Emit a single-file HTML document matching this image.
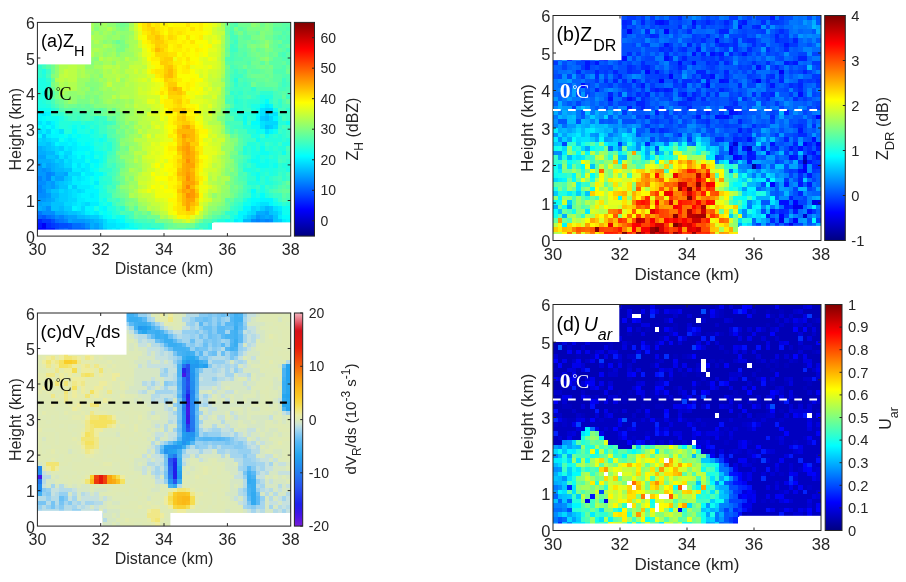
<!DOCTYPE html><html><head><meta charset="utf-8"><style>html,body{margin:0;padding:0;background:#fff;width:906px;height:582px;overflow:hidden}svg{display:block;will-change:transform}</style></head><body>
<svg width="906" height="582" viewBox="0 0 906 582" font-family="Liberation Sans, sans-serif">
<defs><filter id="soft" x="-2%" y="-2%" width="104%" height="104%"><feGaussianBlur stdDeviation="0.55"/></filter></defs>
<rect width="906" height="582" fill="#fff"/>
<g shape-rendering="crispEdges" filter="url(#soft)"><path fill="#0000f6" d="M41.8 223.3H46.1V227.6H41.8z"/>
<path fill="#0001ff" d="M37.4 227.6H46.1V231.8H37.4z"/>
<path fill="#0017ff" d="M37.4 223.3H41.8V227.6H37.4zM46.1 227.6H54.9V231.8H46.1z"/>
<path fill="#0022ff" d="M37.4 219.0H41.8V223.3H37.4z"/>
<path fill="#002cff" d="M46.1 223.3H50.5V227.6H46.1z"/>
<path fill="#0037ff" d="M41.8 219.0H50.5V223.3H41.8zM50.5 223.3H54.9V227.6H50.5z"/>
<path fill="#0042ff" d="M54.9 223.3H59.2V227.6H54.9zM54.9 227.6H59.2V231.8H54.9z"/>
<path fill="#004dff" d="M50.5 219.0H54.9V223.3H50.5zM59.2 223.3H68.0V227.6H59.2zM68.0 227.6H72.3V231.8H68.0z"/>
<path fill="#0057ff" d="M41.8 214.7H46.1V219.0H41.8zM68.0 223.3H72.3V227.6H68.0zM59.2 227.6H63.6V231.8H59.2z"/>
<path fill="#0062ff" d="M37.4 214.7H41.8V219.0H37.4zM63.6 227.6H68.0V231.8H63.6zM72.3 227.6H85.4V231.8H72.3z"/>
<path fill="#006dff" d="M46.1 214.7H50.5V219.0H46.1zM54.9 219.0H59.2V223.3H54.9zM72.3 223.3H81.1V227.6H72.3z"/>
<path fill="#0077ff" d="M37.4 210.5H41.8V214.7H37.4zM50.5 214.7H54.9V219.0H50.5zM59.2 219.0H63.6V223.3H59.2zM81.1 223.3H85.4V227.6H81.1zM85.4 227.6H89.8V231.8H85.4z"/>
<path fill="#0082ff" d="M46.1 172.0H50.5V176.3H46.1zM37.4 176.3H41.8V180.5H37.4zM46.1 176.3H50.5V180.5H46.1zM37.4 184.8H41.8V189.1H37.4zM37.4 189.1H41.8V193.4H37.4zM59.2 214.7H63.6V219.0H59.2zM63.6 219.0H68.0V223.3H63.6zM255.8 219.0H260.1V223.3H255.8zM264.5 219.0H268.9V223.3H264.5z"/>
<path fill="#008dff" d="M41.8 167.7H46.1V172.0H41.8zM50.5 172.0H54.9V176.3H50.5zM37.4 180.5H46.1V184.8H37.4zM41.8 189.1H46.1V193.4H41.8zM37.4 193.4H46.1V197.6H37.4zM46.1 206.2H50.5V210.5H46.1zM41.8 210.5H54.9V214.7H41.8zM54.9 214.7H59.2V219.0H54.9zM251.4 219.0H255.8V223.3H251.4zM260.1 219.0H264.5V223.3H260.1zM268.9 219.0H273.2V223.3H268.9zM85.4 223.3H89.8V227.6H85.4z"/>
<path fill="#0098ff" d="M37.4 163.4H41.8V167.7H37.4zM37.4 167.7H41.8V172.0H37.4zM46.1 167.7H50.5V172.0H46.1zM37.4 172.0H46.1V176.3H37.4zM41.8 176.3H46.1V180.5H41.8zM50.5 180.5H54.9V184.8H50.5zM41.8 184.8H46.1V189.1H41.8zM50.5 184.8H54.9V189.1H50.5zM46.1 193.4H50.5V197.6H46.1zM37.4 197.6H46.1V201.9H37.4zM63.6 214.7H68.0V219.0H63.6zM255.8 214.7H260.1V219.0H255.8zM72.3 219.0H85.4V223.3H72.3zM94.2 227.6H98.5V231.8H94.2z"/>
<path fill="#00a2ff" d="M37.4 154.9H46.1V159.2H37.4zM46.1 163.4H50.5V167.7H46.1zM63.6 172.0H68.0V176.3H63.6zM54.9 176.3H63.6V180.5H54.9zM46.1 180.5H50.5V184.8H46.1zM46.1 184.8H50.5V189.1H46.1zM46.1 197.6H50.5V201.9H46.1zM37.4 201.9H41.8V206.2H37.4zM41.8 206.2H46.1V210.5H41.8zM264.5 210.5H268.9V214.7H264.5zM68.0 214.7H76.7V219.0H68.0zM260.1 214.7H264.5V219.0H260.1zM268.9 214.7H273.2V219.0H268.9zM68.0 219.0H72.3V223.3H68.0zM85.4 219.0H89.8V223.3H85.4zM94.2 223.3H98.5V227.6H94.2zM89.8 227.6H94.2V231.8H89.8z"/>
<path fill="#00adff" d="M37.4 146.3H41.8V150.6H37.4zM37.4 150.6H46.1V154.9H37.4zM37.4 159.2H50.5V163.4H37.4zM50.5 163.4H54.9V167.7H50.5zM50.5 167.7H54.9V172.0H50.5zM54.9 172.0H63.6V176.3H54.9zM54.9 184.8H59.2V189.1H54.9zM46.1 189.1H50.5V193.4H46.1zM50.5 197.6H54.9V201.9H50.5zM41.8 201.9H50.5V206.2H41.8zM37.4 206.2H41.8V210.5H37.4zM54.9 210.5H63.6V214.7H54.9zM255.8 210.5H264.5V214.7H255.8zM264.5 214.7H268.9V219.0H264.5zM89.8 219.0H94.2V223.3H89.8zM89.8 223.3H94.2V227.6H89.8zM98.5 227.6H102.9V231.8H98.5z"/>
<path fill="#00b8ff" d="M41.8 146.3H46.1V150.6H41.8zM46.1 150.6H54.9V154.9H46.1zM54.9 154.9H59.2V159.2H54.9zM50.5 159.2H54.9V163.4H50.5zM41.8 163.4H46.1V167.7H41.8zM54.9 163.4H59.2V167.7H54.9zM54.9 167.7H63.6V172.0H54.9zM50.5 176.3H54.9V180.5H50.5zM54.9 180.5H59.2V184.8H54.9zM50.5 193.4H59.2V197.6H50.5zM59.2 206.2H63.6V210.5H59.2zM264.5 206.2H268.9V210.5H264.5zM63.6 210.5H68.0V214.7H63.6zM76.7 214.7H85.4V219.0H76.7zM251.4 214.7H255.8V219.0H251.4zM94.2 219.0H98.5V223.3H94.2zM242.7 219.0H251.4V223.3H242.7zM98.5 223.3H102.9V227.6H98.5z"/>
<path fill="#00c3ff" d="M264.5 116.4H268.9V120.7H264.5zM264.5 125.0H268.9V129.2H264.5zM41.8 133.5H46.1V137.8H41.8zM46.1 142.1H50.5V146.3H46.1zM46.1 146.3H50.5V150.6H46.1zM46.1 154.9H54.9V159.2H46.1zM59.2 159.2H63.6V163.4H59.2zM59.2 163.4H63.6V167.7H59.2zM63.6 167.7H72.3V172.0H63.6zM63.6 176.3H68.0V180.5H63.6zM59.2 180.5H63.6V184.8H59.2zM59.2 184.8H68.0V189.1H59.2zM50.5 189.1H59.2V193.4H50.5zM54.9 197.6H59.2V201.9H54.9zM50.5 201.9H63.6V206.2H50.5zM50.5 206.2H59.2V210.5H50.5zM268.9 206.2H273.2V210.5H268.9zM68.0 210.5H76.7V214.7H68.0zM268.9 210.5H273.2V214.7H268.9zM85.4 214.7H89.8V219.0H85.4zM273.2 214.7H277.6V219.0H273.2zM98.5 219.0H102.9V223.3H98.5zM273.2 219.0H277.6V223.3H273.2z"/>
<path fill="#00cdff" d="M264.5 112.2H268.9V116.4H264.5zM260.1 116.4H264.5V120.7H260.1zM268.9 125.0H273.2V129.2H268.9zM41.8 137.8H46.1V142.1H41.8zM37.4 142.1H46.1V146.3H37.4zM50.5 146.3H54.9V150.6H50.5zM59.2 146.3H63.6V150.6H59.2zM63.6 154.9H68.0V159.2H63.6zM54.9 159.2H59.2V163.4H54.9zM68.0 176.3H72.3V180.5H68.0zM63.6 180.5H68.0V184.8H63.6zM72.3 184.8H76.7V189.1H72.3zM63.6 189.1H68.0V193.4H63.6zM59.2 193.4H68.0V197.6H59.2zM59.2 197.6H68.0V201.9H59.2zM63.6 206.2H72.3V210.5H63.6zM260.1 206.2H264.5V210.5H260.1zM76.7 210.5H81.1V214.7H76.7zM273.2 210.5H277.6V214.7H273.2zM89.8 214.7H98.5V219.0H89.8zM247.0 214.7H251.4V219.0H247.0zM277.6 219.0H282.0V223.3H277.6zM102.9 227.6H107.3V231.8H102.9z"/>
<path fill="#00d8ff" d="M264.5 107.9H273.2V112.2H264.5zM268.9 116.4H273.2V120.7H268.9zM264.5 120.7H277.6V125.0H264.5zM37.4 129.2H41.8V133.5H37.4zM46.1 129.2H50.5V133.5H46.1zM37.4 137.8H41.8V142.1H37.4zM46.1 137.8H50.5V142.1H46.1zM50.5 142.1H54.9V146.3H50.5zM54.9 146.3H59.2V150.6H54.9zM54.9 150.6H59.2V154.9H54.9zM63.6 150.6H72.3V154.9H63.6zM68.0 159.2H72.3V163.4H68.0zM63.6 163.4H72.3V167.7H63.6zM68.0 172.0H81.1V176.3H68.0zM68.0 180.5H72.3V184.8H68.0zM59.2 189.1H63.6V193.4H59.2zM68.0 189.1H72.3V193.4H68.0zM76.7 189.1H81.1V193.4H76.7zM68.0 193.4H72.3V197.6H68.0zM68.0 197.6H76.7V201.9H68.0zM63.6 201.9H72.3V206.2H63.6zM85.4 201.9H89.8V206.2H85.4zM81.1 206.2H85.4V210.5H81.1zM251.4 206.2H255.8V210.5H251.4zM81.1 210.5H85.4V214.7H81.1zM251.4 210.5H255.8V214.7H251.4zM102.9 219.0H107.3V223.3H102.9zM102.9 223.3H107.3V227.6H102.9z"/>
<path fill="#00e3ff" d="M260.1 107.9H264.5V112.2H260.1zM260.1 112.2H264.5V116.4H260.1zM273.2 112.2H277.6V116.4H273.2zM37.4 120.7H41.8V125.0H37.4zM46.1 120.7H50.5V125.0H46.1zM260.1 120.7H264.5V125.0H260.1zM260.1 125.0H264.5V129.2H260.1zM273.2 125.0H277.6V129.2H273.2zM59.2 129.2H63.6V133.5H59.2zM264.5 129.2H268.9V133.5H264.5zM50.5 137.8H59.2V142.1H50.5zM68.0 146.3H72.3V150.6H68.0zM59.2 154.9H63.6V159.2H59.2zM68.0 154.9H72.3V159.2H68.0zM63.6 159.2H68.0V163.4H63.6zM76.7 163.4H81.1V167.7H76.7zM81.1 167.7H85.4V172.0H81.1zM76.7 176.3H81.1V180.5H76.7zM72.3 189.1H76.7V193.4H72.3zM81.1 189.1H85.4V193.4H81.1zM72.3 193.4H76.7V197.6H72.3zM72.3 201.9H76.7V206.2H72.3zM81.1 201.9H85.4V206.2H81.1zM260.1 201.9H268.9V206.2H260.1zM255.8 206.2H260.1V210.5H255.8zM273.2 206.2H277.6V210.5H273.2zM247.0 210.5H251.4V214.7H247.0zM277.6 210.5H282.0V214.7H277.6zM98.5 214.7H102.9V219.0H98.5zM242.7 214.7H247.0V219.0H242.7zM107.3 223.3H116.0V227.6H107.3zM107.3 227.6H111.6V231.8H107.3zM116.0 227.6H120.4V231.8H116.0z"/>
<path fill="#00eeff" d="M264.5 103.6H268.9V107.9H264.5zM41.8 112.2H46.1V116.4H41.8zM268.9 112.2H273.2V116.4H268.9zM41.8 125.0H46.1V129.2H41.8zM50.5 125.0H54.9V129.2H50.5zM41.8 129.2H46.1V133.5H41.8zM46.1 133.5H50.5V137.8H46.1zM68.0 137.8H72.3V142.1H68.0zM59.2 142.1H68.0V146.3H59.2zM72.3 142.1H76.7V146.3H72.3zM63.6 146.3H68.0V150.6H63.6zM72.3 146.3H76.7V150.6H72.3zM59.2 150.6H63.6V154.9H59.2zM72.3 154.9H76.7V159.2H72.3zM81.1 154.9H85.4V159.2H81.1zM72.3 159.2H85.4V163.4H72.3zM85.4 163.4H89.8V167.7H85.4zM72.3 167.7H81.1V172.0H72.3zM85.4 167.7H89.8V172.0H85.4zM85.4 172.0H94.2V176.3H85.4zM72.3 176.3H76.7V180.5H72.3zM81.1 176.3H85.4V180.5H81.1zM72.3 180.5H81.1V184.8H72.3zM94.2 180.5H98.5V184.8H94.2zM68.0 184.8H72.3V189.1H68.0zM76.7 184.8H89.8V189.1H76.7zM76.7 193.4H81.1V197.6H76.7zM89.8 193.4H94.2V197.6H89.8zM76.7 197.6H85.4V201.9H76.7zM76.7 201.9H81.1V206.2H76.7zM89.8 201.9H98.5V206.2H89.8zM255.8 201.9H260.1V206.2H255.8zM76.7 206.2H81.1V210.5H76.7zM277.6 206.2H282.0V210.5H277.6zM85.4 210.5H89.8V214.7H85.4zM94.2 210.5H98.5V214.7H94.2zM277.6 214.7H282.0V219.0H277.6zM107.3 219.0H116.0V223.3H107.3zM233.9 219.0H238.3V223.3H233.9zM282.0 219.0H286.3V223.3H282.0zM116.0 223.3H124.7V227.6H116.0zM111.6 227.6H116.0V231.8H111.6z"/>
<path fill="#00f8ff" d="M268.9 103.6H273.2V107.9H268.9zM37.4 112.2H41.8V116.4H37.4zM46.1 112.2H50.5V116.4H46.1zM37.4 116.4H41.8V120.7H37.4zM255.8 116.4H260.1V120.7H255.8zM273.2 116.4H277.6V120.7H273.2zM41.8 120.7H46.1V125.0H41.8zM50.5 120.7H54.9V125.0H50.5zM54.9 129.2H59.2V133.5H54.9zM268.9 129.2H273.2V133.5H268.9zM37.4 133.5H41.8V137.8H37.4zM50.5 133.5H59.2V137.8H50.5zM68.0 133.5H72.3V137.8H68.0zM63.6 137.8H68.0V142.1H63.6zM72.3 137.8H76.7V142.1H72.3zM54.9 142.1H59.2V146.3H54.9zM68.0 142.1H72.3V146.3H68.0zM76.7 146.3H89.8V150.6H76.7zM72.3 150.6H76.7V154.9H72.3zM89.8 150.6H94.2V154.9H89.8zM89.8 154.9H94.2V159.2H89.8zM89.8 159.2H98.5V163.4H89.8zM72.3 163.4H76.7V167.7H72.3zM81.1 163.4H85.4V167.7H81.1zM85.4 176.3H89.8V180.5H85.4zM81.1 180.5H89.8V184.8H81.1zM89.8 184.8H94.2V189.1H89.8zM85.4 189.1H98.5V193.4H85.4zM81.1 193.4H89.8V197.6H81.1zM94.2 193.4H98.5V197.6H94.2zM85.4 197.6H98.5V201.9H85.4zM260.1 197.6H273.2V201.9H260.1zM251.4 201.9H255.8V206.2H251.4zM268.9 201.9H273.2V206.2H268.9zM72.3 206.2H76.7V210.5H72.3zM85.4 206.2H94.2V210.5H85.4zM102.9 206.2H107.3V210.5H102.9zM242.7 206.2H251.4V210.5H242.7zM89.8 210.5H94.2V214.7H89.8zM238.3 210.5H247.0V214.7H238.3zM102.9 214.7H107.3V219.0H102.9zM238.3 214.7H242.7V219.0H238.3zM116.0 219.0H120.4V223.3H116.0zM238.3 219.0H242.7V223.3H238.3zM286.3 219.0H290.7V223.3H286.3zM124.7 223.3H129.1V227.6H124.7zM120.4 227.6H124.7V231.8H120.4z"/>
<path fill="#04fffb" d="M264.5 99.3H268.9V103.6H264.5zM260.1 103.6H264.5V107.9H260.1zM255.8 112.2H260.1V116.4H255.8zM41.8 116.4H46.1V120.7H41.8zM251.4 120.7H260.1V125.0H251.4zM37.4 125.0H41.8V129.2H37.4zM46.1 125.0H50.5V129.2H46.1zM50.5 129.2H54.9V133.5H50.5zM72.3 129.2H76.7V133.5H72.3zM59.2 133.5H63.6V137.8H59.2zM76.7 133.5H81.1V137.8H76.7zM76.7 142.1H81.1V146.3H76.7zM85.4 142.1H89.8V146.3H85.4zM89.8 146.3H94.2V150.6H89.8zM76.7 150.6H85.4V154.9H76.7zM76.7 154.9H81.1V159.2H76.7zM85.4 154.9H89.8V159.2H85.4zM94.2 163.4H98.5V167.7H94.2zM89.8 167.7H94.2V172.0H89.8zM81.1 172.0H85.4V176.3H81.1zM94.2 172.0H102.9V176.3H94.2zM94.2 176.3H98.5V180.5H94.2zM251.4 189.1H255.8V193.4H251.4zM260.1 193.4H264.5V197.6H260.1zM251.4 197.6H260.1V201.9H251.4zM98.5 206.2H102.9V210.5H98.5zM102.9 210.5H107.3V214.7H102.9zM107.3 214.7H111.6V219.0H107.3zM282.0 214.7H290.7V219.0H282.0zM120.4 219.0H124.7V223.3H120.4zM129.1 227.6H137.8V231.8H129.1z"/>
<path fill="#0ffff0" d="M41.8 90.8H46.1V95.1H41.8zM37.4 107.9H50.5V112.2H37.4zM255.8 107.9H260.1V112.2H255.8zM273.2 107.9H277.6V112.2H273.2zM46.1 116.4H59.2V120.7H46.1zM242.7 116.4H247.0V120.7H242.7zM54.9 120.7H59.2V125.0H54.9zM242.7 120.7H247.0V125.0H242.7zM286.3 120.7H290.7V125.0H286.3zM54.9 125.0H59.2V129.2H54.9zM72.3 125.0H76.7V129.2H72.3zM81.1 125.0H85.4V129.2H81.1zM251.4 125.0H260.1V129.2H251.4zM89.8 129.2H94.2V133.5H89.8zM255.8 129.2H264.5V133.5H255.8zM273.2 129.2H277.6V133.5H273.2zM63.6 133.5H68.0V137.8H63.6zM72.3 133.5H76.7V137.8H72.3zM81.1 133.5H89.8V137.8H81.1zM264.5 133.5H268.9V137.8H264.5zM59.2 137.8H63.6V142.1H59.2zM76.7 137.8H94.2V142.1H76.7zM98.5 137.8H102.9V142.1H98.5zM255.8 137.8H260.1V142.1H255.8zM81.1 142.1H85.4V146.3H81.1zM89.8 142.1H94.2V146.3H89.8zM260.1 146.3H264.5V150.6H260.1zM85.4 150.6H89.8V154.9H85.4zM94.2 150.6H102.9V154.9H94.2zM260.1 150.6H268.9V154.9H260.1zM282.0 150.6H286.3V154.9H282.0zM98.5 154.9H102.9V159.2H98.5zM255.8 154.9H260.1V159.2H255.8zM85.4 159.2H89.8V163.4H85.4zM98.5 159.2H102.9V163.4H98.5zM251.4 159.2H260.1V163.4H251.4zM264.5 159.2H268.9V163.4H264.5zM89.8 163.4H94.2V167.7H89.8zM255.8 163.4H268.9V167.7H255.8zM273.2 163.4H277.6V167.7H273.2zM94.2 167.7H98.5V172.0H94.2zM255.8 172.0H260.1V176.3H255.8zM89.8 176.3H94.2V180.5H89.8zM255.8 176.3H260.1V180.5H255.8zM89.8 180.5H94.2V184.8H89.8zM94.2 184.8H98.5V189.1H94.2zM251.4 193.4H255.8V197.6H251.4zM102.9 197.6H107.3V201.9H102.9zM247.0 197.6H251.4V201.9H247.0zM98.5 201.9H102.9V206.2H98.5zM107.3 201.9H111.6V206.2H107.3zM242.7 201.9H251.4V206.2H242.7zM273.2 201.9H277.6V206.2H273.2zM282.0 206.2H290.7V210.5H282.0zM98.5 210.5H102.9V214.7H98.5zM107.3 210.5H111.6V214.7H107.3zM282.0 210.5H290.7V214.7H282.0zM116.0 214.7H124.7V219.0H116.0zM233.9 214.7H238.3V219.0H233.9zM225.2 219.0H229.6V223.3H225.2zM129.1 223.3H133.5V227.6H129.1zM124.7 227.6H129.1V231.8H124.7zM150.9 227.6H155.3V231.8H150.9z"/>
<path fill="#1affe5" d="M41.8 69.4H46.1V73.7H41.8zM37.4 78.0H46.1V82.2H37.4zM37.4 82.2H46.1V86.5H37.4zM37.4 86.5H46.1V90.8H37.4zM41.8 95.1H46.1V99.3H41.8zM260.1 95.1H264.5V99.3H260.1zM37.4 99.3H41.8V103.6H37.4zM260.1 99.3H264.5V103.6H260.1zM37.4 103.6H46.1V107.9H37.4zM251.4 103.6H260.1V107.9H251.4zM242.7 112.2H247.0V116.4H242.7zM59.2 116.4H63.6V120.7H59.2zM72.3 120.7H81.1V125.0H72.3zM68.0 125.0H72.3V129.2H68.0zM76.7 125.0H81.1V129.2H76.7zM85.4 125.0H89.8V129.2H85.4zM76.7 129.2H85.4V133.5H76.7zM89.8 133.5H94.2V137.8H89.8zM102.9 133.5H107.3V137.8H102.9zM251.4 133.5H260.1V137.8H251.4zM94.2 137.8H98.5V142.1H94.2zM102.9 137.8H107.3V142.1H102.9zM98.5 142.1H102.9V146.3H98.5zM260.1 142.1H264.5V146.3H260.1zM282.0 142.1H290.7V146.3H282.0zM94.2 146.3H98.5V150.6H94.2zM251.4 146.3H255.8V150.6H251.4zM102.9 150.6H107.3V154.9H102.9zM251.4 150.6H260.1V154.9H251.4zM268.9 150.6H273.2V154.9H268.9zM94.2 154.9H98.5V159.2H94.2zM251.4 154.9H255.8V159.2H251.4zM264.5 154.9H268.9V159.2H264.5zM260.1 159.2H264.5V163.4H260.1zM268.9 159.2H277.6V163.4H268.9zM98.5 163.4H102.9V167.7H98.5zM268.9 163.4H273.2V167.7H268.9zM247.0 167.7H251.4V172.0H247.0zM260.1 167.7H264.5V172.0H260.1zM268.9 167.7H273.2V172.0H268.9zM286.3 167.7H290.7V172.0H286.3zM102.9 172.0H107.3V176.3H102.9zM251.4 172.0H255.8V176.3H251.4zM268.9 172.0H273.2V176.3H268.9zM264.5 176.3H268.9V180.5H264.5zM255.8 180.5H260.1V184.8H255.8zM264.5 180.5H268.9V184.8H264.5zM98.5 184.8H102.9V189.1H98.5zM260.1 184.8H264.5V189.1H260.1zM98.5 189.1H102.9V193.4H98.5zM260.1 189.1H264.5V193.4H260.1zM255.8 193.4H260.1V197.6H255.8zM98.5 197.6H102.9V201.9H98.5zM273.2 197.6H277.6V201.9H273.2zM102.9 201.9H107.3V206.2H102.9zM277.6 201.9H282.0V206.2H277.6zM94.2 206.2H98.5V210.5H94.2zM107.3 206.2H111.6V210.5H107.3zM111.6 214.7H116.0V219.0H111.6zM229.6 219.0H233.9V223.3H229.6zM133.5 223.3H137.8V227.6H133.5zM146.6 227.6H150.9V231.8H146.6zM207.7 227.6H212.1V231.8H207.7z"/>
<path fill="#24ffdb" d="M41.8 60.9H46.1V65.1H41.8zM41.8 73.7H46.1V78.0H41.8zM233.9 78.0H238.3V82.2H233.9zM46.1 82.2H50.5V86.5H46.1zM37.4 90.8H41.8V95.1H37.4zM37.4 95.1H41.8V99.3H37.4zM264.5 95.1H273.2V99.3H264.5zM41.8 99.3H46.1V103.6H41.8zM233.9 99.3H238.3V103.6H233.9zM46.1 103.6H50.5V107.9H46.1zM50.5 107.9H54.9V112.2H50.5zM233.9 107.9H238.3V112.2H233.9zM251.4 107.9H255.8V112.2H251.4zM238.3 112.2H242.7V116.4H238.3zM247.0 112.2H255.8V116.4H247.0zM251.4 116.4H255.8V120.7H251.4zM277.6 116.4H282.0V120.7H277.6zM59.2 120.7H72.3V125.0H59.2zM85.4 120.7H94.2V125.0H85.4zM277.6 120.7H286.3V125.0H277.6zM59.2 125.0H68.0V129.2H59.2zM94.2 125.0H98.5V129.2H94.2zM242.7 125.0H251.4V129.2H242.7zM63.6 129.2H72.3V133.5H63.6zM85.4 129.2H89.8V133.5H85.4zM94.2 129.2H98.5V133.5H94.2zM247.0 129.2H255.8V133.5H247.0zM94.2 133.5H98.5V137.8H94.2zM268.9 133.5H273.2V137.8H268.9zM277.6 133.5H282.0V137.8H277.6zM260.1 137.8H282.0V142.1H260.1zM286.3 137.8H290.7V142.1H286.3zM94.2 142.1H98.5V146.3H94.2zM107.3 142.1H111.6V146.3H107.3zM247.0 142.1H255.8V146.3H247.0zM273.2 142.1H277.6V146.3H273.2zM98.5 146.3H102.9V150.6H98.5zM107.3 146.3H111.6V150.6H107.3zM242.7 146.3H247.0V150.6H242.7zM268.9 146.3H273.2V150.6H268.9zM277.6 146.3H286.3V150.6H277.6zM242.7 150.6H247.0V154.9H242.7zM273.2 150.6H277.6V154.9H273.2zM102.9 154.9H107.3V159.2H102.9zM260.1 154.9H264.5V159.2H260.1zM273.2 154.9H277.6V159.2H273.2zM102.9 159.2H107.3V163.4H102.9zM247.0 159.2H251.4V163.4H247.0zM251.4 163.4H255.8V167.7H251.4zM282.0 163.4H290.7V167.7H282.0zM242.7 167.7H247.0V172.0H242.7zM251.4 167.7H255.8V172.0H251.4zM264.5 167.7H268.9V172.0H264.5zM273.2 167.7H277.6V172.0H273.2zM260.1 172.0H264.5V176.3H260.1zM273.2 172.0H277.6V176.3H273.2zM98.5 176.3H102.9V180.5H98.5zM98.5 180.5H107.3V184.8H98.5zM247.0 180.5H255.8V184.8H247.0zM268.9 180.5H273.2V184.8H268.9zM102.9 189.1H107.3V193.4H102.9zM98.5 193.4H107.3V197.6H98.5zM264.5 193.4H268.9V197.6H264.5zM242.7 197.6H247.0V201.9H242.7zM286.3 201.9H290.7V206.2H286.3zM111.6 206.2H116.0V210.5H111.6zM238.3 206.2H242.7V210.5H238.3zM111.6 210.5H116.0V214.7H111.6zM229.6 210.5H233.9V214.7H229.6zM229.6 214.7H233.9V219.0H229.6zM124.7 219.0H133.5V223.3H124.7zM216.5 219.0H225.2V223.3H216.5zM137.8 223.3H142.2V227.6H137.8zM207.7 223.3H212.1V227.6H207.7zM137.8 227.6H142.2V231.8H137.8zM155.3 227.6H159.7V231.8H155.3z"/>
<path fill="#2fffd0" d="M41.8 56.6H46.1V60.9H41.8zM37.4 60.9H41.8V65.1H37.4zM37.4 65.1H41.8V69.4H37.4zM37.4 69.4H41.8V73.7H37.4zM37.4 73.7H41.8V78.0H37.4zM46.1 78.0H50.5V82.2H46.1zM233.9 82.2H238.3V86.5H233.9zM251.4 86.5H255.8V90.8H251.4zM229.6 90.8H233.9V95.1H229.6zM238.3 90.8H242.7V95.1H238.3zM260.1 90.8H273.2V95.1H260.1zM46.1 95.1H50.5V99.3H46.1zM233.9 95.1H238.3V99.3H233.9zM255.8 95.1H260.1V99.3H255.8zM46.1 99.3H50.5V103.6H46.1zM238.3 99.3H242.7V103.6H238.3zM247.0 99.3H260.1V103.6H247.0zM268.9 99.3H273.2V103.6H268.9zM277.6 99.3H282.0V103.6H277.6zM233.9 103.6H242.7V107.9H233.9zM247.0 103.6H251.4V107.9H247.0zM277.6 103.6H282.0V107.9H277.6zM54.9 107.9H59.2V112.2H54.9zM229.6 107.9H233.9V112.2H229.6zM238.3 107.9H242.7V112.2H238.3zM286.3 107.9H290.7V112.2H286.3zM50.5 112.2H63.6V116.4H50.5zM63.6 116.4H68.0V120.7H63.6zM94.2 116.4H98.5V120.7H94.2zM233.9 116.4H242.7V120.7H233.9zM247.0 116.4H251.4V120.7H247.0zM81.1 120.7H85.4V125.0H81.1zM94.2 120.7H98.5V125.0H94.2zM102.9 120.7H107.3V125.0H102.9zM89.8 125.0H94.2V129.2H89.8zM277.6 125.0H282.0V129.2H277.6zM282.0 129.2H286.3V133.5H282.0zM98.5 133.5H102.9V137.8H98.5zM273.2 133.5H277.6V137.8H273.2zM282.0 133.5H286.3V137.8H282.0zM282.0 137.8H286.3V142.1H282.0zM102.9 142.1H107.3V146.3H102.9zM255.8 142.1H260.1V146.3H255.8zM268.9 142.1H273.2V146.3H268.9zM102.9 146.3H107.3V150.6H102.9zM247.0 146.3H251.4V150.6H247.0zM255.8 146.3H260.1V150.6H255.8zM264.5 146.3H268.9V150.6H264.5zM273.2 146.3H277.6V150.6H273.2zM247.0 150.6H251.4V154.9H247.0zM277.6 150.6H282.0V154.9H277.6zM268.9 154.9H273.2V159.2H268.9zM286.3 159.2H290.7V163.4H286.3zM102.9 163.4H107.3V167.7H102.9zM242.7 163.4H247.0V167.7H242.7zM277.6 163.4H282.0V167.7H277.6zM98.5 167.7H111.6V172.0H98.5zM255.8 167.7H260.1V172.0H255.8zM277.6 167.7H286.3V172.0H277.6zM247.0 172.0H251.4V176.3H247.0zM264.5 172.0H268.9V176.3H264.5zM282.0 172.0H286.3V176.3H282.0zM102.9 176.3H111.6V180.5H102.9zM247.0 176.3H255.8V180.5H247.0zM260.1 176.3H264.5V180.5H260.1zM268.9 176.3H273.2V180.5H268.9zM282.0 176.3H286.3V180.5H282.0zM107.3 180.5H111.6V184.8H107.3zM260.1 180.5H264.5V184.8H260.1zM273.2 180.5H277.6V184.8H273.2zM102.9 184.8H107.3V189.1H102.9zM251.4 184.8H255.8V189.1H251.4zM268.9 184.8H273.2V189.1H268.9zM247.0 189.1H251.4V193.4H247.0zM255.8 189.1H260.1V193.4H255.8zM264.5 189.1H268.9V193.4H264.5zM107.3 193.4H111.6V197.6H107.3zM268.9 193.4H273.2V197.6H268.9zM238.3 201.9H242.7V206.2H238.3zM282.0 201.9H286.3V206.2H282.0zM120.4 206.2H124.7V210.5H120.4zM233.9 206.2H238.3V210.5H233.9zM116.0 210.5H120.4V214.7H116.0zM225.2 210.5H229.6V214.7H225.2zM233.9 210.5H238.3V214.7H233.9zM124.7 214.7H129.1V219.0H124.7zM142.2 223.3H150.9V227.6H142.2zM142.2 227.6H146.6V231.8H142.2zM194.6 227.6H199.0V231.8H194.6zM203.4 227.6H207.7V231.8H203.4z"/>
<path fill="#3affc5" d="M41.8 35.2H46.1V39.5H41.8zM233.9 39.5H238.3V43.8H233.9zM37.4 43.8H41.8V48.0H37.4zM229.6 43.8H233.9V48.0H229.6zM229.6 48.0H238.3V52.3H229.6zM37.4 52.3H41.8V56.6H37.4zM46.1 69.4H50.5V73.7H46.1zM233.9 69.4H238.3V73.7H233.9zM233.9 73.7H242.7V78.0H233.9zM282.0 78.0H286.3V82.2H282.0zM242.7 82.2H247.0V86.5H242.7zM282.0 82.2H286.3V86.5H282.0zM233.9 86.5H242.7V90.8H233.9zM233.9 90.8H238.3V95.1H233.9zM247.0 90.8H255.8V95.1H247.0zM238.3 95.1H242.7V99.3H238.3zM251.4 95.1H255.8V99.3H251.4zM286.3 95.1H290.7V99.3H286.3zM242.7 99.3H247.0V103.6H242.7zM50.5 103.6H54.9V107.9H50.5zM242.7 103.6H247.0V107.9H242.7zM273.2 103.6H277.6V107.9H273.2zM242.7 107.9H251.4V112.2H242.7zM229.6 112.2H238.3V116.4H229.6zM277.6 112.2H290.7V116.4H277.6zM68.0 116.4H72.3V120.7H68.0zM76.7 116.4H81.1V120.7H76.7zM98.5 116.4H107.3V120.7H98.5zM286.3 116.4H290.7V120.7H286.3zM98.5 120.7H102.9V125.0H98.5zM107.3 120.7H111.6V125.0H107.3zM247.0 120.7H251.4V125.0H247.0zM98.5 125.0H107.3V129.2H98.5zM233.9 125.0H242.7V129.2H233.9zM286.3 125.0H290.7V129.2H286.3zM98.5 129.2H107.3V133.5H98.5zM277.6 129.2H282.0V133.5H277.6zM286.3 129.2H290.7V133.5H286.3zM260.1 133.5H264.5V137.8H260.1zM286.3 133.5H290.7V137.8H286.3zM107.3 137.8H111.6V142.1H107.3zM247.0 137.8H255.8V142.1H247.0zM264.5 142.1H268.9V146.3H264.5zM277.6 142.1H282.0V146.3H277.6zM107.3 150.6H111.6V154.9H107.3zM286.3 150.6H290.7V154.9H286.3zM247.0 154.9H251.4V159.2H247.0zM277.6 154.9H290.7V159.2H277.6zM242.7 159.2H247.0V163.4H242.7zM282.0 159.2H286.3V163.4H282.0zM111.6 163.4H116.0V167.7H111.6zM247.0 163.4H251.4V167.7H247.0zM107.3 172.0H111.6V176.3H107.3zM277.6 172.0H282.0V176.3H277.6zM273.2 176.3H277.6V180.5H273.2zM286.3 176.3H290.7V180.5H286.3zM277.6 180.5H282.0V184.8H277.6zM111.6 184.8H116.0V189.1H111.6zM247.0 184.8H251.4V189.1H247.0zM255.8 184.8H260.1V189.1H255.8zM264.5 184.8H268.9V189.1H264.5zM273.2 184.8H277.6V189.1H273.2zM242.7 193.4H251.4V197.6H242.7zM273.2 193.4H282.0V197.6H273.2zM107.3 197.6H111.6V201.9H107.3zM116.0 197.6H120.4V201.9H116.0zM277.6 197.6H282.0V201.9H277.6zM111.6 201.9H116.0V206.2H111.6zM233.9 201.9H238.3V206.2H233.9zM116.0 206.2H120.4V210.5H116.0zM229.6 206.2H233.9V210.5H229.6zM220.8 214.7H225.2V219.0H220.8zM133.5 219.0H137.8V223.3H133.5zM212.1 219.0H216.5V223.3H212.1zM150.9 223.3H164.0V227.6H150.9zM199.0 223.3H207.7V227.6H199.0zM159.7 227.6H164.0V231.8H159.7z"/>
<path fill="#44ffbb" d="M41.8 26.7H46.1V30.9H41.8zM41.8 30.9H46.1V35.2H41.8zM229.6 30.9H233.9V35.2H229.6zM37.4 35.2H41.8V39.5H37.4zM229.6 35.2H238.3V39.5H229.6zM233.9 43.8H238.3V48.0H233.9zM41.8 48.0H46.1V52.3H41.8zM286.3 48.0H290.7V52.3H286.3zM229.6 52.3H233.9V56.6H229.6zM282.0 52.3H286.3V56.6H282.0zM37.4 56.6H41.8V60.9H37.4zM46.1 56.6H50.5V60.9H46.1zM229.6 56.6H233.9V60.9H229.6zM41.8 65.1H46.1V69.4H41.8zM229.6 65.1H233.9V69.4H229.6zM242.7 69.4H247.0V73.7H242.7zM46.1 73.7H50.5V78.0H46.1zM229.6 73.7H233.9V78.0H229.6zM229.6 78.0H233.9V82.2H229.6zM242.7 78.0H247.0V82.2H242.7zM238.3 82.2H242.7V86.5H238.3zM247.0 82.2H251.4V86.5H247.0zM286.3 82.2H290.7V86.5H286.3zM46.1 86.5H50.5V90.8H46.1zM229.6 86.5H233.9V90.8H229.6zM242.7 86.5H251.4V90.8H242.7zM277.6 86.5H286.3V90.8H277.6zM46.1 90.8H50.5V95.1H46.1zM242.7 90.8H247.0V95.1H242.7zM255.8 90.8H260.1V95.1H255.8zM273.2 90.8H277.6V95.1H273.2zM229.6 95.1H233.9V99.3H229.6zM242.7 95.1H247.0V99.3H242.7zM273.2 95.1H282.0V99.3H273.2zM50.5 99.3H54.9V103.6H50.5zM225.2 99.3H233.9V103.6H225.2zM273.2 99.3H277.6V103.6H273.2zM282.0 103.6H290.7V107.9H282.0zM277.6 107.9H286.3V112.2H277.6zM63.6 112.2H68.0V116.4H63.6zM72.3 112.2H85.4V116.4H72.3zM72.3 116.4H76.7V120.7H72.3zM81.1 116.4H85.4V120.7H81.1zM89.8 116.4H94.2V120.7H89.8zM282.0 116.4H286.3V120.7H282.0zM111.6 120.7H116.0V125.0H111.6zM225.2 120.7H242.7V125.0H225.2zM229.6 125.0H233.9V129.2H229.6zM282.0 125.0H286.3V129.2H282.0zM229.6 129.2H233.9V133.5H229.6zM238.3 129.2H247.0V133.5H238.3zM242.7 133.5H251.4V137.8H242.7zM111.6 137.8H116.0V142.1H111.6zM242.7 137.8H247.0V142.1H242.7zM111.6 142.1H116.0V146.3H111.6zM242.7 142.1H247.0V146.3H242.7zM111.6 146.3H116.0V150.6H111.6zM286.3 146.3H290.7V150.6H286.3zM111.6 150.6H116.0V154.9H111.6zM238.3 150.6H242.7V154.9H238.3zM107.3 154.9H111.6V159.2H107.3zM242.7 154.9H247.0V159.2H242.7zM277.6 159.2H282.0V163.4H277.6zM107.3 163.4H111.6V167.7H107.3zM238.3 163.4H242.7V167.7H238.3zM111.6 167.7H116.0V172.0H111.6zM111.6 172.0H116.0V176.3H111.6zM238.3 172.0H242.7V176.3H238.3zM286.3 172.0H290.7V176.3H286.3zM242.7 176.3H247.0V180.5H242.7zM277.6 176.3H282.0V180.5H277.6zM111.6 180.5H116.0V184.8H111.6zM107.3 184.8H111.6V189.1H107.3zM242.7 184.8H247.0V189.1H242.7zM107.3 189.1H111.6V193.4H107.3zM242.7 189.1H247.0V193.4H242.7zM268.9 189.1H273.2V193.4H268.9zM111.6 197.6H116.0V201.9H111.6zM233.9 197.6H242.7V201.9H233.9zM286.3 197.6H290.7V201.9H286.3zM124.7 210.5H133.5V214.7H124.7zM129.1 214.7H133.5V219.0H129.1zM225.2 214.7H229.6V219.0H225.2zM137.8 219.0H146.6V223.3H137.8zM150.9 219.0H155.3V223.3H150.9zM185.9 227.6H194.6V231.8H185.9z"/>
<path fill="#4fffb0" d="M37.4 22.4H50.5V26.7H37.4zM233.9 22.4H238.3V26.7H233.9zM229.6 26.7H233.9V30.9H229.6zM286.3 26.7H290.7V30.9H286.3zM37.4 30.9H41.8V35.2H37.4zM282.0 30.9H286.3V35.2H282.0zM277.6 35.2H282.0V39.5H277.6zM286.3 35.2H290.7V39.5H286.3zM37.4 39.5H46.1V43.8H37.4zM229.6 39.5H233.9V43.8H229.6zM282.0 39.5H290.7V43.8H282.0zM277.6 43.8H282.0V48.0H277.6zM46.1 48.0H50.5V52.3H46.1zM41.8 52.3H46.1V56.6H41.8zM233.9 52.3H238.3V56.6H233.9zM242.7 52.3H247.0V56.6H242.7zM277.6 52.3H282.0V56.6H277.6zM225.2 56.6H229.6V60.9H225.2zM233.9 56.6H242.7V60.9H233.9zM282.0 56.6H290.7V60.9H282.0zM46.1 60.9H50.5V65.1H46.1zM229.6 60.9H233.9V65.1H229.6zM247.0 60.9H251.4V65.1H247.0zM286.3 60.9H290.7V65.1H286.3zM233.9 65.1H238.3V69.4H233.9zM282.0 65.1H286.3V69.4H282.0zM229.6 69.4H233.9V73.7H229.6zM238.3 69.4H242.7V73.7H238.3zM273.2 69.4H286.3V73.7H273.2zM242.7 73.7H247.0V78.0H242.7zM282.0 73.7H290.7V78.0H282.0zM238.3 78.0H242.7V82.2H238.3zM247.0 78.0H251.4V82.2H247.0zM286.3 78.0H290.7V82.2H286.3zM229.6 82.2H233.9V86.5H229.6zM277.6 82.2H282.0V86.5H277.6zM255.8 86.5H273.2V90.8H255.8zM286.3 86.5H290.7V90.8H286.3zM50.5 90.8H54.9V95.1H50.5zM277.6 90.8H282.0V95.1H277.6zM286.3 90.8H290.7V95.1H286.3zM225.2 95.1H229.6V99.3H225.2zM247.0 95.1H251.4V99.3H247.0zM282.0 99.3H286.3V103.6H282.0zM54.9 103.6H59.2V107.9H54.9zM229.6 103.6H233.9V107.9H229.6zM59.2 107.9H63.6V112.2H59.2zM72.3 107.9H76.7V112.2H72.3zM225.2 107.9H229.6V112.2H225.2zM68.0 112.2H72.3V116.4H68.0zM85.4 112.2H89.8V116.4H85.4zM85.4 116.4H89.8V120.7H85.4zM107.3 129.2H116.0V133.5H107.3zM107.3 133.5H111.6V137.8H107.3zM238.3 133.5H242.7V137.8H238.3zM111.6 154.9H116.0V159.2H111.6zM107.3 159.2H116.0V163.4H107.3zM238.3 159.2H242.7V163.4H238.3zM116.0 167.7H120.4V172.0H116.0zM238.3 167.7H242.7V172.0H238.3zM242.7 172.0H247.0V176.3H242.7zM111.6 176.3H116.0V180.5H111.6zM238.3 176.3H242.7V180.5H238.3zM116.0 180.5H120.4V184.8H116.0zM242.7 180.5H247.0V184.8H242.7zM282.0 180.5H286.3V184.8H282.0zM277.6 184.8H282.0V189.1H277.6zM286.3 184.8H290.7V189.1H286.3zM111.6 189.1H116.0V193.4H111.6zM273.2 189.1H277.6V193.4H273.2zM238.3 193.4H242.7V197.6H238.3zM286.3 193.4H290.7V197.6H286.3zM282.0 197.6H286.3V201.9H282.0zM116.0 201.9H120.4V206.2H116.0zM229.6 201.9H233.9V206.2H229.6zM120.4 210.5H124.7V214.7H120.4zM216.5 214.7H220.8V219.0H216.5zM146.6 219.0H150.9V223.3H146.6zM203.4 219.0H212.1V223.3H203.4zM194.6 223.3H199.0V227.6H194.6zM164.0 227.6H168.4V231.8H164.0zM199.0 227.6H203.4V231.8H199.0z"/>
<path fill="#5affa5" d="M50.5 22.4H54.9V26.7H50.5zM229.6 22.4H233.9V26.7H229.6zM282.0 22.4H290.7V26.7H282.0zM37.4 26.7H41.8V30.9H37.4zM46.1 26.7H54.9V30.9H46.1zM238.3 26.7H242.7V30.9H238.3zM273.2 26.7H286.3V30.9H273.2zM242.7 30.9H247.0V35.2H242.7zM286.3 30.9H290.7V35.2H286.3zM242.7 35.2H251.4V39.5H242.7zM273.2 35.2H277.6V39.5H273.2zM282.0 35.2H286.3V39.5H282.0zM50.5 39.5H54.9V43.8H50.5zM41.8 43.8H46.1V48.0H41.8zM242.7 43.8H247.0V48.0H242.7zM282.0 43.8H286.3V48.0H282.0zM37.4 48.0H41.8V52.3H37.4zM238.3 48.0H247.0V52.3H238.3zM282.0 48.0H286.3V52.3H282.0zM46.1 52.3H54.9V56.6H46.1zM238.3 52.3H242.7V56.6H238.3zM286.3 52.3H290.7V56.6H286.3zM242.7 56.6H251.4V60.9H242.7zM273.2 56.6H282.0V60.9H273.2zM225.2 60.9H229.6V65.1H225.2zM233.9 60.9H247.0V65.1H233.9zM260.1 60.9H264.5V65.1H260.1zM268.9 60.9H282.0V65.1H268.9zM46.1 65.1H50.5V69.4H46.1zM238.3 65.1H242.7V69.4H238.3zM247.0 65.1H251.4V69.4H247.0zM273.2 65.1H282.0V69.4H273.2zM251.4 69.4H260.1V73.7H251.4zM273.2 73.7H282.0V78.0H273.2zM251.4 78.0H255.8V82.2H251.4zM273.2 78.0H282.0V82.2H273.2zM255.8 82.2H264.5V86.5H255.8zM225.2 86.5H229.6V90.8H225.2zM273.2 86.5H277.6V90.8H273.2zM282.0 90.8H286.3V95.1H282.0zM50.5 95.1H54.9V99.3H50.5zM63.6 107.9H72.3V112.2H63.6zM76.7 107.9H85.4V112.2H76.7zM89.8 107.9H94.2V112.2H89.8zM98.5 107.9H102.9V112.2H98.5zM89.8 112.2H94.2V116.4H89.8zM225.2 112.2H229.6V116.4H225.2zM111.6 116.4H116.0V120.7H111.6zM225.2 116.4H233.9V120.7H225.2zM107.3 125.0H111.6V129.2H107.3zM225.2 125.0H229.6V129.2H225.2zM233.9 129.2H238.3V133.5H233.9zM111.6 133.5H116.0V137.8H111.6zM238.3 137.8H242.7V142.1H238.3zM116.0 142.1H120.4V146.3H116.0zM238.3 142.1H242.7V146.3H238.3zM116.0 146.3H120.4V150.6H116.0zM238.3 146.3H242.7V150.6H238.3zM238.3 154.9H242.7V159.2H238.3zM116.0 163.4H120.4V167.7H116.0zM116.0 172.0H120.4V176.3H116.0zM238.3 180.5H242.7V184.8H238.3zM282.0 184.8H286.3V189.1H282.0zM238.3 189.1H242.7V193.4H238.3zM277.6 189.1H282.0V193.4H277.6zM111.6 193.4H116.0V197.6H111.6zM282.0 193.4H286.3V197.6H282.0zM120.4 197.6H124.7V201.9H120.4zM225.2 197.6H229.6V201.9H225.2zM120.4 201.9H124.7V206.2H120.4zM124.7 206.2H129.1V210.5H124.7zM133.5 206.2H137.8V210.5H133.5zM220.8 210.5H225.2V214.7H220.8zM137.8 214.7H146.6V219.0H137.8zM212.1 214.7H216.5V219.0H212.1zM164.0 223.3H168.4V227.6H164.0zM177.2 227.6H185.9V231.8H177.2z"/>
<path fill="#65ff9a" d="M273.2 22.4H282.0V26.7H273.2zM225.2 26.7H229.6V30.9H225.2zM242.7 26.7H247.0V30.9H242.7zM46.1 30.9H54.9V35.2H46.1zM225.2 30.9H229.6V35.2H225.2zM233.9 30.9H238.3V35.2H233.9zM255.8 30.9H260.1V35.2H255.8zM273.2 30.9H282.0V35.2H273.2zM46.1 35.2H54.9V39.5H46.1zM238.3 35.2H242.7V39.5H238.3zM116.0 39.5H120.4V43.8H116.0zM238.3 39.5H247.0V43.8H238.3zM251.4 39.5H255.8V43.8H251.4zM273.2 39.5H277.6V43.8H273.2zM46.1 43.8H50.5V48.0H46.1zM238.3 43.8H242.7V48.0H238.3zM273.2 43.8H277.6V48.0H273.2zM286.3 43.8H290.7V48.0H286.3zM50.5 48.0H54.9V52.3H50.5zM225.2 48.0H229.6V52.3H225.2zM247.0 48.0H251.4V52.3H247.0zM255.8 48.0H260.1V52.3H255.8zM273.2 48.0H282.0V52.3H273.2zM247.0 52.3H251.4V56.6H247.0zM268.9 52.3H273.2V56.6H268.9zM50.5 56.6H54.9V60.9H50.5zM251.4 56.6H255.8V60.9H251.4zM282.0 60.9H286.3V65.1H282.0zM251.4 65.1H255.8V69.4H251.4zM286.3 65.1H290.7V69.4H286.3zM225.2 69.4H229.6V73.7H225.2zM247.0 69.4H251.4V73.7H247.0zM260.1 69.4H264.5V73.7H260.1zM225.2 73.7H229.6V78.0H225.2zM247.0 73.7H251.4V78.0H247.0zM264.5 73.7H268.9V78.0H264.5zM50.5 78.0H54.9V82.2H50.5zM225.2 78.0H229.6V82.2H225.2zM255.8 78.0H264.5V82.2H255.8zM268.9 78.0H273.2V82.2H268.9zM225.2 82.2H229.6V86.5H225.2zM264.5 82.2H277.6V86.5H264.5zM50.5 86.5H54.9V90.8H50.5zM225.2 90.8H229.6V95.1H225.2zM282.0 95.1H286.3V99.3H282.0zM54.9 99.3H59.2V103.6H54.9zM286.3 99.3H290.7V103.6H286.3zM59.2 103.6H63.6V107.9H59.2zM76.7 103.6H81.1V107.9H76.7zM85.4 103.6H89.8V107.9H85.4zM85.4 107.9H89.8V112.2H85.4zM94.2 107.9H98.5V112.2H94.2zM102.9 107.9H107.3V112.2H102.9zM111.6 107.9H116.0V112.2H111.6zM94.2 112.2H102.9V116.4H94.2zM107.3 116.4H111.6V120.7H107.3zM111.6 125.0H120.4V129.2H111.6zM225.2 129.2H229.6V133.5H225.2zM116.0 133.5H120.4V137.8H116.0zM229.6 133.5H233.9V137.8H229.6zM116.0 137.8H120.4V142.1H116.0zM233.9 146.3H238.3V150.6H233.9zM116.0 154.9H120.4V159.2H116.0zM233.9 154.9H238.3V159.2H233.9zM116.0 159.2H120.4V163.4H116.0zM233.9 159.2H238.3V163.4H233.9zM120.4 163.4H124.7V167.7H120.4zM116.0 176.3H120.4V180.5H116.0zM233.9 176.3H238.3V180.5H233.9zM233.9 180.5H238.3V184.8H233.9zM286.3 180.5H290.7V184.8H286.3zM238.3 184.8H242.7V189.1H238.3zM116.0 189.1H120.4V193.4H116.0zM282.0 189.1H290.7V193.4H282.0zM116.0 193.4H120.4V197.6H116.0zM233.9 193.4H238.3V197.6H233.9zM229.6 197.6H233.9V201.9H229.6zM225.2 201.9H229.6V206.2H225.2zM225.2 206.2H229.6V210.5H225.2zM137.8 210.5H142.2V214.7H137.8zM146.6 210.5H150.9V214.7H146.6zM133.5 214.7H137.8V219.0H133.5zM168.4 223.3H172.8V227.6H168.4zM172.8 227.6H177.2V231.8H172.8z"/>
<path fill="#6fff90" d="M54.9 22.4H59.2V26.7H54.9zM120.4 22.4H124.7V26.7H120.4zM225.2 22.4H229.6V26.7H225.2zM238.3 22.4H251.4V26.7H238.3zM260.1 22.4H264.5V26.7H260.1zM54.9 26.7H63.6V30.9H54.9zM247.0 30.9H255.8V35.2H247.0zM225.2 35.2H229.6V39.5H225.2zM264.5 35.2H273.2V39.5H264.5zM46.1 39.5H50.5V43.8H46.1zM225.2 39.5H229.6V43.8H225.2zM247.0 39.5H251.4V43.8H247.0zM255.8 39.5H260.1V43.8H255.8zM277.6 39.5H282.0V43.8H277.6zM225.2 43.8H229.6V48.0H225.2zM268.9 43.8H273.2V48.0H268.9zM260.1 48.0H264.5V52.3H260.1zM225.2 52.3H229.6V56.6H225.2zM251.4 52.3H255.8V56.6H251.4zM260.1 52.3H264.5V56.6H260.1zM273.2 52.3H277.6V56.6H273.2zM255.8 56.6H260.1V60.9H255.8zM268.9 56.6H273.2V60.9H268.9zM50.5 60.9H54.9V65.1H50.5zM251.4 60.9H260.1V65.1H251.4zM50.5 65.1H54.9V69.4H50.5zM225.2 65.1H229.6V69.4H225.2zM242.7 65.1H247.0V69.4H242.7zM255.8 65.1H260.1V69.4H255.8zM264.5 65.1H268.9V69.4H264.5zM50.5 69.4H54.9V73.7H50.5zM264.5 69.4H273.2V73.7H264.5zM286.3 69.4H290.7V73.7H286.3zM251.4 73.7H264.5V78.0H251.4zM268.9 73.7H273.2V78.0H268.9zM264.5 78.0H268.9V82.2H264.5zM251.4 82.2H255.8V86.5H251.4zM54.9 90.8H59.2V95.1H54.9zM59.2 99.3H63.6V103.6H59.2zM68.0 103.6H76.7V107.9H68.0zM81.1 103.6H85.4V107.9H81.1zM89.8 103.6H94.2V107.9H89.8zM225.2 103.6H229.6V107.9H225.2zM102.9 112.2H107.3V116.4H102.9zM116.0 112.2H120.4V116.4H116.0zM116.0 120.7H120.4V125.0H116.0zM120.4 129.2H124.7V133.5H120.4zM120.4 133.5H124.7V137.8H120.4zM233.9 133.5H238.3V137.8H233.9zM124.7 146.3H129.1V150.6H124.7zM229.6 154.9H233.9V159.2H229.6zM120.4 159.2H124.7V163.4H120.4zM233.9 163.4H238.3V167.7H233.9zM233.9 167.7H238.3V172.0H233.9zM229.6 172.0H233.9V176.3H229.6zM120.4 176.3H124.7V180.5H120.4zM120.4 180.5H124.7V184.8H120.4zM116.0 184.8H120.4V189.1H116.0zM229.6 184.8H233.9V189.1H229.6zM229.6 189.1H238.3V193.4H229.6zM120.4 193.4H124.7V197.6H120.4zM124.7 197.6H129.1V201.9H124.7zM220.8 206.2H225.2V210.5H220.8zM133.5 210.5H137.8V214.7H133.5zM212.1 210.5H220.8V214.7H212.1zM146.6 214.7H159.7V219.0H146.6zM207.7 214.7H212.1V219.0H207.7zM199.0 219.0H203.4V223.3H199.0zM172.8 223.3H177.2V227.6H172.8zM185.9 223.3H194.6V227.6H185.9zM168.4 227.6H172.8V231.8H168.4z"/>
<path fill="#7aff85" d="M59.2 22.4H63.6V26.7H59.2zM116.0 22.4H120.4V26.7H116.0zM124.7 22.4H129.1V26.7H124.7zM268.9 22.4H273.2V26.7H268.9zM120.4 26.7H124.7V30.9H120.4zM233.9 26.7H238.3V30.9H233.9zM247.0 26.7H264.5V30.9H247.0zM268.9 26.7H273.2V30.9H268.9zM54.9 30.9H63.6V35.2H54.9zM238.3 30.9H242.7V35.2H238.3zM264.5 30.9H273.2V35.2H264.5zM54.9 35.2H59.2V39.5H54.9zM251.4 35.2H260.1V39.5H251.4zM111.6 39.5H116.0V43.8H111.6zM120.4 39.5H124.7V43.8H120.4zM260.1 39.5H264.5V43.8H260.1zM268.9 39.5H273.2V43.8H268.9zM50.5 43.8H54.9V48.0H50.5zM120.4 43.8H124.7V48.0H120.4zM247.0 43.8H251.4V48.0H247.0zM255.8 43.8H260.1V48.0H255.8zM116.0 48.0H124.7V52.3H116.0zM251.4 48.0H255.8V52.3H251.4zM268.9 48.0H273.2V52.3H268.9zM255.8 52.3H260.1V56.6H255.8zM264.5 52.3H268.9V56.6H264.5zM264.5 60.9H268.9V65.1H264.5zM260.1 65.1H264.5V69.4H260.1zM268.9 65.1H273.2V69.4H268.9zM50.5 82.2H54.9V86.5H50.5zM89.8 86.5H94.2V90.8H89.8zM54.9 95.1H59.2V99.3H54.9zM85.4 95.1H89.8V99.3H85.4zM94.2 95.1H98.5V99.3H94.2zM76.7 99.3H89.8V103.6H76.7zM94.2 99.3H98.5V103.6H94.2zM63.6 103.6H68.0V107.9H63.6zM107.3 112.2H116.0V116.4H107.3zM116.0 116.4H120.4V120.7H116.0zM220.8 116.4H225.2V120.7H220.8zM120.4 120.7H124.7V125.0H120.4zM124.7 125.0H129.1V129.2H124.7zM116.0 129.2H120.4V133.5H116.0zM233.9 142.1H238.3V146.3H233.9zM120.4 146.3H124.7V150.6H120.4zM116.0 150.6H124.7V154.9H116.0zM229.6 150.6H238.3V154.9H229.6zM120.4 167.7H124.7V172.0H120.4zM233.9 172.0H238.3V176.3H233.9zM229.6 176.3H233.9V180.5H229.6zM229.6 180.5H233.9V184.8H229.6zM233.9 184.8H238.3V189.1H233.9zM120.4 189.1H124.7V193.4H120.4zM124.7 193.4H129.1V197.6H124.7zM229.6 193.4H233.9V197.6H229.6zM129.1 197.6H133.5V201.9H129.1zM124.7 201.9H129.1V206.2H124.7zM133.5 201.9H137.8V206.2H133.5zM129.1 206.2H133.5V210.5H129.1zM216.5 206.2H220.8V210.5H216.5zM142.2 210.5H146.6V214.7H142.2zM155.3 219.0H168.4V223.3H155.3zM177.2 223.3H185.9V227.6H177.2z"/>
<path fill="#85ff7a" d="M255.8 22.4H260.1V26.7H255.8zM264.5 22.4H268.9V26.7H264.5zM63.6 26.7H68.0V30.9H63.6zM94.2 26.7H98.5V30.9H94.2zM116.0 26.7H120.4V30.9H116.0zM124.7 26.7H129.1V30.9H124.7zM264.5 26.7H268.9V30.9H264.5zM68.0 30.9H72.3V35.2H68.0zM111.6 30.9H116.0V35.2H111.6zM260.1 30.9H264.5V35.2H260.1zM59.2 35.2H63.6V39.5H59.2zM120.4 35.2H124.7V39.5H120.4zM260.1 35.2H264.5V39.5H260.1zM54.9 39.5H59.2V43.8H54.9zM102.9 39.5H107.3V43.8H102.9zM54.9 43.8H59.2V48.0H54.9zM116.0 43.8H120.4V48.0H116.0zM124.7 43.8H129.1V48.0H124.7zM251.4 43.8H255.8V48.0H251.4zM260.1 43.8H264.5V48.0H260.1zM54.9 48.0H59.2V52.3H54.9zM264.5 48.0H268.9V52.3H264.5zM116.0 52.3H120.4V56.6H116.0zM54.9 56.6H59.2V60.9H54.9zM94.2 56.6H98.5V60.9H94.2zM260.1 56.6H264.5V60.9H260.1zM89.8 60.9H94.2V65.1H89.8zM50.5 73.7H54.9V78.0H50.5zM98.5 73.7H102.9V78.0H98.5zM89.8 78.0H94.2V82.2H89.8zM85.4 82.2H98.5V86.5H85.4zM94.2 86.5H98.5V90.8H94.2zM85.4 90.8H94.2V95.1H85.4zM98.5 90.8H102.9V95.1H98.5zM76.7 95.1H81.1V99.3H76.7zM89.8 95.1H94.2V99.3H89.8zM63.6 99.3H68.0V103.6H63.6zM98.5 99.3H102.9V103.6H98.5zM94.2 103.6H107.3V107.9H94.2zM107.3 107.9H111.6V112.2H107.3zM116.0 107.9H120.4V112.2H116.0zM220.8 107.9H225.2V112.2H220.8zM120.4 112.2H124.7V116.4H120.4zM120.4 116.4H124.7V120.7H120.4zM216.5 116.4H220.8V120.7H216.5zM129.1 120.7H133.5V125.0H129.1zM220.8 120.7H225.2V125.0H220.8zM120.4 125.0H124.7V129.2H120.4zM129.1 129.2H133.5V133.5H129.1zM124.7 133.5H129.1V137.8H124.7zM120.4 137.8H124.7V142.1H120.4zM229.6 137.8H238.3V142.1H229.6zM124.7 142.1H129.1V146.3H124.7zM124.7 150.6H129.1V154.9H124.7zM124.7 163.4H129.1V167.7H124.7zM229.6 163.4H233.9V167.7H229.6zM124.7 167.7H129.1V172.0H124.7zM225.2 167.7H229.6V172.0H225.2zM120.4 172.0H124.7V176.3H120.4zM225.2 172.0H229.6V176.3H225.2zM129.1 176.3H133.5V180.5H129.1zM124.7 180.5H129.1V184.8H124.7zM225.2 180.5H229.6V184.8H225.2zM124.7 189.1H129.1V193.4H124.7zM133.5 197.6H137.8V201.9H133.5zM129.1 201.9H133.5V206.2H129.1zM220.8 201.9H225.2V206.2H220.8zM207.7 210.5H212.1V214.7H207.7zM203.4 214.7H207.7V219.0H203.4zM168.4 219.0H172.8V223.3H168.4z"/>
<path fill="#90ff6f" d="M63.6 22.4H68.0V26.7H63.6zM94.2 22.4H98.5V26.7H94.2zM107.3 22.4H116.0V26.7H107.3zM251.4 22.4H255.8V26.7H251.4zM63.6 30.9H68.0V35.2H63.6zM81.1 30.9H85.4V35.2H81.1zM89.8 30.9H94.2V35.2H89.8zM98.5 30.9H102.9V35.2H98.5zM120.4 30.9H129.1V35.2H120.4zM63.6 35.2H68.0V39.5H63.6zM107.3 35.2H111.6V39.5H107.3zM124.7 35.2H129.1V39.5H124.7zM59.2 39.5H63.6V43.8H59.2zM68.0 39.5H72.3V43.8H68.0zM107.3 39.5H111.6V43.8H107.3zM264.5 39.5H268.9V43.8H264.5zM59.2 43.8H63.6V48.0H59.2zM111.6 43.8H116.0V48.0H111.6zM59.2 48.0H63.6V52.3H59.2zM107.3 48.0H111.6V52.3H107.3zM102.9 52.3H107.3V56.6H102.9zM89.8 56.6H94.2V60.9H89.8zM264.5 56.6H268.9V60.9H264.5zM98.5 60.9H102.9V65.1H98.5zM111.6 60.9H116.0V65.1H111.6zM54.9 65.1H59.2V69.4H54.9zM85.4 65.1H94.2V69.4H85.4zM54.9 69.4H59.2V73.7H54.9zM94.2 69.4H98.5V73.7H94.2zM54.9 73.7H59.2V78.0H54.9zM89.8 73.7H94.2V78.0H89.8zM94.2 78.0H98.5V82.2H94.2zM220.8 78.0H225.2V82.2H220.8zM54.9 82.2H59.2V86.5H54.9zM98.5 82.2H102.9V86.5H98.5zM54.9 86.5H59.2V90.8H54.9zM81.1 86.5H85.4V90.8H81.1zM68.0 90.8H76.7V95.1H68.0zM94.2 90.8H98.5V95.1H94.2zM59.2 95.1H76.7V99.3H59.2zM81.1 95.1H85.4V99.3H81.1zM98.5 95.1H102.9V99.3H98.5zM72.3 99.3H76.7V103.6H72.3zM89.8 99.3H94.2V103.6H89.8zM116.0 99.3H120.4V103.6H116.0zM107.3 103.6H116.0V107.9H107.3zM220.8 112.2H225.2V116.4H220.8zM129.1 125.0H133.5V129.2H129.1zM124.7 129.2H129.1V133.5H124.7zM124.7 137.8H129.1V142.1H124.7zM120.4 142.1H124.7V146.3H120.4zM129.1 142.1H133.5V146.3H129.1zM229.6 142.1H233.9V146.3H229.6zM229.6 146.3H233.9V150.6H229.6zM120.4 154.9H133.5V159.2H120.4zM124.7 159.2H129.1V163.4H124.7zM229.6 159.2H233.9V163.4H229.6zM129.1 163.4H133.5V167.7H129.1zM225.2 163.4H229.6V167.7H225.2zM229.6 167.7H233.9V172.0H229.6zM124.7 172.0H129.1V176.3H124.7zM120.4 184.8H129.1V189.1H120.4zM225.2 189.1H229.6V193.4H225.2zM212.1 193.4H216.5V197.6H212.1zM220.8 193.4H229.6V197.6H220.8zM220.8 197.6H225.2V201.9H220.8zM216.5 201.9H220.8V206.2H216.5zM137.8 206.2H146.6V210.5H137.8zM207.7 206.2H216.5V210.5H207.7zM194.6 219.0H199.0V223.3H194.6z"/>
<path fill="#9aff65" d="M98.5 22.4H102.9V26.7H98.5zM68.0 26.7H72.3V30.9H68.0zM81.1 26.7H89.8V30.9H81.1zM98.5 26.7H107.3V30.9H98.5zM111.6 26.7H116.0V30.9H111.6zM72.3 30.9H76.7V35.2H72.3zM107.3 30.9H111.6V35.2H107.3zM116.0 30.9H120.4V35.2H116.0zM129.1 30.9H133.5V35.2H129.1zM68.0 35.2H72.3V39.5H68.0zM102.9 35.2H107.3V39.5H102.9zM111.6 35.2H120.4V39.5H111.6zM63.6 39.5H68.0V43.8H63.6zM89.8 39.5H94.2V43.8H89.8zM98.5 39.5H102.9V43.8H98.5zM124.7 39.5H129.1V43.8H124.7zM63.6 43.8H68.0V48.0H63.6zM89.8 43.8H102.9V48.0H89.8zM264.5 43.8H268.9V48.0H264.5zM102.9 48.0H107.3V52.3H102.9zM111.6 48.0H116.0V52.3H111.6zM124.7 48.0H129.1V52.3H124.7zM54.9 52.3H59.2V56.6H54.9zM94.2 52.3H98.5V56.6H94.2zM107.3 52.3H111.6V56.6H107.3zM120.4 52.3H133.5V56.6H120.4zM85.4 56.6H89.8V60.9H85.4zM120.4 56.6H124.7V60.9H120.4zM54.9 60.9H59.2V65.1H54.9zM85.4 60.9H89.8V65.1H85.4zM94.2 60.9H98.5V65.1H94.2zM85.4 69.4H94.2V73.7H85.4zM98.5 69.4H102.9V73.7H98.5zM94.2 73.7H98.5V78.0H94.2zM76.7 78.0H89.8V82.2H76.7zM102.9 78.0H107.3V82.2H102.9zM120.4 78.0H124.7V82.2H120.4zM76.7 82.2H85.4V86.5H76.7zM76.7 86.5H81.1V90.8H76.7zM85.4 86.5H89.8V90.8H85.4zM98.5 86.5H102.9V90.8H98.5zM107.3 86.5H111.6V90.8H107.3zM220.8 86.5H225.2V90.8H220.8zM63.6 90.8H68.0V95.1H63.6zM76.7 90.8H85.4V95.1H76.7zM102.9 90.8H116.0V95.1H102.9zM220.8 90.8H225.2V95.1H220.8zM102.9 95.1H111.6V99.3H102.9zM220.8 95.1H225.2V99.3H220.8zM68.0 99.3H72.3V103.6H68.0zM102.9 99.3H107.3V103.6H102.9zM111.6 99.3H116.0V103.6H111.6zM120.4 99.3H124.7V103.6H120.4zM129.1 99.3H133.5V103.6H129.1zM116.0 103.6H124.7V107.9H116.0zM220.8 103.6H225.2V107.9H220.8zM120.4 107.9H133.5V112.2H120.4zM124.7 112.2H133.5V116.4H124.7zM216.5 112.2H220.8V116.4H216.5zM124.7 116.4H129.1V120.7H124.7zM124.7 120.7H129.1V125.0H124.7zM133.5 120.7H137.8V125.0H133.5zM133.5 129.2H137.8V133.5H133.5zM220.8 129.2H225.2V133.5H220.8zM129.1 133.5H133.5V137.8H129.1zM137.8 133.5H142.2V137.8H137.8zM225.2 133.5H229.6V137.8H225.2zM129.1 137.8H133.5V142.1H129.1zM225.2 137.8H229.6V142.1H225.2zM133.5 142.1H137.8V146.3H133.5zM225.2 142.1H229.6V146.3H225.2zM133.5 146.3H137.8V150.6H133.5zM220.8 146.3H229.6V150.6H220.8zM129.1 150.6H133.5V154.9H129.1zM225.2 150.6H229.6V154.9H225.2zM225.2 154.9H229.6V159.2H225.2zM129.1 159.2H133.5V163.4H129.1zM225.2 159.2H229.6V163.4H225.2zM133.5 163.4H137.8V167.7H133.5zM137.8 167.7H142.2V172.0H137.8zM129.1 172.0H133.5V176.3H129.1zM220.8 172.0H225.2V176.3H220.8zM124.7 176.3H129.1V180.5H124.7zM129.1 180.5H137.8V184.8H129.1zM133.5 184.8H137.8V189.1H133.5zM220.8 184.8H229.6V189.1H220.8zM129.1 189.1H133.5V193.4H129.1zM220.8 189.1H225.2V193.4H220.8zM137.8 201.9H142.2V206.2H137.8zM212.1 201.9H216.5V206.2H212.1zM150.9 210.5H155.3V214.7H150.9z"/>
<path fill="#a5ff5a" d="M72.3 22.4H81.1V26.7H72.3zM85.4 22.4H94.2V26.7H85.4zM102.9 22.4H107.3V26.7H102.9zM129.1 22.4H133.5V26.7H129.1zM220.8 22.4H225.2V26.7H220.8zM89.8 26.7H94.2V30.9H89.8zM94.2 30.9H98.5V35.2H94.2zM102.9 30.9H107.3V35.2H102.9zM81.1 35.2H89.8V39.5H81.1zM94.2 35.2H102.9V39.5H94.2zM129.1 35.2H133.5V39.5H129.1zM72.3 39.5H76.7V43.8H72.3zM81.1 39.5H89.8V43.8H81.1zM129.1 39.5H137.8V43.8H129.1zM68.0 43.8H72.3V48.0H68.0zM107.3 43.8H111.6V48.0H107.3zM129.1 43.8H133.5V48.0H129.1zM220.8 43.8H225.2V48.0H220.8zM63.6 48.0H72.3V52.3H63.6zM85.4 48.0H94.2V52.3H85.4zM98.5 48.0H102.9V52.3H98.5zM129.1 48.0H133.5V52.3H129.1zM59.2 52.3H63.6V56.6H59.2zM68.0 52.3H72.3V56.6H68.0zM76.7 52.3H81.1V56.6H76.7zM85.4 52.3H89.8V56.6H85.4zM98.5 52.3H102.9V56.6H98.5zM111.6 52.3H116.0V56.6H111.6zM220.8 52.3H225.2V56.6H220.8zM63.6 56.6H72.3V60.9H63.6zM76.7 56.6H81.1V60.9H76.7zM102.9 56.6H107.3V60.9H102.9zM111.6 56.6H120.4V60.9H111.6zM129.1 56.6H137.8V60.9H129.1zM220.8 56.6H225.2V60.9H220.8zM68.0 60.9H72.3V65.1H68.0zM76.7 60.9H85.4V65.1H76.7zM102.9 60.9H111.6V65.1H102.9zM120.4 60.9H129.1V65.1H120.4zM94.2 65.1H102.9V69.4H94.2zM120.4 65.1H129.1V69.4H120.4zM76.7 69.4H81.1V73.7H76.7zM107.3 69.4H111.6V73.7H107.3zM120.4 69.4H124.7V73.7H120.4zM76.7 73.7H81.1V78.0H76.7zM85.4 73.7H89.8V78.0H85.4zM124.7 73.7H129.1V78.0H124.7zM220.8 73.7H225.2V78.0H220.8zM98.5 78.0H102.9V82.2H98.5zM111.6 78.0H116.0V82.2H111.6zM63.6 82.2H68.0V86.5H63.6zM102.9 82.2H107.3V86.5H102.9zM111.6 82.2H124.7V86.5H111.6zM59.2 86.5H63.6V90.8H59.2zM102.9 86.5H107.3V90.8H102.9zM116.0 86.5H120.4V90.8H116.0zM116.0 90.8H120.4V95.1H116.0zM116.0 95.1H120.4V99.3H116.0zM107.3 99.3H111.6V103.6H107.3zM124.7 99.3H129.1V103.6H124.7zM220.8 99.3H225.2V103.6H220.8zM129.1 103.6H133.5V107.9H129.1zM129.1 116.4H137.8V120.7H129.1zM137.8 125.0H142.2V129.2H137.8zM220.8 125.0H225.2V129.2H220.8zM133.5 133.5H137.8V137.8H133.5zM129.1 146.3H133.5V150.6H129.1zM137.8 146.3H142.2V150.6H137.8zM137.8 154.9H142.2V159.2H137.8zM220.8 154.9H225.2V159.2H220.8zM137.8 159.2H142.2V163.4H137.8zM137.8 163.4H142.2V167.7H137.8zM133.5 167.7H137.8V172.0H133.5zM220.8 167.7H225.2V172.0H220.8zM133.5 172.0H137.8V176.3H133.5zM216.5 176.3H220.8V180.5H216.5zM216.5 180.5H220.8V184.8H216.5zM129.1 184.8H133.5V189.1H129.1zM133.5 193.4H137.8V197.6H133.5zM216.5 193.4H220.8V197.6H216.5zM212.1 197.6H220.8V201.9H212.1zM142.2 201.9H146.6V206.2H142.2zM207.7 201.9H212.1V206.2H207.7zM155.3 210.5H159.7V214.7H155.3zM203.4 210.5H207.7V214.7H203.4zM164.0 214.7H168.4V219.0H164.0z"/>
<path fill="#b0ff4f" d="M68.0 22.4H72.3V26.7H68.0zM81.1 22.4H85.4V26.7H81.1zM72.3 26.7H76.7V30.9H72.3zM107.3 26.7H111.6V30.9H107.3zM129.1 26.7H133.5V30.9H129.1zM220.8 26.7H225.2V30.9H220.8zM76.7 30.9H81.1V35.2H76.7zM85.4 30.9H89.8V35.2H85.4zM72.3 35.2H81.1V39.5H72.3zM89.8 35.2H94.2V39.5H89.8zM220.8 35.2H225.2V39.5H220.8zM94.2 39.5H98.5V43.8H94.2zM220.8 39.5H225.2V43.8H220.8zM72.3 43.8H81.1V48.0H72.3zM85.4 43.8H89.8V48.0H85.4zM102.9 43.8H107.3V48.0H102.9zM133.5 43.8H137.8V48.0H133.5zM72.3 48.0H85.4V52.3H72.3zM94.2 48.0H98.5V52.3H94.2zM133.5 48.0H142.2V52.3H133.5zM220.8 48.0H225.2V52.3H220.8zM63.6 52.3H68.0V56.6H63.6zM72.3 52.3H76.7V56.6H72.3zM89.8 52.3H94.2V56.6H89.8zM133.5 52.3H137.8V56.6H133.5zM59.2 56.6H63.6V60.9H59.2zM81.1 56.6H85.4V60.9H81.1zM107.3 56.6H111.6V60.9H107.3zM59.2 60.9H68.0V65.1H59.2zM72.3 60.9H76.7V65.1H72.3zM116.0 60.9H120.4V65.1H116.0zM129.1 60.9H133.5V65.1H129.1zM220.8 60.9H225.2V65.1H220.8zM59.2 65.1H68.0V69.4H59.2zM76.7 65.1H85.4V69.4H76.7zM111.6 65.1H116.0V69.4H111.6zM220.8 65.1H225.2V69.4H220.8zM59.2 69.4H63.6V73.7H59.2zM81.1 69.4H85.4V73.7H81.1zM102.9 69.4H107.3V73.7H102.9zM116.0 69.4H120.4V73.7H116.0zM220.8 69.4H225.2V73.7H220.8zM81.1 73.7H85.4V78.0H81.1zM102.9 73.7H116.0V78.0H102.9zM120.4 73.7H124.7V78.0H120.4zM54.9 78.0H59.2V82.2H54.9zM63.6 78.0H68.0V82.2H63.6zM107.3 78.0H111.6V82.2H107.3zM124.7 78.0H129.1V82.2H124.7zM59.2 82.2H63.6V86.5H59.2zM68.0 82.2H76.7V86.5H68.0zM129.1 82.2H133.5V86.5H129.1zM220.8 82.2H225.2V86.5H220.8zM63.6 86.5H68.0V90.8H63.6zM72.3 86.5H76.7V90.8H72.3zM111.6 86.5H116.0V90.8H111.6zM120.4 86.5H133.5V90.8H120.4zM59.2 90.8H63.6V95.1H59.2zM120.4 90.8H133.5V95.1H120.4zM129.1 95.1H133.5V99.3H129.1zM216.5 95.1H220.8V99.3H216.5zM216.5 99.3H220.8V103.6H216.5zM124.7 103.6H129.1V107.9H124.7zM216.5 103.6H220.8V107.9H216.5zM133.5 107.9H137.8V112.2H133.5zM146.6 107.9H150.9V112.2H146.6zM212.1 107.9H220.8V112.2H212.1zM133.5 112.2H146.6V116.4H133.5zM212.1 112.2H216.5V116.4H212.1zM137.8 116.4H142.2V120.7H137.8zM212.1 116.4H216.5V120.7H212.1zM207.7 120.7H220.8V125.0H207.7zM133.5 125.0H137.8V129.2H133.5zM146.6 125.0H150.9V129.2H146.6zM142.2 129.2H146.6V133.5H142.2zM137.8 142.1H142.2V146.3H137.8zM220.8 142.1H225.2V146.3H220.8zM142.2 150.6H146.6V154.9H142.2zM133.5 154.9H137.8V159.2H133.5zM220.8 159.2H225.2V163.4H220.8zM220.8 163.4H225.2V167.7H220.8zM129.1 167.7H133.5V172.0H129.1zM133.5 176.3H137.8V180.5H133.5zM207.7 176.3H212.1V180.5H207.7zM220.8 176.3H229.6V180.5H220.8zM212.1 180.5H216.5V184.8H212.1zM220.8 180.5H225.2V184.8H220.8zM216.5 184.8H220.8V189.1H216.5zM133.5 189.1H137.8V193.4H133.5zM216.5 189.1H220.8V193.4H216.5zM129.1 193.4H133.5V197.6H129.1zM207.7 193.4H212.1V197.6H207.7zM137.8 197.6H146.6V201.9H137.8zM146.6 201.9H150.9V206.2H146.6zM150.9 206.2H155.3V210.5H150.9zM203.4 206.2H207.7V210.5H203.4zM159.7 214.7H164.0V219.0H159.7zM172.8 219.0H181.5V223.3H172.8z"/>
<path fill="#bbff44" d="M76.7 26.7H81.1V30.9H76.7zM216.5 26.7H220.8V30.9H216.5zM76.7 39.5H81.1V43.8H76.7zM81.1 43.8H85.4V48.0H81.1zM72.3 56.6H76.7V60.9H72.3zM98.5 56.6H102.9V60.9H98.5zM124.7 56.6H129.1V60.9H124.7zM137.8 56.6H142.2V60.9H137.8zM133.5 60.9H142.2V65.1H133.5zM68.0 65.1H76.7V69.4H68.0zM102.9 65.1H111.6V69.4H102.9zM116.0 65.1H120.4V69.4H116.0zM142.2 65.1H146.6V69.4H142.2zM68.0 69.4H76.7V73.7H68.0zM111.6 69.4H116.0V73.7H111.6zM124.7 69.4H133.5V73.7H124.7zM137.8 69.4H142.2V73.7H137.8zM59.2 73.7H63.6V78.0H59.2zM68.0 73.7H76.7V78.0H68.0zM116.0 73.7H120.4V78.0H116.0zM129.1 73.7H137.8V78.0H129.1zM59.2 78.0H63.6V82.2H59.2zM68.0 78.0H76.7V82.2H68.0zM129.1 78.0H133.5V82.2H129.1zM216.5 78.0H220.8V82.2H216.5zM124.7 82.2H129.1V86.5H124.7zM133.5 82.2H137.8V86.5H133.5zM212.1 82.2H220.8V86.5H212.1zM68.0 86.5H72.3V90.8H68.0zM133.5 86.5H137.8V90.8H133.5zM133.5 90.8H137.8V95.1H133.5zM111.6 95.1H116.0V99.3H111.6zM120.4 95.1H129.1V99.3H120.4zM133.5 95.1H137.8V99.3H133.5zM133.5 99.3H142.2V103.6H133.5zM137.8 103.6H146.6V107.9H137.8zM137.8 107.9H146.6V112.2H137.8zM142.2 116.4H146.6V120.7H142.2zM137.8 120.7H150.9V125.0H137.8zM142.2 125.0H146.6V129.2H142.2zM216.5 125.0H220.8V129.2H216.5zM216.5 129.2H220.8V133.5H216.5zM150.9 133.5H155.3V137.8H150.9zM216.5 133.5H225.2V137.8H216.5zM133.5 137.8H146.6V142.1H133.5zM133.5 150.6H142.2V154.9H133.5zM216.5 154.9H220.8V159.2H216.5zM133.5 159.2H137.8V163.4H133.5zM142.2 163.4H146.6V167.7H142.2zM212.1 163.4H216.5V167.7H212.1zM142.2 167.7H146.6V172.0H142.2zM216.5 167.7H220.8V172.0H216.5zM137.8 172.0H142.2V176.3H137.8zM207.7 172.0H212.1V176.3H207.7zM216.5 172.0H220.8V176.3H216.5zM207.7 180.5H212.1V184.8H207.7zM137.8 184.8H142.2V189.1H137.8zM207.7 189.1H212.1V193.4H207.7zM137.8 193.4H142.2V197.6H137.8zM146.6 206.2H150.9V210.5H146.6zM155.3 206.2H159.7V210.5H155.3zM159.7 210.5H164.0V214.7H159.7zM199.0 214.7H203.4V219.0H199.0zM190.3 219.0H194.6V223.3H190.3z"/>
<path fill="#c5ff3a" d="M133.5 30.9H137.8V35.2H133.5zM216.5 30.9H225.2V35.2H216.5zM133.5 35.2H137.8V39.5H133.5zM81.1 52.3H85.4V56.6H81.1zM137.8 52.3H142.2V56.6H137.8zM216.5 56.6H220.8V60.9H216.5zM129.1 65.1H142.2V69.4H129.1zM63.6 69.4H68.0V73.7H63.6zM216.5 69.4H220.8V73.7H216.5zM63.6 73.7H68.0V78.0H63.6zM137.8 73.7H146.6V78.0H137.8zM207.7 73.7H212.1V78.0H207.7zM216.5 73.7H220.8V78.0H216.5zM116.0 78.0H120.4V82.2H116.0zM133.5 78.0H137.8V82.2H133.5zM146.6 78.0H150.9V82.2H146.6zM207.7 78.0H216.5V82.2H207.7zM107.3 82.2H111.6V86.5H107.3zM137.8 82.2H146.6V86.5H137.8zM142.2 86.5H146.6V90.8H142.2zM212.1 86.5H216.5V90.8H212.1zM216.5 90.8H220.8V95.1H216.5zM137.8 95.1H146.6V99.3H137.8zM203.4 95.1H212.1V99.3H203.4zM142.2 99.3H146.6V103.6H142.2zM212.1 99.3H216.5V103.6H212.1zM133.5 103.6H137.8V107.9H133.5zM146.6 103.6H150.9V107.9H146.6zM212.1 103.6H216.5V107.9H212.1zM203.4 112.2H207.7V116.4H203.4zM146.6 116.4H155.3V120.7H146.6zM203.4 116.4H212.1V120.7H203.4zM212.1 125.0H216.5V129.2H212.1zM137.8 129.2H142.2V133.5H137.8zM146.6 129.2H159.7V133.5H146.6zM212.1 129.2H216.5V133.5H212.1zM142.2 133.5H146.6V137.8H142.2zM212.1 137.8H216.5V142.1H212.1zM142.2 142.1H150.9V146.3H142.2zM142.2 146.3H146.6V150.6H142.2zM220.8 150.6H225.2V154.9H220.8zM142.2 159.2H146.6V163.4H142.2zM216.5 159.2H220.8V163.4H216.5zM146.6 163.4H150.9V167.7H146.6zM216.5 163.4H220.8V167.7H216.5zM212.1 172.0H216.5V176.3H212.1zM137.8 176.3H146.6V180.5H137.8zM212.1 176.3H216.5V180.5H212.1zM142.2 184.8H146.6V189.1H142.2zM212.1 184.8H216.5V189.1H212.1zM212.1 189.1H216.5V193.4H212.1zM142.2 193.4H150.9V197.6H142.2zM146.6 197.6H155.3V201.9H146.6zM150.9 201.9H159.7V206.2H150.9zM203.4 201.9H207.7V206.2H203.4zM164.0 210.5H168.4V214.7H164.0zM199.0 210.5H203.4V214.7H199.0zM168.4 214.7H172.8V219.0H168.4zM194.6 214.7H199.0V219.0H194.6zM181.5 219.0H185.9V223.3H181.5z"/>
<path fill="#d0ff2f" d="M133.5 22.4H137.8V26.7H133.5zM216.5 22.4H220.8V26.7H216.5zM133.5 26.7H137.8V30.9H133.5zM212.1 26.7H216.5V30.9H212.1zM212.1 30.9H216.5V35.2H212.1zM216.5 35.2H220.8V39.5H216.5zM137.8 39.5H142.2V43.8H137.8zM137.8 43.8H142.2V48.0H137.8zM216.5 43.8H220.8V48.0H216.5zM216.5 48.0H220.8V52.3H216.5zM216.5 52.3H220.8V56.6H216.5zM142.2 56.6H146.6V60.9H142.2zM142.2 60.9H146.6V65.1H142.2zM216.5 60.9H220.8V65.1H216.5zM216.5 65.1H220.8V69.4H216.5zM133.5 69.4H137.8V73.7H133.5zM142.2 69.4H146.6V73.7H142.2zM207.7 69.4H216.5V73.7H207.7zM199.0 73.7H203.4V78.0H199.0zM212.1 73.7H216.5V78.0H212.1zM137.8 78.0H142.2V82.2H137.8zM146.6 82.2H150.9V86.5H146.6zM207.7 82.2H212.1V86.5H207.7zM137.8 86.5H142.2V90.8H137.8zM146.6 86.5H150.9V90.8H146.6zM203.4 86.5H207.7V90.8H203.4zM216.5 86.5H220.8V90.8H216.5zM137.8 90.8H146.6V95.1H137.8zM207.7 90.8H216.5V95.1H207.7zM146.6 95.1H159.7V99.3H146.6zM155.3 99.3H159.7V103.6H155.3zM207.7 99.3H212.1V103.6H207.7zM150.9 103.6H155.3V107.9H150.9zM203.4 103.6H207.7V107.9H203.4zM150.9 107.9H159.7V112.2H150.9zM203.4 107.9H212.1V112.2H203.4zM155.3 116.4H159.7V120.7H155.3zM155.3 120.7H164.0V125.0H155.3zM203.4 120.7H207.7V125.0H203.4zM150.9 125.0H155.3V129.2H150.9zM159.7 125.0H164.0V129.2H159.7zM207.7 125.0H212.1V129.2H207.7zM159.7 129.2H164.0V133.5H159.7zM207.7 133.5H212.1V137.8H207.7zM146.6 137.8H159.7V142.1H146.6zM216.5 137.8H225.2V142.1H216.5zM212.1 142.1H220.8V146.3H212.1zM146.6 146.3H150.9V150.6H146.6zM216.5 146.3H220.8V150.6H216.5zM146.6 150.6H150.9V154.9H146.6zM216.5 150.6H220.8V154.9H216.5zM142.2 154.9H146.6V159.2H142.2zM212.1 154.9H216.5V159.2H212.1zM146.6 159.2H155.3V163.4H146.6zM212.1 159.2H216.5V163.4H212.1zM146.6 167.7H155.3V172.0H146.6zM207.7 167.7H216.5V172.0H207.7zM142.2 172.0H150.9V176.3H142.2zM146.6 176.3H150.9V180.5H146.6zM137.8 180.5H146.6V184.8H137.8zM137.8 189.1H142.2V193.4H137.8zM150.9 193.4H155.3V197.6H150.9zM203.4 193.4H207.7V197.6H203.4zM207.7 197.6H212.1V201.9H207.7zM159.7 201.9H164.0V206.2H159.7zM159.7 206.2H164.0V210.5H159.7z"/>
<path fill="#dbff24" d="M207.7 35.2H212.1V39.5H207.7zM207.7 39.5H212.1V43.8H207.7zM212.1 43.8H216.5V48.0H212.1zM207.7 52.3H216.5V56.6H207.7zM203.4 56.6H207.7V60.9H203.4zM203.4 60.9H216.5V65.1H203.4zM212.1 65.1H216.5V69.4H212.1zM199.0 69.4H203.4V73.7H199.0zM146.6 73.7H155.3V78.0H146.6zM142.2 78.0H146.6V82.2H142.2zM203.4 78.0H207.7V82.2H203.4zM150.9 82.2H155.3V86.5H150.9zM146.6 90.8H150.9V95.1H146.6zM194.6 95.1H203.4V99.3H194.6zM212.1 95.1H216.5V99.3H212.1zM203.4 99.3H207.7V103.6H203.4zM155.3 103.6H159.7V107.9H155.3zM199.0 103.6H203.4V107.9H199.0zM199.0 107.9H203.4V112.2H199.0zM146.6 112.2H159.7V116.4H146.6zM199.0 112.2H203.4V116.4H199.0zM207.7 112.2H212.1V116.4H207.7zM164.0 116.4H168.4V120.7H164.0zM150.9 120.7H155.3V125.0H150.9zM203.4 125.0H207.7V129.2H203.4zM207.7 129.2H212.1V133.5H207.7zM155.3 133.5H164.0V137.8H155.3zM212.1 133.5H216.5V137.8H212.1zM159.7 137.8H164.0V142.1H159.7zM203.4 137.8H207.7V142.1H203.4zM155.3 142.1H159.7V146.3H155.3zM207.7 142.1H212.1V146.3H207.7zM150.9 146.3H155.3V150.6H150.9zM212.1 146.3H216.5V150.6H212.1zM155.3 150.6H159.7V154.9H155.3zM146.6 154.9H155.3V159.2H146.6zM164.0 159.2H168.4V163.4H164.0zM159.7 163.4H164.0V167.7H159.7zM207.7 163.4H212.1V167.7H207.7zM203.4 167.7H207.7V172.0H203.4zM146.6 180.5H150.9V184.8H146.6zM203.4 180.5H207.7V184.8H203.4zM146.6 184.8H150.9V189.1H146.6zM207.7 184.8H212.1V189.1H207.7zM142.2 189.1H146.6V193.4H142.2zM150.9 189.1H155.3V193.4H150.9zM155.3 197.6H164.0V201.9H155.3zM203.4 197.6H207.7V201.9H203.4zM164.0 201.9H168.4V206.2H164.0zM199.0 201.9H203.4V206.2H199.0zM164.0 206.2H168.4V210.5H164.0zM172.8 214.7H177.2V219.0H172.8zM185.9 219.0H190.3V223.3H185.9z"/>
<path fill="#e5ff1a" d="M212.1 22.4H216.5V26.7H212.1zM137.8 30.9H142.2V35.2H137.8zM203.4 35.2H207.7V39.5H203.4zM212.1 35.2H216.5V39.5H212.1zM216.5 39.5H220.8V43.8H216.5zM142.2 48.0H146.6V52.3H142.2zM207.7 48.0H216.5V52.3H207.7zM142.2 52.3H146.6V56.6H142.2zM199.0 56.6H203.4V60.9H199.0zM212.1 56.6H216.5V60.9H212.1zM146.6 60.9H150.9V65.1H146.6zM146.6 65.1H150.9V69.4H146.6zM190.3 65.1H194.6V69.4H190.3zM203.4 65.1H207.7V69.4H203.4zM194.6 69.4H199.0V73.7H194.6zM203.4 69.4H207.7V73.7H203.4zM203.4 73.7H207.7V78.0H203.4zM155.3 82.2H159.7V86.5H155.3zM199.0 82.2H207.7V86.5H199.0zM150.9 86.5H159.7V90.8H150.9zM207.7 86.5H212.1V90.8H207.7zM150.9 90.8H155.3V95.1H150.9zM203.4 90.8H207.7V95.1H203.4zM146.6 99.3H155.3V103.6H146.6zM190.3 99.3H203.4V103.6H190.3zM159.7 103.6H164.0V107.9H159.7zM207.7 103.6H212.1V107.9H207.7zM159.7 107.9H164.0V112.2H159.7zM194.6 116.4H199.0V120.7H194.6zM164.0 120.7H168.4V125.0H164.0zM155.3 125.0H159.7V129.2H155.3zM164.0 129.2H168.4V133.5H164.0zM146.6 133.5H150.9V137.8H146.6zM164.0 133.5H168.4V137.8H164.0zM164.0 137.8H172.8V142.1H164.0zM207.7 137.8H212.1V142.1H207.7zM150.9 142.1H155.3V146.3H150.9zM155.3 146.3H164.0V150.6H155.3zM203.4 146.3H212.1V150.6H203.4zM150.9 150.6H155.3V154.9H150.9zM159.7 150.6H164.0V154.9H159.7zM203.4 150.6H216.5V154.9H203.4zM155.3 154.9H159.7V159.2H155.3zM207.7 154.9H212.1V159.2H207.7zM155.3 159.2H159.7V163.4H155.3zM207.7 159.2H212.1V163.4H207.7zM150.9 163.4H155.3V167.7H150.9zM155.3 167.7H159.7V172.0H155.3zM155.3 172.0H159.7V176.3H155.3zM164.0 172.0H168.4V176.3H164.0zM203.4 172.0H207.7V176.3H203.4zM150.9 176.3H155.3V180.5H150.9zM150.9 180.5H155.3V184.8H150.9zM159.7 180.5H164.0V184.8H159.7zM164.0 184.8H168.4V189.1H164.0zM203.4 189.1H207.7V193.4H203.4zM164.0 197.6H168.4V201.9H164.0zM190.3 214.7H194.6V219.0H190.3z"/>
<path fill="#f0ff0f" d="M207.7 22.4H212.1V26.7H207.7zM137.8 26.7H142.2V30.9H137.8zM203.4 26.7H212.1V30.9H203.4zM207.7 30.9H212.1V35.2H207.7zM137.8 35.2H142.2V39.5H137.8zM212.1 39.5H216.5V43.8H212.1zM142.2 43.8H146.6V48.0H142.2zM199.0 43.8H203.4V48.0H199.0zM146.6 52.3H150.9V56.6H146.6zM199.0 52.3H203.4V56.6H199.0zM172.8 56.6H177.2V60.9H172.8zM207.7 56.6H212.1V60.9H207.7zM199.0 60.9H203.4V65.1H199.0zM150.9 65.1H155.3V69.4H150.9zM194.6 65.1H203.4V69.4H194.6zM207.7 65.1H212.1V69.4H207.7zM146.6 69.4H150.9V73.7H146.6zM150.9 78.0H155.3V82.2H150.9zM159.7 82.2H164.0V86.5H159.7zM194.6 82.2H199.0V86.5H194.6zM194.6 86.5H199.0V90.8H194.6zM155.3 90.8H159.7V95.1H155.3zM185.9 90.8H194.6V95.1H185.9zM199.0 90.8H203.4V95.1H199.0zM164.0 95.1H168.4V99.3H164.0zM190.3 95.1H194.6V99.3H190.3zM159.7 112.2H164.0V116.4H159.7zM159.7 116.4H164.0V120.7H159.7zM199.0 116.4H203.4V120.7H199.0zM199.0 120.7H203.4V125.0H199.0zM164.0 125.0H168.4V129.2H164.0zM159.7 142.1H168.4V146.3H159.7zM203.4 142.1H207.7V146.3H203.4zM159.7 154.9H164.0V159.2H159.7zM159.7 159.2H164.0V163.4H159.7zM203.4 159.2H207.7V163.4H203.4zM203.4 163.4H207.7V167.7H203.4zM159.7 167.7H164.0V172.0H159.7zM159.7 172.0H164.0V176.3H159.7zM199.0 172.0H203.4V176.3H199.0zM203.4 176.3H207.7V180.5H203.4zM155.3 180.5H159.7V184.8H155.3zM164.0 180.5H168.4V184.8H164.0zM155.3 184.8H159.7V189.1H155.3zM199.0 184.8H207.7V189.1H199.0zM146.6 189.1H150.9V193.4H146.6zM155.3 189.1H164.0V193.4H155.3zM199.0 189.1H203.4V193.4H199.0zM155.3 193.4H172.8V197.6H155.3zM199.0 197.6H203.4V201.9H199.0zM168.4 201.9H172.8V206.2H168.4zM168.4 206.2H172.8V210.5H168.4zM199.0 206.2H203.4V210.5H199.0zM168.4 210.5H172.8V214.7H168.4z"/>
<path fill="#fbff04" d="M168.4 22.4H172.8V26.7H168.4zM203.4 22.4H207.7V26.7H203.4zM164.0 30.9H168.4V35.2H164.0zM203.4 30.9H207.7V35.2H203.4zM142.2 35.2H146.6V39.5H142.2zM181.5 35.2H185.9V39.5H181.5zM190.3 35.2H194.6V39.5H190.3zM194.6 39.5H207.7V43.8H194.6zM203.4 43.8H207.7V48.0H203.4zM146.6 48.0H150.9V52.3H146.6zM190.3 48.0H194.6V52.3H190.3zM203.4 48.0H207.7V52.3H203.4zM177.2 52.3H181.5V56.6H177.2zM190.3 52.3H194.6V56.6H190.3zM203.4 52.3H207.7V56.6H203.4zM146.6 56.6H150.9V60.9H146.6zM190.3 56.6H199.0V60.9H190.3zM181.5 60.9H185.9V65.1H181.5zM194.6 60.9H199.0V65.1H194.6zM190.3 69.4H194.6V73.7H190.3zM177.2 73.7H199.0V78.0H177.2zM155.3 78.0H159.7V82.2H155.3zM181.5 78.0H190.3V82.2H181.5zM194.6 78.0H203.4V82.2H194.6zM190.3 86.5H194.6V90.8H190.3zM199.0 86.5H203.4V90.8H199.0zM194.6 90.8H199.0V95.1H194.6zM159.7 95.1H164.0V99.3H159.7zM194.6 103.6H199.0V107.9H194.6zM164.0 107.9H168.4V112.2H164.0zM194.6 107.9H199.0V112.2H194.6zM194.6 120.7H199.0V125.0H194.6zM168.4 125.0H172.8V129.2H168.4zM168.4 129.2H172.8V133.5H168.4zM199.0 133.5H207.7V137.8H199.0zM172.8 142.1H177.2V146.3H172.8zM199.0 142.1H203.4V146.3H199.0zM164.0 146.3H168.4V150.6H164.0zM164.0 150.6H168.4V154.9H164.0zM172.8 150.6H177.2V154.9H172.8zM164.0 154.9H172.8V159.2H164.0zM199.0 154.9H207.7V159.2H199.0zM155.3 163.4H159.7V167.7H155.3zM164.0 163.4H172.8V167.7H164.0zM164.0 167.7H168.4V172.0H164.0zM150.9 172.0H155.3V176.3H150.9zM168.4 172.0H172.8V176.3H168.4zM155.3 176.3H168.4V180.5H155.3zM150.9 184.8H155.3V189.1H150.9zM159.7 184.8H164.0V189.1H159.7zM164.0 189.1H172.8V193.4H164.0zM172.8 193.4H177.2V197.6H172.8zM172.8 210.5H177.2V214.7H172.8zM194.6 210.5H199.0V214.7H194.6z"/>
<path fill="#fff800" d="M137.8 22.4H142.2V26.7H137.8zM159.7 22.4H164.0V26.7H159.7zM172.8 22.4H185.9V26.7H172.8zM190.3 22.4H199.0V26.7H190.3zM164.0 26.7H168.4V30.9H164.0zM185.9 26.7H190.3V30.9H185.9zM194.6 26.7H199.0V30.9H194.6zM185.9 30.9H203.4V35.2H185.9zM177.2 35.2H181.5V39.5H177.2zM194.6 35.2H199.0V39.5H194.6zM142.2 39.5H146.6V43.8H142.2zM177.2 39.5H181.5V43.8H177.2zM185.9 39.5H190.3V43.8H185.9zM146.6 43.8H150.9V48.0H146.6zM168.4 43.8H172.8V48.0H168.4zM181.5 43.8H199.0V48.0H181.5zM207.7 43.8H212.1V48.0H207.7zM168.4 48.0H172.8V52.3H168.4zM181.5 48.0H185.9V52.3H181.5zM199.0 48.0H203.4V52.3H199.0zM150.9 52.3H155.3V56.6H150.9zM185.9 52.3H190.3V56.6H185.9zM194.6 52.3H199.0V56.6H194.6zM181.5 56.6H185.9V60.9H181.5zM150.9 60.9H159.7V65.1H150.9zM190.3 60.9H194.6V65.1H190.3zM155.3 65.1H159.7V69.4H155.3zM177.2 65.1H181.5V69.4H177.2zM177.2 69.4H181.5V73.7H177.2zM159.7 78.0H164.0V82.2H159.7zM190.3 78.0H194.6V82.2H190.3zM177.2 82.2H185.9V86.5H177.2zM190.3 82.2H194.6V86.5H190.3zM159.7 86.5H164.0V90.8H159.7zM181.5 86.5H185.9V90.8H181.5zM164.0 90.8H168.4V95.1H164.0zM185.9 95.1H190.3V99.3H185.9zM159.7 99.3H164.0V103.6H159.7zM185.9 103.6H194.6V107.9H185.9zM164.0 112.2H177.2V116.4H164.0zM185.9 112.2H199.0V116.4H185.9zM168.4 116.4H172.8V120.7H168.4zM168.4 120.7H172.8V125.0H168.4zM172.8 125.0H177.2V129.2H172.8zM194.6 125.0H203.4V129.2H194.6zM199.0 129.2H207.7V133.5H199.0zM172.8 133.5H177.2V137.8H172.8zM199.0 137.8H203.4V142.1H199.0zM168.4 142.1H172.8V146.3H168.4zM168.4 150.6H172.8V154.9H168.4zM168.4 159.2H172.8V163.4H168.4zM199.0 163.4H203.4V167.7H199.0zM168.4 167.7H177.2V172.0H168.4zM199.0 167.7H203.4V172.0H199.0zM172.8 176.3H177.2V180.5H172.8zM168.4 180.5H177.2V184.8H168.4zM199.0 180.5H203.4V184.8H199.0zM168.4 184.8H172.8V189.1H168.4zM172.8 189.1H177.2V193.4H172.8zM199.0 193.4H203.4V197.6H199.0zM168.4 197.6H177.2V201.9H168.4zM172.8 201.9H177.2V206.2H172.8zM177.2 214.7H185.9V219.0H177.2z"/>
<path fill="#ffee00" d="M150.9 22.4H155.3V26.7H150.9zM164.0 22.4H168.4V26.7H164.0zM199.0 22.4H203.4V26.7H199.0zM159.7 26.7H164.0V30.9H159.7zM172.8 26.7H185.9V30.9H172.8zM199.0 26.7H203.4V30.9H199.0zM142.2 30.9H146.6V35.2H142.2zM159.7 30.9H164.0V35.2H159.7zM172.8 30.9H177.2V35.2H172.8zM181.5 30.9H185.9V35.2H181.5zM164.0 35.2H168.4V39.5H164.0zM199.0 35.2H203.4V39.5H199.0zM146.6 39.5H150.9V43.8H146.6zM168.4 39.5H177.2V43.8H168.4zM181.5 39.5H185.9V43.8H181.5zM150.9 43.8H155.3V48.0H150.9zM172.8 43.8H177.2V48.0H172.8zM172.8 48.0H181.5V52.3H172.8zM185.9 48.0H190.3V52.3H185.9zM194.6 48.0H199.0V52.3H194.6zM181.5 52.3H185.9V56.6H181.5zM150.9 56.6H159.7V60.9H150.9zM177.2 56.6H181.5V60.9H177.2zM172.8 60.9H181.5V65.1H172.8zM185.9 60.9H190.3V65.1H185.9zM159.7 65.1H164.0V69.4H159.7zM181.5 65.1H185.9V69.4H181.5zM150.9 69.4H155.3V73.7H150.9zM181.5 69.4H190.3V73.7H181.5zM155.3 73.7H159.7V78.0H155.3zM177.2 78.0H181.5V82.2H177.2zM185.9 82.2H190.3V86.5H185.9zM164.0 86.5H168.4V90.8H164.0zM185.9 86.5H190.3V90.8H185.9zM181.5 95.1H185.9V99.3H181.5zM164.0 99.3H172.8V103.6H164.0zM181.5 99.3H185.9V103.6H181.5zM164.0 103.6H172.8V107.9H164.0zM181.5 103.6H185.9V107.9H181.5zM190.3 107.9H194.6V112.2H190.3zM172.8 116.4H177.2V120.7H172.8zM190.3 116.4H194.6V120.7H190.3zM168.4 133.5H172.8V137.8H168.4zM172.8 137.8H177.2V142.1H172.8zM168.4 146.3H177.2V150.6H168.4zM199.0 146.3H203.4V150.6H199.0zM199.0 150.6H203.4V154.9H199.0zM172.8 154.9H177.2V159.2H172.8zM172.8 159.2H177.2V163.4H172.8zM199.0 159.2H203.4V163.4H199.0zM172.8 163.4H177.2V167.7H172.8zM172.8 172.0H177.2V176.3H172.8zM168.4 176.3H172.8V180.5H168.4zM199.0 176.3H203.4V180.5H199.0zM172.8 184.8H177.2V189.1H172.8zM172.8 206.2H177.2V210.5H172.8zM194.6 206.2H199.0V210.5H194.6zM185.9 214.7H190.3V219.0H185.9z"/>
<path fill="#ffe300" d="M142.2 22.4H146.6V26.7H142.2zM155.3 22.4H159.7V26.7H155.3zM185.9 22.4H190.3V26.7H185.9zM142.2 26.7H146.6V30.9H142.2zM155.3 26.7H159.7V30.9H155.3zM168.4 26.7H172.8V30.9H168.4zM190.3 26.7H194.6V30.9H190.3zM146.6 30.9H150.9V35.2H146.6zM168.4 30.9H172.8V35.2H168.4zM177.2 30.9H181.5V35.2H177.2zM172.8 35.2H177.2V39.5H172.8zM185.9 35.2H190.3V39.5H185.9zM164.0 39.5H168.4V43.8H164.0zM190.3 39.5H194.6V43.8H190.3zM177.2 43.8H181.5V48.0H177.2zM150.9 48.0H155.3V52.3H150.9zM164.0 48.0H168.4V52.3H164.0zM168.4 52.3H177.2V56.6H168.4zM185.9 56.6H190.3V60.9H185.9zM172.8 65.1H177.2V69.4H172.8zM185.9 65.1H190.3V69.4H185.9zM155.3 69.4H164.0V73.7H155.3zM159.7 73.7H164.0V78.0H159.7zM172.8 78.0H177.2V82.2H172.8zM164.0 82.2H168.4V86.5H164.0zM159.7 90.8H164.0V95.1H159.7zM185.9 99.3H190.3V103.6H185.9zM172.8 103.6H177.2V107.9H172.8zM168.4 107.9H172.8V112.2H168.4zM185.9 107.9H190.3V112.2H185.9zM185.9 116.4H190.3V120.7H185.9zM172.8 120.7H177.2V125.0H172.8zM190.3 120.7H194.6V125.0H190.3zM172.8 129.2H177.2V133.5H172.8zM194.6 129.2H199.0V133.5H194.6zM194.6 146.3H199.0V150.6H194.6zM177.2 154.9H181.5V159.2H177.2zM194.6 167.7H199.0V172.0H194.6zM194.6 172.0H199.0V176.3H194.6zM177.2 180.5H181.5V184.8H177.2zM194.6 184.8H199.0V189.1H194.6zM177.2 201.9H181.5V206.2H177.2zM177.2 206.2H181.5V210.5H177.2zM177.2 210.5H185.9V214.7H177.2z"/>
<path fill="#ffd800" d="M146.6 26.7H150.9V30.9H146.6zM155.3 30.9H159.7V35.2H155.3zM146.6 35.2H155.3V39.5H146.6zM159.7 35.2H164.0V39.5H159.7zM168.4 35.2H172.8V39.5H168.4zM150.9 39.5H155.3V43.8H150.9zM159.7 43.8H168.4V48.0H159.7zM155.3 52.3H168.4V56.6H155.3zM159.7 56.6H164.0V60.9H159.7zM168.4 60.9H172.8V65.1H168.4zM172.8 69.4H177.2V73.7H172.8zM172.8 73.7H177.2V78.0H172.8zM168.4 78.0H172.8V82.2H168.4zM181.5 90.8H185.9V95.1H181.5zM168.4 95.1H181.5V99.3H168.4zM172.8 99.3H177.2V103.6H172.8zM177.2 103.6H181.5V107.9H177.2zM177.2 112.2H181.5V116.4H177.2zM177.2 120.7H181.5V125.0H177.2zM194.6 133.5H199.0V137.8H194.6zM194.6 137.8H199.0V142.1H194.6zM194.6 154.9H199.0V159.2H194.6zM177.2 163.4H181.5V167.7H177.2zM194.6 163.4H199.0V167.7H194.6zM194.6 176.3H199.0V180.5H194.6zM177.2 184.8H181.5V189.1H177.2zM177.2 193.4H181.5V197.6H177.2zM177.2 197.6H181.5V201.9H177.2zM194.6 197.6H199.0V201.9H194.6zM181.5 206.2H185.9V210.5H181.5zM185.9 210.5H194.6V214.7H185.9z"/>
<path fill="#ffcd00" d="M146.6 22.4H150.9V26.7H146.6zM150.9 26.7H155.3V30.9H150.9zM150.9 30.9H155.3V35.2H150.9zM155.3 39.5H164.0V43.8H155.3zM155.3 43.8H159.7V48.0H155.3zM159.7 48.0H164.0V52.3H159.7zM164.0 56.6H172.8V60.9H164.0zM159.7 60.9H168.4V65.1H159.7zM164.0 65.1H168.4V69.4H164.0zM164.0 69.4H168.4V73.7H164.0zM164.0 78.0H168.4V82.2H164.0zM168.4 82.2H177.2V86.5H168.4zM168.4 90.8H177.2V95.1H168.4zM177.2 99.3H181.5V103.6H177.2zM172.8 107.9H181.5V112.2H172.8zM181.5 112.2H185.9V116.4H181.5zM177.2 116.4H181.5V120.7H177.2zM181.5 120.7H190.3V125.0H181.5zM177.2 125.0H181.5V129.2H177.2zM190.3 125.0H194.6V129.2H190.3zM177.2 137.8H181.5V142.1H177.2zM177.2 142.1H181.5V146.3H177.2zM190.3 142.1H199.0V146.3H190.3zM177.2 150.6H181.5V154.9H177.2zM194.6 150.6H199.0V154.9H194.6zM177.2 159.2H181.5V163.4H177.2zM194.6 159.2H199.0V163.4H194.6zM177.2 176.3H181.5V180.5H177.2zM194.6 189.1H199.0V193.4H194.6zM194.6 201.9H199.0V206.2H194.6zM190.3 206.2H194.6V210.5H190.3z"/>
<path fill="#ffc300" d="M155.3 35.2H159.7V39.5H155.3zM168.4 65.1H172.8V69.4H168.4zM164.0 73.7H168.4V78.0H164.0zM168.4 86.5H172.8V90.8H168.4zM177.2 86.5H181.5V90.8H177.2zM177.2 90.8H181.5V95.1H177.2zM181.5 107.9H185.9V112.2H181.5zM181.5 116.4H185.9V120.7H181.5zM177.2 133.5H181.5V137.8H177.2zM185.9 137.8H190.3V142.1H185.9zM177.2 167.7H181.5V172.0H177.2zM194.6 180.5H199.0V184.8H194.6zM177.2 189.1H181.5V193.4H177.2z"/>
<path fill="#ffb800" d="M155.3 48.0H159.7V52.3H155.3zM168.4 69.4H172.8V73.7H168.4zM168.4 73.7H172.8V78.0H168.4zM177.2 129.2H194.6V133.5H177.2zM190.3 133.5H194.6V137.8H190.3zM190.3 137.8H194.6V142.1H190.3zM177.2 146.3H181.5V150.6H177.2zM190.3 146.3H194.6V150.6H190.3zM181.5 159.2H185.9V163.4H181.5zM190.3 167.7H194.6V172.0H190.3zM177.2 172.0H181.5V176.3H177.2zM181.5 176.3H185.9V180.5H181.5zM190.3 184.8H194.6V189.1H190.3zM181.5 193.4H185.9V197.6H181.5zM194.6 193.4H199.0V197.6H194.6zM181.5 197.6H185.9V201.9H181.5zM181.5 201.9H185.9V206.2H181.5zM190.3 201.9H194.6V206.2H190.3z"/>
<path fill="#ffad00" d="M172.8 86.5H177.2V90.8H172.8zM181.5 125.0H185.9V129.2H181.5zM185.9 133.5H190.3V137.8H185.9zM181.5 137.8H185.9V142.1H181.5zM181.5 142.1H185.9V146.3H181.5zM181.5 150.6H185.9V154.9H181.5zM190.3 150.6H194.6V154.9H190.3zM181.5 154.9H185.9V159.2H181.5zM190.3 154.9H194.6V159.2H190.3zM190.3 159.2H194.6V163.4H190.3zM181.5 163.4H185.9V167.7H181.5zM181.5 167.7H185.9V172.0H181.5zM181.5 172.0H185.9V176.3H181.5zM190.3 172.0H194.6V176.3H190.3zM190.3 176.3H194.6V180.5H190.3zM181.5 180.5H185.9V184.8H181.5zM181.5 184.8H185.9V189.1H181.5zM185.9 189.1H190.3V193.4H185.9z"/>
<path fill="#ffa200" d="M185.9 125.0H190.3V129.2H185.9zM185.9 142.1H190.3V146.3H185.9zM181.5 146.3H185.9V150.6H181.5zM185.9 154.9H190.3V159.2H185.9zM185.9 163.4H194.6V167.7H185.9zM185.9 167.7H190.3V172.0H185.9zM185.9 180.5H194.6V184.8H185.9zM181.5 189.1H185.9V193.4H181.5zM185.9 197.6H194.6V201.9H185.9zM185.9 201.9H190.3V206.2H185.9zM185.9 206.2H190.3V210.5H185.9z"/>
<path fill="#ff9800" d="M181.5 133.5H185.9V137.8H181.5zM185.9 146.3H190.3V150.6H185.9zM185.9 150.6H190.3V154.9H185.9zM185.9 172.0H190.3V176.3H185.9zM190.3 189.1H194.6V193.4H190.3zM190.3 193.4H194.6V197.6H190.3z"/>
<path fill="#ff8d00" d="M185.9 159.2H190.3V163.4H185.9zM185.9 176.3H190.3V180.5H185.9zM185.9 193.4H190.3V197.6H185.9z"/>
<path fill="#ff8200" d="M185.9 184.8H190.3V189.1H185.9z"/></g><rect x="37.40" y="229.69" width="176.04" height="6.41" fill="#fff"/>
<rect x="213.44" y="222.39" width="77.26" height="13.71" fill="#fff"/>
<g shape-rendering="crispEdges" filter="url(#soft)"><path fill="#0000a0" d="M751.7 164.0H756.3V168.5H751.7z"/>
<path fill="#0000aa" d="M802.5 159.5H807.1V164.0H802.5z"/>
<path fill="#0000cb" d="M802.5 213.5H807.1V218.0H802.5z"/>
<path fill="#0000d5" d="M733.2 141.5H737.8V146.0H733.2zM747.1 146.0H751.7V150.5H747.1zM802.5 155.0H807.1V159.5H802.5z"/>
<path fill="#0000e0" d="M811.8 200.0H816.4V204.5H811.8z"/>
<path fill="#0000eb" d="M728.6 146.0H733.2V150.5H728.6zM728.6 150.5H733.2V155.0H728.6zM816.4 200.0H821.0V204.5H816.4zM793.3 204.5H802.5V209.0H793.3zM779.4 218.0H784.0V222.5H779.4zM788.7 222.5H793.3V227.0H788.7z"/>
<path fill="#0000f6" d="M626.9 29.0H631.6V33.5H626.9zM779.4 69.5H784.0V74.0H779.4zM756.3 78.5H760.9V83.0H756.3zM816.4 141.5H821.0V146.0H816.4zM802.5 168.5H807.1V173.0H802.5z"/>
<path fill="#0001ff" d="M590.0 24.5H594.6V29.0H590.0zM663.9 29.0H668.5V33.5H663.9zM645.4 69.5H650.0V74.0H645.4zM668.5 74.0H673.1V78.5H668.5zM659.3 78.5H663.9V83.0H659.3zM705.5 83.0H710.1V87.5H705.5zM816.4 114.5H821.0V119.0H816.4zM802.5 141.5H807.1V146.0H802.5zM733.2 155.0H737.8V159.5H733.2zM802.5 164.0H807.1V168.5H802.5zM770.2 182.0H774.8V186.5H770.2zM793.3 200.0H797.9V204.5H793.3zM779.4 213.5H784.0V218.0H779.4zM793.3 218.0H797.9V222.5H793.3z"/>
<path fill="#000cff" d="M659.3 20.0H663.9V24.5H659.3zM691.6 20.0H696.2V24.5H691.6zM737.8 24.5H742.4V29.0H737.8zM714.7 38.0H719.3V42.5H714.7zM691.6 51.5H696.2V56.0H691.6zM710.1 51.5H714.7V56.0H710.1zM566.9 56.0H571.5V60.5H566.9zM622.3 56.0H626.9V60.5H622.3zM663.9 56.0H668.5V60.5H663.9zM677.8 60.5H682.4V65.0H677.8zM691.6 60.5H696.2V65.0H691.6zM756.3 65.0H760.9V69.5H756.3zM710.1 74.0H714.7V78.5H710.1zM719.3 78.5H724.0V83.0H719.3zM580.7 83.0H585.3V87.5H580.7zM797.9 92.0H802.5V96.5H797.9zM608.4 96.5H613.1V101.0H608.4zM626.9 96.5H631.6V101.0H626.9zM728.6 110.0H733.2V114.5H728.6zM714.7 114.5H719.3V119.0H714.7zM724.0 114.5H728.6V119.0H724.0zM747.1 137.0H751.7V141.5H747.1zM811.8 137.0H816.4V141.5H811.8zM770.2 141.5H774.8V146.0H770.2zM742.4 146.0H747.1V150.5H742.4zM797.9 146.0H802.5V150.5H797.9zM747.1 150.5H751.7V155.0H747.1zM765.6 150.5H770.2V155.0H765.6zM811.8 150.5H816.4V155.0H811.8zM737.8 155.0H742.4V159.5H737.8zM788.7 155.0H793.3V159.5H788.7zM797.9 168.5H802.5V173.0H797.9zM779.4 200.0H788.7V204.5H779.4zM807.1 209.0H811.8V213.5H807.1z"/>
<path fill="#0017ff" d="M770.2 15.5H774.8V20.0H770.2zM654.7 20.0H659.3V24.5H654.7zM742.4 20.0H747.1V24.5H742.4zM663.9 42.5H668.5V47.0H663.9zM784.0 42.5H788.7V47.0H784.0zM585.3 47.0H590.0V51.5H585.3zM696.2 47.0H700.9V51.5H696.2zM719.3 51.5H724.0V56.0H719.3zM742.4 51.5H747.1V56.0H742.4zM603.8 56.0H608.4V60.5H603.8zM585.3 60.5H590.0V65.0H585.3zM594.6 60.5H599.2V65.0H594.6zM784.0 60.5H788.7V65.0H784.0zM793.3 60.5H797.9V65.0H793.3zM585.3 65.0H590.0V69.5H585.3zM654.7 69.5H659.3V74.0H654.7zM631.6 78.5H636.2V83.0H631.6zM705.5 78.5H710.1V83.0H705.5zM724.0 78.5H728.6V83.0H724.0zM640.8 83.0H645.4V87.5H640.8zM770.2 83.0H774.8V87.5H770.2zM654.7 87.5H659.3V92.0H654.7zM663.9 87.5H668.5V92.0H663.9zM682.4 92.0H687.0V96.5H682.4zM687.0 96.5H691.6V101.0H687.0zM626.9 105.5H631.6V110.0H626.9zM654.7 110.0H659.3V114.5H654.7zM733.2 110.0H737.8V114.5H733.2zM696.2 114.5H700.9V119.0H696.2zM719.3 114.5H724.0V119.0H719.3zM737.8 128.0H742.4V132.5H737.8zM797.9 128.0H802.5V132.5H797.9zM788.7 146.0H793.3V150.5H788.7zM816.4 146.0H821.0V150.5H816.4zM747.1 155.0H756.3V159.5H747.1zM793.3 155.0H797.9V159.5H793.3zM816.4 155.0H821.0V159.5H816.4zM747.1 159.5H751.7V164.0H747.1zM807.1 159.5H811.8V164.0H807.1zM807.1 173.0H811.8V177.5H807.1zM784.0 182.0H788.7V186.5H784.0zM797.9 182.0H802.5V186.5H797.9zM807.1 182.0H811.8V186.5H807.1zM784.0 204.5H788.7V209.0H784.0zM770.2 209.0H774.8V213.5H770.2zM793.3 209.0H797.9V213.5H793.3zM765.6 213.5H770.2V218.0H765.6z"/>
<path fill="#0022ff" d="M603.8 15.5H608.4V20.0H603.8zM617.7 15.5H622.3V20.0H617.7zM599.2 20.0H603.8V24.5H599.2zM622.3 20.0H626.9V24.5H622.3zM640.8 20.0H645.4V24.5H640.8zM663.9 20.0H668.5V24.5H663.9zM705.5 20.0H710.1V24.5H705.5zM724.0 20.0H728.6V24.5H724.0zM553.0 24.5H557.6V29.0H553.0zM562.2 24.5H566.9V29.0H562.2zM691.6 24.5H696.2V29.0H691.6zM756.3 24.5H760.9V29.0H756.3zM645.4 29.0H650.0V33.5H645.4zM719.3 29.0H728.6V33.5H719.3zM580.7 33.5H585.3V38.0H580.7zM650.0 33.5H654.7V38.0H650.0zM774.8 33.5H779.4V38.0H774.8zM590.0 38.0H594.6V42.5H590.0zM793.3 38.0H797.9V42.5H793.3zM553.0 42.5H557.6V47.0H553.0zM613.1 42.5H617.7V47.0H613.1zM687.0 42.5H691.6V47.0H687.0zM719.3 42.5H724.0V47.0H719.3zM700.9 51.5H705.5V56.0H700.9zM728.6 51.5H733.2V56.0H728.6zM682.4 56.0H687.0V60.5H682.4zM797.9 56.0H807.1V60.5H797.9zM724.0 60.5H728.6V65.0H724.0zM645.4 65.0H650.0V69.5H645.4zM677.8 65.0H682.4V69.5H677.8zM594.6 69.5H599.2V74.0H594.6zM613.1 69.5H617.7V74.0H613.1zM696.2 69.5H705.5V74.0H696.2zM724.0 69.5H728.6V74.0H724.0zM802.5 69.5H807.1V74.0H802.5zM617.7 74.0H622.3V78.5H617.7zM700.9 74.0H705.5V78.5H700.9zM613.1 78.5H617.7V83.0H613.1zM779.4 78.5H784.0V83.0H779.4zM682.4 83.0H687.0V87.5H682.4zM737.8 83.0H742.4V87.5H737.8zM797.9 83.0H802.5V87.5H797.9zM594.6 87.5H599.2V92.0H594.6zM668.5 87.5H673.1V92.0H668.5zM719.3 87.5H724.0V92.0H719.3zM608.4 92.0H613.1V96.5H608.4zM645.4 92.0H650.0V96.5H645.4zM691.6 92.0H696.2V96.5H691.6zM770.2 92.0H774.8V96.5H770.2zM636.2 101.0H645.4V105.5H636.2zM640.8 105.5H645.4V110.0H640.8zM659.3 105.5H663.9V110.0H659.3zM687.0 105.5H691.6V110.0H687.0zM724.0 105.5H728.6V110.0H724.0zM705.5 110.0H710.1V114.5H705.5zM784.0 110.0H788.7V114.5H784.0zM645.4 114.5H650.0V119.0H645.4zM737.8 119.0H742.4V123.5H737.8zM733.2 137.0H737.8V141.5H733.2zM784.0 137.0H788.7V141.5H784.0zM645.4 141.5H650.0V146.0H645.4zM793.3 141.5H797.9V146.0H793.3zM807.1 141.5H811.8V146.0H807.1zM760.9 146.0H765.6V150.5H760.9zM751.7 150.5H756.3V155.0H751.7zM807.1 150.5H811.8V155.0H807.1zM756.3 164.0H760.9V168.5H756.3zM816.4 164.0H821.0V168.5H816.4zM797.9 177.5H802.5V182.0H797.9zM797.9 191.0H802.5V195.5H797.9zM788.7 195.5H793.3V200.0H788.7zM788.7 204.5H793.3V209.0H788.7zM779.4 209.0H784.0V213.5H779.4zM770.2 218.0H774.8V222.5H770.2z"/>
<path fill="#002cff" d="M566.9 15.5H571.5V20.0H566.9zM576.1 15.5H580.7V20.0H576.1zM590.0 15.5H594.6V20.0H590.0zM677.8 15.5H682.4V20.0H677.8zM626.9 20.0H631.6V24.5H626.9zM737.8 20.0H742.4V24.5H737.8zM760.9 20.0H765.6V24.5H760.9zM622.3 24.5H626.9V29.0H622.3zM677.8 24.5H682.4V29.0H677.8zM751.7 24.5H756.3V29.0H751.7zM553.0 29.0H557.6V33.5H553.0zM576.1 29.0H580.7V33.5H576.1zM687.0 29.0H691.6V33.5H687.0zM779.4 29.0H784.0V33.5H779.4zM585.3 33.5H590.0V38.0H585.3zM654.7 33.5H659.3V38.0H654.7zM705.5 33.5H710.1V38.0H705.5zM617.7 38.0H622.3V42.5H617.7zM700.9 38.0H705.5V42.5H700.9zM733.2 38.0H737.8V42.5H733.2zM747.1 38.0H756.3V42.5H747.1zM774.8 38.0H779.4V42.5H774.8zM608.4 42.5H613.1V47.0H608.4zM724.0 42.5H728.6V47.0H724.0zM733.2 42.5H737.8V47.0H733.2zM751.7 42.5H756.3V47.0H751.7zM659.3 47.0H663.9V51.5H659.3zM668.5 47.0H673.1V51.5H668.5zM682.4 47.0H687.0V51.5H682.4zM733.2 47.0H737.8V51.5H733.2zM747.1 47.0H751.7V51.5H747.1zM765.6 47.0H770.2V51.5H765.6zM784.0 47.0H788.7V51.5H784.0zM626.9 51.5H631.6V56.0H626.9zM663.9 51.5H668.5V56.0H663.9zM714.7 51.5H719.3V56.0H714.7zM580.7 56.0H585.3V60.5H580.7zM599.2 56.0H603.8V60.5H599.2zM668.5 56.0H673.1V60.5H668.5zM719.3 56.0H724.0V60.5H719.3zM640.8 60.5H645.4V65.0H640.8zM705.5 60.5H710.1V65.0H705.5zM714.7 60.5H719.3V65.0H714.7zM751.7 60.5H756.3V65.0H751.7zM765.6 60.5H770.2V65.0H765.6zM788.7 60.5H793.3V65.0H788.7zM626.9 65.0H631.6V69.5H626.9zM640.8 65.0H645.4V69.5H640.8zM774.8 65.0H779.4V69.5H774.8zM576.1 69.5H580.7V74.0H576.1zM626.9 69.5H631.6V74.0H626.9zM594.6 74.0H599.2V78.5H594.6zM705.5 74.0H710.1V78.5H705.5zM724.0 74.0H728.6V78.5H724.0zM770.2 74.0H774.8V78.5H770.2zM779.4 74.0H784.0V78.5H779.4zM603.8 78.5H608.4V83.0H603.8zM622.3 78.5H626.9V83.0H622.3zM673.1 78.5H677.8V83.0H673.1zM682.4 78.5H691.6V83.0H682.4zM696.2 78.5H700.9V83.0H696.2zM751.7 78.5H756.3V83.0H751.7zM765.6 78.5H770.2V83.0H765.6zM797.9 78.5H802.5V83.0H797.9zM816.4 78.5H821.0V83.0H816.4zM788.7 83.0H793.3V87.5H788.7zM650.0 87.5H654.7V92.0H650.0zM659.3 87.5H663.9V92.0H659.3zM797.9 87.5H802.5V92.0H797.9zM617.7 92.0H622.3V96.5H617.7zM636.2 92.0H640.8V96.5H636.2zM677.8 92.0H682.4V96.5H677.8zM705.5 92.0H710.1V96.5H705.5zM714.7 92.0H719.3V96.5H714.7zM751.7 92.0H756.3V96.5H751.7zM760.9 92.0H765.6V96.5H760.9zM631.6 96.5H636.2V101.0H631.6zM640.8 96.5H645.4V101.0H640.8zM691.6 96.5H696.2V101.0H691.6zM700.9 96.5H705.5V101.0H700.9zM742.4 96.5H747.1V101.0H742.4zM765.6 96.5H770.2V101.0H765.6zM793.3 96.5H797.9V101.0H793.3zM677.8 101.0H687.0V105.5H677.8zM733.2 101.0H737.8V105.5H733.2zM728.6 105.5H733.2V110.0H728.6zM737.8 110.0H742.4V114.5H737.8zM770.2 114.5H774.8V119.0H770.2zM705.5 119.0H710.1V123.5H705.5zM751.7 123.5H756.3V128.0H751.7zM797.9 123.5H802.5V128.0H797.9zM811.8 123.5H816.4V128.0H811.8zM650.0 128.0H654.7V132.5H650.0zM659.3 128.0H663.9V132.5H659.3zM747.1 128.0H751.7V132.5H747.1zM677.8 132.5H682.4V137.0H677.8zM797.9 132.5H807.1V137.0H797.9zM714.7 137.0H724.0V141.5H714.7zM737.8 137.0H742.4V141.5H737.8zM728.6 141.5H733.2V146.0H728.6zM733.2 146.0H737.8V150.5H733.2zM774.8 146.0H779.4V150.5H774.8zM807.1 146.0H811.8V150.5H807.1zM811.8 155.0H816.4V159.5H811.8zM797.9 159.5H802.5V164.0H797.9zM811.8 164.0H816.4V168.5H811.8zM797.9 173.0H802.5V177.5H797.9zM784.0 209.0H788.7V213.5H784.0zM774.8 222.5H779.4V227.0H774.8zM784.0 222.5H788.7V227.0H784.0z"/>
<path fill="#0037ff" d="M626.9 15.5H636.2V20.0H626.9zM640.8 15.5H645.4V20.0H640.8zM650.0 15.5H654.7V20.0H650.0zM728.6 15.5H737.8V20.0H728.6zM779.4 15.5H784.0V20.0H779.4zM700.9 20.0H705.5V24.5H700.9zM710.1 20.0H714.7V24.5H710.1zM770.2 20.0H779.4V24.5H770.2zM700.9 24.5H705.5V29.0H700.9zM724.0 24.5H728.6V29.0H724.0zM557.6 29.0H562.2V33.5H557.6zM566.9 29.0H571.5V33.5H566.9zM760.9 29.0H765.6V33.5H760.9zM562.2 33.5H566.9V38.0H562.2zM691.6 33.5H696.2V38.0H691.6zM742.4 33.5H747.1V38.0H742.4zM784.0 33.5H788.7V38.0H784.0zM562.2 38.0H566.9V42.5H562.2zM585.3 38.0H590.0V42.5H585.3zM691.6 38.0H696.2V42.5H691.6zM742.4 38.0H747.1V42.5H742.4zM779.4 38.0H788.7V42.5H779.4zM557.6 42.5H562.2V47.0H557.6zM603.8 42.5H608.4V47.0H603.8zM645.4 42.5H650.0V47.0H645.4zM668.5 42.5H673.1V47.0H668.5zM696.2 42.5H700.9V47.0H696.2zM714.7 42.5H719.3V47.0H714.7zM728.6 42.5H733.2V47.0H728.6zM760.9 42.5H765.6V47.0H760.9zM788.7 42.5H797.9V47.0H788.7zM553.0 47.0H562.2V51.5H553.0zM566.9 47.0H571.5V51.5H566.9zM663.9 47.0H668.5V51.5H663.9zM677.8 47.0H682.4V51.5H677.8zM724.0 47.0H728.6V51.5H724.0zM553.0 51.5H557.6V56.0H553.0zM576.1 51.5H580.7V56.0H576.1zM636.2 51.5H640.8V56.0H636.2zM737.8 51.5H742.4V56.0H737.8zM585.3 56.0H590.0V60.5H585.3zM700.9 56.0H705.5V60.5H700.9zM710.1 56.0H714.7V60.5H710.1zM553.0 60.5H557.6V65.0H553.0zM590.0 60.5H594.6V65.0H590.0zM617.7 60.5H622.3V65.0H617.7zM710.1 60.5H714.7V65.0H710.1zM811.8 60.5H821.0V65.0H811.8zM580.7 65.0H585.3V69.5H580.7zM608.4 65.0H613.1V69.5H608.4zM631.6 65.0H636.2V69.5H631.6zM682.4 65.0H687.0V69.5H682.4zM710.1 65.0H714.7V69.5H710.1zM737.8 65.0H742.4V69.5H737.8zM747.1 65.0H751.7V69.5H747.1zM603.8 69.5H608.4V74.0H603.8zM631.6 69.5H640.8V74.0H631.6zM668.5 69.5H673.1V74.0H668.5zM677.8 69.5H682.4V74.0H677.8zM751.7 69.5H756.3V74.0H751.7zM580.7 74.0H585.3V78.5H580.7zM659.3 74.0H663.9V78.5H659.3zM691.6 74.0H696.2V78.5H691.6zM747.1 74.0H751.7V78.5H747.1zM765.6 74.0H770.2V78.5H765.6zM811.8 74.0H821.0V78.5H811.8zM594.6 78.5H599.2V83.0H594.6zM645.4 78.5H650.0V83.0H645.4zM807.1 78.5H811.8V83.0H807.1zM608.4 83.0H613.1V87.5H608.4zM622.3 83.0H631.6V87.5H622.3zM636.2 83.0H640.8V87.5H636.2zM650.0 83.0H654.7V87.5H650.0zM673.1 83.0H677.8V87.5H673.1zM700.9 83.0H705.5V87.5H700.9zM793.3 83.0H797.9V87.5H793.3zM816.4 83.0H821.0V87.5H816.4zM626.9 87.5H631.6V92.0H626.9zM640.8 87.5H645.4V92.0H640.8zM696.2 87.5H700.9V92.0H696.2zM724.0 87.5H728.6V92.0H724.0zM663.9 92.0H668.5V96.5H663.9zM696.2 92.0H700.9V96.5H696.2zM737.8 92.0H742.4V96.5H737.8zM765.6 92.0H770.2V96.5H765.6zM788.7 92.0H793.3V96.5H788.7zM622.3 96.5H626.9V101.0H622.3zM668.5 96.5H673.1V101.0H668.5zM728.6 96.5H733.2V101.0H728.6zM802.5 96.5H807.1V101.0H802.5zM608.4 101.0H613.1V105.5H608.4zM687.0 101.0H691.6V105.5H687.0zM774.8 101.0H779.4V105.5H774.8zM571.5 105.5H576.1V110.0H571.5zM816.4 105.5H821.0V110.0H816.4zM622.3 110.0H626.9V114.5H622.3zM663.9 110.0H668.5V114.5H663.9zM719.3 110.0H724.0V114.5H719.3zM663.9 114.5H668.5V119.0H663.9zM728.6 114.5H733.2V119.0H728.6zM654.7 119.0H659.3V123.5H654.7zM668.5 119.0H673.1V123.5H668.5zM700.9 119.0H705.5V123.5H700.9zM770.2 119.0H774.8V123.5H770.2zM645.4 123.5H650.0V128.0H645.4zM705.5 123.5H710.1V128.0H705.5zM724.0 123.5H728.6V128.0H724.0zM793.3 123.5H797.9V128.0H793.3zM663.9 128.0H668.5V132.5H663.9zM733.2 132.5H737.8V137.0H733.2zM742.4 132.5H747.1V137.0H742.4zM774.8 132.5H779.4V137.0H774.8zM687.0 137.0H691.6V141.5H687.0zM742.4 137.0H747.1V141.5H742.4zM617.7 141.5H622.3V146.0H617.7zM770.2 146.0H774.8V150.5H770.2zM793.3 146.0H797.9V150.5H793.3zM733.2 150.5H737.8V155.0H733.2zM784.0 150.5H788.7V155.0H784.0zM793.3 150.5H797.9V155.0H793.3zM714.7 155.0H719.3V159.5H714.7zM811.8 159.5H816.4V164.0H811.8zM788.7 168.5H793.3V173.0H788.7zM811.8 168.5H816.4V173.0H811.8zM784.0 177.5H788.7V182.0H784.0zM811.8 209.0H816.4V213.5H811.8zM756.3 222.5H760.9V227.0H756.3z"/>
<path fill="#0042ff" d="M557.6 15.5H562.2V20.0H557.6zM580.7 15.5H585.3V20.0H580.7zM594.6 15.5H599.2V20.0H594.6zM668.5 15.5H677.8V20.0H668.5zM705.5 15.5H710.1V20.0H705.5zM747.1 15.5H751.7V20.0H747.1zM756.3 15.5H770.2V20.0H756.3zM585.3 20.0H590.0V24.5H585.3zM650.0 20.0H654.7V24.5H650.0zM677.8 20.0H682.4V24.5H677.8zM696.2 20.0H700.9V24.5H696.2zM719.3 20.0H724.0V24.5H719.3zM728.6 20.0H733.2V24.5H728.6zM779.4 20.0H784.0V24.5H779.4zM566.9 24.5H571.5V29.0H566.9zM576.1 24.5H585.3V29.0H576.1zM631.6 24.5H636.2V29.0H631.6zM650.0 24.5H654.7V29.0H650.0zM659.3 24.5H668.5V29.0H659.3zM765.6 24.5H770.2V29.0H765.6zM571.5 29.0H576.1V33.5H571.5zM580.7 29.0H585.3V33.5H580.7zM622.3 29.0H626.9V33.5H622.3zM673.1 29.0H677.8V33.5H673.1zM742.4 29.0H747.1V33.5H742.4zM756.3 29.0H760.9V33.5H756.3zM774.8 29.0H779.4V33.5H774.8zM784.0 29.0H788.7V33.5H784.0zM576.1 33.5H580.7V38.0H576.1zM622.3 33.5H626.9V38.0H622.3zM645.4 33.5H650.0V38.0H645.4zM696.2 33.5H700.9V38.0H696.2zM719.3 33.5H724.0V38.0H719.3zM728.6 33.5H742.4V38.0H728.6zM580.7 38.0H585.3V42.5H580.7zM696.2 38.0H700.9V42.5H696.2zM571.5 42.5H576.1V47.0H571.5zM580.7 42.5H585.3V47.0H580.7zM594.6 42.5H599.2V47.0H594.6zM631.6 42.5H636.2V47.0H631.6zM640.8 42.5H645.4V47.0H640.8zM779.4 42.5H784.0V47.0H779.4zM571.5 47.0H576.1V51.5H571.5zM603.8 47.0H613.1V51.5H603.8zM617.7 47.0H622.3V51.5H617.7zM710.1 47.0H714.7V51.5H710.1zM590.0 51.5H594.6V56.0H590.0zM599.2 51.5H603.8V56.0H599.2zM617.7 51.5H622.3V56.0H617.7zM673.1 51.5H677.8V56.0H673.1zM747.1 51.5H751.7V56.0H747.1zM756.3 51.5H760.9V56.0H756.3zM765.6 51.5H770.2V56.0H765.6zM774.8 51.5H779.4V56.0H774.8zM797.9 51.5H807.1V56.0H797.9zM811.8 51.5H821.0V56.0H811.8zM617.7 56.0H622.3V60.5H617.7zM631.6 56.0H636.2V60.5H631.6zM645.4 56.0H654.7V60.5H645.4zM677.8 56.0H682.4V60.5H677.8zM705.5 56.0H710.1V60.5H705.5zM724.0 56.0H728.6V60.5H724.0zM779.4 56.0H784.0V60.5H779.4zM576.1 60.5H585.3V65.0H576.1zM626.9 60.5H631.6V65.0H626.9zM654.7 60.5H659.3V65.0H654.7zM668.5 60.5H677.8V65.0H668.5zM687.0 60.5H691.6V65.0H687.0zM728.6 60.5H733.2V65.0H728.6zM562.2 65.0H566.9V69.5H562.2zM599.2 65.0H608.4V69.5H599.2zM650.0 65.0H654.7V69.5H650.0zM673.1 65.0H677.8V69.5H673.1zM705.5 65.0H710.1V69.5H705.5zM742.4 65.0H747.1V69.5H742.4zM760.9 65.0H765.6V69.5H760.9zM770.2 65.0H774.8V69.5H770.2zM802.5 65.0H807.1V69.5H802.5zM816.4 65.0H821.0V69.5H816.4zM599.2 69.5H603.8V74.0H599.2zM650.0 69.5H654.7V74.0H650.0zM659.3 69.5H663.9V74.0H659.3zM710.1 69.5H719.3V74.0H710.1zM742.4 69.5H747.1V74.0H742.4zM788.7 69.5H793.3V74.0H788.7zM797.9 69.5H802.5V74.0H797.9zM807.1 69.5H811.8V74.0H807.1zM557.6 74.0H562.2V78.5H557.6zM566.9 74.0H571.5V78.5H566.9zM603.8 74.0H608.4V78.5H603.8zM613.1 74.0H617.7V78.5H613.1zM645.4 74.0H659.3V78.5H645.4zM663.9 74.0H668.5V78.5H663.9zM751.7 74.0H756.3V78.5H751.7zM636.2 78.5H640.8V83.0H636.2zM654.7 78.5H659.3V83.0H654.7zM691.6 78.5H696.2V83.0H691.6zM733.2 78.5H737.8V83.0H733.2zM802.5 78.5H807.1V83.0H802.5zM811.8 78.5H816.4V83.0H811.8zM585.3 83.0H590.0V87.5H585.3zM617.7 83.0H622.3V87.5H617.7zM677.8 83.0H682.4V87.5H677.8zM747.1 83.0H756.3V87.5H747.1zM765.6 83.0H770.2V87.5H765.6zM677.8 87.5H682.4V92.0H677.8zM710.1 87.5H714.7V92.0H710.1zM765.6 87.5H770.2V92.0H765.6zM784.0 87.5H788.7V92.0H784.0zM793.3 87.5H797.9V92.0H793.3zM576.1 92.0H580.7V96.5H576.1zM585.3 92.0H590.0V96.5H585.3zM626.9 92.0H631.6V96.5H626.9zM640.8 92.0H645.4V96.5H640.8zM654.7 92.0H659.3V96.5H654.7zM668.5 92.0H673.1V96.5H668.5zM728.6 92.0H733.2V96.5H728.6zM811.8 92.0H816.4V96.5H811.8zM645.4 96.5H650.0V101.0H645.4zM682.4 96.5H687.0V101.0H682.4zM733.2 96.5H737.8V101.0H733.2zM760.9 96.5H765.6V101.0H760.9zM576.1 101.0H580.7V105.5H576.1zM617.7 101.0H626.9V105.5H617.7zM645.4 101.0H650.0V105.5H645.4zM700.9 101.0H710.1V105.5H700.9zM728.6 101.0H733.2V105.5H728.6zM760.9 101.0H765.6V105.5H760.9zM816.4 101.0H821.0V105.5H816.4zM636.2 105.5H640.8V110.0H636.2zM645.4 105.5H650.0V110.0H645.4zM733.2 105.5H742.4V110.0H733.2zM779.4 105.5H784.0V110.0H779.4zM807.1 105.5H811.8V110.0H807.1zM673.1 110.0H677.8V114.5H673.1zM682.4 110.0H687.0V114.5H682.4zM696.2 110.0H700.9V114.5H696.2zM770.2 110.0H774.8V114.5H770.2zM802.5 110.0H807.1V114.5H802.5zM636.2 114.5H640.8V119.0H636.2zM668.5 114.5H673.1V119.0H668.5zM677.8 114.5H682.4V119.0H677.8zM691.6 114.5H696.2V119.0H691.6zM811.8 114.5H816.4V119.0H811.8zM650.0 119.0H654.7V123.5H650.0zM682.4 119.0H687.0V123.5H682.4zM696.2 119.0H700.9V123.5H696.2zM719.3 119.0H724.0V123.5H719.3zM797.9 119.0H807.1V123.5H797.9zM677.8 123.5H682.4V128.0H677.8zM728.6 123.5H737.8V128.0H728.6zM760.9 123.5H765.6V128.0H760.9zM802.5 123.5H807.1V128.0H802.5zM710.1 128.0H714.7V132.5H710.1zM742.4 128.0H747.1V132.5H742.4zM747.1 132.5H751.7V137.0H747.1zM793.3 132.5H797.9V137.0H793.3zM650.0 137.0H654.7V141.5H650.0zM793.3 137.0H797.9V141.5H793.3zM562.2 141.5H566.9V146.0H562.2zM811.8 141.5H816.4V146.0H811.8zM654.7 146.0H659.3V150.5H654.7zM802.5 146.0H807.1V150.5H802.5zM728.6 159.5H733.2V164.0H728.6zM774.8 159.5H779.4V164.0H774.8zM816.4 159.5H821.0V164.0H816.4zM793.3 168.5H797.9V173.0H793.3zM816.4 168.5H821.0V173.0H816.4zM788.7 173.0H793.3V177.5H788.7zM811.8 177.5H816.4V182.0H811.8zM793.3 186.5H797.9V191.0H793.3zM807.1 186.5H811.8V191.0H807.1zM802.5 195.5H807.1V200.0H802.5zM797.9 200.0H807.1V204.5H797.9zM774.8 209.0H779.4V213.5H774.8zM784.0 213.5H788.7V218.0H784.0zM816.4 218.0H821.0V222.5H816.4zM765.6 222.5H770.2V227.0H765.6zM793.3 222.5H802.5V227.0H793.3z"/>
<path fill="#004dff" d="M599.2 15.5H603.8V20.0H599.2zM622.3 15.5H626.9V20.0H622.3zM636.2 15.5H640.8V20.0H636.2zM714.7 15.5H719.3V20.0H714.7zM784.0 15.5H793.3V20.0H784.0zM807.1 15.5H811.8V20.0H807.1zM562.2 20.0H566.9V24.5H562.2zM580.7 20.0H585.3V24.5H580.7zM673.1 20.0H677.8V24.5H673.1zM714.7 20.0H719.3V24.5H714.7zM571.5 24.5H576.1V29.0H571.5zM603.8 24.5H613.1V29.0H603.8zM626.9 24.5H631.6V29.0H626.9zM640.8 24.5H645.4V29.0H640.8zM668.5 24.5H677.8V29.0H668.5zM687.0 24.5H691.6V29.0H687.0zM710.1 24.5H714.7V29.0H710.1zM719.3 24.5H724.0V29.0H719.3zM728.6 24.5H733.2V29.0H728.6zM742.4 24.5H747.1V29.0H742.4zM594.6 29.0H599.2V33.5H594.6zM603.8 29.0H608.4V33.5H603.8zM631.6 29.0H636.2V33.5H631.6zM654.7 29.0H659.3V33.5H654.7zM682.4 29.0H687.0V33.5H682.4zM714.7 29.0H719.3V33.5H714.7zM737.8 29.0H742.4V33.5H737.8zM747.1 29.0H756.3V33.5H747.1zM566.9 33.5H571.5V38.0H566.9zM590.0 33.5H594.6V38.0H590.0zM599.2 33.5H603.8V38.0H599.2zM617.7 33.5H622.3V38.0H617.7zM636.2 33.5H640.8V38.0H636.2zM673.1 33.5H677.8V38.0H673.1zM700.9 33.5H705.5V38.0H700.9zM751.7 33.5H756.3V38.0H751.7zM770.2 33.5H774.8V38.0H770.2zM779.4 33.5H784.0V38.0H779.4zM576.1 38.0H580.7V42.5H576.1zM599.2 38.0H603.8V42.5H599.2zM640.8 38.0H645.4V42.5H640.8zM687.0 38.0H691.6V42.5H687.0zM705.5 38.0H710.1V42.5H705.5zM719.3 38.0H724.0V42.5H719.3zM728.6 38.0H733.2V42.5H728.6zM756.3 38.0H760.9V42.5H756.3zM788.7 38.0H793.3V42.5H788.7zM622.3 42.5H631.6V47.0H622.3zM677.8 42.5H682.4V47.0H677.8zM705.5 42.5H710.1V47.0H705.5zM756.3 42.5H760.9V47.0H756.3zM807.1 42.5H811.8V47.0H807.1zM562.2 47.0H566.9V51.5H562.2zM590.0 47.0H603.8V51.5H590.0zM622.3 47.0H640.8V51.5H622.3zM645.4 47.0H659.3V51.5H645.4zM705.5 47.0H710.1V51.5H705.5zM719.3 47.0H724.0V51.5H719.3zM737.8 47.0H742.4V51.5H737.8zM751.7 47.0H756.3V51.5H751.7zM770.2 47.0H774.8V51.5H770.2zM779.4 47.0H784.0V51.5H779.4zM566.9 51.5H571.5V56.0H566.9zM613.1 51.5H617.7V56.0H613.1zM622.3 51.5H626.9V56.0H622.3zM645.4 51.5H650.0V56.0H645.4zM654.7 51.5H659.3V56.0H654.7zM682.4 51.5H687.0V56.0H682.4zM733.2 51.5H737.8V56.0H733.2zM770.2 51.5H774.8V56.0H770.2zM557.6 56.0H562.2V60.5H557.6zM640.8 56.0H645.4V60.5H640.8zM687.0 56.0H700.9V60.5H687.0zM714.7 56.0H719.3V60.5H714.7zM728.6 56.0H733.2V60.5H728.6zM742.4 56.0H747.1V60.5H742.4zM774.8 56.0H779.4V60.5H774.8zM793.3 56.0H797.9V60.5H793.3zM562.2 60.5H566.9V65.0H562.2zM603.8 60.5H608.4V65.0H603.8zM645.4 60.5H654.7V65.0H645.4zM682.4 60.5H687.0V65.0H682.4zM737.8 60.5H742.4V65.0H737.8zM747.1 60.5H751.7V65.0H747.1zM756.3 60.5H760.9V65.0H756.3zM590.0 65.0H594.6V69.5H590.0zM617.7 65.0H626.9V69.5H617.7zM636.2 65.0H640.8V69.5H636.2zM668.5 65.0H673.1V69.5H668.5zM714.7 65.0H719.3V69.5H714.7zM779.4 65.0H784.0V69.5H779.4zM788.7 65.0H793.3V69.5H788.7zM797.9 65.0H802.5V69.5H797.9zM585.3 69.5H594.6V74.0H585.3zM608.4 69.5H613.1V74.0H608.4zM617.7 69.5H626.9V74.0H617.7zM673.1 69.5H677.8V74.0H673.1zM733.2 69.5H737.8V74.0H733.2zM793.3 69.5H797.9V74.0H793.3zM553.0 74.0H557.6V78.5H553.0zM677.8 74.0H682.4V78.5H677.8zM728.6 74.0H733.2V78.5H728.6zM756.3 74.0H760.9V78.5H756.3zM650.0 78.5H654.7V83.0H650.0zM747.1 78.5H751.7V83.0H747.1zM599.2 83.0H608.4V87.5H599.2zM691.6 83.0H696.2V87.5H691.6zM714.7 83.0H728.6V87.5H714.7zM784.0 83.0H788.7V87.5H784.0zM585.3 87.5H590.0V92.0H585.3zM622.3 87.5H626.9V92.0H622.3zM631.6 87.5H636.2V92.0H631.6zM682.4 87.5H687.0V92.0H682.4zM705.5 87.5H710.1V92.0H705.5zM728.6 87.5H733.2V92.0H728.6zM737.8 87.5H742.4V92.0H737.8zM770.2 87.5H774.8V92.0H770.2zM779.4 87.5H784.0V92.0H779.4zM811.8 87.5H816.4V92.0H811.8zM733.2 92.0H737.8V96.5H733.2zM802.5 92.0H807.1V96.5H802.5zM816.4 92.0H821.0V96.5H816.4zM659.3 96.5H668.5V101.0H659.3zM710.1 96.5H719.3V101.0H710.1zM747.1 96.5H751.7V101.0H747.1zM756.3 96.5H760.9V101.0H756.3zM797.9 96.5H802.5V101.0H797.9zM807.1 96.5H811.8V101.0H807.1zM626.9 101.0H631.6V105.5H626.9zM673.1 101.0H677.8V105.5H673.1zM691.6 101.0H700.9V105.5H691.6zM714.7 101.0H719.3V105.5H714.7zM747.1 101.0H756.3V105.5H747.1zM811.8 101.0H816.4V105.5H811.8zM603.8 105.5H608.4V110.0H603.8zM650.0 105.5H654.7V110.0H650.0zM682.4 105.5H687.0V110.0H682.4zM747.1 105.5H751.7V110.0H747.1zM580.7 110.0H585.3V114.5H580.7zM700.9 110.0H705.5V114.5H700.9zM742.4 110.0H747.1V114.5H742.4zM774.8 110.0H779.4V114.5H774.8zM640.8 114.5H645.4V119.0H640.8zM654.7 114.5H659.3V119.0H654.7zM705.5 114.5H710.1V119.0H705.5zM576.1 119.0H580.7V123.5H576.1zM622.3 119.0H636.2V123.5H622.3zM659.3 119.0H663.9V123.5H659.3zM724.0 119.0H728.6V123.5H724.0zM742.4 119.0H747.1V123.5H742.4zM788.7 119.0H793.3V123.5H788.7zM811.8 119.0H816.4V123.5H811.8zM663.9 123.5H673.1V128.0H663.9zM682.4 123.5H687.0V128.0H682.4zM714.7 123.5H724.0V128.0H714.7zM737.8 123.5H742.4V128.0H737.8zM756.3 123.5H760.9V128.0H756.3zM788.7 123.5H793.3V128.0H788.7zM654.7 128.0H659.3V132.5H654.7zM668.5 128.0H673.1V132.5H668.5zM705.5 128.0H710.1V132.5H705.5zM724.0 128.0H728.6V132.5H724.0zM779.4 128.0H784.0V132.5H779.4zM802.5 128.0H807.1V132.5H802.5zM636.2 132.5H640.8V137.0H636.2zM673.1 132.5H677.8V137.0H673.1zM700.9 132.5H705.5V137.0H700.9zM710.1 132.5H714.7V137.0H710.1zM728.6 132.5H733.2V137.0H728.6zM756.3 132.5H760.9V137.0H756.3zM784.0 132.5H793.3V137.0H784.0zM663.9 137.0H668.5V141.5H663.9zM751.7 137.0H756.3V141.5H751.7zM807.1 137.0H811.8V141.5H807.1zM742.4 141.5H747.1V146.0H742.4zM779.4 141.5H784.0V146.0H779.4zM784.0 146.0H788.7V150.5H784.0zM802.5 150.5H807.1V155.0H802.5zM719.3 155.0H724.0V159.5H719.3zM742.4 155.0H747.1V159.5H742.4zM784.0 164.0H788.7V168.5H784.0zM784.0 168.5H788.7V173.0H784.0zM760.9 182.0H765.6V186.5H760.9zM793.3 191.0H797.9V195.5H793.3zM760.9 209.0H765.6V213.5H760.9zM788.7 218.0H793.3V222.5H788.7zM807.1 218.0H811.8V222.5H807.1z"/>
<path fill="#0057ff" d="M562.2 15.5H566.9V20.0H562.2zM613.1 15.5H617.7V20.0H613.1zM659.3 15.5H663.9V20.0H659.3zM700.9 15.5H705.5V20.0H700.9zM710.1 15.5H714.7V20.0H710.1zM742.4 15.5H747.1V20.0H742.4zM816.4 15.5H821.0V20.0H816.4zM553.0 20.0H562.2V24.5H553.0zM608.4 20.0H613.1V24.5H608.4zM617.7 20.0H622.3V24.5H617.7zM636.2 20.0H640.8V24.5H636.2zM645.4 20.0H650.0V24.5H645.4zM668.5 20.0H673.1V24.5H668.5zM682.4 20.0H687.0V24.5H682.4zM747.1 20.0H751.7V24.5H747.1zM756.3 20.0H760.9V24.5H756.3zM784.0 20.0H788.7V24.5H784.0zM816.4 20.0H821.0V24.5H816.4zM654.7 24.5H659.3V29.0H654.7zM705.5 24.5H710.1V29.0H705.5zM714.7 24.5H719.3V29.0H714.7zM747.1 24.5H751.7V29.0H747.1zM779.4 24.5H784.0V29.0H779.4zM562.2 29.0H566.9V33.5H562.2zM585.3 29.0H590.0V33.5H585.3zM617.7 29.0H622.3V33.5H617.7zM636.2 29.0H640.8V33.5H636.2zM668.5 29.0H673.1V33.5H668.5zM770.2 29.0H774.8V33.5H770.2zM811.8 29.0H816.4V33.5H811.8zM553.0 33.5H557.6V38.0H553.0zM594.6 33.5H599.2V38.0H594.6zM613.1 33.5H617.7V38.0H613.1zM640.8 33.5H645.4V38.0H640.8zM710.1 33.5H714.7V38.0H710.1zM747.1 33.5H751.7V38.0H747.1zM793.3 33.5H797.9V38.0H793.3zM566.9 38.0H571.5V42.5H566.9zM603.8 38.0H608.4V42.5H603.8zM631.6 38.0H640.8V42.5H631.6zM654.7 38.0H659.3V42.5H654.7zM668.5 38.0H677.8V42.5H668.5zM682.4 38.0H687.0V42.5H682.4zM710.1 38.0H714.7V42.5H710.1zM770.2 38.0H774.8V42.5H770.2zM816.4 38.0H821.0V42.5H816.4zM590.0 42.5H594.6V47.0H590.0zM617.7 42.5H622.3V47.0H617.7zM659.3 42.5H663.9V47.0H659.3zM747.1 42.5H751.7V47.0H747.1zM770.2 42.5H779.4V47.0H770.2zM673.1 47.0H677.8V51.5H673.1zM687.0 47.0H696.2V51.5H687.0zM756.3 47.0H760.9V51.5H756.3zM793.3 47.0H797.9V51.5H793.3zM557.6 51.5H562.2V56.0H557.6zM571.5 51.5H576.1V56.0H571.5zM594.6 51.5H599.2V56.0H594.6zM608.4 51.5H613.1V56.0H608.4zM677.8 51.5H682.4V56.0H677.8zM696.2 51.5H700.9V56.0H696.2zM779.4 51.5H784.0V56.0H779.4zM788.7 51.5H797.9V56.0H788.7zM553.0 56.0H557.6V60.5H553.0zM590.0 56.0H594.6V60.5H590.0zM737.8 56.0H742.4V60.5H737.8zM751.7 56.0H756.3V60.5H751.7zM760.9 56.0H765.6V60.5H760.9zM599.2 60.5H603.8V65.0H599.2zM613.1 60.5H617.7V65.0H613.1zM622.3 60.5H626.9V65.0H622.3zM636.2 60.5H640.8V65.0H636.2zM696.2 60.5H705.5V65.0H696.2zM742.4 60.5H747.1V65.0H742.4zM760.9 60.5H765.6V65.0H760.9zM770.2 60.5H774.8V65.0H770.2zM594.6 65.0H599.2V69.5H594.6zM659.3 65.0H663.9V69.5H659.3zM691.6 65.0H696.2V69.5H691.6zM700.9 65.0H705.5V69.5H700.9zM724.0 65.0H737.8V69.5H724.0zM811.8 65.0H816.4V69.5H811.8zM553.0 69.5H557.6V74.0H553.0zM719.3 69.5H724.0V74.0H719.3zM770.2 69.5H774.8V74.0H770.2zM576.1 74.0H580.7V78.5H576.1zM622.3 74.0H626.9V78.5H622.3zM673.1 74.0H677.8V78.5H673.1zM696.2 74.0H700.9V78.5H696.2zM719.3 74.0H724.0V78.5H719.3zM788.7 74.0H793.3V78.5H788.7zM585.3 78.5H594.6V83.0H585.3zM663.9 78.5H673.1V83.0H663.9zM710.1 78.5H714.7V83.0H710.1zM760.9 78.5H765.6V83.0H760.9zM770.2 78.5H779.4V83.0H770.2zM566.9 83.0H571.5V87.5H566.9zM590.0 83.0H594.6V87.5H590.0zM654.7 83.0H663.9V87.5H654.7zM774.8 83.0H779.4V87.5H774.8zM802.5 83.0H807.1V87.5H802.5zM562.2 87.5H566.9V92.0H562.2zM599.2 87.5H603.8V92.0H599.2zM714.7 87.5H719.3V92.0H714.7zM742.4 87.5H747.1V92.0H742.4zM774.8 87.5H779.4V92.0H774.8zM802.5 87.5H807.1V92.0H802.5zM562.2 92.0H566.9V96.5H562.2zM590.0 92.0H594.6V96.5H590.0zM631.6 92.0H636.2V96.5H631.6zM687.0 92.0H691.6V96.5H687.0zM742.4 92.0H747.1V96.5H742.4zM779.4 92.0H788.7V96.5H779.4zM580.7 96.5H585.3V101.0H580.7zM603.8 96.5H608.4V101.0H603.8zM650.0 96.5H654.7V101.0H650.0zM696.2 96.5H700.9V101.0H696.2zM719.3 96.5H728.6V101.0H719.3zM784.0 96.5H788.7V101.0H784.0zM566.9 101.0H571.5V105.5H566.9zM599.2 101.0H603.8V105.5H599.2zM631.6 101.0H636.2V105.5H631.6zM654.7 101.0H659.3V105.5H654.7zM668.5 101.0H673.1V105.5H668.5zM710.1 101.0H714.7V105.5H710.1zM719.3 101.0H728.6V105.5H719.3zM765.6 101.0H770.2V105.5H765.6zM802.5 101.0H807.1V105.5H802.5zM594.6 105.5H599.2V110.0H594.6zM613.1 105.5H617.7V110.0H613.1zM691.6 105.5H700.9V110.0H691.6zM714.7 105.5H719.3V110.0H714.7zM765.6 105.5H770.2V110.0H765.6zM811.8 105.5H816.4V110.0H811.8zM631.6 110.0H645.4V114.5H631.6zM659.3 110.0H663.9V114.5H659.3zM677.8 110.0H682.4V114.5H677.8zM710.1 110.0H714.7V114.5H710.1zM747.1 110.0H756.3V114.5H747.1zM765.6 110.0H770.2V114.5H765.6zM807.1 110.0H811.8V114.5H807.1zM580.7 114.5H585.3V119.0H580.7zM608.4 114.5H613.1V119.0H608.4zM687.0 114.5H691.6V119.0H687.0zM742.4 114.5H747.1V119.0H742.4zM756.3 114.5H760.9V119.0H756.3zM793.3 114.5H802.5V119.0H793.3zM807.1 114.5H811.8V119.0H807.1zM557.6 119.0H566.9V123.5H557.6zM599.2 119.0H603.8V123.5H599.2zM608.4 119.0H613.1V123.5H608.4zM640.8 119.0H645.4V123.5H640.8zM663.9 119.0H668.5V123.5H663.9zM673.1 119.0H677.8V123.5H673.1zM687.0 119.0H691.6V123.5H687.0zM710.1 119.0H714.7V123.5H710.1zM747.1 119.0H751.7V123.5H747.1zM760.9 119.0H765.6V123.5H760.9zM793.3 119.0H797.9V123.5H793.3zM640.8 123.5H645.4V128.0H640.8zM654.7 123.5H659.3V128.0H654.7zM765.6 123.5H770.2V128.0H765.6zM636.2 128.0H645.4V132.5H636.2zM673.1 128.0H677.8V132.5H673.1zM696.2 128.0H700.9V132.5H696.2zM728.6 128.0H737.8V132.5H728.6zM756.3 128.0H760.9V132.5H756.3zM811.8 128.0H816.4V132.5H811.8zM659.3 132.5H663.9V137.0H659.3zM687.0 132.5H691.6V137.0H687.0zM719.3 132.5H724.0V137.0H719.3zM737.8 132.5H742.4V137.0H737.8zM770.2 132.5H774.8V137.0H770.2zM807.1 132.5H811.8V137.0H807.1zM659.3 137.0H663.9V141.5H659.3zM724.0 137.0H733.2V141.5H724.0zM779.4 137.0H784.0V141.5H779.4zM802.5 137.0H807.1V141.5H802.5zM751.7 141.5H756.3V146.0H751.7zM774.8 141.5H779.4V146.0H774.8zM811.8 146.0H816.4V150.5H811.8zM770.2 150.5H774.8V155.0H770.2zM816.4 150.5H821.0V155.0H816.4zM760.9 155.0H765.6V159.5H760.9zM774.8 155.0H779.4V159.5H774.8zM807.1 155.0H811.8V159.5H807.1zM779.4 159.5H784.0V164.0H779.4zM770.2 164.0H774.8V168.5H770.2zM797.9 164.0H802.5V168.5H797.9zM811.8 173.0H816.4V177.5H811.8zM765.6 177.5H770.2V182.0H765.6zM793.3 177.5H797.9V182.0H793.3zM802.5 182.0H807.1V186.5H802.5zM774.8 186.5H779.4V191.0H774.8zM811.8 186.5H816.4V191.0H811.8zM774.8 191.0H779.4V195.5H774.8zM774.8 195.5H779.4V200.0H774.8zM793.3 195.5H802.5V200.0H793.3zM760.9 200.0H770.2V204.5H760.9zM807.1 222.5H811.8V227.0H807.1z"/>
<path fill="#0062ff" d="M571.5 15.5H576.1V20.0H571.5zM682.4 15.5H687.0V20.0H682.4zM571.5 20.0H580.7V24.5H571.5zM687.0 20.0H691.6V24.5H687.0zM751.7 20.0H756.3V24.5H751.7zM557.6 24.5H562.2V29.0H557.6zM613.1 24.5H617.7V29.0H613.1zM636.2 24.5H640.8V29.0H636.2zM645.4 24.5H650.0V29.0H645.4zM774.8 24.5H779.4V29.0H774.8zM677.8 29.0H682.4V33.5H677.8zM696.2 29.0H705.5V33.5H696.2zM733.2 29.0H737.8V33.5H733.2zM797.9 29.0H802.5V33.5H797.9zM626.9 33.5H631.6V38.0H626.9zM663.9 33.5H668.5V38.0H663.9zM677.8 33.5H682.4V38.0H677.8zM760.9 33.5H770.2V38.0H760.9zM553.0 38.0H557.6V42.5H553.0zM626.9 38.0H631.6V42.5H626.9zM650.0 38.0H654.7V42.5H650.0zM724.0 38.0H728.6V42.5H724.0zM797.9 38.0H802.5V42.5H797.9zM807.1 38.0H811.8V42.5H807.1zM599.2 42.5H603.8V47.0H599.2zM673.1 42.5H677.8V47.0H673.1zM691.6 42.5H696.2V47.0H691.6zM797.9 42.5H807.1V47.0H797.9zM811.8 42.5H816.4V47.0H811.8zM576.1 47.0H580.7V51.5H576.1zM742.4 47.0H747.1V51.5H742.4zM774.8 47.0H779.4V51.5H774.8zM788.7 47.0H793.3V51.5H788.7zM797.9 47.0H802.5V51.5H797.9zM562.2 51.5H566.9V56.0H562.2zM631.6 51.5H636.2V56.0H631.6zM640.8 51.5H645.4V56.0H640.8zM668.5 51.5H673.1V56.0H668.5zM751.7 51.5H756.3V56.0H751.7zM571.5 56.0H576.1V60.5H571.5zM747.1 56.0H751.7V60.5H747.1zM788.7 56.0H793.3V60.5H788.7zM807.1 56.0H811.8V60.5H807.1zM571.5 60.5H576.1V65.0H571.5zM631.6 60.5H636.2V65.0H631.6zM719.3 60.5H724.0V65.0H719.3zM802.5 60.5H807.1V65.0H802.5zM553.0 65.0H562.2V69.5H553.0zM566.9 65.0H571.5V69.5H566.9zM576.1 65.0H580.7V69.5H576.1zM613.1 65.0H617.7V69.5H613.1zM696.2 65.0H700.9V69.5H696.2zM719.3 65.0H724.0V69.5H719.3zM793.3 65.0H797.9V69.5H793.3zM571.5 69.5H576.1V74.0H571.5zM580.7 69.5H585.3V74.0H580.7zM663.9 69.5H668.5V74.0H663.9zM687.0 69.5H691.6V74.0H687.0zM705.5 69.5H710.1V74.0H705.5zM728.6 69.5H733.2V74.0H728.6zM737.8 69.5H742.4V74.0H737.8zM747.1 69.5H751.7V74.0H747.1zM774.8 69.5H779.4V74.0H774.8zM784.0 69.5H788.7V74.0H784.0zM811.8 69.5H816.4V74.0H811.8zM640.8 74.0H645.4V78.5H640.8zM687.0 74.0H691.6V78.5H687.0zM737.8 74.0H747.1V78.5H737.8zM802.5 74.0H811.8V78.5H802.5zM571.5 78.5H580.7V83.0H571.5zM608.4 78.5H613.1V83.0H608.4zM626.9 78.5H631.6V83.0H626.9zM677.8 78.5H682.4V83.0H677.8zM714.7 78.5H719.3V83.0H714.7zM728.6 78.5H733.2V83.0H728.6zM737.8 78.5H742.4V83.0H737.8zM793.3 78.5H797.9V83.0H793.3zM576.1 83.0H580.7V87.5H576.1zM613.1 83.0H617.7V87.5H613.1zM631.6 83.0H636.2V87.5H631.6zM645.4 83.0H650.0V87.5H645.4zM728.6 83.0H737.8V87.5H728.6zM779.4 83.0H784.0V87.5H779.4zM807.1 83.0H811.8V87.5H807.1zM566.9 87.5H571.5V92.0H566.9zM576.1 87.5H580.7V92.0H576.1zM590.0 87.5H594.6V92.0H590.0zM617.7 87.5H622.3V92.0H617.7zM636.2 87.5H640.8V92.0H636.2zM733.2 87.5H737.8V92.0H733.2zM557.6 92.0H562.2V96.5H557.6zM603.8 92.0H608.4V96.5H603.8zM613.1 92.0H617.7V96.5H613.1zM659.3 92.0H663.9V96.5H659.3zM700.9 92.0H705.5V96.5H700.9zM710.1 92.0H714.7V96.5H710.1zM557.6 96.5H562.2V101.0H557.6zM590.0 96.5H594.6V101.0H590.0zM705.5 96.5H710.1V101.0H705.5zM770.2 96.5H774.8V101.0H770.2zM811.8 96.5H816.4V101.0H811.8zM553.0 101.0H557.6V105.5H553.0zM590.0 101.0H594.6V105.5H590.0zM603.8 101.0H608.4V105.5H603.8zM613.1 101.0H617.7V105.5H613.1zM650.0 101.0H654.7V105.5H650.0zM737.8 101.0H747.1V105.5H737.8zM770.2 101.0H774.8V105.5H770.2zM779.4 101.0H784.0V105.5H779.4zM793.3 101.0H802.5V105.5H793.3zM631.6 105.5H636.2V110.0H631.6zM673.1 105.5H682.4V110.0H673.1zM700.9 105.5H705.5V110.0H700.9zM710.1 105.5H714.7V110.0H710.1zM793.3 105.5H797.9V110.0H793.3zM645.4 110.0H650.0V114.5H645.4zM687.0 110.0H691.6V114.5H687.0zM714.7 110.0H719.3V114.5H714.7zM756.3 110.0H760.9V114.5H756.3zM788.7 110.0H793.3V114.5H788.7zM617.7 114.5H622.3V119.0H617.7zM650.0 114.5H654.7V119.0H650.0zM659.3 114.5H663.9V119.0H659.3zM682.4 114.5H687.0V119.0H682.4zM737.8 114.5H742.4V119.0H737.8zM747.1 114.5H751.7V119.0H747.1zM784.0 114.5H788.7V119.0H784.0zM603.8 119.0H608.4V123.5H603.8zM613.1 119.0H617.7V123.5H613.1zM714.7 119.0H719.3V123.5H714.7zM733.2 119.0H737.8V123.5H733.2zM756.3 119.0H760.9V123.5H756.3zM765.6 119.0H770.2V123.5H765.6zM779.4 119.0H784.0V123.5H779.4zM650.0 123.5H654.7V128.0H650.0zM673.1 123.5H677.8V128.0H673.1zM700.9 123.5H705.5V128.0H700.9zM710.1 123.5H714.7V128.0H710.1zM747.1 123.5H751.7V128.0H747.1zM779.4 123.5H784.0V128.0H779.4zM719.3 128.0H724.0V132.5H719.3zM751.7 128.0H756.3V132.5H751.7zM770.2 128.0H774.8V132.5H770.2zM793.3 128.0H797.9V132.5H793.3zM807.1 128.0H811.8V132.5H807.1zM714.7 132.5H719.3V137.0H714.7zM816.4 132.5H821.0V137.0H816.4zM673.1 137.0H677.8V141.5H673.1zM691.6 141.5H696.2V146.0H691.6zM710.1 141.5H719.3V146.0H710.1zM747.1 141.5H751.7V146.0H747.1zM784.0 141.5H788.7V146.0H784.0zM719.3 150.5H724.0V155.0H719.3zM756.3 155.0H760.9V159.5H756.3zM784.0 155.0H788.7V159.5H784.0zM788.7 159.5H793.3V164.0H788.7zM802.5 173.0H807.1V177.5H802.5zM816.4 173.0H821.0V177.5H816.4zM816.4 177.5H821.0V182.0H816.4zM774.8 182.0H779.4V186.5H774.8zM816.4 182.0H821.0V186.5H816.4zM756.3 186.5H760.9V191.0H756.3zM770.2 191.0H774.8V195.5H770.2zM811.8 191.0H821.0V195.5H811.8zM788.7 200.0H793.3V204.5H788.7zM816.4 209.0H821.0V213.5H816.4zM751.7 218.0H756.3V222.5H751.7zM779.4 222.5H784.0V227.0H779.4z"/>
<path fill="#006dff" d="M553.0 15.5H557.6V20.0H553.0zM585.3 15.5H590.0V20.0H585.3zM608.4 15.5H613.1V20.0H608.4zM645.4 15.5H650.0V20.0H645.4zM654.7 15.5H659.3V20.0H654.7zM663.9 15.5H668.5V20.0H663.9zM687.0 15.5H691.6V20.0H687.0zM724.0 15.5H728.6V20.0H724.0zM751.7 15.5H756.3V20.0H751.7zM774.8 15.5H779.4V20.0H774.8zM797.9 15.5H802.5V20.0H797.9zM590.0 20.0H599.2V24.5H590.0zM603.8 20.0H608.4V24.5H603.8zM613.1 20.0H617.7V24.5H613.1zM765.6 20.0H770.2V24.5H765.6zM797.9 20.0H802.5V24.5H797.9zM594.6 24.5H599.2V29.0H594.6zM696.2 24.5H700.9V29.0H696.2zM784.0 24.5H793.3V29.0H784.0zM590.0 29.0H594.6V33.5H590.0zM613.1 29.0H617.7V33.5H613.1zM659.3 29.0H663.9V33.5H659.3zM691.6 29.0H696.2V33.5H691.6zM705.5 29.0H714.7V33.5H705.5zM788.7 29.0H793.3V33.5H788.7zM802.5 29.0H811.8V33.5H802.5zM571.5 33.5H576.1V38.0H571.5zM603.8 33.5H613.1V38.0H603.8zM631.6 33.5H636.2V38.0H631.6zM659.3 33.5H663.9V38.0H659.3zM687.0 33.5H691.6V38.0H687.0zM714.7 33.5H719.3V38.0H714.7zM557.6 38.0H562.2V42.5H557.6zM594.6 38.0H599.2V42.5H594.6zM622.3 38.0H626.9V42.5H622.3zM663.9 38.0H668.5V42.5H663.9zM760.9 38.0H770.2V42.5H760.9zM562.2 42.5H571.5V47.0H562.2zM576.1 42.5H580.7V47.0H576.1zM710.1 42.5H714.7V47.0H710.1zM737.8 42.5H742.4V47.0H737.8zM613.1 47.0H617.7V51.5H613.1zM640.8 47.0H645.4V51.5H640.8zM714.7 47.0H719.3V51.5H714.7zM811.8 47.0H821.0V51.5H811.8zM650.0 51.5H654.7V56.0H650.0zM659.3 51.5H663.9V56.0H659.3zM687.0 51.5H691.6V56.0H687.0zM705.5 51.5H710.1V56.0H705.5zM760.9 51.5H765.6V56.0H760.9zM576.1 56.0H580.7V60.5H576.1zM608.4 56.0H613.1V60.5H608.4zM636.2 56.0H640.8V60.5H636.2zM756.3 56.0H760.9V60.5H756.3zM784.0 56.0H788.7V60.5H784.0zM566.9 60.5H571.5V65.0H566.9zM608.4 60.5H613.1V65.0H608.4zM659.3 60.5H663.9V65.0H659.3zM779.4 60.5H784.0V65.0H779.4zM797.9 60.5H802.5V65.0H797.9zM807.1 60.5H811.8V65.0H807.1zM571.5 65.0H576.1V69.5H571.5zM654.7 65.0H659.3V69.5H654.7zM751.7 65.0H756.3V69.5H751.7zM557.6 69.5H566.9V74.0H557.6zM640.8 69.5H645.4V74.0H640.8zM691.6 69.5H696.2V74.0H691.6zM756.3 69.5H770.2V74.0H756.3zM626.9 74.0H631.6V78.5H626.9zM714.7 74.0H719.3V78.5H714.7zM733.2 74.0H737.8V78.5H733.2zM760.9 74.0H765.6V78.5H760.9zM774.8 74.0H779.4V78.5H774.8zM784.0 74.0H788.7V78.5H784.0zM793.3 74.0H797.9V78.5H793.3zM599.2 78.5H603.8V83.0H599.2zM617.7 78.5H622.3V83.0H617.7zM640.8 78.5H645.4V83.0H640.8zM788.7 78.5H793.3V83.0H788.7zM557.6 83.0H566.9V87.5H557.6zM663.9 83.0H673.1V87.5H663.9zM696.2 83.0H700.9V87.5H696.2zM710.1 83.0H714.7V87.5H710.1zM760.9 83.0H765.6V87.5H760.9zM811.8 83.0H816.4V87.5H811.8zM645.4 87.5H650.0V92.0H645.4zM673.1 87.5H677.8V92.0H673.1zM687.0 87.5H696.2V92.0H687.0zM700.9 87.5H705.5V92.0H700.9zM756.3 87.5H760.9V92.0H756.3zM553.0 92.0H557.6V96.5H553.0zM566.9 92.0H571.5V96.5H566.9zM599.2 92.0H603.8V96.5H599.2zM650.0 92.0H654.7V96.5H650.0zM756.3 92.0H760.9V96.5H756.3zM793.3 92.0H797.9V96.5H793.3zM585.3 96.5H590.0V101.0H585.3zM613.1 96.5H622.3V101.0H613.1zM636.2 96.5H640.8V101.0H636.2zM654.7 96.5H659.3V101.0H654.7zM677.8 96.5H682.4V101.0H677.8zM788.7 96.5H793.3V101.0H788.7zM816.4 96.5H821.0V101.0H816.4zM562.2 101.0H566.9V105.5H562.2zM571.5 101.0H576.1V105.5H571.5zM580.7 101.0H585.3V105.5H580.7zM659.3 101.0H663.9V105.5H659.3zM807.1 101.0H811.8V105.5H807.1zM590.0 105.5H594.6V110.0H590.0zM654.7 105.5H659.3V110.0H654.7zM663.9 105.5H668.5V110.0H663.9zM742.4 105.5H747.1V110.0H742.4zM784.0 105.5H788.7V110.0H784.0zM691.6 110.0H696.2V114.5H691.6zM724.0 110.0H728.6V114.5H724.0zM797.9 110.0H802.5V114.5H797.9zM622.3 114.5H631.6V119.0H622.3zM673.1 114.5H677.8V119.0H673.1zM700.9 114.5H705.5V119.0H700.9zM710.1 114.5H714.7V119.0H710.1zM733.2 114.5H737.8V119.0H733.2zM774.8 114.5H779.4V119.0H774.8zM788.7 114.5H793.3V119.0H788.7zM636.2 119.0H640.8V123.5H636.2zM728.6 119.0H733.2V123.5H728.6zM816.4 119.0H821.0V123.5H816.4zM562.2 123.5H566.9V128.0H562.2zM696.2 123.5H700.9V128.0H696.2zM677.8 128.0H687.0V132.5H677.8zM784.0 128.0H788.7V132.5H784.0zM705.5 132.5H710.1V137.0H705.5zM760.9 132.5H765.6V137.0H760.9zM668.5 137.0H673.1V141.5H668.5zM710.1 137.0H714.7V141.5H710.1zM774.8 137.0H779.4V141.5H774.8zM760.9 141.5H765.6V146.0H760.9zM788.7 141.5H793.3V146.0H788.7zM608.4 146.0H613.1V150.5H608.4zM719.3 146.0H724.0V150.5H719.3zM756.3 146.0H760.9V150.5H756.3zM779.4 146.0H784.0V150.5H779.4zM724.0 150.5H728.6V155.0H724.0zM742.4 150.5H747.1V155.0H742.4zM779.4 155.0H784.0V159.5H779.4zM733.2 159.5H737.8V164.0H733.2zM747.1 164.0H751.7V168.5H747.1zM728.6 168.5H733.2V173.0H728.6zM793.3 173.0H797.9V177.5H793.3zM807.1 177.5H811.8V182.0H807.1zM779.4 191.0H784.0V195.5H779.4zM788.7 191.0H793.3V195.5H788.7zM807.1 191.0H811.8V195.5H807.1zM779.4 204.5H784.0V209.0H779.4zM802.5 204.5H807.1V209.0H802.5zM788.7 209.0H793.3V213.5H788.7zM797.9 209.0H802.5V213.5H797.9zM770.2 213.5H774.8V218.0H770.2zM797.9 213.5H802.5V218.0H797.9zM807.1 213.5H811.8V218.0H807.1zM816.4 213.5H821.0V218.0H816.4zM774.8 218.0H779.4V222.5H774.8zM751.7 222.5H756.3V227.0H751.7zM811.8 222.5H816.4V227.0H811.8z"/>
<path fill="#0077ff" d="M696.2 15.5H700.9V20.0H696.2zM719.3 15.5H724.0V20.0H719.3zM737.8 15.5H742.4V20.0H737.8zM793.3 15.5H797.9V20.0H793.3zM802.5 15.5H807.1V20.0H802.5zM788.7 20.0H797.9V24.5H788.7zM585.3 24.5H590.0V29.0H585.3zM682.4 24.5H687.0V29.0H682.4zM797.9 24.5H807.1V29.0H797.9zM728.6 29.0H733.2V33.5H728.6zM793.3 29.0H797.9V33.5H793.3zM682.4 33.5H687.0V38.0H682.4zM788.7 33.5H793.3V38.0H788.7zM659.3 38.0H663.9V42.5H659.3zM737.8 38.0H742.4V42.5H737.8zM802.5 38.0H807.1V42.5H802.5zM585.3 42.5H590.0V47.0H585.3zM636.2 42.5H640.8V47.0H636.2zM650.0 42.5H659.3V47.0H650.0zM682.4 42.5H687.0V47.0H682.4zM700.9 42.5H705.5V47.0H700.9zM742.4 42.5H747.1V47.0H742.4zM765.6 42.5H770.2V47.0H765.6zM603.8 51.5H608.4V56.0H603.8zM613.1 56.0H617.7V60.5H613.1zM626.9 56.0H631.6V60.5H626.9zM654.7 56.0H663.9V60.5H654.7zM733.2 56.0H737.8V60.5H733.2zM770.2 56.0H774.8V60.5H770.2zM811.8 56.0H821.0V60.5H811.8zM774.8 60.5H779.4V65.0H774.8zM663.9 65.0H668.5V69.5H663.9zM687.0 65.0H691.6V69.5H687.0zM784.0 65.0H788.7V69.5H784.0zM566.9 69.5H571.5V74.0H566.9zM585.3 74.0H590.0V78.5H585.3zM608.4 74.0H613.1V78.5H608.4zM553.0 78.5H557.6V83.0H553.0zM580.7 78.5H585.3V83.0H580.7zM742.4 78.5H747.1V83.0H742.4zM553.0 83.0H557.6V87.5H553.0zM594.6 83.0H599.2V87.5H594.6zM687.0 83.0H691.6V87.5H687.0zM742.4 83.0H747.1V87.5H742.4zM553.0 87.5H557.6V92.0H553.0zM580.7 87.5H585.3V92.0H580.7zM603.8 87.5H608.4V92.0H603.8zM613.1 87.5H617.7V92.0H613.1zM747.1 87.5H751.7V92.0H747.1zM760.9 87.5H765.6V92.0H760.9zM816.4 87.5H821.0V92.0H816.4zM594.6 92.0H599.2V96.5H594.6zM673.1 92.0H677.8V96.5H673.1zM719.3 92.0H728.6V96.5H719.3zM747.1 92.0H751.7V96.5H747.1zM562.2 96.5H566.9V101.0H562.2zM571.5 96.5H580.7V101.0H571.5zM599.2 96.5H603.8V101.0H599.2zM751.7 96.5H756.3V101.0H751.7zM774.8 96.5H779.4V101.0H774.8zM585.3 101.0H590.0V105.5H585.3zM594.6 101.0H599.2V105.5H594.6zM663.9 101.0H668.5V105.5H663.9zM788.7 101.0H793.3V105.5H788.7zM599.2 105.5H603.8V110.0H599.2zM719.3 105.5H724.0V110.0H719.3zM760.9 105.5H765.6V110.0H760.9zM770.2 105.5H774.8V110.0H770.2zM788.7 105.5H793.3V110.0H788.7zM802.5 105.5H807.1V110.0H802.5zM557.6 110.0H562.2V114.5H557.6zM576.1 110.0H580.7V114.5H576.1zM590.0 110.0H594.6V114.5H590.0zM613.1 110.0H617.7V114.5H613.1zM626.9 110.0H631.6V114.5H626.9zM668.5 110.0H673.1V114.5H668.5zM760.9 110.0H765.6V114.5H760.9zM811.8 110.0H816.4V114.5H811.8zM553.0 114.5H557.6V119.0H553.0zM576.1 114.5H580.7V119.0H576.1zM751.7 114.5H756.3V119.0H751.7zM760.9 114.5H770.2V119.0H760.9zM645.4 119.0H650.0V123.5H645.4zM691.6 119.0H696.2V123.5H691.6zM751.7 119.0H756.3V123.5H751.7zM774.8 119.0H779.4V123.5H774.8zM807.1 119.0H811.8V123.5H807.1zM622.3 123.5H626.9V128.0H622.3zM659.3 123.5H663.9V128.0H659.3zM742.4 123.5H747.1V128.0H742.4zM784.0 123.5H788.7V128.0H784.0zM613.1 128.0H617.7V132.5H613.1zM626.9 128.0H631.6V132.5H626.9zM645.4 128.0H650.0V132.5H645.4zM691.6 128.0H696.2V132.5H691.6zM774.8 128.0H779.4V132.5H774.8zM788.7 128.0H793.3V132.5H788.7zM816.4 128.0H821.0V132.5H816.4zM608.4 132.5H613.1V137.0H608.4zM640.8 132.5H645.4V137.0H640.8zM650.0 132.5H659.3V137.0H650.0zM724.0 132.5H728.6V137.0H724.0zM765.6 137.0H770.2V141.5H765.6zM788.7 137.0H793.3V141.5H788.7zM816.4 137.0H821.0V141.5H816.4zM663.9 141.5H668.5V146.0H663.9zM687.0 141.5H691.6V146.0H687.0zM737.8 141.5H742.4V146.0H737.8zM797.9 155.0H802.5V159.5H797.9zM714.7 159.5H719.3V164.0H714.7zM760.9 164.0H765.6V168.5H760.9zM751.7 173.0H756.3V177.5H751.7zM760.9 173.0H765.6V177.5H760.9zM788.7 182.0H793.3V186.5H788.7zM811.8 182.0H816.4V186.5H811.8zM747.1 204.5H751.7V209.0H747.1zM770.2 204.5H774.8V209.0H770.2zM816.4 204.5H821.0V209.0H816.4zM770.2 222.5H774.8V227.0H770.2z"/>
<path fill="#0082ff" d="M811.8 15.5H816.4V20.0H811.8zM631.6 20.0H636.2V24.5H631.6zM807.1 20.0H811.8V24.5H807.1zM617.7 24.5H622.3V29.0H617.7zM793.3 24.5H797.9V29.0H793.3zM807.1 24.5H811.8V29.0H807.1zM640.8 29.0H645.4V33.5H640.8zM668.5 33.5H673.1V38.0H668.5zM756.3 33.5H760.9V38.0H756.3zM802.5 33.5H807.1V38.0H802.5zM811.8 33.5H821.0V38.0H811.8zM608.4 38.0H613.1V42.5H608.4zM645.4 38.0H650.0V42.5H645.4zM677.8 38.0H682.4V42.5H677.8zM811.8 38.0H816.4V42.5H811.8zM580.7 47.0H585.3V51.5H580.7zM700.9 47.0H705.5V51.5H700.9zM802.5 47.0H811.8V51.5H802.5zM580.7 51.5H585.3V56.0H580.7zM724.0 51.5H728.6V56.0H724.0zM594.6 56.0H599.2V60.5H594.6zM673.1 56.0H677.8V60.5H673.1zM765.6 56.0H770.2V60.5H765.6zM557.6 60.5H562.2V65.0H557.6zM663.9 60.5H668.5V65.0H663.9zM682.4 69.5H687.0V74.0H682.4zM816.4 69.5H821.0V74.0H816.4zM599.2 74.0H603.8V78.5H599.2zM636.2 74.0H640.8V78.5H636.2zM797.9 74.0H802.5V78.5H797.9zM784.0 78.5H788.7V83.0H784.0zM571.5 83.0H576.1V87.5H571.5zM756.3 83.0H760.9V87.5H756.3zM557.6 87.5H562.2V92.0H557.6zM751.7 87.5H756.3V92.0H751.7zM788.7 87.5H793.3V92.0H788.7zM807.1 87.5H811.8V92.0H807.1zM673.1 96.5H677.8V101.0H673.1zM779.4 96.5H784.0V101.0H779.4zM608.4 105.5H613.1V110.0H608.4zM617.7 105.5H626.9V110.0H617.7zM774.8 105.5H779.4V110.0H774.8zM650.0 110.0H654.7V114.5H650.0zM816.4 110.0H821.0V114.5H816.4zM802.5 114.5H807.1V119.0H802.5zM590.0 119.0H594.6V123.5H590.0zM677.8 119.0H682.4V123.5H677.8zM784.0 119.0H788.7V123.5H784.0zM553.0 123.5H557.6V128.0H553.0zM807.1 123.5H811.8V128.0H807.1zM816.4 123.5H821.0V128.0H816.4zM687.0 128.0H691.6V132.5H687.0zM700.9 128.0H705.5V132.5H700.9zM714.7 128.0H719.3V132.5H714.7zM645.4 132.5H650.0V137.0H645.4zM668.5 132.5H673.1V137.0H668.5zM765.6 132.5H770.2V137.0H765.6zM654.7 137.0H659.3V141.5H654.7zM677.8 137.0H682.4V141.5H677.8zM654.7 150.5H659.3V155.0H654.7zM737.8 150.5H742.4V155.0H737.8zM774.8 150.5H779.4V155.0H774.8zM788.7 150.5H793.3V155.0H788.7zM728.6 155.0H733.2V159.5H728.6zM765.6 159.5H774.8V164.0H765.6zM737.8 164.0H747.1V168.5H737.8zM756.3 168.5H760.9V173.0H756.3zM779.4 168.5H784.0V173.0H779.4zM774.8 173.0H779.4V177.5H774.8zM784.0 173.0H788.7V177.5H784.0zM788.7 177.5H793.3V182.0H788.7zM760.9 186.5H765.6V191.0H760.9zM770.2 186.5H774.8V191.0H770.2zM788.7 186.5H793.3V191.0H788.7zM807.1 195.5H811.8V200.0H807.1zM747.1 200.0H751.7V204.5H747.1zM807.1 200.0H811.8V204.5H807.1zM802.5 209.0H807.1V213.5H802.5zM774.8 213.5H779.4V218.0H774.8zM793.3 213.5H797.9V218.0H793.3z"/>
<path fill="#008dff" d="M691.6 15.5H696.2V20.0H691.6zM566.9 20.0H571.5V24.5H566.9zM733.2 20.0H737.8V24.5H733.2zM733.2 24.5H737.8V29.0H733.2zM760.9 24.5H765.6V29.0H760.9zM770.2 24.5H774.8V29.0H770.2zM599.2 29.0H603.8V33.5H599.2zM650.0 29.0H654.7V33.5H650.0zM765.6 29.0H770.2V33.5H765.6zM724.0 33.5H728.6V38.0H724.0zM807.1 33.5H811.8V38.0H807.1zM728.6 47.0H733.2V51.5H728.6zM585.3 51.5H590.0V56.0H585.3zM784.0 51.5H788.7V56.0H784.0zM807.1 51.5H811.8V56.0H807.1zM733.2 60.5H737.8V65.0H733.2zM562.2 74.0H566.9V78.5H562.2zM590.0 74.0H594.6V78.5H590.0zM631.6 74.0H636.2V78.5H631.6zM557.6 78.5H566.9V83.0H557.6zM700.9 78.5H705.5V83.0H700.9zM608.4 87.5H613.1V92.0H608.4zM807.1 92.0H811.8V96.5H807.1zM594.6 96.5H599.2V101.0H594.6zM784.0 101.0H788.7V105.5H784.0zM553.0 105.5H557.6V110.0H553.0zM668.5 105.5H673.1V110.0H668.5zM751.7 105.5H760.9V110.0H751.7zM797.9 105.5H802.5V110.0H797.9zM599.2 110.0H608.4V114.5H599.2zM793.3 110.0H797.9V114.5H793.3zM599.2 114.5H603.8V119.0H599.2zM631.6 114.5H636.2V119.0H631.6zM553.0 119.0H557.6V123.5H553.0zM613.1 123.5H617.7V128.0H613.1zM626.9 123.5H631.6V128.0H626.9zM636.2 123.5H640.8V128.0H636.2zM687.0 123.5H696.2V128.0H687.0zM770.2 123.5H779.4V128.0H770.2zM765.6 128.0H770.2V132.5H765.6zM553.0 132.5H557.6V137.0H553.0zM594.6 132.5H599.2V137.0H594.6zM663.9 132.5H668.5V137.0H663.9zM557.6 137.0H562.2V141.5H557.6zM640.8 137.0H645.4V141.5H640.8zM797.9 137.0H802.5V141.5H797.9zM636.2 141.5H640.8V146.0H636.2zM719.3 141.5H724.0V146.0H719.3zM765.6 141.5H770.2V146.0H765.6zM617.7 146.0H622.3V150.5H617.7zM636.2 146.0H640.8V150.5H636.2zM737.8 146.0H742.4V150.5H737.8zM751.7 146.0H756.3V150.5H751.7zM553.0 150.5H562.2V155.0H553.0zM724.0 155.0H728.6V159.5H724.0zM760.9 159.5H765.6V164.0H760.9zM784.0 159.5H788.7V164.0H784.0zM807.1 164.0H811.8V168.5H807.1zM742.4 168.5H747.1V173.0H742.4zM770.2 168.5H774.8V173.0H770.2zM807.1 168.5H811.8V173.0H807.1zM793.3 182.0H797.9V186.5H793.3zM802.5 191.0H807.1V195.5H802.5zM779.4 195.5H788.7V200.0H779.4zM760.9 204.5H765.6V209.0H760.9zM742.4 209.0H747.1V213.5H742.4zM742.4 213.5H747.1V218.0H742.4zM765.6 218.0H770.2V222.5H765.6zM802.5 222.5H807.1V227.0H802.5z"/>
<path fill="#0098ff" d="M802.5 20.0H807.1V24.5H802.5zM599.2 24.5H603.8V29.0H599.2zM557.6 33.5H562.2V38.0H557.6zM797.9 33.5H802.5V38.0H797.9zM571.5 38.0H576.1V42.5H571.5zM613.1 38.0H617.7V42.5H613.1zM816.4 42.5H821.0V47.0H816.4zM760.9 47.0H765.6V51.5H760.9zM562.2 56.0H566.9V60.5H562.2zM765.6 65.0H770.2V69.5H765.6zM571.5 74.0H576.1V78.5H571.5zM682.4 74.0H687.0V78.5H682.4zM580.7 92.0H585.3V96.5H580.7zM622.3 92.0H626.9V96.5H622.3zM774.8 92.0H779.4V96.5H774.8zM553.0 96.5H557.6V101.0H553.0zM566.9 96.5H571.5V101.0H566.9zM737.8 96.5H742.4V101.0H737.8zM562.2 105.5H571.5V110.0H562.2zM705.5 105.5H710.1V110.0H705.5zM566.9 110.0H571.5V114.5H566.9zM617.7 110.0H622.3V114.5H617.7zM585.3 114.5H590.0V119.0H585.3zM613.1 114.5H617.7V119.0H613.1zM566.9 123.5H576.1V128.0H566.9zM608.4 123.5H613.1V128.0H608.4zM617.7 123.5H622.3V128.0H617.7zM590.0 132.5H594.6V137.0H590.0zM613.1 132.5H617.7V137.0H613.1zM682.4 132.5H687.0V137.0H682.4zM691.6 132.5H696.2V137.0H691.6zM779.4 132.5H784.0V137.0H779.4zM811.8 132.5H816.4V137.0H811.8zM603.8 137.0H608.4V141.5H603.8zM691.6 137.0H696.2V141.5H691.6zM756.3 137.0H760.9V141.5H756.3zM650.0 141.5H654.7V146.0H650.0zM765.6 146.0H770.2V150.5H765.6zM756.3 150.5H760.9V155.0H756.3zM765.6 155.0H774.8V159.5H765.6zM742.4 159.5H747.1V164.0H742.4zM774.8 168.5H779.4V173.0H774.8zM779.4 173.0H784.0V177.5H779.4zM756.3 182.0H760.9V186.5H756.3zM779.4 182.0H784.0V186.5H779.4zM742.4 186.5H747.1V191.0H742.4zM784.0 186.5H788.7V191.0H784.0zM811.8 213.5H816.4V218.0H811.8zM784.0 218.0H788.7V222.5H784.0zM797.9 218.0H802.5V222.5H797.9z"/>
<path fill="#00a2ff" d="M816.4 24.5H821.0V29.0H816.4zM566.9 78.5H571.5V83.0H566.9zM571.5 87.5H576.1V92.0H571.5zM571.5 92.0H576.1V96.5H571.5zM756.3 101.0H760.9V105.5H756.3zM576.1 105.5H580.7V110.0H576.1zM585.3 105.5H590.0V110.0H585.3zM571.5 110.0H576.1V114.5H571.5zM562.2 114.5H566.9V119.0H562.2zM594.6 114.5H599.2V119.0H594.6zM779.4 114.5H784.0V119.0H779.4zM617.7 119.0H622.3V123.5H617.7zM585.3 123.5H590.0V128.0H585.3zM631.6 123.5H636.2V128.0H631.6zM566.9 128.0H571.5V132.5H566.9zM622.3 128.0H626.9V132.5H622.3zM760.9 128.0H765.6V132.5H760.9zM562.2 132.5H566.9V137.0H562.2zM751.7 132.5H756.3V137.0H751.7zM566.9 137.0H571.5V141.5H566.9zM594.6 137.0H599.2V141.5H594.6zM608.4 137.0H613.1V141.5H608.4zM636.2 137.0H640.8V141.5H636.2zM645.4 137.0H650.0V141.5H645.4zM797.9 141.5H802.5V146.0H797.9zM585.3 146.0H590.0V150.5H585.3zM645.4 150.5H650.0V155.0H645.4zM751.7 159.5H760.9V164.0H751.7zM765.6 164.0H770.2V168.5H765.6zM788.7 164.0H797.9V168.5H788.7zM737.8 168.5H742.4V173.0H737.8zM765.6 168.5H770.2V173.0H765.6zM765.6 186.5H770.2V191.0H765.6zM779.4 186.5H784.0V191.0H779.4zM816.4 186.5H821.0V191.0H816.4zM811.8 195.5H816.4V200.0H811.8zM566.9 204.5H571.5V209.0H566.9zM807.1 204.5H811.8V209.0H807.1zM802.5 218.0H807.1V222.5H802.5zM737.8 222.5H742.4V227.0H737.8zM760.9 222.5H765.6V227.0H760.9z"/>
<path fill="#00adff" d="M811.8 20.0H816.4V24.5H811.8zM608.4 29.0H613.1V33.5H608.4zM816.4 29.0H821.0V33.5H816.4zM557.6 101.0H562.2V105.5H557.6zM557.6 105.5H562.2V110.0H557.6zM553.0 110.0H557.6V114.5H553.0zM562.2 110.0H566.9V114.5H562.2zM594.6 110.0H599.2V114.5H594.6zM608.4 110.0H613.1V114.5H608.4zM585.3 119.0H590.0V123.5H585.3zM557.6 123.5H562.2V128.0H557.6zM580.7 123.5H585.3V128.0H580.7zM557.6 128.0H562.2V132.5H557.6zM603.8 128.0H608.4V132.5H603.8zM617.7 128.0H622.3V132.5H617.7zM617.7 132.5H622.3V137.0H617.7zM696.2 132.5H700.9V137.0H696.2zM617.7 137.0H622.3V141.5H617.7zM682.4 137.0H687.0V141.5H682.4zM700.9 137.0H710.1V141.5H700.9zM622.3 141.5H626.9V146.0H622.3zM677.8 141.5H682.4V146.0H677.8zM724.0 141.5H728.6V146.0H724.0zM645.4 146.0H650.0V150.5H645.4zM557.6 155.0H562.2V159.5H557.6zM793.3 159.5H797.9V164.0H793.3zM751.7 168.5H756.3V173.0H751.7zM747.1 173.0H751.7V177.5H747.1zM774.8 177.5H784.0V182.0H774.8zM756.3 195.5H770.2V200.0H756.3zM816.4 195.5H821.0V200.0H816.4zM553.0 204.5H557.6V209.0H553.0zM562.2 213.5H566.9V218.0H562.2zM788.7 213.5H793.3V218.0H788.7zM760.9 218.0H765.6V222.5H760.9z"/>
<path fill="#00b8ff" d="M811.8 24.5H816.4V29.0H811.8zM807.1 65.0H811.8V69.5H807.1zM779.4 110.0H784.0V114.5H779.4zM557.6 114.5H562.2V119.0H557.6zM566.9 114.5H571.5V119.0H566.9zM566.9 119.0H576.1V123.5H566.9zM580.7 119.0H585.3V123.5H580.7zM594.6 119.0H599.2V123.5H594.6zM594.6 123.5H603.8V128.0H594.6zM562.2 128.0H566.9V132.5H562.2zM571.5 128.0H576.1V132.5H571.5zM580.7 128.0H585.3V132.5H580.7zM608.4 128.0H613.1V132.5H608.4zM580.7 132.5H585.3V137.0H580.7zM631.6 132.5H636.2V137.0H631.6zM631.6 137.0H636.2V141.5H631.6zM770.2 137.0H774.8V141.5H770.2zM705.5 141.5H710.1V146.0H705.5zM705.5 146.0H710.1V150.5H705.5zM724.0 146.0H728.6V150.5H724.0zM714.7 150.5H719.3V155.0H714.7zM760.9 150.5H765.6V155.0H760.9zM779.4 150.5H784.0V155.0H779.4zM566.9 155.0H571.5V159.5H566.9zM622.3 155.0H626.9V159.5H622.3zM645.4 155.0H650.0V159.5H645.4zM747.1 182.0H756.3V186.5H747.1zM797.9 186.5H807.1V191.0H797.9zM765.6 191.0H770.2V195.5H765.6zM784.0 191.0H788.7V195.5H784.0zM751.7 200.0H756.3V204.5H751.7zM774.8 200.0H779.4V204.5H774.8zM774.8 204.5H779.4V209.0H774.8zM765.6 209.0H770.2V213.5H765.6zM816.4 222.5H821.0V227.0H816.4z"/>
<path fill="#00c3ff" d="M580.7 105.5H585.3V110.0H580.7zM585.3 110.0H590.0V114.5H585.3zM571.5 114.5H576.1V119.0H571.5zM576.1 123.5H580.7V128.0H576.1zM603.8 123.5H608.4V128.0H603.8zM599.2 128.0H603.8V132.5H599.2zM603.8 132.5H608.4V137.0H603.8zM613.1 137.0H617.7V141.5H613.1zM760.9 137.0H765.6V141.5H760.9zM553.0 141.5H557.6V146.0H553.0zM640.8 141.5H645.4V146.0H640.8zM654.7 141.5H659.3V146.0H654.7zM714.7 146.0H719.3V150.5H714.7zM659.3 150.5H663.9V155.0H659.3zM797.9 150.5H802.5V155.0H797.9zM617.7 155.0H622.3V159.5H617.7zM590.0 164.0H594.6V168.5H590.0zM774.8 164.0H784.0V168.5H774.8zM760.9 168.5H765.6V173.0H760.9zM756.3 173.0H760.9V177.5H756.3zM770.2 173.0H774.8V177.5H770.2zM585.3 191.0H590.0V195.5H585.3zM557.6 209.0H562.2V213.5H557.6zM756.3 209.0H760.9V213.5H756.3z"/>
<path fill="#00cdff" d="M590.0 114.5H594.6V119.0H590.0zM590.0 123.5H594.6V128.0H590.0zM594.6 128.0H599.2V132.5H594.6zM566.9 132.5H571.5V137.0H566.9zM626.9 132.5H631.6V137.0H626.9zM562.2 137.0H566.9V141.5H562.2zM590.0 137.0H594.6V141.5H590.0zM622.3 137.0H626.9V141.5H622.3zM557.6 141.5H562.2V146.0H557.6zM576.1 141.5H580.7V146.0H576.1zM659.3 141.5H663.9V146.0H659.3zM700.9 141.5H705.5V146.0H700.9zM613.1 146.0H617.7V150.5H613.1zM631.6 146.0H636.2V150.5H631.6zM557.6 164.0H562.2V168.5H557.6zM747.1 168.5H751.7V173.0H747.1zM742.4 177.5H747.1V182.0H742.4zM751.7 177.5H756.3V182.0H751.7zM802.5 177.5H807.1V182.0H802.5zM553.0 191.0H557.6V195.5H553.0zM576.1 191.0H580.7V195.5H576.1zM566.9 200.0H571.5V204.5H566.9zM728.6 213.5H733.2V218.0H728.6zM747.1 213.5H751.7V218.0H747.1zM756.3 218.0H760.9V222.5H756.3z"/>
<path fill="#00d8ff" d="M603.8 114.5H608.4V119.0H603.8zM576.1 128.0H580.7V132.5H576.1zM631.6 128.0H636.2V132.5H631.6zM557.6 132.5H562.2V137.0H557.6zM571.5 132.5H576.1V137.0H571.5zM585.3 132.5H590.0V137.0H585.3zM576.1 137.0H580.7V141.5H576.1zM608.4 141.5H617.7V146.0H608.4zM562.2 146.0H566.9V150.5H562.2zM580.7 146.0H585.3V150.5H580.7zM626.9 146.0H631.6V150.5H626.9zM650.0 146.0H654.7V150.5H650.0zM710.1 146.0H714.7V150.5H710.1zM668.5 150.5H673.1V155.0H668.5zM719.3 159.5H724.0V164.0H719.3zM737.8 159.5H742.4V164.0H737.8zM737.8 173.0H742.4V177.5H737.8zM553.0 177.5H557.6V182.0H553.0zM742.4 191.0H747.1V195.5H742.4zM765.6 204.5H770.2V209.0H765.6zM737.8 209.0H742.4V213.5H737.8zM756.3 213.5H760.9V218.0H756.3zM747.1 222.5H751.7V227.0H747.1z"/>
<path fill="#00e3ff" d="M585.3 128.0H590.0V132.5H585.3zM599.2 132.5H603.8V137.0H599.2zM580.7 137.0H590.0V141.5H580.7zM626.9 137.0H631.6V141.5H626.9zM696.2 137.0H700.9V141.5H696.2zM631.6 141.5H636.2V146.0H631.6zM756.3 141.5H760.9V146.0H756.3zM710.1 150.5H714.7V155.0H710.1zM576.1 155.0H580.7V159.5H576.1zM705.5 155.0H710.1V159.5H705.5zM765.6 173.0H770.2V177.5H765.6zM756.3 177.5H760.9V182.0H756.3zM737.8 186.5H742.4V191.0H737.8zM751.7 191.0H756.3V195.5H751.7zM756.3 200.0H760.9V204.5H756.3zM770.2 200.0H774.8V204.5H770.2zM737.8 218.0H742.4V222.5H737.8z"/>
<path fill="#00eeff" d="M553.0 128.0H557.6V132.5H553.0zM590.0 128.0H594.6V132.5H590.0zM576.1 132.5H580.7V137.0H576.1zM622.3 132.5H626.9V137.0H622.3zM553.0 137.0H557.6V141.5H553.0zM668.5 141.5H673.1V146.0H668.5zM562.2 150.5H566.9V155.0H562.2zM617.7 150.5H622.3V155.0H617.7zM580.7 155.0H585.3V159.5H580.7zM710.1 155.0H714.7V159.5H710.1zM617.7 159.5H622.3V164.0H617.7zM566.9 164.0H571.5V168.5H566.9zM557.6 168.5H562.2V173.0H557.6zM557.6 177.5H562.2V182.0H557.6zM737.8 177.5H742.4V182.0H737.8zM760.9 177.5H765.6V182.0H760.9zM576.1 182.0H580.7V186.5H576.1zM576.1 186.5H580.7V191.0H576.1zM566.9 191.0H571.5V195.5H566.9zM747.1 191.0H751.7V195.5H747.1zM751.7 204.5H756.3V209.0H751.7zM811.8 204.5H816.4V209.0H811.8zM585.3 209.0H590.0V213.5H585.3zM751.7 213.5H756.3V218.0H751.7z"/>
<path fill="#00f8ff" d="M603.8 141.5H608.4V146.0H603.8zM585.3 150.5H590.0V155.0H585.3zM640.8 150.5H645.4V155.0H640.8zM571.5 155.0H576.1V159.5H571.5zM650.0 155.0H654.7V159.5H650.0zM724.0 159.5H728.6V164.0H724.0zM733.2 168.5H737.8V173.0H733.2zM571.5 173.0H576.1V177.5H571.5zM562.2 177.5H566.9V182.0H562.2zM770.2 177.5H774.8V182.0H770.2zM733.2 182.0H742.4V186.5H733.2zM765.6 182.0H770.2V186.5H765.6zM747.1 186.5H756.3V191.0H747.1zM557.6 195.5H562.2V200.0H557.6zM617.7 195.5H622.3V200.0H617.7zM742.4 204.5H747.1V209.0H742.4zM756.3 204.5H760.9V209.0H756.3zM751.7 209.0H756.3V213.5H751.7zM760.9 213.5H765.6V218.0H760.9zM562.2 222.5H566.9V227.0H562.2zM742.4 222.5H747.1V227.0H742.4z"/>
<path fill="#04fffb" d="M571.5 137.0H576.1V141.5H571.5zM599.2 137.0H603.8V141.5H599.2zM590.0 146.0H594.6V150.5H590.0zM663.9 146.0H668.5V150.5H663.9zM576.1 150.5H580.7V155.0H576.1zM659.3 155.0H663.9V159.5H659.3zM566.9 159.5H571.5V164.0H566.9zM654.7 159.5H659.3V164.0H654.7zM580.7 164.0H585.3V168.5H580.7zM590.0 173.0H594.6V177.5H590.0zM571.5 177.5H576.1V182.0H571.5zM742.4 195.5H747.1V200.0H742.4zM751.7 195.5H756.3V200.0H751.7zM770.2 195.5H774.8V200.0H770.2zM553.0 200.0H557.6V204.5H553.0zM553.0 209.0H557.6V213.5H553.0zM811.8 218.0H816.4V222.5H811.8z"/>
<path fill="#0ffff0" d="M580.7 141.5H585.3V146.0H580.7zM682.4 141.5H687.0V146.0H682.4zM553.0 146.0H557.6V150.5H553.0zM571.5 146.0H576.1V150.5H571.5zM640.8 146.0H645.4V150.5H640.8zM677.8 146.0H682.4V150.5H677.8zM700.9 146.0H705.5V150.5H700.9zM696.2 150.5H700.9V155.0H696.2zM640.8 155.0H645.4V159.5H640.8zM668.5 155.0H673.1V159.5H668.5zM553.0 164.0H557.6V168.5H553.0zM553.0 173.0H557.6V177.5H553.0zM742.4 173.0H747.1V177.5H742.4zM590.0 186.5H594.6V191.0H590.0zM728.6 186.5H733.2V191.0H728.6zM733.2 195.5H742.4V200.0H733.2zM742.4 200.0H747.1V204.5H742.4zM562.2 204.5H566.9V209.0H562.2zM571.5 209.0H576.1V213.5H571.5zM553.0 213.5H557.6V218.0H553.0z"/>
<path fill="#1affe5" d="M594.6 141.5H599.2V146.0H594.6zM696.2 141.5H700.9V146.0H696.2zM557.6 146.0H562.2V150.5H557.6zM599.2 146.0H603.8V150.5H599.2zM728.6 164.0H733.2V168.5H728.6zM553.0 168.5H557.6V173.0H553.0zM557.6 173.0H562.2V177.5H557.6zM590.0 177.5H594.6V182.0H590.0zM553.0 186.5H557.6V191.0H553.0zM562.2 191.0H566.9V195.5H562.2zM760.9 191.0H765.6V195.5H760.9zM557.6 200.0H562.2V204.5H557.6zM747.1 209.0H751.7V213.5H747.1z"/>
<path fill="#24ffdb" d="M626.9 141.5H631.6V146.0H626.9zM594.6 146.0H599.2V150.5H594.6zM659.3 146.0H663.9V150.5H659.3zM668.5 146.0H673.1V150.5H668.5zM682.4 146.0H687.0V150.5H682.4zM696.2 146.0H700.9V150.5H696.2zM562.2 155.0H566.9V159.5H562.2zM608.4 155.0H613.1V159.5H608.4zM663.9 155.0H668.5V159.5H663.9zM571.5 159.5H576.1V164.0H571.5zM580.7 168.5H585.3V173.0H580.7zM562.2 173.0H566.9V177.5H562.2zM728.6 173.0H733.2V177.5H728.6zM728.6 182.0H733.2V186.5H728.6zM733.2 186.5H737.8V191.0H733.2zM557.6 191.0H562.2V195.5H557.6zM571.5 191.0H576.1V195.5H571.5zM756.3 191.0H760.9V195.5H756.3zM733.2 200.0H737.8V204.5H733.2zM747.1 218.0H751.7V222.5H747.1z"/>
<path fill="#2fffd0" d="M566.9 141.5H571.5V146.0H566.9zM585.3 141.5H590.0V146.0H585.3zM576.1 146.0H580.7V150.5H576.1zM622.3 150.5H626.9V155.0H622.3zM553.0 159.5H562.2V164.0H553.0zM576.1 164.0H580.7V168.5H576.1zM724.0 164.0H728.6V168.5H724.0zM580.7 173.0H585.3V177.5H580.7zM733.2 177.5H737.8V182.0H733.2zM747.1 177.5H751.7V182.0H747.1zM585.3 182.0H590.0V186.5H585.3zM742.4 182.0H747.1V186.5H742.4zM580.7 191.0H585.3V195.5H580.7zM585.3 195.5H590.0V200.0H585.3zM580.7 213.5H585.3V218.0H580.7zM742.4 218.0H747.1V222.5H742.4z"/>
<path fill="#3affc5" d="M571.5 141.5H576.1V146.0H571.5zM673.1 141.5H677.8V146.0H673.1zM636.2 150.5H640.8V155.0H636.2zM663.9 150.5H668.5V155.0H663.9zM705.5 150.5H710.1V155.0H705.5zM553.0 155.0H557.6V159.5H553.0zM585.3 155.0H594.6V159.5H585.3zM576.1 159.5H580.7V164.0H576.1zM631.6 159.5H636.2V164.0H631.6zM640.8 159.5H645.4V164.0H640.8zM566.9 173.0H571.5V177.5H566.9zM626.9 173.0H631.6V177.5H626.9zM728.6 177.5H733.2V182.0H728.6zM580.7 182.0H585.3V186.5H580.7zM562.2 186.5H566.9V191.0H562.2zM737.8 204.5H742.4V209.0H737.8z"/>
<path fill="#44ffbb" d="M608.4 150.5H613.1V155.0H608.4zM650.0 150.5H654.7V155.0H650.0zM691.6 150.5H696.2V155.0H691.6zM673.1 155.0H677.8V159.5H673.1zM590.0 159.5H594.6V164.0H590.0zM733.2 164.0H737.8V168.5H733.2zM663.9 168.5H668.5V173.0H663.9zM571.5 195.5H576.1V200.0H571.5zM594.6 195.5H599.2V200.0H594.6zM747.1 195.5H751.7V200.0H747.1z"/>
<path fill="#4fffb0" d="M594.6 150.5H599.2V155.0H594.6zM636.2 164.0H640.8V168.5H636.2zM714.7 173.0H719.3V177.5H714.7zM562.2 182.0H566.9V186.5H562.2zM571.5 200.0H576.1V204.5H571.5zM728.6 200.0H733.2V204.5H728.6zM580.7 204.5H585.3V209.0H580.7zM566.9 209.0H571.5V213.5H566.9zM728.6 209.0H733.2V213.5H728.6zM566.9 218.0H571.5V222.5H566.9z"/>
<path fill="#5affa5" d="M590.0 141.5H594.6V146.0H590.0zM682.4 150.5H687.0V155.0H682.4zM599.2 159.5H603.8V164.0H599.2zM636.2 159.5H640.8V164.0H636.2zM594.6 164.0H599.2V168.5H594.6zM724.0 168.5H728.6V173.0H724.0zM594.6 173.0H599.2V177.5H594.6zM724.0 173.0H728.6V177.5H724.0zM553.0 182.0H557.6V186.5H553.0zM603.8 182.0H608.4V186.5H603.8zM737.8 191.0H742.4V195.5H737.8zM580.7 195.5H585.3V200.0H580.7zM737.8 200.0H742.4V204.5H737.8zM557.6 213.5H562.2V218.0H557.6zM733.2 213.5H737.8V218.0H733.2z"/>
<path fill="#65ff9a" d="M571.5 150.5H576.1V155.0H571.5zM654.7 155.0H659.3V159.5H654.7zM645.4 159.5H650.0V164.0H645.4zM640.8 164.0H645.4V168.5H640.8zM557.6 182.0H562.2V186.5H557.6zM608.4 186.5H613.1V191.0H608.4zM724.0 186.5H728.6V191.0H724.0zM557.6 204.5H562.2V209.0H557.6zM571.5 204.5H576.1V209.0H571.5zM585.3 204.5H590.0V209.0H585.3zM719.3 209.0H724.0V213.5H719.3zM553.0 218.0H557.6V222.5H553.0z"/>
<path fill="#6fff90" d="M603.8 146.0H608.4V150.5H603.8zM673.1 146.0H677.8V150.5H673.1zM691.6 146.0H696.2V150.5H691.6zM613.1 150.5H617.7V155.0H613.1zM687.0 150.5H691.6V155.0H687.0zM700.9 150.5H705.5V155.0H700.9zM603.8 155.0H608.4V159.5H603.8zM631.6 155.0H636.2V159.5H631.6zM562.2 159.5H566.9V164.0H562.2zM571.5 164.0H576.1V168.5H571.5zM566.9 168.5H571.5V173.0H566.9zM566.9 177.5H571.5V182.0H566.9zM576.1 177.5H580.7V182.0H576.1zM724.0 177.5H728.6V182.0H724.0zM571.5 186.5H576.1V191.0H571.5zM590.0 195.5H594.6V200.0H590.0zM580.7 200.0H585.3V204.5H580.7zM562.2 209.0H566.9V213.5H562.2zM562.2 218.0H566.9V222.5H562.2z"/>
<path fill="#7aff85" d="M622.3 146.0H626.9V150.5H622.3zM687.0 146.0H691.6V150.5H687.0zM636.2 155.0H640.8V159.5H636.2zM594.6 159.5H599.2V164.0H594.6zM603.8 164.0H608.4V168.5H603.8zM617.7 164.0H622.3V168.5H617.7zM714.7 164.0H719.3V168.5H714.7zM562.2 168.5H566.9V173.0H562.2zM576.1 168.5H580.7V173.0H576.1zM585.3 168.5H590.0V173.0H585.3zM608.4 168.5H613.1V173.0H608.4zM608.4 173.0H613.1V177.5H608.4zM617.7 173.0H622.3V177.5H617.7zM557.6 186.5H562.2V191.0H557.6zM580.7 186.5H585.3V191.0H580.7zM631.6 186.5H636.2V191.0H631.6zM728.6 195.5H733.2V200.0H728.6zM576.1 213.5H580.7V218.0H576.1z"/>
<path fill="#85ff7a" d="M626.9 150.5H631.6V155.0H626.9zM668.5 164.0H673.1V168.5H668.5zM719.3 164.0H724.0V168.5H719.3zM594.6 168.5H599.2V173.0H594.6zM631.6 182.0H636.2V186.5H631.6zM576.1 204.5H580.7V209.0H576.1zM576.1 209.0H580.7V213.5H576.1zM617.7 213.5H622.3V218.0H617.7zM733.2 218.0H737.8V222.5H733.2z"/>
<path fill="#90ff6f" d="M599.2 141.5H603.8V146.0H599.2zM566.9 146.0H571.5V150.5H566.9zM566.9 150.5H571.5V155.0H566.9zM580.7 150.5H585.3V155.0H580.7zM603.8 150.5H608.4V155.0H603.8zM626.9 155.0H631.6V159.5H626.9zM687.0 155.0H691.6V159.5H687.0zM603.8 159.5H608.4V164.0H603.8zM663.9 159.5H668.5V164.0H663.9zM562.2 164.0H566.9V168.5H562.2zM613.1 164.0H617.7V168.5H613.1zM626.9 164.0H636.2V168.5H626.9zM733.2 173.0H737.8V177.5H733.2zM566.9 182.0H571.5V186.5H566.9zM553.0 195.5H557.6V200.0H553.0zM566.9 195.5H571.5V200.0H566.9zM626.9 195.5H631.6V200.0H626.9zM733.2 222.5H737.8V227.0H733.2z"/>
<path fill="#9aff65" d="M608.4 159.5H613.1V164.0H608.4zM626.9 159.5H631.6V164.0H626.9zM603.8 168.5H608.4V173.0H603.8zM576.1 173.0H580.7V177.5H576.1zM585.3 177.5H590.0V182.0H585.3zM603.8 177.5H608.4V182.0H603.8zM590.0 182.0H594.6V186.5H590.0zM608.4 182.0H613.1V186.5H608.4zM566.9 186.5H571.5V191.0H566.9zM585.3 186.5H590.0V191.0H585.3zM562.2 195.5H566.9V200.0H562.2zM576.1 195.5H580.7V200.0H576.1zM576.1 200.0H580.7V204.5H576.1zM590.0 200.0H594.6V204.5H590.0zM580.7 209.0H585.3V213.5H580.7zM566.9 213.5H571.5V218.0H566.9zM733.2 227.0H737.8V231.5H733.2z"/>
<path fill="#a5ff5a" d="M599.2 150.5H603.8V155.0H599.2zM691.6 155.0H700.9V159.5H691.6zM659.3 164.0H663.9V168.5H659.3zM571.5 168.5H576.1V173.0H571.5zM603.8 173.0H608.4V177.5H603.8zM599.2 186.5H603.8V191.0H599.2zM719.3 186.5H724.0V191.0H719.3zM590.0 213.5H594.6V218.0H590.0zM728.6 222.5H733.2V227.0H728.6zM719.3 227.0H724.0V231.5H719.3z"/>
<path fill="#b0ff4f" d="M700.9 155.0H705.5V159.5H700.9zM626.9 168.5H631.6V173.0H626.9zM594.6 177.5H599.2V182.0H594.6zM617.7 182.0H622.3V186.5H617.7zM724.0 182.0H728.6V186.5H724.0zM645.4 186.5H650.0V191.0H645.4zM733.2 191.0H737.8V195.5H733.2zM603.8 195.5H608.4V200.0H603.8zM585.3 200.0H590.0V204.5H585.3zM603.8 200.0H608.4V204.5H603.8zM599.2 209.0H603.8V213.5H599.2zM571.5 213.5H576.1V218.0H571.5zM576.1 218.0H580.7V222.5H576.1zM553.0 231.5H557.6V236.0H553.0z"/>
<path fill="#bbff44" d="M590.0 150.5H594.6V155.0H590.0zM594.6 155.0H599.2V159.5H594.6zM613.1 155.0H617.7V159.5H613.1zM622.3 168.5H626.9V173.0H622.3zM571.5 182.0H576.1V186.5H571.5zM603.8 191.0H608.4V195.5H603.8zM590.0 204.5H594.6V209.0H590.0zM603.8 209.0H608.4V213.5H603.8zM585.3 213.5H590.0V218.0H585.3zM553.0 222.5H557.6V227.0H553.0zM557.6 231.5H562.2V236.0H557.6z"/>
<path fill="#c5ff3a" d="M585.3 159.5H590.0V164.0H585.3zM650.0 159.5H654.7V164.0H650.0zM599.2 164.0H603.8V168.5H599.2zM714.7 177.5H719.3V182.0H714.7zM603.8 186.5H608.4V191.0H603.8zM714.7 186.5H719.3V191.0H714.7zM728.6 191.0H733.2V195.5H728.6zM599.2 195.5H603.8V200.0H599.2zM719.3 195.5H724.0V200.0H719.3zM724.0 200.0H728.6V204.5H724.0zM599.2 204.5H603.8V209.0H599.2zM617.7 204.5H622.3V209.0H617.7zM594.6 209.0H599.2V213.5H594.6zM571.5 218.0H576.1V222.5H571.5z"/>
<path fill="#d0ff2f" d="M677.8 150.5H682.4V155.0H677.8zM599.2 155.0H603.8V159.5H599.2zM622.3 159.5H626.9V164.0H622.3zM696.2 159.5H700.9V164.0H696.2zM705.5 159.5H710.1V164.0H705.5zM654.7 164.0H659.3V168.5H654.7zM668.5 173.0H673.1V177.5H668.5zM622.3 177.5H631.6V182.0H622.3zM613.1 186.5H617.7V191.0H613.1zM626.9 191.0H631.6V195.5H626.9zM562.2 200.0H566.9V204.5H562.2zM580.7 218.0H585.3V222.5H580.7zM571.5 231.5H576.1V236.0H571.5z"/>
<path fill="#dbff24" d="M673.1 150.5H677.8V155.0H673.1zM608.4 164.0H613.1V168.5H608.4zM710.1 168.5H719.3V173.0H710.1zM585.3 173.0H590.0V177.5H585.3zM613.1 173.0H617.7V177.5H613.1zM631.6 173.0H636.2V177.5H631.6zM663.9 173.0H668.5V177.5H663.9zM599.2 182.0H603.8V186.5H599.2zM719.3 182.0H724.0V186.5H719.3zM622.3 186.5H626.9V191.0H622.3zM594.6 200.0H599.2V204.5H594.6zM626.9 200.0H631.6V204.5H626.9zM608.4 204.5H617.7V209.0H608.4zM590.0 209.0H594.6V213.5H590.0zM622.3 209.0H626.9V213.5H622.3zM733.2 209.0H737.8V213.5H733.2zM599.2 218.0H603.8V222.5H599.2zM728.6 218.0H733.2V222.5H728.6zM580.7 222.5H585.3V227.0H580.7zM714.7 222.5H719.3V227.0H714.7zM580.7 231.5H585.3V236.0H580.7zM714.7 231.5H719.3V236.0H714.7z"/>
<path fill="#e5ff1a" d="M645.4 164.0H650.0V168.5H645.4zM590.0 168.5H594.6V173.0H590.0zM645.4 168.5H650.0V173.0H645.4zM622.3 173.0H626.9V177.5H622.3zM636.2 173.0H640.8V177.5H636.2zM580.7 177.5H585.3V182.0H580.7zM622.3 182.0H626.9V186.5H622.3zM650.0 195.5H654.7V200.0H650.0zM608.4 200.0H622.3V204.5H608.4zM714.7 200.0H719.3V204.5H714.7zM737.8 213.5H742.4V218.0H737.8z"/>
<path fill="#f0ff0f" d="M585.3 164.0H590.0V168.5H585.3zM650.0 164.0H654.7V168.5H650.0zM617.7 168.5H622.3V173.0H617.7zM613.1 177.5H622.3V182.0H613.1zM640.8 186.5H645.4V191.0H640.8zM608.4 195.5H613.1V200.0H608.4zM663.9 195.5H668.5V200.0H663.9zM719.3 200.0H724.0V204.5H719.3zM710.1 204.5H714.7V209.0H710.1zM724.0 204.5H733.2V209.0H724.0zM645.4 209.0H650.0V213.5H645.4zM710.1 218.0H714.7V222.5H710.1zM571.5 222.5H576.1V227.0H571.5z"/>
<path fill="#fbff04" d="M682.4 155.0H687.0V159.5H682.4zM580.7 159.5H585.3V164.0H580.7zM659.3 159.5H663.9V164.0H659.3zM710.1 159.5H714.7V164.0H710.1zM631.6 168.5H636.2V173.0H631.6zM719.3 168.5H724.0V173.0H719.3zM599.2 177.5H603.8V182.0H599.2zM631.6 177.5H636.2V182.0H631.6zM594.6 186.5H599.2V191.0H594.6zM617.7 186.5H622.3V191.0H617.7zM599.2 191.0H603.8V195.5H599.2zM640.8 191.0H645.4V195.5H640.8zM603.8 204.5H608.4V209.0H603.8zM599.2 213.5H603.8V218.0H599.2zM608.4 213.5H613.1V218.0H608.4zM631.6 213.5H636.2V218.0H631.6zM585.3 218.0H590.0V222.5H585.3z"/>
<path fill="#fff800" d="M677.8 155.0H682.4V159.5H677.8zM673.1 159.5H677.8V164.0H673.1zM700.9 159.5H705.5V164.0H700.9zM673.1 164.0H677.8V168.5H673.1zM682.4 164.0H687.0V168.5H682.4zM668.5 168.5H673.1V173.0H668.5zM599.2 173.0H603.8V177.5H599.2zM719.3 173.0H724.0V177.5H719.3zM663.9 177.5H668.5V182.0H663.9zM705.5 177.5H710.1V182.0H705.5zM714.7 182.0H719.3V186.5H714.7zM594.6 191.0H599.2V195.5H594.6zM608.4 191.0H613.1V195.5H608.4zM645.4 191.0H650.0V195.5H645.4zM636.2 195.5H640.8V200.0H636.2zM724.0 195.5H728.6V200.0H724.0zM650.0 204.5H654.7V209.0H650.0zM636.2 209.0H640.8V213.5H636.2zM622.3 213.5H626.9V218.0H622.3zM724.0 213.5H728.6V218.0H724.0zM557.6 222.5H562.2V227.0H557.6zM590.0 222.5H594.6V227.0H590.0zM562.2 231.5H566.9V236.0H562.2z"/>
<path fill="#ffee00" d="M696.2 164.0H700.9V168.5H696.2zM710.1 164.0H714.7V168.5H710.1zM613.1 168.5H617.7V173.0H613.1zM650.0 173.0H654.7V177.5H650.0zM608.4 177.5H613.1V182.0H608.4zM594.6 182.0H599.2V186.5H594.6zM650.0 182.0H654.7V186.5H650.0zM659.3 191.0H663.9V195.5H659.3zM705.5 191.0H710.1V195.5H705.5zM724.0 191.0H728.6V195.5H724.0zM594.6 204.5H599.2V209.0H594.6zM626.9 209.0H631.6V213.5H626.9zM714.7 218.0H719.3V222.5H714.7zM719.3 222.5H724.0V227.0H719.3zM557.6 227.0H562.2V231.5H557.6zM724.0 227.0H728.6V231.5H724.0zM594.6 231.5H599.2V236.0H594.6zM733.2 231.5H737.8V236.0H733.2z"/>
<path fill="#ffe300" d="M673.1 168.5H677.8V173.0H673.1zM613.1 182.0H617.7V186.5H613.1zM626.9 182.0H631.6V186.5H626.9zM626.9 186.5H631.6V191.0H626.9zM650.0 186.5H654.7V191.0H650.0zM636.2 191.0H640.8V195.5H636.2zM613.1 195.5H617.7V200.0H613.1zM599.2 200.0H603.8V204.5H599.2zM622.3 200.0H626.9V204.5H622.3zM719.3 204.5H724.0V209.0H719.3zM724.0 209.0H728.6V213.5H724.0zM594.6 213.5H599.2V218.0H594.6zM719.3 213.5H724.0V218.0H719.3zM576.1 222.5H580.7V227.0H576.1zM594.6 222.5H599.2V227.0H594.6zM728.6 231.5H733.2V236.0H728.6z"/>
<path fill="#ffd800" d="M677.8 164.0H682.4V168.5H677.8zM705.5 164.0H710.1V168.5H705.5zM636.2 168.5H640.8V173.0H636.2zM636.2 177.5H640.8V182.0H636.2zM622.3 195.5H626.9V200.0H622.3zM626.9 204.5H631.6V209.0H626.9zM714.7 209.0H719.3V213.5H714.7zM566.9 222.5H571.5V227.0H566.9zM603.8 222.5H608.4V227.0H603.8z"/>
<path fill="#ffcd00" d="M663.9 164.0H668.5V168.5H663.9zM640.8 168.5H645.4V173.0H640.8zM650.0 168.5H654.7V173.0H650.0zM654.7 182.0H659.3V186.5H654.7zM654.7 186.5H659.3V191.0H654.7zM590.0 191.0H594.6V195.5H590.0zM613.1 191.0H617.7V195.5H613.1zM719.3 191.0H724.0V195.5H719.3zM650.0 200.0H654.7V204.5H650.0zM705.5 204.5H710.1V209.0H705.5zM733.2 204.5H737.8V209.0H733.2zM640.8 213.5H645.4V218.0H640.8zM613.1 222.5H617.7V227.0H613.1zM724.0 222.5H728.6V227.0H724.0zM553.0 227.0H557.6V231.5H553.0zM626.9 227.0H631.6V231.5H626.9zM714.7 227.0H719.3V231.5H714.7z"/>
<path fill="#ffc300" d="M682.4 159.5H687.0V164.0H682.4zM691.6 159.5H696.2V164.0H691.6zM691.6 164.0H696.2V168.5H691.6zM663.9 186.5H668.5V191.0H663.9zM617.7 191.0H622.3V195.5H617.7zM622.3 204.5H626.9V209.0H622.3zM631.6 204.5H636.2V209.0H631.6zM714.7 204.5H719.3V209.0H714.7zM640.8 209.0H645.4V213.5H640.8zM594.6 218.0H599.2V222.5H594.6zM603.8 218.0H608.4V222.5H603.8zM626.9 218.0H631.6V222.5H626.9zM566.9 227.0H571.5V231.5H566.9zM710.1 227.0H714.7V231.5H710.1zM599.2 231.5H603.8V236.0H599.2z"/>
<path fill="#ffb800" d="M613.1 159.5H617.7V164.0H613.1zM668.5 159.5H673.1V164.0H668.5zM650.0 177.5H654.7V182.0H650.0zM673.1 186.5H677.8V191.0H673.1zM631.6 195.5H636.2V200.0H631.6zM673.1 200.0H677.8V204.5H673.1zM603.8 213.5H608.4V218.0H603.8zM613.1 218.0H617.7V222.5H613.1zM668.5 222.5H673.1V227.0H668.5zM710.1 222.5H714.7V227.0H710.1zM562.2 227.0H566.9V231.5H562.2z"/>
<path fill="#ffad00" d="M622.3 164.0H626.9V168.5H622.3zM659.3 173.0H663.9V177.5H659.3zM710.1 173.0H714.7V177.5H710.1zM668.5 177.5H673.1V182.0H668.5zM659.3 182.0H663.9V186.5H659.3zM622.3 191.0H626.9V195.5H622.3zM631.6 191.0H636.2V195.5H631.6zM696.2 195.5H700.9V200.0H696.2zM714.7 195.5H719.3V200.0H714.7zM659.3 200.0H663.9V204.5H659.3zM705.5 213.5H710.1V218.0H705.5zM599.2 222.5H603.8V227.0H599.2zM728.6 227.0H733.2V231.5H728.6zM585.3 231.5H590.0V236.0H585.3z"/>
<path fill="#ffa200" d="M631.6 150.5H636.2V155.0H631.6zM677.8 159.5H682.4V164.0H677.8zM677.8 168.5H682.4V173.0H677.8zM640.8 173.0H645.4V177.5H640.8zM673.1 177.5H677.8V182.0H673.1zM640.8 182.0H645.4V186.5H640.8zM663.9 204.5H673.1V209.0H663.9zM650.0 213.5H654.7V218.0H650.0zM590.0 218.0H594.6V222.5H590.0zM659.3 218.0H663.9V222.5H659.3zM585.3 222.5H590.0V227.0H585.3zM724.0 231.5H728.6V236.0H724.0z"/>
<path fill="#ff9800" d="M687.0 164.0H691.6V168.5H687.0zM654.7 168.5H659.3V173.0H654.7zM700.9 168.5H705.5V173.0H700.9zM640.8 177.5H645.4V182.0H640.8zM719.3 177.5H724.0V182.0H719.3zM640.8 195.5H645.4V200.0H640.8zM659.3 204.5H663.9V209.0H659.3zM557.6 218.0H562.2V222.5H557.6zM617.7 222.5H622.3V227.0H617.7zM636.2 227.0H640.8V231.5H636.2zM682.4 227.0H687.0V231.5H682.4zM719.3 231.5H724.0V236.0H719.3z"/>
<path fill="#ff8d00" d="M659.3 168.5H663.9V173.0H659.3zM645.4 177.5H650.0V182.0H645.4zM654.7 177.5H659.3V182.0H654.7zM710.1 177.5H714.7V182.0H710.1zM636.2 182.0H640.8V186.5H636.2zM710.1 195.5H714.7V200.0H710.1z"/>
<path fill="#ff8200" d="M687.0 159.5H691.6V164.0H687.0zM700.9 186.5H705.5V191.0H700.9zM673.1 191.0H682.4V195.5H673.1zM659.3 195.5H663.9V200.0H659.3zM677.8 195.5H682.4V200.0H677.8zM700.9 195.5H705.5V200.0H700.9zM631.6 200.0H636.2V204.5H631.6zM608.4 209.0H613.1V213.5H608.4zM608.4 218.0H613.1V222.5H608.4zM571.5 227.0H576.1V231.5H571.5zM622.3 227.0H626.9V231.5H622.3z"/>
<path fill="#ff7700" d="M696.2 168.5H700.9V173.0H696.2zM645.4 173.0H650.0V177.5H645.4zM682.4 173.0H687.0V177.5H682.4zM691.6 173.0H696.2V177.5H691.6zM645.4 182.0H650.0V186.5H645.4zM654.7 195.5H659.3V200.0H654.7zM682.4 195.5H687.0V200.0H682.4zM687.0 204.5H691.6V209.0H687.0zM613.1 209.0H617.7V213.5H613.1zM668.5 209.0H677.8V213.5H668.5zM654.7 213.5H659.3V218.0H654.7zM724.0 218.0H728.6V222.5H724.0zM576.1 231.5H580.7V236.0H576.1zM710.1 231.5H714.7V236.0H710.1z"/>
<path fill="#ff6d00" d="M682.4 168.5H687.0V173.0H682.4zM687.0 173.0H691.6V177.5H687.0zM677.8 177.5H682.4V182.0H677.8zM668.5 182.0H673.1V186.5H668.5zM650.0 191.0H654.7V195.5H650.0zM696.2 191.0H700.9V195.5H696.2zM705.5 195.5H710.1V200.0H705.5zM663.9 200.0H668.5V204.5H663.9zM640.8 204.5H645.4V209.0H640.8zM682.4 204.5H687.0V209.0H682.4zM682.4 209.0H687.0V213.5H682.4zM705.5 209.0H710.1V213.5H705.5zM626.9 213.5H631.6V218.0H626.9zM682.4 213.5H687.0V218.0H682.4zM654.7 218.0H659.3V222.5H654.7zM622.3 222.5H626.9V227.0H622.3zM705.5 222.5H710.1V227.0H705.5zM585.3 227.0H590.0V231.5H585.3zM566.9 231.5H571.5V236.0H566.9zM590.0 231.5H594.6V236.0H590.0z"/>
<path fill="#ff6200" d="M599.2 168.5H603.8V173.0H599.2zM677.8 173.0H682.4V177.5H677.8zM700.9 173.0H705.5V177.5H700.9zM659.3 177.5H663.9V182.0H659.3zM691.6 177.5H696.2V182.0H691.6zM663.9 182.0H668.5V186.5H663.9zM687.0 182.0H691.6V186.5H687.0zM691.6 186.5H696.2V191.0H691.6zM673.1 195.5H677.8V200.0H673.1zM668.5 213.5H673.1V218.0H668.5zM719.3 218.0H724.0V222.5H719.3zM580.7 227.0H585.3V231.5H580.7z"/>
<path fill="#ff5700" d="M682.4 177.5H687.0V182.0H682.4zM673.1 182.0H677.8V186.5H673.1zM700.9 182.0H705.5V186.5H700.9zM636.2 186.5H640.8V191.0H636.2zM659.3 186.5H663.9V191.0H659.3zM668.5 186.5H673.1V191.0H668.5zM710.1 191.0H714.7V195.5H710.1zM700.9 200.0H705.5V204.5H700.9zM636.2 204.5H640.8V209.0H636.2zM631.6 209.0H636.2V213.5H631.6zM696.2 209.0H700.9V213.5H696.2zM710.1 209.0H714.7V213.5H710.1zM613.1 213.5H617.7V218.0H613.1zM645.4 213.5H650.0V218.0H645.4zM714.7 213.5H719.3V218.0H714.7zM696.2 222.5H700.9V227.0H696.2zM576.1 227.0H580.7V231.5H576.1zM590.0 227.0H594.6V231.5H590.0zM617.7 231.5H622.3V236.0H617.7zM631.6 231.5H636.2V236.0H631.6z"/>
<path fill="#ff4c00" d="M700.9 164.0H705.5V168.5H700.9zM691.6 182.0H696.2V186.5H691.6zM714.7 191.0H719.3V195.5H714.7zM691.6 200.0H696.2V204.5H691.6zM617.7 209.0H622.3V213.5H617.7zM663.9 209.0H668.5V213.5H663.9zM663.9 213.5H668.5V218.0H663.9zM631.6 218.0H636.2V222.5H631.6zM645.4 218.0H650.0V222.5H645.4zM626.9 222.5H631.6V227.0H626.9zM700.9 222.5H705.5V227.0H700.9zM603.8 227.0H613.1V231.5H603.8zM668.5 227.0H673.1V231.5H668.5zM700.9 227.0H710.1V231.5H700.9z"/>
<path fill="#ff4200" d="M687.0 177.5H691.6V182.0H687.0zM682.4 191.0H687.0V195.5H682.4zM645.4 204.5H650.0V209.0H645.4zM654.7 204.5H659.3V209.0H654.7zM659.3 209.0H663.9V213.5H659.3zM636.2 213.5H640.8V218.0H636.2zM659.3 213.5H663.9V218.0H659.3zM622.3 218.0H626.9V222.5H622.3zM640.8 222.5H650.0V227.0H640.8zM599.2 227.0H603.8V231.5H599.2z"/>
<path fill="#ff3700" d="M705.5 168.5H710.1V173.0H705.5zM700.9 177.5H705.5V182.0H700.9zM710.1 186.5H714.7V191.0H710.1zM654.7 191.0H659.3V195.5H654.7zM668.5 195.5H673.1V200.0H668.5zM696.2 204.5H700.9V209.0H696.2zM677.8 213.5H682.4V218.0H677.8zM700.9 218.0H705.5V222.5H700.9zM663.9 222.5H668.5V227.0H663.9zM613.1 227.0H617.7V231.5H613.1zM673.1 227.0H677.8V231.5H673.1zM668.5 231.5H673.1V236.0H668.5zM682.4 231.5H687.0V236.0H682.4z"/>
<path fill="#ff2c00" d="M691.6 191.0H696.2V195.5H691.6zM691.6 195.5H696.2V200.0H691.6zM687.0 200.0H691.6V204.5H687.0zM691.6 209.0H696.2V213.5H691.6zM710.1 213.5H714.7V218.0H710.1zM617.7 218.0H622.3V222.5H617.7zM687.0 218.0H691.6V222.5H687.0zM700.9 231.5H705.5V236.0H700.9z"/>
<path fill="#ff2200" d="M691.6 168.5H696.2V173.0H691.6zM705.5 186.5H710.1V191.0H705.5zM645.4 195.5H650.0V200.0H645.4zM636.2 200.0H640.8V204.5H636.2zM645.4 200.0H650.0V204.5H645.4zM682.4 200.0H687.0V204.5H682.4zM677.8 218.0H682.4V222.5H677.8zM663.9 227.0H668.5V231.5H663.9zM613.1 231.5H617.7V236.0H613.1zM626.9 231.5H631.6V236.0H626.9zM687.0 231.5H691.6V236.0H687.0zM696.2 231.5H700.9V236.0H696.2zM705.5 231.5H710.1V236.0H705.5z"/>
<path fill="#ff1700" d="M687.0 168.5H691.6V173.0H687.0zM682.4 186.5H687.0V191.0H682.4zM700.9 191.0H705.5V195.5H700.9zM654.7 209.0H659.3V213.5H654.7zM677.8 209.0H682.4V213.5H677.8zM668.5 218.0H673.1V222.5H668.5zM705.5 218.0H710.1V222.5H705.5zM650.0 222.5H654.7V227.0H650.0zM691.6 222.5H696.2V227.0H691.6zM617.7 227.0H622.3V231.5H617.7zM603.8 231.5H613.1V236.0H603.8zM645.4 231.5H650.0V236.0H645.4z"/>
<path fill="#ff0c00" d="M654.7 173.0H659.3V177.5H654.7zM640.8 200.0H645.4V204.5H640.8zM677.8 200.0H682.4V204.5H677.8zM710.1 200.0H714.7V204.5H710.1zM677.8 204.5H682.4V209.0H677.8z"/>
<path fill="#ff0100" d="M710.1 182.0H714.7V186.5H710.1zM654.7 200.0H659.3V204.5H654.7zM705.5 200.0H710.1V204.5H705.5zM691.6 204.5H696.2V209.0H691.6zM663.9 218.0H668.5V222.5H663.9zM631.6 222.5H636.2V227.0H631.6zM631.6 227.0H636.2V231.5H631.6z"/>
<path fill="#f60000" d="M696.2 177.5H700.9V182.0H696.2zM668.5 191.0H673.1V195.5H668.5zM696.2 200.0H700.9V204.5H696.2zM673.1 204.5H677.8V209.0H673.1zM650.0 218.0H654.7V222.5H650.0zM673.1 218.0H677.8V222.5H673.1zM682.4 218.0H687.0V222.5H682.4zM636.2 222.5H640.8V227.0H636.2zM640.8 227.0H650.0V231.5H640.8z"/>
<path fill="#eb0000" d="M673.1 173.0H677.8V177.5H673.1zM705.5 173.0H710.1V177.5H705.5zM705.5 182.0H710.1V186.5H705.5zM663.9 191.0H668.5V195.5H663.9zM608.4 222.5H613.1V227.0H608.4zM682.4 222.5H687.0V227.0H682.4zM677.8 227.0H682.4V231.5H677.8zM691.6 227.0H696.2V231.5H691.6z"/>
<path fill="#e00000" d="M696.2 186.5H700.9V191.0H696.2zM650.0 209.0H654.7V213.5H650.0zM687.0 227.0H691.6V231.5H687.0zM654.7 231.5H659.3V236.0H654.7z"/>
<path fill="#d50000" d="M682.4 182.0H687.0V186.5H682.4zM687.0 191.0H691.6V195.5H687.0zM654.7 222.5H663.9V227.0H654.7zM687.0 222.5H691.6V227.0H687.0zM659.3 227.0H663.9V231.5H659.3zM663.9 231.5H668.5V236.0H663.9zM677.8 231.5H682.4V236.0H677.8z"/>
<path fill="#cb0000" d="M668.5 200.0H673.1V204.5H668.5zM700.9 209.0H705.5V213.5H700.9zM640.8 218.0H645.4V222.5H640.8zM691.6 218.0H700.9V222.5H691.6zM696.2 227.0H700.9V231.5H696.2zM640.8 231.5H645.4V236.0H640.8z"/>
<path fill="#c00000" d="M696.2 173.0H700.9V177.5H696.2zM677.8 182.0H682.4V186.5H677.8zM687.0 213.5H691.6V218.0H687.0z"/>
<path fill="#b50000" d="M687.0 209.0H691.6V213.5H687.0zM691.6 213.5H696.2V218.0H691.6zM636.2 218.0H640.8V222.5H636.2zM677.8 222.5H682.4V227.0H677.8zM659.3 231.5H663.9V236.0H659.3z"/>
<path fill="#aa0000" d="M700.9 204.5H705.5V209.0H700.9zM696.2 213.5H700.9V218.0H696.2z"/>
<path fill="#a00000" d="M677.8 186.5H682.4V191.0H677.8zM700.9 213.5H705.5V218.0H700.9zM650.0 227.0H654.7V231.5H650.0z"/>
<path fill="#950000" d="M696.2 182.0H700.9V186.5H696.2zM650.0 231.5H654.7V236.0H650.0zM673.1 231.5H677.8V236.0H673.1zM691.6 231.5H696.2V236.0H691.6z"/>
<path fill="#8a0000" d="M687.0 186.5H691.6V191.0H687.0zM673.1 213.5H677.8V218.0H673.1zM594.6 227.0H599.2V231.5H594.6z"/>
<path fill="#800000" d="M687.0 195.5H691.6V200.0H687.0zM673.1 222.5H677.8V227.0H673.1zM654.7 227.0H659.3V231.5H654.7zM622.3 231.5H626.9V236.0H622.3zM636.2 231.5H640.8V236.0H636.2z"/></g><rect x="553.00" y="233.94" width="186.26" height="6.56" fill="#fff"/>
<rect x="739.26" y="225.88" width="81.74" height="14.62" fill="#fff"/>
<g shape-rendering="crispEdges" filter="url(#soft)"><path fill="#4415e6" d="M181.5 372.7H185.9V376.9H181.5zM185.9 406.8H190.3V411.0H185.9zM185.9 411.0H190.3V415.3H185.9zM37.4 475.0H41.8V479.2H37.4z"/>
<path fill="#3b17e7" d="M185.9 402.5H190.3V406.8H185.9zM185.9 415.3H190.3V419.6H185.9zM185.9 419.6H190.3V423.8H185.9z"/>
<path fill="#3319e8" d="M185.9 398.2H190.3V402.5H185.9z"/>
<path fill="#221dea" d="M185.9 394.0H190.3V398.2H185.9zM172.8 470.7H177.2V475.0H172.8zM172.8 475.0H177.2V479.2H172.8z"/>
<path fill="#1f21eb" d="M172.8 462.2H177.2V466.4H172.8zM172.8 466.4H177.2V470.7H172.8z"/>
<path fill="#2028ec" d="M181.5 368.4H185.9V372.7H181.5z"/>
<path fill="#212eed" d="M172.8 457.9H177.2V462.2H172.8z"/>
<path fill="#243cee" d="M185.9 389.7H190.3V394.0H185.9zM185.9 423.8H190.3V428.1H185.9z"/>
<path fill="#2749ef" d="M185.9 368.4H190.3V372.7H185.9zM185.9 376.9H190.3V381.2H185.9zM185.9 385.5H190.3V389.7H185.9zM185.9 428.1H190.3V432.3H185.9z"/>
<path fill="#284ff0" d="M185.9 364.1H190.3V368.4H185.9zM185.9 372.7H190.3V376.9H185.9zM185.9 381.2H190.3V385.5H185.9z"/>
<path fill="#2756f0" d="M168.4 457.9H172.8V462.2H168.4zM172.8 479.2H177.2V483.5H172.8z"/>
<path fill="#275df0" d="M168.4 462.2H172.8V466.4H168.4z"/>
<path fill="#256af0" d="M168.4 466.4H172.8V470.7H168.4z"/>
<path fill="#2570f0" d="M181.5 364.1H185.9V368.4H181.5zM181.5 394.0H185.9V398.2H181.5zM190.3 428.1H194.6V432.3H190.3zM168.4 470.7H172.8V475.0H168.4z"/>
<path fill="#2477f0" d="M181.5 376.9H185.9V381.2H181.5zM181.5 381.2H185.9V385.5H181.5zM181.5 385.5H185.9V389.7H181.5zM190.3 419.6H194.6V423.8H190.3zM190.3 423.8H194.6V428.1H190.3zM172.8 453.6H177.2V457.9H172.8zM37.4 479.2H41.8V483.5H37.4z"/>
<path fill="#237df0" d="M181.5 389.7H185.9V394.0H181.5zM181.5 406.8H185.9V411.0H181.5zM190.3 415.3H194.6V419.6H190.3zM168.4 475.0H172.8V479.2H168.4z"/>
<path fill="#2384f0" d="M190.3 389.7H194.6V394.0H190.3zM181.5 398.2H185.9V402.5H181.5zM181.5 402.5H185.9V406.8H181.5zM190.3 402.5H194.6V406.8H190.3zM190.3 406.8H194.6V411.0H190.3zM181.5 411.0H185.9V415.3H181.5zM190.3 411.0H194.6V415.3H190.3z"/>
<path fill="#2389f0" d="M190.3 394.0H194.6V398.2H190.3zM190.3 398.2H194.6V402.5H190.3zM181.5 415.3H185.9V419.6H181.5zM181.5 419.6H185.9V423.8H181.5zM37.4 466.4H41.8V470.7H37.4z"/>
<path fill="#238ef0" d="M190.3 381.2H194.6V385.5H190.3zM190.3 385.5H194.6V389.7H190.3zM181.5 423.8H185.9V428.1H181.5zM181.5 428.1H185.9V432.3H181.5zM168.4 453.6H172.8V457.9H168.4zM37.4 470.7H41.8V475.0H37.4zM37.4 483.5H41.8V487.7H37.4zM37.4 487.7H41.8V492.0H37.4z"/>
<path fill="#2393f0" d="M185.9 359.9H190.3V364.1H185.9zM190.3 372.7H194.6V376.9H190.3zM190.3 376.9H194.6V381.2H190.3zM185.9 432.3H194.6V436.6H185.9zM185.9 436.6H190.3V440.9H185.9zM181.5 440.9H185.9V445.1H181.5zM172.8 445.1H177.2V449.4H172.8zM164.0 449.4H168.4V453.6H164.0zM168.4 479.2H172.8V483.5H168.4z"/>
<path fill="#2399f0" d="M137.8 325.8H142.2V330.0H137.8zM190.3 364.1H199.0V368.4H190.3zM190.3 368.4H194.6V372.7H190.3zM181.5 436.6H185.9V440.9H181.5zM168.4 445.1H172.8V449.4H168.4zM177.2 445.1H181.5V449.4H177.2zM177.2 475.0H181.5V479.2H177.2z"/>
<path fill="#239ef0" d="M142.2 325.8H146.6V330.0H142.2zM194.6 359.9H199.0V364.1H194.6zM203.4 364.1H207.7V368.4H203.4zM181.5 432.3H185.9V436.6H181.5zM190.3 436.6H194.6V440.9H190.3zM164.0 445.1H168.4V449.4H164.0zM168.4 449.4H172.8V453.6H168.4zM177.2 470.7H181.5V475.0H177.2z"/>
<path fill="#23a3f0" d="M181.5 359.9H185.9V364.1H181.5zM190.3 359.9H194.6V364.1H190.3zM286.3 364.1H290.7V368.4H286.3zM286.3 368.4H290.7V372.7H286.3zM286.3 372.7H290.7V376.9H286.3zM286.3 376.9H290.7V381.2H286.3zM286.3 394.0H290.7V398.2H286.3zM286.3 406.8H290.7V411.0H286.3zM185.9 440.9H190.3V445.1H185.9zM172.8 449.4H177.2V453.6H172.8z"/>
<path fill="#28a7f0" d="M146.6 325.8H150.9V330.0H146.6zM142.2 330.0H146.6V334.3H142.2zM185.9 355.6H194.6V359.9H185.9zM199.0 364.1H203.4V368.4H199.0zM286.3 381.2H290.7V385.5H286.3zM286.3 385.5H290.7V389.7H286.3zM286.3 389.7H290.7V394.0H286.3zM282.0 394.0H286.3V398.2H282.0zM286.3 398.2H290.7V402.5H286.3zM282.0 402.5H290.7V406.8H282.0zM177.2 440.9H181.5V445.1H177.2zM177.2 466.4H181.5V470.7H177.2z"/>
<path fill="#31aaf1" d="M282.0 398.2H286.3V402.5H282.0zM247.0 479.2H251.4V483.5H247.0zM172.8 483.5H177.2V487.7H172.8zM251.4 492.0H255.8V496.3H251.4zM251.4 496.3H255.8V500.5H251.4zM251.4 500.5H255.8V504.8H251.4z"/>
<path fill="#39adf2" d="M129.1 317.3H137.8V321.5H129.1zM137.8 321.5H146.6V325.8H137.8zM233.9 325.8H238.3V330.0H233.9zM137.8 330.0H142.2V334.3H137.8zM155.3 330.0H159.7V334.3H155.3zM155.3 334.3H159.7V338.6H155.3zM164.0 334.3H168.4V338.6H164.0zM164.0 338.6H172.8V342.8H164.0zM233.9 338.6H238.3V342.8H233.9zM168.4 342.8H177.2V347.1H168.4zM233.9 342.8H238.3V347.1H233.9zM185.9 351.4H190.3V355.6H185.9zM181.5 355.6H185.9V359.9H181.5zM199.0 359.9H203.4V364.1H199.0zM282.0 381.2H286.3V385.5H282.0zM282.0 385.5H286.3V389.7H282.0zM282.0 389.7H286.3V394.0H282.0zM181.5 445.1H185.9V449.4H181.5zM177.2 457.9H181.5V462.2H177.2zM177.2 462.2H181.5V466.4H177.2zM247.0 475.0H251.4V479.2H247.0zM177.2 479.2H181.5V483.5H177.2zM251.4 479.2H255.8V483.5H251.4zM251.4 483.5H255.8V487.7H251.4zM251.4 487.7H255.8V492.0H251.4z"/>
<path fill="#41b0f3" d="M124.7 313.0H133.5V317.3H124.7zM233.9 313.0H238.3V317.3H233.9zM137.8 317.3H142.2V321.5H137.8zM233.9 317.3H242.7V321.5H233.9zM133.5 321.5H137.8V325.8H133.5zM233.9 321.5H238.3V325.8H233.9zM133.5 325.8H137.8V330.0H133.5zM146.6 330.0H155.3V334.3H146.6zM233.9 330.0H238.3V334.3H233.9zM159.7 334.3H164.0V338.6H159.7zM233.9 334.3H238.3V338.6H233.9zM177.2 342.8H181.5V347.1H177.2zM172.8 347.1H185.9V351.4H172.8zM229.6 347.1H233.9V351.4H229.6zM181.5 351.4H185.9V355.6H181.5zM190.3 351.4H194.6V355.6H190.3zM194.6 355.6H199.0V359.9H194.6zM282.0 376.9H286.3V381.2H282.0zM172.8 440.9H177.2V445.1H172.8zM177.2 449.4H181.5V453.6H177.2zM247.0 470.7H251.4V475.0H247.0zM247.0 483.5H251.4V487.7H247.0zM37.4 492.0H41.8V496.3H37.4z"/>
<path fill="#49b3f3" d="M238.3 313.0H242.7V317.3H238.3zM124.7 317.3H129.1V321.5H124.7zM146.6 321.5H150.9V325.8H146.6zM150.9 325.8H155.3V330.0H150.9zM159.7 330.0H164.0V334.3H159.7zM229.6 330.0H233.9V334.3H229.6zM225.2 334.3H233.9V338.6H225.2zM229.6 342.8H233.9V347.1H229.6zM185.9 347.1H190.3V351.4H185.9zM233.9 347.1H238.3V351.4H233.9zM177.2 351.4H181.5V355.6H177.2zM203.4 359.9H207.7V364.1H203.4zM177.2 364.1H181.5V368.4H177.2zM177.2 368.4H181.5V372.7H177.2zM282.0 368.4H286.3V372.7H282.0zM177.2 372.7H181.5V376.9H177.2zM194.6 372.7H199.0V376.9H194.6zM282.0 372.7H286.3V376.9H282.0zM282.0 406.8H286.3V411.0H282.0zM194.6 432.3H199.0V436.6H194.6zM177.2 453.6H181.5V457.9H177.2zM251.4 475.0H255.8V479.2H251.4zM168.4 483.5H172.8V487.7H168.4zM247.0 487.7H251.4V492.0H247.0zM247.0 492.0H251.4V496.3H247.0z"/>
<path fill="#52b6f4" d="M133.5 313.0H137.8V317.3H133.5zM229.6 317.3H233.9V321.5H229.6zM238.3 321.5H242.7V325.8H238.3zM159.7 338.6H164.0V342.8H159.7zM229.6 338.6H233.9V342.8H229.6zM225.2 347.1H229.6V351.4H225.2zM194.6 368.4H199.0V372.7H194.6zM194.6 376.9H199.0V381.2H194.6zM177.2 381.2H181.5V385.5H177.2zM194.6 381.2H199.0V385.5H194.6zM177.2 394.0H181.5V398.2H177.2zM194.6 398.2H199.0V402.5H194.6zM194.6 428.1H199.0V432.3H194.6zM203.4 436.6H212.1V440.9H203.4zM216.5 436.6H220.8V440.9H216.5zM190.3 440.9H194.6V445.1H190.3zM159.7 449.4H164.0V453.6H159.7z"/>
<path fill="#5ab9f5" d="M229.6 313.0H233.9V317.3H229.6zM142.2 317.3H146.6V321.5H142.2zM129.1 321.5H133.5V325.8H129.1zM199.0 321.5H203.4V325.8H199.0zM225.2 321.5H233.9V325.8H225.2zM216.5 325.8H225.2V330.0H216.5zM238.3 325.8H242.7V330.0H238.3zM216.5 330.0H225.2V334.3H216.5zM150.9 334.3H155.3V338.6H150.9zM220.8 334.3H225.2V338.6H220.8zM238.3 334.3H242.7V338.6H238.3zM172.8 338.6H177.2V342.8H172.8zM238.3 338.6H242.7V342.8H238.3zM164.0 342.8H168.4V347.1H164.0zM181.5 342.8H185.9V347.1H181.5zM220.8 342.8H225.2V347.1H220.8zM199.0 351.4H203.4V355.6H199.0zM177.2 376.9H181.5V381.2H177.2zM177.2 385.5H181.5V389.7H177.2zM194.6 385.5H199.0V389.7H194.6zM194.6 389.7H199.0V394.0H194.6zM194.6 402.5H199.0V406.8H194.6zM194.6 406.8H199.0V411.0H194.6zM194.6 415.3H199.0V419.6H194.6zM194.6 419.6H199.0V423.8H194.6zM194.6 423.8H199.0V428.1H194.6zM177.2 436.6H181.5V440.9H177.2zM199.0 436.6H203.4V440.9H199.0zM212.1 436.6H216.5V440.9H212.1zM220.8 436.6H225.2V440.9H220.8zM247.0 466.4H251.4V470.7H247.0zM251.4 470.7H255.8V475.0H251.4zM247.0 496.3H251.4V500.5H247.0zM255.8 496.3H260.1V500.5H255.8zM255.8 500.5H260.1V504.8H255.8z"/>
<path fill="#69bff4" d="M120.4 313.0H124.7V317.3H120.4zM220.8 313.0H225.2V317.3H220.8zM203.4 317.3H207.7V321.5H203.4zM216.5 321.5H220.8V325.8H216.5zM155.3 325.8H159.7V330.0H155.3zM203.4 325.8H212.1V330.0H203.4zM225.2 325.8H233.9V330.0H225.2zM207.7 330.0H212.1V334.3H207.7zM238.3 330.0H242.7V334.3H238.3zM168.4 334.3H172.8V338.6H168.4zM207.7 334.3H212.1V338.6H207.7zM155.3 338.6H159.7V342.8H155.3zM190.3 338.6H194.6V342.8H190.3zM203.4 342.8H207.7V347.1H203.4zM168.4 347.1H172.8V351.4H168.4zM194.6 347.1H199.0V351.4H194.6zM212.1 351.4H216.5V355.6H212.1zM220.8 351.4H225.2V355.6H220.8zM233.9 351.4H238.3V355.6H233.9zM177.2 359.9H181.5V364.1H177.2zM282.0 364.1H286.3V368.4H282.0zM177.2 389.7H181.5V394.0H177.2zM194.6 394.0H199.0V398.2H194.6zM194.6 411.0H199.0V415.3H194.6zM177.2 419.6H181.5V423.8H177.2zM177.2 428.1H181.5V432.3H177.2zM194.6 436.6H199.0V440.9H194.6zM225.2 436.6H229.6V440.9H225.2zM168.4 440.9H172.8V445.1H168.4zM159.7 445.1H164.0V449.4H159.7zM164.0 453.6H168.4V457.9H164.0zM255.8 492.0H260.1V496.3H255.8zM59.2 496.3H63.6V500.5H59.2z"/>
<path fill="#77c4f3" d="M207.7 313.0H212.1V317.3H207.7zM216.5 313.0H220.8V317.3H216.5zM225.2 313.0H229.6V317.3H225.2zM194.6 317.3H203.4V321.5H194.6zM207.7 317.3H212.1V321.5H207.7zM216.5 317.3H220.8V321.5H216.5zM150.9 321.5H155.3V325.8H150.9zM207.7 321.5H212.1V325.8H207.7zM164.0 330.0H168.4V334.3H164.0zM199.0 334.3H203.4V338.6H199.0zM212.1 334.3H216.5V338.6H212.1zM203.4 338.6H207.7V342.8H203.4zM212.1 338.6H216.5V342.8H212.1zM212.1 342.8H216.5V347.1H212.1zM199.0 347.1H207.7V351.4H199.0zM172.8 351.4H177.2V355.6H172.8zM207.7 351.4H212.1V355.6H207.7zM229.6 351.4H233.9V355.6H229.6zM203.4 355.6H207.7V359.9H203.4zM229.6 355.6H233.9V359.9H229.6zM177.2 398.2H181.5V402.5H177.2zM177.2 402.5H181.5V406.8H177.2zM177.2 406.8H181.5V411.0H177.2zM177.2 411.0H181.5V415.3H177.2zM177.2 415.3H181.5V419.6H177.2zM177.2 423.8H181.5V428.1H177.2zM177.2 432.3H181.5V436.6H177.2zM225.2 440.9H229.6V445.1H225.2zM164.0 457.9H168.4V462.2H164.0zM164.0 462.2H168.4V466.4H164.0zM164.0 470.7H168.4V475.0H164.0zM242.7 470.7H247.0V475.0H242.7zM164.0 475.0H168.4V479.2H164.0zM37.4 500.5H46.1V504.8H37.4zM50.5 500.5H54.9V504.8H50.5zM59.2 500.5H63.6V504.8H59.2zM247.0 500.5H251.4V504.8H247.0zM50.5 504.8H54.9V509.1H50.5z"/>
<path fill="#86caf2" d="M199.0 313.0H207.7V317.3H199.0zM212.1 313.0H216.5V317.3H212.1zM199.0 325.8H203.4V330.0H199.0zM212.1 325.8H216.5V330.0H212.1zM242.7 325.8H247.0V330.0H242.7zM133.5 330.0H137.8V334.3H133.5zM194.6 330.0H199.0V334.3H194.6zM203.4 330.0H207.7V334.3H203.4zM212.1 330.0H216.5V334.3H212.1zM146.6 334.3H150.9V338.6H146.6zM216.5 334.3H220.8V338.6H216.5zM177.2 338.6H181.5V342.8H177.2zM207.7 338.6H212.1V342.8H207.7zM216.5 338.6H220.8V342.8H216.5zM190.3 342.8H194.6V347.1H190.3zM216.5 342.8H220.8V347.1H216.5zM212.1 347.1H216.5V351.4H212.1zM194.6 351.4H199.0V355.6H194.6zM177.2 355.6H181.5V359.9H177.2zM199.0 355.6H203.4V359.9H199.0zM207.7 364.1H212.1V368.4H207.7zM199.0 368.4H203.4V372.7H199.0zM164.0 381.2H168.4V385.5H164.0zM203.4 432.3H207.7V436.6H203.4zM229.6 436.6H233.9V440.9H229.6zM203.4 440.9H207.7V445.1H203.4zM212.1 440.9H225.2V445.1H212.1zM229.6 440.9H233.9V445.1H229.6zM238.3 440.9H242.7V445.1H238.3zM185.9 445.1H190.3V449.4H185.9zM194.6 445.1H199.0V449.4H194.6zM233.9 445.1H242.7V449.4H233.9zM242.7 453.6H247.0V457.9H242.7zM164.0 466.4H168.4V470.7H164.0zM251.4 466.4H255.8V470.7H251.4zM41.8 487.7H46.1V492.0H41.8zM46.1 492.0H50.5V496.3H46.1zM63.6 496.3H68.0V500.5H63.6zM68.0 500.5H72.3V504.8H68.0zM59.2 504.8H63.6V509.1H59.2zM251.4 504.8H255.8V509.1H251.4z"/>
<path fill="#95d0f1" d="M137.8 313.0H146.6V317.3H137.8zM242.7 313.0H247.0V317.3H242.7zM120.4 317.3H124.7V321.5H120.4zM190.3 317.3H194.6V321.5H190.3zM212.1 317.3H216.5V321.5H212.1zM220.8 317.3H225.2V321.5H220.8zM124.7 321.5H129.1V325.8H124.7zM190.3 321.5H194.6V325.8H190.3zM203.4 321.5H207.7V325.8H203.4zM212.1 321.5H216.5V325.8H212.1zM220.8 321.5H225.2V325.8H220.8zM242.7 321.5H247.0V325.8H242.7zM181.5 330.0H194.6V334.3H181.5zM172.8 334.3H177.2V338.6H172.8zM190.3 334.3H194.6V338.6H190.3zM203.4 334.3H207.7V338.6H203.4zM225.2 338.6H229.6V342.8H225.2zM159.7 342.8H164.0V347.1H159.7zM185.9 342.8H190.3V347.1H185.9zM199.0 342.8H203.4V347.1H199.0zM207.7 342.8H212.1V347.1H207.7zM225.2 342.8H229.6V347.1H225.2zM238.3 342.8H242.7V347.1H238.3zM164.0 347.1H168.4V351.4H164.0zM190.3 347.1H194.6V351.4H190.3zM216.5 347.1H220.8V351.4H216.5zM238.3 347.1H242.7V351.4H238.3zM233.9 355.6H238.3V359.9H233.9zM172.8 359.9H177.2V364.1H172.8zM212.1 359.9H225.2V364.1H212.1zM164.0 368.4H168.4V372.7H164.0zM233.9 368.4H238.3V372.7H233.9zM212.1 376.9H216.5V381.2H212.1zM168.4 381.2H172.8V385.5H168.4zM164.0 398.2H168.4V402.5H164.0zM172.8 402.5H177.2V406.8H172.8zM207.7 432.3H220.8V436.6H207.7zM164.0 440.9H168.4V445.1H164.0zM194.6 440.9H203.4V445.1H194.6zM207.7 440.9H212.1V445.1H207.7zM233.9 440.9H238.3V445.1H233.9zM199.0 445.1H207.7V449.4H199.0zM212.1 445.1H216.5V449.4H212.1zM220.8 445.1H233.9V449.4H220.8zM242.7 445.1H247.0V449.4H242.7zM181.5 449.4H185.9V453.6H181.5zM238.3 449.4H251.4V453.6H238.3zM242.7 457.9H251.4V462.2H242.7zM242.7 462.2H255.8V466.4H242.7zM242.7 466.4H247.0V470.7H242.7zM242.7 475.0H247.0V479.2H242.7zM164.0 479.2H168.4V483.5H164.0zM255.8 479.2H260.1V483.5H255.8zM46.1 487.7H50.5V492.0H46.1zM242.7 487.7H247.0V492.0H242.7zM255.8 487.7H260.1V492.0H255.8zM41.8 492.0H46.1V496.3H41.8zM59.2 492.0H68.0V496.3H59.2zM46.1 496.3H50.5V500.5H46.1zM260.1 496.3H264.5V500.5H260.1zM37.4 504.8H41.8V509.1H37.4zM46.1 504.8H50.5V509.1H46.1zM247.0 504.8H251.4V509.1H247.0zM59.2 509.1H63.6V513.3H59.2zM72.3 509.1H81.1V513.3H72.3z"/>
<path fill="#a4d5ee" d="M146.6 317.3H150.9V321.5H146.6zM225.2 317.3H229.6V321.5H225.2zM242.7 317.3H247.0V321.5H242.7zM155.3 321.5H159.7V325.8H155.3zM185.9 321.5H190.3V325.8H185.9zM129.1 325.8H133.5V330.0H129.1zM159.7 325.8H164.0V330.0H159.7zM190.3 325.8H194.6V330.0H190.3zM168.4 330.0H172.8V334.3H168.4zM199.0 330.0H203.4V334.3H199.0zM225.2 330.0H229.6V334.3H225.2zM181.5 334.3H190.3V338.6H181.5zM194.6 334.3H199.0V338.6H194.6zM242.7 334.3H247.0V338.6H242.7zM181.5 338.6H190.3V342.8H181.5zM194.6 338.6H203.4V342.8H194.6zM220.8 338.6H225.2V342.8H220.8zM242.7 338.6H247.0V342.8H242.7zM194.6 342.8H199.0V347.1H194.6zM207.7 347.1H212.1V351.4H207.7zM242.7 347.1H247.0V351.4H242.7zM203.4 351.4H207.7V355.6H203.4zM225.2 351.4H229.6V355.6H225.2zM238.3 351.4H242.7V355.6H238.3zM172.8 355.6H177.2V359.9H172.8zM207.7 355.6H212.1V359.9H207.7zM225.2 355.6H229.6V359.9H225.2zM238.3 359.9H242.7V364.1H238.3zM216.5 364.1H220.8V368.4H216.5zM225.2 364.1H229.6V368.4H225.2zM233.9 364.1H238.3V368.4H233.9zM212.1 368.4H216.5V372.7H212.1zM225.2 368.4H229.6V372.7H225.2zM159.7 372.7H168.4V376.9H159.7zM225.2 372.7H233.9V376.9H225.2zM150.9 381.2H155.3V385.5H150.9zM172.8 381.2H177.2V385.5H172.8zM164.0 385.5H168.4V389.7H164.0zM155.3 389.7H172.8V394.0H155.3zM203.4 394.0H207.7V398.2H203.4zM203.4 402.5H207.7V406.8H203.4zM172.8 411.0H177.2V415.3H172.8zM199.0 411.0H203.4V415.3H199.0zM286.3 411.0H290.7V415.3H286.3zM199.0 419.6H203.4V423.8H199.0zM172.8 428.1H177.2V432.3H172.8zM199.0 428.1H203.4V432.3H199.0zM212.1 428.1H220.8V432.3H212.1zM199.0 432.3H203.4V436.6H199.0zM233.9 432.3H238.3V436.6H233.9zM233.9 436.6H238.3V440.9H233.9zM242.7 440.9H247.0V445.1H242.7zM155.3 445.1H159.7V449.4H155.3zM155.3 449.4H159.7V453.6H155.3zM199.0 449.4H203.4V453.6H199.0zM216.5 449.4H225.2V453.6H216.5zM229.6 449.4H238.3V453.6H229.6zM229.6 453.6H242.7V457.9H229.6zM247.0 453.6H255.8V457.9H247.0zM251.4 457.9H255.8V462.2H251.4zM255.8 462.2H264.5V466.4H255.8zM268.9 462.2H273.2V466.4H268.9zM155.3 466.4H159.7V470.7H155.3zM238.3 466.4H242.7V470.7H238.3zM260.1 466.4H264.5V470.7H260.1zM155.3 470.7H159.7V475.0H155.3zM255.8 470.7H260.1V475.0H255.8zM50.5 483.5H54.9V487.7H50.5zM260.1 483.5H264.5V487.7H260.1zM242.7 492.0H247.0V496.3H242.7zM72.3 496.3H76.7V500.5H72.3zM282.0 496.3H286.3V500.5H282.0zM63.6 500.5H68.0V504.8H63.6zM76.7 500.5H81.1V504.8H76.7zM85.4 500.5H94.2V504.8H85.4zM260.1 500.5H264.5V504.8H260.1zM54.9 504.8H59.2V509.1H54.9zM72.3 504.8H76.7V509.1H72.3zM242.7 504.8H247.0V509.1H242.7zM255.8 504.8H264.5V509.1H255.8zM268.9 504.8H273.2V509.1H268.9zM37.4 509.1H41.8V513.3H37.4zM251.4 509.1H255.8V513.3H251.4zM282.0 509.1H286.3V513.3H282.0z"/>
<path fill="#b5dbe7" d="M146.6 313.0H150.9V317.3H146.6zM185.9 313.0H199.0V317.3H185.9zM116.0 317.3H120.4V321.5H116.0zM150.9 317.3H155.3V321.5H150.9zM181.5 317.3H190.3V321.5H181.5zM120.4 321.5H124.7V325.8H120.4zM194.6 321.5H199.0V325.8H194.6zM194.6 325.8H199.0V330.0H194.6zM247.0 330.0H251.4V334.3H247.0zM137.8 334.3H146.6V338.6H137.8zM177.2 334.3H181.5V338.6H177.2zM251.4 334.3H255.8V338.6H251.4zM137.8 338.6H142.2V342.8H137.8zM146.6 338.6H155.3V342.8H146.6zM251.4 338.6H255.8V342.8H251.4zM150.9 342.8H159.7V347.1H150.9zM247.0 342.8H251.4V347.1H247.0zM159.7 347.1H164.0V351.4H159.7zM220.8 347.1H225.2V351.4H220.8zM159.7 351.4H164.0V355.6H159.7zM168.4 351.4H172.8V355.6H168.4zM216.5 351.4H220.8V355.6H216.5zM168.4 355.6H172.8V359.9H168.4zM212.1 355.6H225.2V359.9H212.1zM207.7 359.9H212.1V364.1H207.7zM225.2 359.9H229.6V364.1H225.2zM233.9 359.9H238.3V364.1H233.9zM242.7 359.9H247.0V364.1H242.7zM286.3 359.9H290.7V364.1H286.3zM172.8 364.1H177.2V368.4H172.8zM212.1 364.1H216.5V368.4H212.1zM220.8 364.1H225.2V368.4H220.8zM229.6 364.1H233.9V368.4H229.6zM159.7 368.4H164.0V372.7H159.7zM203.4 368.4H212.1V372.7H203.4zM216.5 368.4H220.8V372.7H216.5zM238.3 368.4H242.7V372.7H238.3zM172.8 372.7H177.2V376.9H172.8zM199.0 372.7H216.5V376.9H199.0zM247.0 372.7H251.4V376.9H247.0zM172.8 376.9H177.2V381.2H172.8zM203.4 376.9H212.1V381.2H203.4zM216.5 376.9H225.2V381.2H216.5zM229.6 376.9H233.9V381.2H229.6zM142.2 381.2H146.6V385.5H142.2zM199.0 381.2H216.5V385.5H199.0zM146.6 385.5H150.9V389.7H146.6zM142.2 389.7H146.6V394.0H142.2zM172.8 389.7H177.2V394.0H172.8zM150.9 394.0H159.7V398.2H150.9zM172.8 394.0H177.2V398.2H172.8zM150.9 398.2H155.3V402.5H150.9zM168.4 398.2H172.8V402.5H168.4zM203.4 398.2H207.7V402.5H203.4zM199.0 402.5H203.4V406.8H199.0zM168.4 406.8H172.8V411.0H168.4zM168.4 419.6H172.8V423.8H168.4zM220.8 419.6H225.2V423.8H220.8zM164.0 423.8H168.4V428.1H164.0zM212.1 423.8H216.5V428.1H212.1zM164.0 428.1H168.4V432.3H164.0zM207.7 428.1H212.1V432.3H207.7zM229.6 428.1H233.9V432.3H229.6zM220.8 432.3H229.6V436.6H220.8zM155.3 436.6H159.7V440.9H155.3zM172.8 436.6H177.2V440.9H172.8zM238.3 436.6H247.0V440.9H238.3zM150.9 440.9H155.3V445.1H150.9zM159.7 440.9H164.0V445.1H159.7zM251.4 440.9H255.8V445.1H251.4zM190.3 445.1H194.6V449.4H190.3zM207.7 445.1H212.1V449.4H207.7zM216.5 445.1H220.8V449.4H216.5zM247.0 445.1H251.4V449.4H247.0zM255.8 445.1H260.1V449.4H255.8zM225.2 449.4H229.6V453.6H225.2zM251.4 449.4H260.1V453.6H251.4zM159.7 453.6H164.0V457.9H159.7zM181.5 453.6H190.3V457.9H181.5zM194.6 453.6H199.0V457.9H194.6zM220.8 453.6H225.2V457.9H220.8zM233.9 457.9H242.7V462.2H233.9zM255.8 457.9H260.1V462.2H255.8zM146.6 462.2H155.3V466.4H146.6zM159.7 462.2H164.0V466.4H159.7zM181.5 462.2H185.9V466.4H181.5zM238.3 462.2H242.7V466.4H238.3zM255.8 466.4H260.1V470.7H255.8zM150.9 470.7H155.3V475.0H150.9zM159.7 470.7H164.0V475.0H159.7zM264.5 470.7H268.9V475.0H264.5zM41.8 475.0H50.5V479.2H41.8zM155.3 475.0H159.7V479.2H155.3zM41.8 479.2H46.1V483.5H41.8zM242.7 479.2H247.0V483.5H242.7zM260.1 479.2H264.5V483.5H260.1zM59.2 483.5H63.6V487.7H59.2zM177.2 483.5H181.5V487.7H177.2zM242.7 483.5H247.0V487.7H242.7zM255.8 483.5H260.1V487.7H255.8zM277.6 483.5H282.0V487.7H277.6zM59.2 487.7H72.3V492.0H59.2zM238.3 487.7H242.7V492.0H238.3zM260.1 487.7H264.5V492.0H260.1zM268.9 487.7H273.2V492.0H268.9zM54.9 492.0H59.2V496.3H54.9zM72.3 492.0H76.7V496.3H72.3zM81.1 492.0H85.4V496.3H81.1zM238.3 492.0H242.7V496.3H238.3zM264.5 492.0H268.9V496.3H264.5zM273.2 492.0H277.6V496.3H273.2zM286.3 492.0H290.7V496.3H286.3zM37.4 496.3H46.1V500.5H37.4zM50.5 496.3H59.2V500.5H50.5zM242.7 496.3H247.0V500.5H242.7zM268.9 496.3H273.2V500.5H268.9zM46.1 500.5H50.5V504.8H46.1zM54.9 500.5H59.2V504.8H54.9zM72.3 500.5H76.7V504.8H72.3zM94.2 500.5H102.9V504.8H94.2zM242.7 500.5H247.0V504.8H242.7zM41.8 504.8H46.1V509.1H41.8zM63.6 504.8H72.3V509.1H63.6zM81.1 504.8H85.4V509.1H81.1zM277.6 504.8H282.0V509.1H277.6zM286.3 504.8H290.7V509.1H286.3zM41.8 509.1H59.2V513.3H41.8zM63.6 509.1H72.3V513.3H63.6zM94.2 509.1H98.5V513.3H94.2zM260.1 509.1H264.5V513.3H260.1zM273.2 509.1H277.6V513.3H273.2zM98.5 513.3H102.9V517.6H98.5zM102.9 517.6H107.3V521.8H102.9z"/>
<path fill="#c6e1df" d="M116.0 313.0H120.4V317.3H116.0zM247.0 313.0H255.8V317.3H247.0zM247.0 317.3H251.4V321.5H247.0zM159.7 321.5H164.0V325.8H159.7zM124.7 325.8H129.1V330.0H124.7zM164.0 325.8H168.4V330.0H164.0zM181.5 325.8H190.3V330.0H181.5zM247.0 325.8H255.8V330.0H247.0zM129.1 330.0H133.5V334.3H129.1zM172.8 330.0H181.5V334.3H172.8zM242.7 330.0H247.0V334.3H242.7zM251.4 330.0H255.8V334.3H251.4zM133.5 334.3H137.8V338.6H133.5zM247.0 334.3H251.4V338.6H247.0zM255.8 334.3H260.1V338.6H255.8zM142.2 338.6H146.6V342.8H142.2zM247.0 338.6H251.4V342.8H247.0zM137.8 342.8H146.6V347.1H137.8zM251.4 342.8H255.8V347.1H251.4zM146.6 347.1H159.7V351.4H146.6zM247.0 347.1H251.4V351.4H247.0zM146.6 351.4H150.9V355.6H146.6zM155.3 351.4H159.7V355.6H155.3zM164.0 351.4H168.4V355.6H164.0zM242.7 351.4H247.0V355.6H242.7zM155.3 355.6H168.4V359.9H155.3zM238.3 355.6H242.7V359.9H238.3zM251.4 355.6H255.8V359.9H251.4zM146.6 359.9H150.9V364.1H146.6zM159.7 359.9H164.0V364.1H159.7zM168.4 359.9H172.8V364.1H168.4zM137.8 364.1H142.2V368.4H137.8zM146.6 364.1H172.8V368.4H146.6zM242.7 364.1H247.0V368.4H242.7zM168.4 368.4H177.2V372.7H168.4zM220.8 368.4H225.2V372.7H220.8zM229.6 368.4H233.9V372.7H229.6zM168.4 372.7H172.8V376.9H168.4zM216.5 372.7H225.2V376.9H216.5zM238.3 372.7H247.0V376.9H238.3zM150.9 376.9H155.3V381.2H150.9zM164.0 376.9H172.8V381.2H164.0zM199.0 376.9H203.4V381.2H199.0zM225.2 376.9H229.6V381.2H225.2zM247.0 376.9H251.4V381.2H247.0zM146.6 381.2H150.9V385.5H146.6zM155.3 381.2H159.7V385.5H155.3zM216.5 381.2H220.8V385.5H216.5zM242.7 381.2H247.0V385.5H242.7zM150.9 385.5H155.3V389.7H150.9zM159.7 385.5H164.0V389.7H159.7zM168.4 385.5H177.2V389.7H168.4zM199.0 385.5H212.1V389.7H199.0zM216.5 385.5H220.8V389.7H216.5zM247.0 385.5H251.4V389.7H247.0zM137.8 389.7H142.2V394.0H137.8zM212.1 389.7H216.5V394.0H212.1zM225.2 389.7H233.9V394.0H225.2zM159.7 394.0H172.8V398.2H159.7zM199.0 394.0H203.4V398.2H199.0zM207.7 394.0H212.1V398.2H207.7zM220.8 394.0H225.2V398.2H220.8zM155.3 398.2H164.0V402.5H155.3zM199.0 398.2H203.4V402.5H199.0zM225.2 398.2H229.6V402.5H225.2zM277.6 398.2H282.0V402.5H277.6zM164.0 402.5H168.4V406.8H164.0zM207.7 402.5H212.1V406.8H207.7zM164.0 406.8H168.4V411.0H164.0zM207.7 406.8H216.5V411.0H207.7zM150.9 411.0H155.3V415.3H150.9zM168.4 411.0H172.8V415.3H168.4zM207.7 411.0H212.1V415.3H207.7zM229.6 411.0H233.9V415.3H229.6zM282.0 411.0H286.3V415.3H282.0zM168.4 415.3H177.2V419.6H168.4zM203.4 415.3H207.7V419.6H203.4zM216.5 415.3H225.2V419.6H216.5zM233.9 415.3H238.3V419.6H233.9zM268.9 415.3H273.2V419.6H268.9zM172.8 419.6H177.2V423.8H172.8zM155.3 423.8H159.7V428.1H155.3zM199.0 423.8H203.4V428.1H199.0zM225.2 423.8H229.6V428.1H225.2zM203.4 428.1H207.7V432.3H203.4zM220.8 428.1H229.6V432.3H220.8zM247.0 428.1H255.8V432.3H247.0zM155.3 432.3H164.0V436.6H155.3zM168.4 432.3H177.2V436.6H168.4zM229.6 432.3H233.9V436.6H229.6zM238.3 432.3H242.7V436.6H238.3zM247.0 432.3H251.4V436.6H247.0zM168.4 436.6H172.8V440.9H168.4zM255.8 436.6H260.1V440.9H255.8zM247.0 440.9H251.4V445.1H247.0zM260.1 440.9H264.5V445.1H260.1zM150.9 445.1H155.3V449.4H150.9zM251.4 445.1H255.8V449.4H251.4zM146.6 449.4H150.9V453.6H146.6zM185.9 449.4H199.0V453.6H185.9zM203.4 449.4H212.1V453.6H203.4zM142.2 453.6H146.6V457.9H142.2zM150.9 453.6H159.7V457.9H150.9zM264.5 453.6H273.2V457.9H264.5zM146.6 457.9H150.9V462.2H146.6zM155.3 457.9H164.0V462.2H155.3zM181.5 457.9H185.9V462.2H181.5zM199.0 457.9H203.4V462.2H199.0zM260.1 457.9H268.9V462.2H260.1zM273.2 457.9H277.6V462.2H273.2zM155.3 462.2H159.7V466.4H155.3zM264.5 462.2H268.9V466.4H264.5zM277.6 462.2H286.3V466.4H277.6zM142.2 466.4H146.6V470.7H142.2zM150.9 466.4H155.3V470.7H150.9zM159.7 466.4H164.0V470.7H159.7zM264.5 466.4H273.2V470.7H264.5zM41.8 470.7H46.1V475.0H41.8zM142.2 470.7H146.6V475.0H142.2zM238.3 470.7H242.7V475.0H238.3zM260.1 470.7H264.5V475.0H260.1zM277.6 470.7H290.7V475.0H277.6zM233.9 475.0H242.7V479.2H233.9zM255.8 475.0H264.5V479.2H255.8zM155.3 479.2H164.0V483.5H155.3zM268.9 479.2H273.2V483.5H268.9zM41.8 483.5H46.1V487.7H41.8zM286.3 483.5H290.7V487.7H286.3zM50.5 487.7H59.2V492.0H50.5zM72.3 487.7H76.7V492.0H72.3zM264.5 487.7H268.9V492.0H264.5zM277.6 487.7H282.0V492.0H277.6zM50.5 492.0H54.9V496.3H50.5zM85.4 492.0H89.8V496.3H85.4zM94.2 492.0H98.5V496.3H94.2zM68.0 496.3H72.3V500.5H68.0zM81.1 496.3H98.5V500.5H81.1zM102.9 496.3H107.3V500.5H102.9zM233.9 496.3H238.3V500.5H233.9zM277.6 496.3H282.0V500.5H277.6zM286.3 496.3H290.7V500.5H286.3zM81.1 500.5H85.4V504.8H81.1zM238.3 500.5H242.7V504.8H238.3zM268.9 500.5H277.6V504.8H268.9zM282.0 500.5H290.7V504.8H282.0zM76.7 504.8H81.1V509.1H76.7zM85.4 504.8H89.8V509.1H85.4zM94.2 504.8H98.5V509.1H94.2zM282.0 504.8H286.3V509.1H282.0zM81.1 509.1H94.2V513.3H81.1zM102.9 509.1H107.3V513.3H102.9zM247.0 509.1H251.4V513.3H247.0zM255.8 509.1H260.1V513.3H255.8zM277.6 509.1H282.0V513.3H277.6zM286.3 509.1H290.7V513.3H286.3z"/>
<path fill="#d6e7c4" d="M181.5 313.0H185.9V317.3H181.5zM255.8 313.0H260.1V317.3H255.8zM251.4 317.3H255.8V321.5H251.4zM277.6 317.3H282.0V321.5H277.6zM181.5 321.5H185.9V325.8H181.5zM247.0 321.5H264.5V325.8H247.0zM168.4 325.8H172.8V330.0H168.4zM255.8 325.8H260.1V330.0H255.8zM124.7 330.0H129.1V334.3H124.7zM255.8 330.0H264.5V334.3H255.8zM129.1 334.3H133.5V338.6H129.1zM260.1 334.3H264.5V338.6H260.1zM68.0 338.6H72.3V342.8H68.0zM133.5 338.6H137.8V342.8H133.5zM260.1 338.6H264.5V342.8H260.1zM129.1 342.8H133.5V347.1H129.1zM146.6 342.8H150.9V347.1H146.6zM242.7 342.8H247.0V347.1H242.7zM129.1 347.1H133.5V351.4H129.1zM137.8 347.1H146.6V351.4H137.8zM251.4 347.1H255.8V351.4H251.4zM142.2 351.4H146.6V355.6H142.2zM150.9 351.4H155.3V355.6H150.9zM247.0 351.4H260.1V355.6H247.0zM137.8 355.6H155.3V359.9H137.8zM247.0 355.6H251.4V359.9H247.0zM133.5 359.9H146.6V364.1H133.5zM150.9 359.9H159.7V364.1H150.9zM164.0 359.9H168.4V364.1H164.0zM229.6 359.9H233.9V364.1H229.6zM251.4 359.9H260.1V364.1H251.4zM142.2 364.1H146.6V368.4H142.2zM238.3 364.1H242.7V368.4H238.3zM247.0 364.1H251.4V368.4H247.0zM277.6 364.1H282.0V368.4H277.6zM133.5 368.4H159.7V372.7H133.5zM242.7 368.4H260.1V372.7H242.7zM133.5 372.7H159.7V376.9H133.5zM233.9 372.7H238.3V376.9H233.9zM255.8 372.7H264.5V376.9H255.8zM133.5 376.9H150.9V381.2H133.5zM155.3 376.9H164.0V381.2H155.3zM233.9 376.9H238.3V381.2H233.9zM255.8 376.9H260.1V381.2H255.8zM273.2 376.9H277.6V381.2H273.2zM133.5 381.2H142.2V385.5H133.5zM159.7 381.2H164.0V385.5H159.7zM220.8 381.2H242.7V385.5H220.8zM247.0 381.2H255.8V385.5H247.0zM273.2 381.2H282.0V385.5H273.2zM129.1 385.5H146.6V389.7H129.1zM155.3 385.5H159.7V389.7H155.3zM212.1 385.5H216.5V389.7H212.1zM220.8 385.5H225.2V389.7H220.8zM229.6 385.5H247.0V389.7H229.6zM273.2 385.5H277.6V389.7H273.2zM124.7 389.7H137.8V394.0H124.7zM146.6 389.7H155.3V394.0H146.6zM199.0 389.7H207.7V394.0H199.0zM216.5 389.7H225.2V394.0H216.5zM238.3 389.7H251.4V394.0H238.3zM255.8 389.7H260.1V394.0H255.8zM277.6 389.7H282.0V394.0H277.6zM137.8 394.0H150.9V398.2H137.8zM216.5 394.0H220.8V398.2H216.5zM225.2 394.0H229.6V398.2H225.2zM233.9 394.0H242.7V398.2H233.9zM255.8 394.0H260.1V398.2H255.8zM277.6 394.0H282.0V398.2H277.6zM133.5 398.2H137.8V402.5H133.5zM142.2 398.2H150.9V402.5H142.2zM172.8 398.2H177.2V402.5H172.8zM207.7 398.2H212.1V402.5H207.7zM216.5 398.2H220.8V402.5H216.5zM233.9 398.2H242.7V402.5H233.9zM247.0 398.2H260.1V402.5H247.0zM273.2 398.2H277.6V402.5H273.2zM146.6 402.5H164.0V406.8H146.6zM168.4 402.5H172.8V406.8H168.4zM212.1 402.5H251.4V406.8H212.1zM268.9 402.5H273.2V406.8H268.9zM277.6 402.5H282.0V406.8H277.6zM150.9 406.8H164.0V411.0H150.9zM172.8 406.8H177.2V411.0H172.8zM199.0 406.8H207.7V411.0H199.0zM216.5 406.8H229.6V411.0H216.5zM242.7 406.8H247.0V411.0H242.7zM251.4 406.8H260.1V411.0H251.4zM277.6 406.8H282.0V411.0H277.6zM146.6 411.0H150.9V415.3H146.6zM155.3 411.0H168.4V415.3H155.3zM203.4 411.0H207.7V415.3H203.4zM212.1 411.0H225.2V415.3H212.1zM233.9 411.0H238.3V415.3H233.9zM242.7 411.0H247.0V415.3H242.7zM273.2 411.0H277.6V415.3H273.2zM146.6 415.3H150.9V419.6H146.6zM159.7 415.3H168.4V419.6H159.7zM199.0 415.3H203.4V419.6H199.0zM207.7 415.3H212.1V419.6H207.7zM229.6 415.3H233.9V419.6H229.6zM238.3 415.3H247.0V419.6H238.3zM251.4 415.3H268.9V419.6H251.4zM282.0 415.3H286.3V419.6H282.0zM150.9 419.6H168.4V423.8H150.9zM203.4 419.6H220.8V423.8H203.4zM225.2 419.6H238.3V423.8H225.2zM242.7 419.6H251.4V423.8H242.7zM255.8 419.6H264.5V423.8H255.8zM273.2 419.6H277.6V423.8H273.2zM282.0 419.6H286.3V423.8H282.0zM150.9 423.8H155.3V428.1H150.9zM159.7 423.8H164.0V428.1H159.7zM168.4 423.8H177.2V428.1H168.4zM203.4 423.8H212.1V428.1H203.4zM216.5 423.8H225.2V428.1H216.5zM229.6 423.8H238.3V428.1H229.6zM247.0 423.8H264.5V428.1H247.0zM146.6 428.1H150.9V432.3H146.6zM155.3 428.1H159.7V432.3H155.3zM168.4 428.1H172.8V432.3H168.4zM238.3 428.1H247.0V432.3H238.3zM260.1 428.1H264.5V432.3H260.1zM268.9 428.1H277.6V432.3H268.9zM116.0 432.3H120.4V436.6H116.0zM150.9 432.3H155.3V436.6H150.9zM164.0 432.3H168.4V436.6H164.0zM242.7 432.3H247.0V436.6H242.7zM251.4 432.3H260.1V436.6H251.4zM264.5 432.3H273.2V436.6H264.5zM277.6 432.3H282.0V436.6H277.6zM41.8 436.6H46.1V440.9H41.8zM146.6 436.6H150.9V440.9H146.6zM159.7 436.6H168.4V440.9H159.7zM251.4 436.6H255.8V440.9H251.4zM260.1 436.6H268.9V440.9H260.1zM155.3 440.9H159.7V445.1H155.3zM255.8 440.9H260.1V445.1H255.8zM264.5 440.9H273.2V445.1H264.5zM146.6 445.1H150.9V449.4H146.6zM264.5 445.1H268.9V449.4H264.5zM68.0 449.4H72.3V453.6H68.0zM150.9 449.4H155.3V453.6H150.9zM212.1 449.4H216.5V453.6H212.1zM260.1 449.4H264.5V453.6H260.1zM273.2 449.4H282.0V453.6H273.2zM190.3 453.6H194.6V457.9H190.3zM199.0 453.6H220.8V457.9H199.0zM225.2 453.6H229.6V457.9H225.2zM255.8 453.6H264.5V457.9H255.8zM277.6 453.6H282.0V457.9H277.6zM133.5 457.9H146.6V462.2H133.5zM150.9 457.9H155.3V462.2H150.9zM185.9 457.9H190.3V462.2H185.9zM203.4 457.9H207.7V462.2H203.4zM216.5 457.9H233.9V462.2H216.5zM268.9 457.9H273.2V462.2H268.9zM37.4 462.2H41.8V466.4H37.4zM133.5 462.2H137.8V466.4H133.5zM142.2 462.2H146.6V466.4H142.2zM185.9 462.2H190.3V466.4H185.9zM225.2 462.2H233.9V466.4H225.2zM273.2 462.2H277.6V466.4H273.2zM286.3 462.2H290.7V466.4H286.3zM133.5 466.4H142.2V470.7H133.5zM146.6 466.4H150.9V470.7H146.6zM181.5 466.4H185.9V470.7H181.5zM190.3 466.4H194.6V470.7H190.3zM225.2 466.4H238.3V470.7H225.2zM273.2 466.4H286.3V470.7H273.2zM46.1 470.7H50.5V475.0H46.1zM185.9 470.7H190.3V475.0H185.9zM229.6 470.7H238.3V475.0H229.6zM268.9 470.7H277.6V475.0H268.9zM54.9 475.0H59.2V479.2H54.9zM150.9 475.0H155.3V479.2H150.9zM159.7 475.0H164.0V479.2H159.7zM268.9 475.0H273.2V479.2H268.9zM277.6 475.0H282.0V479.2H277.6zM286.3 475.0H290.7V479.2H286.3zM46.1 479.2H54.9V483.5H46.1zM229.6 479.2H242.7V483.5H229.6zM264.5 479.2H268.9V483.5H264.5zM273.2 479.2H286.3V483.5H273.2zM46.1 483.5H50.5V487.7H46.1zM54.9 483.5H59.2V487.7H54.9zM63.6 483.5H68.0V487.7H63.6zM72.3 483.5H76.7V487.7H72.3zM81.1 483.5H89.8V487.7H81.1zM155.3 483.5H159.7V487.7H155.3zM229.6 483.5H233.9V487.7H229.6zM238.3 483.5H242.7V487.7H238.3zM264.5 483.5H277.6V487.7H264.5zM282.0 483.5H286.3V487.7H282.0zM76.7 487.7H89.8V492.0H76.7zM94.2 487.7H107.3V492.0H94.2zM150.9 487.7H159.7V492.0H150.9zM229.6 487.7H238.3V492.0H229.6zM273.2 487.7H277.6V492.0H273.2zM282.0 487.7H290.7V492.0H282.0zM68.0 492.0H72.3V496.3H68.0zM76.7 492.0H81.1V496.3H76.7zM89.8 492.0H94.2V496.3H89.8zM225.2 492.0H238.3V496.3H225.2zM260.1 492.0H264.5V496.3H260.1zM268.9 492.0H273.2V496.3H268.9zM277.6 492.0H286.3V496.3H277.6zM76.7 496.3H81.1V500.5H76.7zM98.5 496.3H102.9V500.5H98.5zM107.3 496.3H111.6V500.5H107.3zM146.6 496.3H150.9V500.5H146.6zM229.6 496.3H233.9V500.5H229.6zM238.3 496.3H242.7V500.5H238.3zM264.5 496.3H268.9V500.5H264.5zM273.2 496.3H277.6V500.5H273.2zM102.9 500.5H107.3V504.8H102.9zM111.6 500.5H120.4V504.8H111.6zM264.5 500.5H268.9V504.8H264.5zM277.6 500.5H282.0V504.8H277.6zM89.8 504.8H94.2V509.1H89.8zM98.5 504.8H107.3V509.1H98.5zM264.5 504.8H268.9V509.1H264.5zM273.2 504.8H277.6V509.1H273.2zM107.3 509.1H120.4V513.3H107.3zM225.2 509.1H229.6V513.3H225.2zM242.7 509.1H247.0V513.3H242.7zM264.5 509.1H273.2V513.3H264.5zM102.9 513.3H111.6V517.6H102.9zM116.0 513.3H120.4V517.6H116.0zM98.5 517.6H102.9V521.8H98.5zM107.3 517.6H116.0V521.8H107.3zM98.5 521.8H111.6V526.1H98.5zM116.0 521.8H120.4V526.1H116.0z"/>
<path fill="#ddeab8" d="M41.8 313.0H46.1V317.3H41.8zM50.5 313.0H54.9V317.3H50.5zM68.0 313.0H85.4V317.3H68.0zM89.8 313.0H94.2V317.3H89.8zM102.9 313.0H107.3V317.3H102.9zM150.9 313.0H155.3V317.3H150.9zM164.0 313.0H168.4V317.3H164.0zM177.2 313.0H181.5V317.3H177.2zM260.1 313.0H264.5V317.3H260.1zM282.0 313.0H290.7V317.3H282.0zM37.4 317.3H41.8V321.5H37.4zM46.1 317.3H54.9V321.5H46.1zM68.0 317.3H76.7V321.5H68.0zM81.1 317.3H89.8V321.5H81.1zM94.2 317.3H107.3V321.5H94.2zM177.2 317.3H181.5V321.5H177.2zM255.8 317.3H260.1V321.5H255.8zM37.4 321.5H41.8V325.8H37.4zM46.1 321.5H59.2V325.8H46.1zM68.0 321.5H72.3V325.8H68.0zM76.7 321.5H81.1V325.8H76.7zM85.4 321.5H89.8V325.8H85.4zM116.0 321.5H120.4V325.8H116.0zM177.2 321.5H181.5V325.8H177.2zM264.5 321.5H273.2V325.8H264.5zM286.3 321.5H290.7V325.8H286.3zM37.4 325.8H50.5V330.0H37.4zM54.9 325.8H63.6V330.0H54.9zM68.0 325.8H72.3V330.0H68.0zM98.5 325.8H102.9V330.0H98.5zM111.6 325.8H120.4V330.0H111.6zM172.8 325.8H181.5V330.0H172.8zM260.1 325.8H268.9V330.0H260.1zM273.2 325.8H277.6V330.0H273.2zM76.7 330.0H81.1V334.3H76.7zM102.9 330.0H111.6V334.3H102.9zM264.5 330.0H282.0V334.3H264.5zM37.4 334.3H41.8V338.6H37.4zM54.9 334.3H59.2V338.6H54.9zM76.7 334.3H81.1V338.6H76.7zM85.4 334.3H89.8V338.6H85.4zM98.5 334.3H102.9V338.6H98.5zM107.3 334.3H129.1V338.6H107.3zM264.5 334.3H268.9V338.6H264.5zM277.6 334.3H282.0V338.6H277.6zM37.4 338.6H46.1V342.8H37.4zM54.9 338.6H59.2V342.8H54.9zM94.2 338.6H98.5V342.8H94.2zM102.9 338.6H107.3V342.8H102.9zM116.0 338.6H133.5V342.8H116.0zM255.8 338.6H260.1V342.8H255.8zM264.5 338.6H273.2V342.8H264.5zM277.6 338.6H282.0V342.8H277.6zM85.4 342.8H89.8V347.1H85.4zM107.3 342.8H111.6V347.1H107.3zM124.7 342.8H129.1V347.1H124.7zM133.5 342.8H137.8V347.1H133.5zM255.8 342.8H273.2V347.1H255.8zM107.3 347.1H111.6V351.4H107.3zM116.0 347.1H129.1V351.4H116.0zM133.5 347.1H137.8V351.4H133.5zM255.8 347.1H268.9V351.4H255.8zM273.2 347.1H282.0V351.4H273.2zM286.3 347.1H290.7V351.4H286.3zM120.4 351.4H142.2V355.6H120.4zM260.1 351.4H264.5V355.6H260.1zM273.2 351.4H277.6V355.6H273.2zM107.3 355.6H111.6V359.9H107.3zM124.7 355.6H133.5V359.9H124.7zM242.7 355.6H247.0V359.9H242.7zM255.8 355.6H282.0V359.9H255.8zM111.6 359.9H116.0V364.1H111.6zM129.1 359.9H133.5V364.1H129.1zM247.0 359.9H251.4V364.1H247.0zM264.5 359.9H268.9V364.1H264.5zM273.2 359.9H277.6V364.1H273.2zM282.0 359.9H286.3V364.1H282.0zM107.3 364.1H111.6V368.4H107.3zM129.1 364.1H137.8V368.4H129.1zM251.4 364.1H264.5V368.4H251.4zM268.9 364.1H277.6V368.4H268.9zM264.5 368.4H273.2V372.7H264.5zM277.6 368.4H282.0V372.7H277.6zM251.4 372.7H255.8V376.9H251.4zM264.5 372.7H282.0V376.9H264.5zM120.4 376.9H124.7V381.2H120.4zM129.1 376.9H133.5V381.2H129.1zM238.3 376.9H247.0V381.2H238.3zM251.4 376.9H255.8V381.2H251.4zM260.1 376.9H273.2V381.2H260.1zM277.6 376.9H282.0V381.2H277.6zM124.7 381.2H133.5V385.5H124.7zM255.8 381.2H268.9V385.5H255.8zM225.2 385.5H229.6V389.7H225.2zM251.4 385.5H264.5V389.7H251.4zM268.9 385.5H273.2V389.7H268.9zM277.6 385.5H282.0V389.7H277.6zM116.0 389.7H120.4V394.0H116.0zM207.7 389.7H212.1V394.0H207.7zM233.9 389.7H238.3V394.0H233.9zM251.4 389.7H255.8V394.0H251.4zM268.9 389.7H277.6V394.0H268.9zM111.6 394.0H116.0V398.2H111.6zM133.5 394.0H137.8V398.2H133.5zM212.1 394.0H216.5V398.2H212.1zM229.6 394.0H233.9V398.2H229.6zM242.7 394.0H255.8V398.2H242.7zM260.1 394.0H264.5V398.2H260.1zM268.9 394.0H277.6V398.2H268.9zM37.4 398.2H41.8V402.5H37.4zM124.7 398.2H133.5V402.5H124.7zM137.8 398.2H142.2V402.5H137.8zM212.1 398.2H216.5V402.5H212.1zM220.8 398.2H225.2V402.5H220.8zM229.6 398.2H233.9V402.5H229.6zM242.7 398.2H247.0V402.5H242.7zM260.1 398.2H264.5V402.5H260.1zM37.4 402.5H46.1V406.8H37.4zM120.4 402.5H146.6V406.8H120.4zM251.4 402.5H268.9V406.8H251.4zM273.2 402.5H277.6V406.8H273.2zM37.4 406.8H46.1V411.0H37.4zM54.9 406.8H63.6V411.0H54.9zM124.7 406.8H129.1V411.0H124.7zM133.5 406.8H150.9V411.0H133.5zM229.6 406.8H242.7V411.0H229.6zM247.0 406.8H251.4V411.0H247.0zM260.1 406.8H264.5V411.0H260.1zM268.9 406.8H277.6V411.0H268.9zM37.4 411.0H41.8V415.3H37.4zM59.2 411.0H63.6V415.3H59.2zM116.0 411.0H124.7V415.3H116.0zM142.2 411.0H146.6V415.3H142.2zM225.2 411.0H229.6V415.3H225.2zM238.3 411.0H242.7V415.3H238.3zM247.0 411.0H273.2V415.3H247.0zM277.6 411.0H282.0V415.3H277.6zM41.8 415.3H46.1V419.6H41.8zM50.5 415.3H54.9V419.6H50.5zM59.2 415.3H68.0V419.6H59.2zM116.0 415.3H129.1V419.6H116.0zM133.5 415.3H137.8V419.6H133.5zM142.2 415.3H146.6V419.6H142.2zM150.9 415.3H159.7V419.6H150.9zM212.1 415.3H216.5V419.6H212.1zM247.0 415.3H251.4V419.6H247.0zM273.2 415.3H282.0V419.6H273.2zM286.3 415.3H290.7V419.6H286.3zM46.1 419.6H50.5V423.8H46.1zM120.4 419.6H129.1V423.8H120.4zM133.5 419.6H137.8V423.8H133.5zM142.2 419.6H150.9V423.8H142.2zM238.3 419.6H242.7V423.8H238.3zM251.4 419.6H255.8V423.8H251.4zM264.5 419.6H273.2V423.8H264.5zM286.3 419.6H290.7V423.8H286.3zM59.2 423.8H63.6V428.1H59.2zM68.0 423.8H76.7V428.1H68.0zM116.0 423.8H120.4V428.1H116.0zM129.1 423.8H133.5V428.1H129.1zM137.8 423.8H150.9V428.1H137.8zM238.3 423.8H247.0V428.1H238.3zM264.5 423.8H277.6V428.1H264.5zM286.3 423.8H290.7V428.1H286.3zM41.8 428.1H54.9V432.3H41.8zM68.0 428.1H72.3V432.3H68.0zM107.3 428.1H111.6V432.3H107.3zM116.0 428.1H120.4V432.3H116.0zM129.1 428.1H133.5V432.3H129.1zM137.8 428.1H146.6V432.3H137.8zM150.9 428.1H155.3V432.3H150.9zM159.7 428.1H164.0V432.3H159.7zM233.9 428.1H238.3V432.3H233.9zM255.8 428.1H260.1V432.3H255.8zM264.5 428.1H268.9V432.3H264.5zM54.9 432.3H59.2V436.6H54.9zM72.3 432.3H76.7V436.6H72.3zM98.5 432.3H116.0V436.6H98.5zM133.5 432.3H137.8V436.6H133.5zM142.2 432.3H150.9V436.6H142.2zM260.1 432.3H264.5V436.6H260.1zM273.2 432.3H277.6V436.6H273.2zM282.0 432.3H290.7V436.6H282.0zM54.9 436.6H59.2V440.9H54.9zM120.4 436.6H124.7V440.9H120.4zM129.1 436.6H133.5V440.9H129.1zM137.8 436.6H142.2V440.9H137.8zM150.9 436.6H155.3V440.9H150.9zM247.0 436.6H251.4V440.9H247.0zM273.2 436.6H282.0V440.9H273.2zM41.8 440.9H46.1V445.1H41.8zM54.9 440.9H59.2V445.1H54.9zM120.4 440.9H124.7V445.1H120.4zM129.1 440.9H150.9V445.1H129.1zM273.2 440.9H277.6V445.1H273.2zM282.0 440.9H290.7V445.1H282.0zM41.8 445.1H50.5V449.4H41.8zM68.0 445.1H72.3V449.4H68.0zM98.5 445.1H102.9V449.4H98.5zM107.3 445.1H111.6V449.4H107.3zM116.0 445.1H129.1V449.4H116.0zM137.8 445.1H146.6V449.4H137.8zM260.1 445.1H264.5V449.4H260.1zM268.9 445.1H290.7V449.4H268.9zM41.8 449.4H46.1V453.6H41.8zM54.9 449.4H59.2V453.6H54.9zM72.3 449.4H76.7V453.6H72.3zM102.9 449.4H111.6V453.6H102.9zM116.0 449.4H129.1V453.6H116.0zM133.5 449.4H146.6V453.6H133.5zM264.5 449.4H273.2V453.6H264.5zM282.0 449.4H290.7V453.6H282.0zM59.2 453.6H63.6V457.9H59.2zM76.7 453.6H85.4V457.9H76.7zM102.9 453.6H107.3V457.9H102.9zM120.4 453.6H133.5V457.9H120.4zM146.6 453.6H150.9V457.9H146.6zM282.0 453.6H286.3V457.9H282.0zM46.1 457.9H50.5V462.2H46.1zM54.9 457.9H63.6V462.2H54.9zM72.3 457.9H81.1V462.2H72.3zM89.8 457.9H94.2V462.2H89.8zM102.9 457.9H111.6V462.2H102.9zM124.7 457.9H129.1V462.2H124.7zM190.3 457.9H199.0V462.2H190.3zM207.7 457.9H212.1V462.2H207.7zM277.6 457.9H290.7V462.2H277.6zM68.0 462.2H72.3V466.4H68.0zM94.2 462.2H98.5V466.4H94.2zM111.6 462.2H120.4V466.4H111.6zM129.1 462.2H133.5V466.4H129.1zM137.8 462.2H142.2V466.4H137.8zM190.3 462.2H199.0V466.4H190.3zM203.4 462.2H212.1V466.4H203.4zM216.5 462.2H220.8V466.4H216.5zM233.9 462.2H238.3V466.4H233.9zM41.8 466.4H46.1V470.7H41.8zM59.2 466.4H72.3V470.7H59.2zM111.6 466.4H120.4V470.7H111.6zM129.1 466.4H133.5V470.7H129.1zM194.6 466.4H199.0V470.7H194.6zM212.1 466.4H216.5V470.7H212.1zM220.8 466.4H225.2V470.7H220.8zM286.3 466.4H290.7V470.7H286.3zM50.5 470.7H76.7V475.0H50.5zM81.1 470.7H85.4V475.0H81.1zM102.9 470.7H107.3V475.0H102.9zM120.4 470.7H124.7V475.0H120.4zM133.5 470.7H142.2V475.0H133.5zM146.6 470.7H150.9V475.0H146.6zM181.5 470.7H185.9V475.0H181.5zM190.3 470.7H194.6V475.0H190.3zM212.1 470.7H216.5V475.0H212.1zM220.8 470.7H229.6V475.0H220.8zM50.5 475.0H54.9V479.2H50.5zM59.2 475.0H63.6V479.2H59.2zM68.0 475.0H72.3V479.2H68.0zM76.7 475.0H81.1V479.2H76.7zM129.1 475.0H137.8V479.2H129.1zM142.2 475.0H150.9V479.2H142.2zM181.5 475.0H185.9V479.2H181.5zM190.3 475.0H194.6V479.2H190.3zM203.4 475.0H212.1V479.2H203.4zM216.5 475.0H233.9V479.2H216.5zM264.5 475.0H268.9V479.2H264.5zM273.2 475.0H277.6V479.2H273.2zM282.0 475.0H286.3V479.2H282.0zM54.9 479.2H68.0V483.5H54.9zM72.3 479.2H76.7V483.5H72.3zM124.7 479.2H133.5V483.5H124.7zM142.2 479.2H155.3V483.5H142.2zM185.9 479.2H194.6V483.5H185.9zM207.7 479.2H216.5V483.5H207.7zM220.8 479.2H229.6V483.5H220.8zM286.3 479.2H290.7V483.5H286.3zM68.0 483.5H72.3V487.7H68.0zM76.7 483.5H81.1V487.7H76.7zM89.8 483.5H102.9V487.7H89.8zM107.3 483.5H111.6V487.7H107.3zM124.7 483.5H129.1V487.7H124.7zM142.2 483.5H150.9V487.7H142.2zM159.7 483.5H168.4V487.7H159.7zM185.9 483.5H190.3V487.7H185.9zM225.2 483.5H229.6V487.7H225.2zM233.9 483.5H238.3V487.7H233.9zM89.8 487.7H94.2V492.0H89.8zM107.3 487.7H111.6V492.0H107.3zM129.1 487.7H137.8V492.0H129.1zM146.6 487.7H150.9V492.0H146.6zM164.0 487.7H168.4V492.0H164.0zM194.6 487.7H199.0V492.0H194.6zM203.4 487.7H207.7V492.0H203.4zM220.8 487.7H229.6V492.0H220.8zM98.5 492.0H102.9V496.3H98.5zM116.0 492.0H124.7V496.3H116.0zM129.1 492.0H133.5V496.3H129.1zM137.8 492.0H142.2V496.3H137.8zM146.6 492.0H155.3V496.3H146.6zM159.7 492.0H168.4V496.3H159.7zM212.1 492.0H216.5V496.3H212.1zM111.6 496.3H137.8V500.5H111.6zM159.7 496.3H164.0V500.5H159.7zM212.1 496.3H216.5V500.5H212.1zM220.8 496.3H229.6V500.5H220.8zM107.3 500.5H111.6V504.8H107.3zM120.4 500.5H129.1V504.8H120.4zM137.8 500.5H142.2V504.8H137.8zM155.3 500.5H159.7V504.8H155.3zM199.0 500.5H203.4V504.8H199.0zM212.1 500.5H216.5V504.8H212.1zM225.2 500.5H238.3V504.8H225.2zM107.3 504.8H120.4V509.1H107.3zM159.7 504.8H164.0V509.1H159.7zM194.6 504.8H199.0V509.1H194.6zM207.7 504.8H212.1V509.1H207.7zM225.2 504.8H242.7V509.1H225.2zM98.5 509.1H102.9V513.3H98.5zM120.4 509.1H133.5V513.3H120.4zM137.8 509.1H146.6V513.3H137.8zM168.4 509.1H172.8V513.3H168.4zM190.3 509.1H194.6V513.3H190.3zM203.4 509.1H216.5V513.3H203.4zM220.8 509.1H225.2V513.3H220.8zM229.6 509.1H238.3V513.3H229.6zM111.6 513.3H116.0V517.6H111.6zM124.7 513.3H146.6V517.6H124.7zM168.4 513.3H172.8V517.6H168.4zM120.4 517.6H124.7V521.8H120.4zM164.0 517.6H172.8V521.8H164.0zM111.6 521.8H116.0V526.1H111.6zM133.5 521.8H142.2V526.1H133.5zM168.4 521.8H172.8V526.1H168.4z"/>
<path fill="#dfeab4" d="M37.4 313.0H41.8V317.3H37.4zM46.1 313.0H50.5V317.3H46.1zM54.9 313.0H68.0V317.3H54.9zM94.2 313.0H102.9V317.3H94.2zM107.3 313.0H116.0V317.3H107.3zM155.3 313.0H159.7V317.3H155.3zM172.8 313.0H177.2V317.3H172.8zM264.5 313.0H282.0V317.3H264.5zM41.8 317.3H46.1V321.5H41.8zM59.2 317.3H68.0V321.5H59.2zM76.7 317.3H81.1V321.5H76.7zM89.8 317.3H94.2V321.5H89.8zM107.3 317.3H116.0V321.5H107.3zM155.3 317.3H159.7V321.5H155.3zM172.8 317.3H177.2V321.5H172.8zM260.1 317.3H277.6V321.5H260.1zM282.0 317.3H290.7V321.5H282.0zM41.8 321.5H46.1V325.8H41.8zM63.6 321.5H68.0V325.8H63.6zM81.1 321.5H85.4V325.8H81.1zM89.8 321.5H116.0V325.8H89.8zM168.4 321.5H177.2V325.8H168.4zM273.2 321.5H286.3V325.8H273.2zM63.6 325.8H68.0V330.0H63.6zM72.3 325.8H98.5V330.0H72.3zM102.9 325.8H107.3V330.0H102.9zM120.4 325.8H124.7V330.0H120.4zM268.9 325.8H273.2V330.0H268.9zM277.6 325.8H290.7V330.0H277.6zM37.4 330.0H41.8V334.3H37.4zM46.1 330.0H63.6V334.3H46.1zM68.0 330.0H76.7V334.3H68.0zM85.4 330.0H102.9V334.3H85.4zM111.6 330.0H124.7V334.3H111.6zM282.0 330.0H290.7V334.3H282.0zM41.8 334.3H54.9V338.6H41.8zM59.2 334.3H76.7V338.6H59.2zM81.1 334.3H85.4V338.6H81.1zM89.8 334.3H98.5V338.6H89.8zM273.2 334.3H277.6V338.6H273.2zM282.0 334.3H290.7V338.6H282.0zM50.5 338.6H54.9V342.8H50.5zM59.2 338.6H68.0V342.8H59.2zM72.3 338.6H89.8V342.8H72.3zM98.5 338.6H102.9V342.8H98.5zM107.3 338.6H116.0V342.8H107.3zM273.2 338.6H277.6V342.8H273.2zM282.0 338.6H290.7V342.8H282.0zM37.4 342.8H72.3V347.1H37.4zM76.7 342.8H85.4V347.1H76.7zM98.5 342.8H107.3V347.1H98.5zM111.6 342.8H124.7V347.1H111.6zM273.2 342.8H290.7V347.1H273.2zM41.8 347.1H46.1V351.4H41.8zM50.5 347.1H59.2V351.4H50.5zM72.3 347.1H89.8V351.4H72.3zM94.2 347.1H98.5V351.4H94.2zM102.9 347.1H107.3V351.4H102.9zM268.9 347.1H273.2V351.4H268.9zM282.0 347.1H286.3V351.4H282.0zM37.4 351.4H50.5V355.6H37.4zM54.9 351.4H59.2V355.6H54.9zM76.7 351.4H81.1V355.6H76.7zM94.2 351.4H120.4V355.6H94.2zM264.5 351.4H273.2V355.6H264.5zM277.6 351.4H290.7V355.6H277.6zM37.4 355.6H41.8V359.9H37.4zM94.2 355.6H98.5V359.9H94.2zM102.9 355.6H107.3V359.9H102.9zM111.6 355.6H124.7V359.9H111.6zM133.5 355.6H137.8V359.9H133.5zM282.0 355.6H290.7V359.9H282.0zM37.4 359.9H41.8V364.1H37.4zM94.2 359.9H107.3V364.1H94.2zM116.0 359.9H129.1V364.1H116.0zM260.1 359.9H264.5V364.1H260.1zM277.6 359.9H282.0V364.1H277.6zM37.4 364.1H41.8V368.4H37.4zM116.0 364.1H129.1V368.4H116.0zM264.5 364.1H268.9V368.4H264.5zM37.4 368.4H46.1V372.7H37.4zM76.7 368.4H81.1V372.7H76.7zM102.9 368.4H107.3V372.7H102.9zM111.6 368.4H133.5V372.7H111.6zM260.1 368.4H264.5V372.7H260.1zM273.2 368.4H277.6V372.7H273.2zM54.9 372.7H59.2V376.9H54.9zM120.4 372.7H133.5V376.9H120.4zM116.0 376.9H120.4V381.2H116.0zM124.7 376.9H129.1V381.2H124.7zM41.8 381.2H50.5V385.5H41.8zM111.6 381.2H120.4V385.5H111.6zM268.9 381.2H273.2V385.5H268.9zM37.4 385.5H41.8V389.7H37.4zM46.1 385.5H54.9V389.7H46.1zM59.2 385.5H63.6V389.7H59.2zM76.7 385.5H81.1V389.7H76.7zM102.9 385.5H107.3V389.7H102.9zM111.6 385.5H120.4V389.7H111.6zM124.7 385.5H129.1V389.7H124.7zM264.5 385.5H268.9V389.7H264.5zM41.8 389.7H46.1V394.0H41.8zM50.5 389.7H63.6V394.0H50.5zM68.0 389.7H72.3V394.0H68.0zM76.7 389.7H81.1V394.0H76.7zM102.9 389.7H107.3V394.0H102.9zM111.6 389.7H116.0V394.0H111.6zM120.4 389.7H124.7V394.0H120.4zM260.1 389.7H268.9V394.0H260.1zM37.4 394.0H50.5V398.2H37.4zM54.9 394.0H59.2V398.2H54.9zM102.9 394.0H111.6V398.2H102.9zM116.0 394.0H120.4V398.2H116.0zM124.7 394.0H133.5V398.2H124.7zM264.5 394.0H268.9V398.2H264.5zM41.8 398.2H54.9V402.5H41.8zM59.2 398.2H63.6V402.5H59.2zM85.4 398.2H89.8V402.5H85.4zM94.2 398.2H102.9V402.5H94.2zM111.6 398.2H124.7V402.5H111.6zM264.5 398.2H273.2V402.5H264.5zM46.1 402.5H50.5V406.8H46.1zM54.9 402.5H68.0V406.8H54.9zM81.1 402.5H85.4V406.8H81.1zM102.9 402.5H120.4V406.8H102.9zM46.1 406.8H54.9V411.0H46.1zM63.6 406.8H72.3V411.0H63.6zM81.1 406.8H94.2V411.0H81.1zM98.5 406.8H124.7V411.0H98.5zM129.1 406.8H133.5V411.0H129.1zM264.5 406.8H268.9V411.0H264.5zM46.1 411.0H59.2V415.3H46.1zM68.0 411.0H81.1V415.3H68.0zM85.4 411.0H89.8V415.3H85.4zM107.3 411.0H116.0V415.3H107.3zM124.7 411.0H142.2V415.3H124.7zM37.4 415.3H41.8V419.6H37.4zM46.1 415.3H50.5V419.6H46.1zM54.9 415.3H59.2V419.6H54.9zM68.0 415.3H72.3V419.6H68.0zM81.1 415.3H85.4V419.6H81.1zM129.1 415.3H133.5V419.6H129.1zM225.2 415.3H229.6V419.6H225.2zM37.4 419.6H46.1V423.8H37.4zM50.5 419.6H81.1V423.8H50.5zM129.1 419.6H133.5V423.8H129.1zM137.8 419.6H142.2V423.8H137.8zM277.6 419.6H282.0V423.8H277.6zM37.4 423.8H59.2V428.1H37.4zM63.6 423.8H68.0V428.1H63.6zM76.7 423.8H85.4V428.1H76.7zM124.7 423.8H129.1V428.1H124.7zM277.6 423.8H286.3V428.1H277.6zM54.9 428.1H68.0V432.3H54.9zM72.3 428.1H81.1V432.3H72.3zM102.9 428.1H107.3V432.3H102.9zM111.6 428.1H116.0V432.3H111.6zM120.4 428.1H129.1V432.3H120.4zM277.6 428.1H290.7V432.3H277.6zM37.4 432.3H54.9V436.6H37.4zM59.2 432.3H72.3V436.6H59.2zM76.7 432.3H81.1V436.6H76.7zM120.4 432.3H133.5V436.6H120.4zM137.8 432.3H142.2V436.6H137.8zM37.4 436.6H41.8V440.9H37.4zM46.1 436.6H54.9V440.9H46.1zM59.2 436.6H72.3V440.9H59.2zM76.7 436.6H81.1V440.9H76.7zM98.5 436.6H120.4V440.9H98.5zM124.7 436.6H129.1V440.9H124.7zM133.5 436.6H137.8V440.9H133.5zM142.2 436.6H146.6V440.9H142.2zM268.9 436.6H273.2V440.9H268.9zM282.0 436.6H290.7V440.9H282.0zM37.4 440.9H41.8V445.1H37.4zM46.1 440.9H54.9V445.1H46.1zM59.2 440.9H76.7V445.1H59.2zM98.5 440.9H120.4V445.1H98.5zM124.7 440.9H129.1V445.1H124.7zM37.4 445.1H41.8V449.4H37.4zM50.5 445.1H68.0V449.4H50.5zM72.3 445.1H81.1V449.4H72.3zM102.9 445.1H107.3V449.4H102.9zM111.6 445.1H116.0V449.4H111.6zM129.1 445.1H137.8V449.4H129.1zM37.4 449.4H41.8V453.6H37.4zM46.1 449.4H50.5V453.6H46.1zM59.2 449.4H68.0V453.6H59.2zM76.7 449.4H81.1V453.6H76.7zM98.5 449.4H102.9V453.6H98.5zM111.6 449.4H116.0V453.6H111.6zM129.1 449.4H133.5V453.6H129.1zM37.4 453.6H59.2V457.9H37.4zM63.6 453.6H76.7V457.9H63.6zM94.2 453.6H102.9V457.9H94.2zM107.3 453.6H120.4V457.9H107.3zM133.5 453.6H142.2V457.9H133.5zM273.2 453.6H277.6V457.9H273.2zM286.3 453.6H290.7V457.9H286.3zM37.4 457.9H46.1V462.2H37.4zM63.6 457.9H72.3V462.2H63.6zM81.1 457.9H89.8V462.2H81.1zM94.2 457.9H102.9V462.2H94.2zM111.6 457.9H124.7V462.2H111.6zM129.1 457.9H133.5V462.2H129.1zM212.1 457.9H216.5V462.2H212.1zM41.8 462.2H46.1V466.4H41.8zM59.2 462.2H68.0V466.4H59.2zM72.3 462.2H94.2V466.4H72.3zM98.5 462.2H102.9V466.4H98.5zM120.4 462.2H129.1V466.4H120.4zM199.0 462.2H203.4V466.4H199.0zM212.1 462.2H216.5V466.4H212.1zM220.8 462.2H225.2V466.4H220.8zM72.3 466.4H111.6V470.7H72.3zM120.4 466.4H129.1V470.7H120.4zM185.9 466.4H190.3V470.7H185.9zM199.0 466.4H203.4V470.7H199.0zM207.7 466.4H212.1V470.7H207.7zM216.5 466.4H220.8V470.7H216.5zM76.7 470.7H81.1V475.0H76.7zM85.4 470.7H102.9V475.0H85.4zM107.3 470.7H120.4V475.0H107.3zM124.7 470.7H133.5V475.0H124.7zM194.6 470.7H203.4V475.0H194.6zM207.7 470.7H212.1V475.0H207.7zM216.5 470.7H220.8V475.0H216.5zM63.6 475.0H68.0V479.2H63.6zM72.3 475.0H76.7V479.2H72.3zM81.1 475.0H85.4V479.2H81.1zM124.7 475.0H129.1V479.2H124.7zM137.8 475.0H142.2V479.2H137.8zM185.9 475.0H190.3V479.2H185.9zM199.0 475.0H203.4V479.2H199.0zM212.1 475.0H216.5V479.2H212.1zM68.0 479.2H72.3V483.5H68.0zM76.7 479.2H81.1V483.5H76.7zM133.5 479.2H142.2V483.5H133.5zM181.5 479.2H185.9V483.5H181.5zM194.6 479.2H207.7V483.5H194.6zM216.5 479.2H220.8V483.5H216.5zM102.9 483.5H107.3V487.7H102.9zM111.6 483.5H124.7V487.7H111.6zM129.1 483.5H142.2V487.7H129.1zM150.9 483.5H155.3V487.7H150.9zM181.5 483.5H185.9V487.7H181.5zM190.3 483.5H225.2V487.7H190.3zM111.6 487.7H129.1V492.0H111.6zM137.8 487.7H146.6V492.0H137.8zM159.7 487.7H164.0V492.0H159.7zM199.0 487.7H203.4V492.0H199.0zM207.7 487.7H220.8V492.0H207.7zM102.9 492.0H116.0V496.3H102.9zM124.7 492.0H129.1V496.3H124.7zM133.5 492.0H137.8V496.3H133.5zM142.2 492.0H146.6V496.3H142.2zM155.3 492.0H159.7V496.3H155.3zM203.4 492.0H212.1V496.3H203.4zM216.5 492.0H225.2V496.3H216.5zM137.8 496.3H146.6V500.5H137.8zM150.9 496.3H159.7V500.5H150.9zM199.0 496.3H212.1V500.5H199.0zM216.5 496.3H220.8V500.5H216.5zM129.1 500.5H137.8V504.8H129.1zM142.2 500.5H146.6V504.8H142.2zM150.9 500.5H155.3V504.8H150.9zM159.7 500.5H164.0V504.8H159.7zM203.4 500.5H212.1V504.8H203.4zM216.5 500.5H225.2V504.8H216.5zM120.4 504.8H137.8V509.1H120.4zM142.2 504.8H150.9V509.1H142.2zM164.0 504.8H168.4V509.1H164.0zM199.0 504.8H207.7V509.1H199.0zM212.1 504.8H225.2V509.1H212.1zM133.5 509.1H137.8V513.3H133.5zM159.7 509.1H168.4V513.3H159.7zM185.9 509.1H190.3V513.3H185.9zM194.6 509.1H203.4V513.3H194.6zM216.5 509.1H220.8V513.3H216.5zM238.3 509.1H242.7V513.3H238.3zM120.4 513.3H124.7V517.6H120.4zM164.0 513.3H168.4V517.6H164.0zM116.0 517.6H120.4V521.8H116.0zM129.1 517.6H146.6V521.8H129.1zM120.4 521.8H133.5V526.1H120.4zM142.2 521.8H150.9V526.1H142.2zM159.7 521.8H168.4V526.1H159.7z"/>
<path fill="#e4ebad" d="M85.4 313.0H89.8V317.3H85.4zM54.9 317.3H59.2V321.5H54.9zM159.7 317.3H168.4V321.5H159.7zM59.2 321.5H63.6V325.8H59.2zM72.3 321.5H76.7V325.8H72.3zM164.0 321.5H168.4V325.8H164.0zM50.5 325.8H54.9V330.0H50.5zM107.3 325.8H111.6V330.0H107.3zM41.8 330.0H46.1V334.3H41.8zM63.6 330.0H68.0V334.3H63.6zM81.1 330.0H85.4V334.3H81.1zM102.9 334.3H107.3V338.6H102.9zM268.9 334.3H273.2V338.6H268.9zM46.1 338.6H50.5V342.8H46.1zM89.8 338.6H94.2V342.8H89.8zM89.8 342.8H98.5V347.1H89.8zM46.1 347.1H50.5V351.4H46.1zM63.6 347.1H68.0V351.4H63.6zM89.8 347.1H94.2V351.4H89.8zM98.5 347.1H102.9V351.4H98.5zM111.6 347.1H116.0V351.4H111.6zM50.5 351.4H54.9V355.6H50.5zM68.0 351.4H76.7V355.6H68.0zM81.1 351.4H85.4V355.6H81.1zM89.8 351.4H94.2V355.6H89.8zM41.8 355.6H46.1V359.9H41.8zM54.9 355.6H59.2V359.9H54.9zM81.1 355.6H85.4V359.9H81.1zM98.5 355.6H102.9V359.9H98.5zM81.1 359.9H94.2V364.1H81.1zM107.3 359.9H111.6V364.1H107.3zM268.9 359.9H273.2V364.1H268.9zM41.8 364.1H46.1V368.4H41.8zM50.5 364.1H54.9V368.4H50.5zM76.7 364.1H81.1V368.4H76.7zM89.8 364.1H94.2V368.4H89.8zM98.5 364.1H107.3V368.4H98.5zM111.6 364.1H116.0V368.4H111.6zM46.1 368.4H54.9V372.7H46.1zM59.2 368.4H63.6V372.7H59.2zM94.2 368.4H98.5V372.7H94.2zM107.3 368.4H111.6V372.7H107.3zM37.4 372.7H46.1V376.9H37.4zM63.6 372.7H68.0V376.9H63.6zM72.3 372.7H81.1V376.9H72.3zM94.2 372.7H98.5V376.9H94.2zM102.9 372.7H111.6V376.9H102.9zM37.4 376.9H59.2V381.2H37.4zM63.6 376.9H72.3V381.2H63.6zM85.4 376.9H111.6V381.2H85.4zM37.4 381.2H41.8V385.5H37.4zM50.5 381.2H54.9V385.5H50.5zM59.2 381.2H63.6V385.5H59.2zM68.0 381.2H72.3V385.5H68.0zM85.4 381.2H98.5V385.5H85.4zM107.3 381.2H111.6V385.5H107.3zM120.4 381.2H124.7V385.5H120.4zM54.9 385.5H59.2V389.7H54.9zM63.6 385.5H72.3V389.7H63.6zM85.4 385.5H94.2V389.7H85.4zM107.3 385.5H111.6V389.7H107.3zM120.4 385.5H124.7V389.7H120.4zM37.4 389.7H41.8V394.0H37.4zM46.1 389.7H50.5V394.0H46.1zM85.4 389.7H89.8V394.0H85.4zM98.5 389.7H102.9V394.0H98.5zM59.2 394.0H63.6V398.2H59.2zM68.0 394.0H72.3V398.2H68.0zM76.7 394.0H85.4V398.2H76.7zM89.8 394.0H94.2V398.2H89.8zM98.5 394.0H102.9V398.2H98.5zM120.4 394.0H124.7V398.2H120.4zM54.9 398.2H59.2V402.5H54.9zM68.0 398.2H85.4V402.5H68.0zM89.8 398.2H94.2V402.5H89.8zM107.3 398.2H111.6V402.5H107.3zM50.5 402.5H54.9V406.8H50.5zM68.0 402.5H76.7V406.8H68.0zM85.4 402.5H89.8V406.8H85.4zM98.5 402.5H102.9V406.8H98.5zM76.7 406.8H81.1V411.0H76.7zM94.2 406.8H98.5V411.0H94.2zM41.8 411.0H46.1V415.3H41.8zM63.6 411.0H68.0V415.3H63.6zM81.1 411.0H85.4V415.3H81.1zM94.2 411.0H107.3V415.3H94.2zM72.3 415.3H81.1V419.6H72.3zM137.8 415.3H142.2V419.6H137.8zM81.1 419.6H85.4V423.8H81.1zM116.0 419.6H120.4V423.8H116.0zM120.4 423.8H124.7V428.1H120.4zM133.5 423.8H137.8V428.1H133.5zM37.4 428.1H41.8V432.3H37.4zM81.1 428.1H85.4V432.3H81.1zM133.5 428.1H137.8V432.3H133.5zM72.3 436.6H76.7V440.9H72.3zM76.7 440.9H81.1V445.1H76.7zM277.6 440.9H282.0V445.1H277.6zM50.5 449.4H54.9V453.6H50.5zM81.1 449.4H85.4V453.6H81.1zM94.2 449.4H98.5V453.6H94.2zM85.4 453.6H94.2V457.9H85.4zM50.5 457.9H54.9V462.2H50.5zM102.9 462.2H111.6V466.4H102.9zM203.4 466.4H207.7V470.7H203.4zM203.4 470.7H207.7V475.0H203.4zM85.4 475.0H89.8V479.2H85.4zM194.6 475.0H199.0V479.2H194.6zM81.1 479.2H85.4V483.5H81.1zM168.4 487.7H172.8V492.0H168.4zM190.3 487.7H194.6V492.0H190.3zM194.6 492.0H203.4V496.3H194.6zM194.6 496.3H199.0V500.5H194.6zM146.6 500.5H150.9V504.8H146.6zM194.6 500.5H199.0V504.8H194.6zM137.8 504.8H142.2V509.1H137.8zM150.9 504.8H159.7V509.1H150.9zM172.8 509.1H177.2V513.3H172.8zM124.7 517.6H129.1V521.8H124.7zM146.6 517.6H150.9V521.8H146.6zM159.7 517.6H164.0V521.8H159.7zM150.9 521.8H155.3V526.1H150.9z"/>
<path fill="#eeec9d" d="M159.7 313.0H164.0V317.3H159.7zM168.4 313.0H172.8V317.3H168.4zM72.3 342.8H76.7V347.1H72.3zM37.4 347.1H41.8V351.4H37.4zM59.2 347.1H63.6V351.4H59.2zM59.2 351.4H63.6V355.6H59.2zM85.4 351.4H89.8V355.6H85.4zM46.1 355.6H50.5V359.9H46.1zM59.2 355.6H63.6V359.9H59.2zM76.7 355.6H81.1V359.9H76.7zM89.8 355.6H94.2V359.9H89.8zM41.8 359.9H46.1V364.1H41.8zM50.5 359.9H54.9V364.1H50.5zM54.9 364.1H59.2V368.4H54.9zM72.3 364.1H76.7V368.4H72.3zM81.1 364.1H85.4V368.4H81.1zM63.6 368.4H72.3V372.7H63.6zM81.1 368.4H94.2V372.7H81.1zM59.2 372.7H63.6V376.9H59.2zM68.0 372.7H72.3V376.9H68.0zM98.5 372.7H102.9V376.9H98.5zM111.6 372.7H120.4V376.9H111.6zM59.2 376.9H63.6V381.2H59.2zM72.3 376.9H85.4V381.2H72.3zM111.6 376.9H116.0V381.2H111.6zM76.7 381.2H81.1V385.5H76.7zM98.5 381.2H107.3V385.5H98.5zM41.8 385.5H46.1V389.7H41.8zM81.1 385.5H85.4V389.7H81.1zM94.2 385.5H102.9V389.7H94.2zM72.3 389.7H76.7V394.0H72.3zM81.1 389.7H85.4V394.0H81.1zM94.2 389.7H98.5V394.0H94.2zM72.3 394.0H76.7V398.2H72.3zM94.2 394.0H98.5V398.2H94.2zM102.9 398.2H107.3V402.5H102.9zM76.7 402.5H81.1V406.8H76.7zM72.3 406.8H76.7V411.0H72.3zM85.4 415.3H89.8V419.6H85.4zM111.6 415.3H116.0V419.6H111.6zM111.6 423.8H116.0V428.1H111.6zM94.2 428.1H102.9V432.3H94.2zM81.1 432.3H85.4V436.6H81.1zM94.2 432.3H98.5V436.6H94.2zM81.1 445.1H85.4V449.4H81.1zM89.8 449.4H94.2V453.6H89.8zM46.1 466.4H50.5V470.7H46.1zM54.9 466.4H59.2V470.7H54.9zM120.4 475.0H124.7V479.2H120.4zM172.8 487.7H177.2V492.0H172.8zM164.0 496.3H168.4V500.5H164.0zM164.0 500.5H168.4V504.8H164.0zM168.4 504.8H172.8V509.1H168.4zM190.3 504.8H194.6V509.1H190.3zM146.6 509.1H150.9V513.3H146.6zM177.2 509.1H185.9V513.3H177.2zM159.7 513.3H164.0V517.6H159.7zM155.3 521.8H159.7V526.1H155.3z"/>
<path fill="#f0e888" d="M168.4 317.3H172.8V321.5H168.4zM68.0 347.1H72.3V351.4H68.0zM50.5 355.6H54.9V359.9H50.5zM72.3 355.6H76.7V359.9H72.3zM85.4 355.6H89.8V359.9H85.4zM54.9 359.9H59.2V364.1H54.9zM76.7 359.9H81.1V364.1H76.7zM46.1 364.1H50.5V368.4H46.1zM85.4 364.1H89.8V368.4H85.4zM94.2 364.1H98.5V368.4H94.2zM54.9 368.4H59.2V372.7H54.9zM46.1 372.7H54.9V376.9H46.1zM72.3 381.2H76.7V385.5H72.3zM81.1 381.2H85.4V385.5H81.1zM107.3 389.7H111.6V394.0H107.3zM50.5 394.0H54.9V398.2H50.5zM63.6 394.0H68.0V398.2H63.6zM63.6 398.2H68.0V402.5H63.6zM89.8 411.0H94.2V415.3H89.8zM85.4 419.6H89.8V423.8H85.4zM85.4 423.8H89.8V428.1H85.4zM107.3 423.8H111.6V428.1H107.3zM85.4 428.1H89.8V432.3H85.4zM94.2 436.6H98.5V440.9H94.2zM81.1 440.9H85.4V445.1H81.1zM94.2 440.9H98.5V445.1H94.2zM94.2 445.1H98.5V449.4H94.2zM85.4 449.4H89.8V453.6H85.4zM185.9 487.7H190.3V492.0H185.9zM190.3 492.0H194.6V496.3H190.3zM150.9 509.1H159.7V513.3H150.9zM146.6 513.3H159.7V517.6H146.6zM150.9 517.6H155.3V521.8H150.9z"/>
<path fill="#f2e573" d="M63.6 351.4H68.0V355.6H63.6zM63.6 355.6H72.3V359.9H63.6zM46.1 359.9H50.5V364.1H46.1zM68.0 364.1H72.3V368.4H68.0zM98.5 368.4H102.9V372.7H98.5zM81.1 372.7H85.4V376.9H81.1zM89.8 372.7H94.2V376.9H89.8zM54.9 381.2H59.2V385.5H54.9zM63.6 381.2H68.0V385.5H63.6zM63.6 389.7H68.0V394.0H63.6zM85.4 394.0H89.8V398.2H85.4zM89.8 402.5H98.5V406.8H89.8zM89.8 415.3H98.5V419.6H89.8zM107.3 415.3H111.6V419.6H107.3zM111.6 419.6H116.0V423.8H111.6zM89.8 423.8H94.2V428.1H89.8zM89.8 428.1H94.2V432.3H89.8zM89.8 432.3H94.2V436.6H89.8zM81.1 436.6H94.2V440.9H81.1zM85.4 445.1H94.2V449.4H85.4zM46.1 462.2H59.2V466.4H46.1zM50.5 466.4H54.9V470.7H50.5zM85.4 479.2H89.8V483.5H85.4zM177.2 487.7H185.9V492.0H177.2zM168.4 492.0H172.8V496.3H168.4zM155.3 517.6H159.7V521.8H155.3z"/>
<path fill="#f5e25e" d="M59.2 359.9H63.6V364.1H59.2zM59.2 364.1H68.0V368.4H59.2zM85.4 372.7H89.8V376.9H85.4zM72.3 385.5H76.7V389.7H72.3zM89.8 389.7H94.2V394.0H89.8zM98.5 415.3H107.3V419.6H98.5zM89.8 419.6H111.6V423.8H89.8zM94.2 423.8H107.3V428.1H94.2zM85.4 432.3H89.8V436.6H85.4zM85.4 440.9H94.2V445.1H85.4zM120.4 479.2H124.7V483.5H120.4zM168.4 500.5H172.8V504.8H168.4z"/>
<path fill="#f6dd4f" d="M72.3 368.4H76.7V372.7H72.3zM116.0 475.0H120.4V479.2H116.0zM168.4 496.3H172.8V500.5H168.4zM190.3 496.3H194.6V500.5H190.3zM190.3 500.5H194.6V504.8H190.3zM185.9 504.8H190.3V509.1H185.9z"/>
<path fill="#f7d842" d="M172.8 504.8H177.2V509.1H172.8z"/>
<path fill="#f9d235" d="M72.3 359.9H76.7V364.1H72.3zM177.2 504.8H185.9V509.1H177.2z"/>
<path fill="#facd28" d="M63.6 359.9H72.3V364.1H63.6zM89.8 475.0H94.2V479.2H89.8zM172.8 492.0H177.2V496.3H172.8z"/>
<path fill="#fac824" d="M185.9 492.0H190.3V496.3H185.9zM172.8 496.3H177.2V500.5H172.8zM172.8 500.5H177.2V504.8H172.8z"/>
<path fill="#fac220" d="M111.6 475.0H116.0V479.2H111.6zM116.0 479.2H120.4V483.5H116.0zM177.2 492.0H185.9V496.3H177.2z"/>
<path fill="#fabd1b" d="M89.8 479.2H94.2V483.5H89.8zM177.2 496.3H181.5V500.5H177.2zM177.2 500.5H181.5V504.8H177.2zM185.9 500.5H190.3V504.8H185.9z"/>
<path fill="#fab817" d="M181.5 496.3H190.3V500.5H181.5zM181.5 500.5H185.9V504.8H181.5z"/>
<path fill="#f9ab12" d="M111.6 479.2H116.0V483.5H111.6z"/>
<path fill="#f9a310" d="M107.3 475.0H111.6V479.2H107.3zM107.3 479.2H111.6V483.5H107.3z"/>
<path fill="#ee420a" d="M94.2 475.0H98.5V479.2H94.2zM102.9 475.0H107.3V479.2H102.9zM102.9 479.2H107.3V483.5H102.9z"/>
<path fill="#ed390a" d="M94.2 479.2H98.5V483.5H94.2z"/>
<path fill="#e5170c" d="M98.5 475.0H102.9V479.2H98.5zM98.5 479.2H102.9V483.5H98.5z"/></g><rect x="37.40" y="510.83" width="64.91" height="15.27" fill="#fff"/>
<rect x="170.38" y="512.96" width="120.32" height="13.14" fill="#fff"/>
<g shape-rendering="crispEdges" filter="url(#soft)"><path fill="#0000b5" d="M553.0 304.5H562.2V309.0H553.0zM566.9 304.5H576.1V309.0H566.9zM599.2 304.5H603.8V309.0H599.2zM608.4 304.5H617.7V309.0H608.4zM622.3 304.5H650.0V309.0H622.3zM654.7 304.5H714.7V309.0H654.7zM724.0 304.5H728.6V309.0H724.0zM733.2 304.5H742.4V309.0H733.2zM751.7 304.5H774.8V309.0H751.7zM779.4 304.5H802.5V309.0H779.4zM811.8 304.5H821.0V309.0H811.8zM557.6 309.0H562.2V313.5H557.6zM566.9 309.0H571.5V313.5H566.9zM576.1 309.0H585.3V313.5H576.1zM590.0 309.0H603.8V313.5H590.0zM608.4 309.0H626.9V313.5H608.4zM631.6 309.0H640.8V313.5H631.6zM645.4 309.0H650.0V313.5H645.4zM659.3 309.0H663.9V313.5H659.3zM682.4 309.0H700.9V313.5H682.4zM705.5 309.0H710.1V313.5H705.5zM724.0 309.0H733.2V313.5H724.0zM747.1 309.0H751.7V313.5H747.1zM756.3 309.0H765.6V313.5H756.3zM770.2 309.0H779.4V313.5H770.2zM784.0 309.0H793.3V313.5H784.0zM802.5 309.0H821.0V313.5H802.5zM553.0 313.5H571.5V318.1H553.0zM576.1 313.5H580.7V318.1H576.1zM585.3 313.5H590.0V318.1H585.3zM599.2 313.5H626.9V318.1H599.2zM640.8 313.5H650.0V318.1H640.8zM654.7 313.5H673.1V318.1H654.7zM677.8 313.5H687.0V318.1H677.8zM691.6 313.5H710.1V318.1H691.6zM724.0 313.5H747.1V318.1H724.0zM751.7 313.5H765.6V318.1H751.7zM774.8 313.5H779.4V318.1H774.8zM784.0 313.5H788.7V318.1H784.0zM793.3 313.5H802.5V318.1H793.3zM811.8 313.5H821.0V318.1H811.8zM557.6 318.1H571.5V322.6H557.6zM585.3 318.1H599.2V322.6H585.3zM603.8 318.1H608.4V322.6H603.8zM613.1 318.1H622.3V322.6H613.1zM626.9 318.1H631.6V322.6H626.9zM640.8 318.1H663.9V322.6H640.8zM673.1 318.1H696.2V322.6H673.1zM705.5 318.1H724.0V322.6H705.5zM733.2 318.1H774.8V322.6H733.2zM779.4 318.1H784.0V322.6H779.4zM807.1 318.1H811.8V322.6H807.1zM553.0 322.6H576.1V327.1H553.0zM580.7 322.6H603.8V327.1H580.7zM608.4 322.6H626.9V327.1H608.4zM631.6 322.6H640.8V327.1H631.6zM650.0 322.6H654.7V327.1H650.0zM659.3 322.6H673.1V327.1H659.3zM677.8 322.6H687.0V327.1H677.8zM691.6 322.6H714.7V327.1H691.6zM719.3 322.6H765.6V327.1H719.3zM770.2 322.6H779.4V327.1H770.2zM784.0 322.6H793.3V327.1H784.0zM802.5 322.6H807.1V327.1H802.5zM811.8 322.6H821.0V327.1H811.8zM553.0 327.1H557.6V331.6H553.0zM562.2 327.1H590.0V331.6H562.2zM594.6 327.1H608.4V331.6H594.6zM613.1 327.1H626.9V331.6H613.1zM631.6 327.1H636.2V331.6H631.6zM640.8 327.1H645.4V331.6H640.8zM650.0 327.1H654.7V331.6H650.0zM659.3 327.1H663.9V331.6H659.3zM677.8 327.1H687.0V331.6H677.8zM700.9 327.1H728.6V331.6H700.9zM742.4 327.1H747.1V331.6H742.4zM751.7 327.1H756.3V331.6H751.7zM765.6 327.1H770.2V331.6H765.6zM779.4 327.1H793.3V331.6H779.4zM797.9 327.1H802.5V331.6H797.9zM807.1 327.1H811.8V331.6H807.1zM816.4 327.1H821.0V331.6H816.4zM566.9 331.6H599.2V336.1H566.9zM608.4 331.6H626.9V336.1H608.4zM631.6 331.6H640.8V336.1H631.6zM645.4 331.6H668.5V336.1H645.4zM677.8 331.6H687.0V336.1H677.8zM700.9 331.6H705.5V336.1H700.9zM724.0 331.6H728.6V336.1H724.0zM742.4 331.6H751.7V336.1H742.4zM756.3 331.6H770.2V336.1H756.3zM774.8 331.6H797.9V336.1H774.8zM802.5 331.6H811.8V336.1H802.5zM816.4 331.6H821.0V336.1H816.4zM553.0 336.1H571.5V340.7H553.0zM580.7 336.1H590.0V340.7H580.7zM599.2 336.1H603.8V340.7H599.2zM622.3 336.1H659.3V340.7H622.3zM668.5 336.1H677.8V340.7H668.5zM687.0 336.1H700.9V340.7H687.0zM705.5 336.1H710.1V340.7H705.5zM714.7 336.1H737.8V340.7H714.7zM742.4 336.1H747.1V340.7H742.4zM751.7 336.1H760.9V340.7H751.7zM765.6 336.1H774.8V340.7H765.6zM779.4 336.1H797.9V340.7H779.4zM802.5 336.1H807.1V340.7H802.5zM811.8 336.1H821.0V340.7H811.8zM553.0 340.7H562.2V345.2H553.0zM566.9 340.7H571.5V345.2H566.9zM576.1 340.7H585.3V345.2H576.1zM590.0 340.7H608.4V345.2H590.0zM613.1 340.7H622.3V345.2H613.1zM631.6 340.7H640.8V345.2H631.6zM650.0 340.7H654.7V345.2H650.0zM663.9 340.7H668.5V345.2H663.9zM673.1 340.7H677.8V345.2H673.1zM682.4 340.7H696.2V345.2H682.4zM700.9 340.7H705.5V345.2H700.9zM710.1 340.7H714.7V345.2H710.1zM719.3 340.7H765.6V345.2H719.3zM770.2 340.7H779.4V345.2H770.2zM788.7 340.7H797.9V345.2H788.7zM802.5 340.7H816.4V345.2H802.5zM553.0 345.2H557.6V349.7H553.0zM562.2 345.2H566.9V349.7H562.2zM571.5 345.2H580.7V349.7H571.5zM585.3 345.2H603.8V349.7H585.3zM613.1 345.2H622.3V349.7H613.1zM626.9 345.2H631.6V349.7H626.9zM636.2 345.2H640.8V349.7H636.2zM650.0 345.2H654.7V349.7H650.0zM659.3 345.2H691.6V349.7H659.3zM705.5 345.2H719.3V349.7H705.5zM724.0 345.2H733.2V349.7H724.0zM747.1 345.2H756.3V349.7H747.1zM760.9 345.2H765.6V349.7H760.9zM770.2 345.2H779.4V349.7H770.2zM784.0 345.2H788.7V349.7H784.0zM793.3 345.2H797.9V349.7H793.3zM811.8 345.2H821.0V349.7H811.8zM553.0 349.7H566.9V354.2H553.0zM571.5 349.7H576.1V354.2H571.5zM580.7 349.7H585.3V354.2H580.7zM590.0 349.7H594.6V354.2H590.0zM603.8 349.7H608.4V354.2H603.8zM617.7 349.7H636.2V354.2H617.7zM640.8 349.7H645.4V354.2H640.8zM650.0 349.7H724.0V354.2H650.0zM728.6 349.7H733.2V354.2H728.6zM737.8 349.7H742.4V354.2H737.8zM747.1 349.7H751.7V354.2H747.1zM756.3 349.7H797.9V354.2H756.3zM802.5 349.7H811.8V354.2H802.5zM557.6 354.2H576.1V358.7H557.6zM580.7 354.2H590.0V358.7H580.7zM599.2 354.2H603.8V358.7H599.2zM608.4 354.2H613.1V358.7H608.4zM622.3 354.2H626.9V358.7H622.3zM640.8 354.2H654.7V358.7H640.8zM659.3 354.2H663.9V358.7H659.3zM668.5 354.2H673.1V358.7H668.5zM677.8 354.2H682.4V358.7H677.8zM696.2 354.2H737.8V358.7H696.2zM742.4 354.2H756.3V358.7H742.4zM760.9 354.2H774.8V358.7H760.9zM779.4 354.2H784.0V358.7H779.4zM788.7 354.2H793.3V358.7H788.7zM797.9 354.2H802.5V358.7H797.9zM807.1 354.2H821.0V358.7H807.1zM557.6 358.7H562.2V363.3H557.6zM566.9 358.7H571.5V363.3H566.9zM580.7 358.7H585.3V363.3H580.7zM594.6 358.7H599.2V363.3H594.6zM603.8 358.7H613.1V363.3H603.8zM622.3 358.7H631.6V363.3H622.3zM636.2 358.7H654.7V363.3H636.2zM663.9 358.7H673.1V363.3H663.9zM677.8 358.7H700.9V363.3H677.8zM705.5 358.7H710.1V363.3H705.5zM714.7 358.7H719.3V363.3H714.7zM724.0 358.7H733.2V363.3H724.0zM747.1 358.7H756.3V363.3H747.1zM765.6 358.7H770.2V363.3H765.6zM779.4 358.7H788.7V363.3H779.4zM797.9 358.7H802.5V363.3H797.9zM811.8 358.7H821.0V363.3H811.8zM553.0 363.3H557.6V367.8H553.0zM562.2 363.3H571.5V367.8H562.2zM585.3 363.3H599.2V367.8H585.3zM603.8 363.3H608.4V367.8H603.8zM613.1 363.3H617.7V367.8H613.1zM622.3 363.3H626.9V367.8H622.3zM631.6 363.3H650.0V367.8H631.6zM659.3 363.3H673.1V367.8H659.3zM677.8 363.3H682.4V367.8H677.8zM687.0 363.3H696.2V367.8H687.0zM710.1 363.3H714.7V367.8H710.1zM719.3 363.3H724.0V367.8H719.3zM728.6 363.3H747.1V367.8H728.6zM751.7 363.3H765.6V367.8H751.7zM770.2 363.3H774.8V367.8H770.2zM779.4 363.3H784.0V367.8H779.4zM788.7 363.3H802.5V367.8H788.7zM811.8 363.3H816.4V367.8H811.8zM557.6 367.8H566.9V372.3H557.6zM576.1 367.8H580.7V372.3H576.1zM590.0 367.8H608.4V372.3H590.0zM617.7 367.8H626.9V372.3H617.7zM631.6 367.8H636.2V372.3H631.6zM640.8 367.8H659.3V372.3H640.8zM673.1 367.8H677.8V372.3H673.1zM682.4 367.8H687.0V372.3H682.4zM705.5 367.8H737.8V372.3H705.5zM742.4 367.8H756.3V372.3H742.4zM760.9 367.8H770.2V372.3H760.9zM774.8 367.8H802.5V372.3H774.8zM807.1 367.8H811.8V372.3H807.1zM553.0 372.3H562.2V376.8H553.0zM566.9 372.3H571.5V376.8H566.9zM576.1 372.3H599.2V376.8H576.1zM603.8 372.3H608.4V376.8H603.8zM617.7 372.3H626.9V376.8H617.7zM636.2 372.3H640.8V376.8H636.2zM645.4 372.3H654.7V376.8H645.4zM663.9 372.3H668.5V376.8H663.9zM673.1 372.3H682.4V376.8H673.1zM687.0 372.3H696.2V376.8H687.0zM700.9 372.3H705.5V376.8H700.9zM710.1 372.3H728.6V376.8H710.1zM742.4 372.3H751.7V376.8H742.4zM756.3 372.3H774.8V376.8H756.3zM779.4 372.3H816.4V376.8H779.4zM562.2 376.8H566.9V381.3H562.2zM576.1 376.8H585.3V381.3H576.1zM594.6 376.8H626.9V381.3H594.6zM631.6 376.8H659.3V381.3H631.6zM663.9 376.8H668.5V381.3H663.9zM673.1 376.8H700.9V381.3H673.1zM705.5 376.8H714.7V381.3H705.5zM719.3 376.8H728.6V381.3H719.3zM737.8 376.8H742.4V381.3H737.8zM747.1 376.8H756.3V381.3H747.1zM765.6 376.8H770.2V381.3H765.6zM774.8 376.8H784.0V381.3H774.8zM793.3 376.8H802.5V381.3H793.3zM553.0 381.3H562.2V385.9H553.0zM576.1 381.3H580.7V385.9H576.1zM594.6 381.3H599.2V385.9H594.6zM603.8 381.3H608.4V385.9H603.8zM613.1 381.3H636.2V385.9H613.1zM645.4 381.3H654.7V385.9H645.4zM668.5 381.3H691.6V385.9H668.5zM700.9 381.3H705.5V385.9H700.9zM714.7 381.3H719.3V385.9H714.7zM728.6 381.3H747.1V385.9H728.6zM751.7 381.3H760.9V385.9H751.7zM765.6 381.3H770.2V385.9H765.6zM774.8 381.3H784.0V385.9H774.8zM793.3 381.3H807.1V385.9H793.3zM811.8 381.3H821.0V385.9H811.8zM553.0 385.9H571.5V390.4H553.0zM576.1 385.9H590.0V390.4H576.1zM603.8 385.9H608.4V390.4H603.8zM613.1 385.9H631.6V390.4H613.1zM640.8 385.9H654.7V390.4H640.8zM663.9 385.9H673.1V390.4H663.9zM682.4 385.9H691.6V390.4H682.4zM696.2 385.9H710.1V390.4H696.2zM719.3 385.9H728.6V390.4H719.3zM733.2 385.9H742.4V390.4H733.2zM747.1 385.9H751.7V390.4H747.1zM756.3 385.9H760.9V390.4H756.3zM765.6 385.9H774.8V390.4H765.6zM784.0 385.9H802.5V390.4H784.0zM807.1 385.9H821.0V390.4H807.1zM562.2 390.4H580.7V394.9H562.2zM585.3 390.4H603.8V394.9H585.3zM608.4 390.4H617.7V394.9H608.4zM622.3 390.4H626.9V394.9H622.3zM631.6 390.4H636.2V394.9H631.6zM645.4 390.4H650.0V394.9H645.4zM668.5 390.4H677.8V394.9H668.5zM687.0 390.4H691.6V394.9H687.0zM696.2 390.4H700.9V394.9H696.2zM710.1 390.4H733.2V394.9H710.1zM737.8 390.4H747.1V394.9H737.8zM751.7 390.4H770.2V394.9H751.7zM784.0 390.4H788.7V394.9H784.0zM793.3 390.4H807.1V394.9H793.3zM811.8 390.4H816.4V394.9H811.8zM553.0 394.9H562.2V399.4H553.0zM571.5 394.9H580.7V399.4H571.5zM599.2 394.9H608.4V399.4H599.2zM617.7 394.9H622.3V399.4H617.7zM626.9 394.9H640.8V399.4H626.9zM645.4 394.9H650.0V399.4H645.4zM659.3 394.9H663.9V399.4H659.3zM673.1 394.9H682.4V399.4H673.1zM691.6 394.9H696.2V399.4H691.6zM705.5 394.9H724.0V399.4H705.5zM742.4 394.9H756.3V399.4H742.4zM760.9 394.9H765.6V399.4H760.9zM774.8 394.9H779.4V399.4H774.8zM784.0 394.9H788.7V399.4H784.0zM797.9 394.9H816.4V399.4H797.9zM557.6 399.4H562.2V403.9H557.6zM566.9 399.4H590.0V403.9H566.9zM599.2 399.4H603.8V403.9H599.2zM608.4 399.4H613.1V403.9H608.4zM617.7 399.4H622.3V403.9H617.7zM626.9 399.4H682.4V403.9H626.9zM687.0 399.4H691.6V403.9H687.0zM696.2 399.4H728.6V403.9H696.2zM733.2 399.4H747.1V403.9H733.2zM751.7 399.4H756.3V403.9H751.7zM760.9 399.4H779.4V403.9H760.9zM788.7 399.4H797.9V403.9H788.7zM802.5 399.4H807.1V403.9H802.5zM553.0 403.9H562.2V408.5H553.0zM571.5 403.9H580.7V408.5H571.5zM585.3 403.9H590.0V408.5H585.3zM594.6 403.9H640.8V408.5H594.6zM645.4 403.9H654.7V408.5H645.4zM663.9 403.9H673.1V408.5H663.9zM696.2 403.9H700.9V408.5H696.2zM710.1 403.9H719.3V408.5H710.1zM733.2 403.9H737.8V408.5H733.2zM742.4 403.9H751.7V408.5H742.4zM760.9 403.9H765.6V408.5H760.9zM774.8 403.9H788.7V408.5H774.8zM793.3 403.9H797.9V408.5H793.3zM802.5 403.9H807.1V408.5H802.5zM811.8 403.9H821.0V408.5H811.8zM557.6 408.5H571.5V413.0H557.6zM576.1 408.5H594.6V413.0H576.1zM599.2 408.5H603.8V413.0H599.2zM608.4 408.5H613.1V413.0H608.4zM617.7 408.5H622.3V413.0H617.7zM626.9 408.5H636.2V413.0H626.9zM640.8 408.5H645.4V413.0H640.8zM650.0 408.5H663.9V413.0H650.0zM668.5 408.5H677.8V413.0H668.5zM691.6 408.5H728.6V413.0H691.6zM733.2 408.5H742.4V413.0H733.2zM747.1 408.5H765.6V413.0H747.1zM774.8 408.5H779.4V413.0H774.8zM784.0 408.5H788.7V413.0H784.0zM811.8 408.5H816.4V413.0H811.8zM562.2 413.0H576.1V417.5H562.2zM585.3 413.0H594.6V417.5H585.3zM599.2 413.0H603.8V417.5H599.2zM613.1 413.0H631.6V417.5H613.1zM636.2 413.0H645.4V417.5H636.2zM650.0 413.0H663.9V417.5H650.0zM668.5 413.0H677.8V417.5H668.5zM682.4 413.0H714.7V417.5H682.4zM719.3 413.0H737.8V417.5H719.3zM742.4 413.0H747.1V417.5H742.4zM751.7 413.0H756.3V417.5H751.7zM774.8 413.0H784.0V417.5H774.8zM788.7 413.0H793.3V417.5H788.7zM811.8 413.0H816.4V417.5H811.8zM742.4 512.4H747.1V516.9H742.4z"/>
<path fill="#0000c0" d="M585.3 304.5H590.0V309.0H585.3zM714.7 304.5H719.3V309.0H714.7zM719.3 309.0H724.0V313.5H719.3zM765.6 309.0H770.2V313.5H765.6zM779.4 309.0H784.0V313.5H779.4zM719.3 313.5H724.0V318.1H719.3zM770.2 313.5H774.8V318.1H770.2zM571.5 318.1H576.1V322.6H571.5zM788.7 318.1H793.3V322.6H788.7zM811.8 318.1H816.4V322.6H811.8zM576.1 322.6H580.7V327.1H576.1zM626.9 322.6H631.6V327.1H626.9zM654.7 322.6H659.3V327.1H654.7zM673.1 322.6H677.8V327.1H673.1zM765.6 322.6H770.2V327.1H765.6zM557.6 327.1H562.2V331.6H557.6zM608.4 327.1H613.1V331.6H608.4zM645.4 327.1H650.0V331.6H645.4zM673.1 327.1H677.8V331.6H673.1zM626.9 331.6H631.6V336.1H626.9zM705.5 331.6H714.7V336.1H705.5zM719.3 331.6H724.0V336.1H719.3zM737.8 331.6H742.4V336.1H737.8zM613.1 336.1H617.7V340.7H613.1zM659.3 336.1H663.9V340.7H659.3zM608.4 340.7H613.1V345.2H608.4zM626.9 340.7H631.6V345.2H626.9zM645.4 340.7H650.0V345.2H645.4zM608.4 345.2H613.1V349.7H608.4zM797.9 345.2H802.5V349.7H797.9zM724.0 349.7H728.6V354.2H724.0zM811.8 349.7H816.4V354.2H811.8zM576.1 354.2H580.7V358.7H576.1zM590.0 354.2H594.6V358.7H590.0zM673.1 354.2H677.8V358.7H673.1zM682.4 354.2H687.0V358.7H682.4zM613.1 358.7H617.7V363.3H613.1zM654.7 358.7H659.3V363.3H654.7zM710.1 358.7H714.7V363.3H710.1zM719.3 358.7H724.0V363.3H719.3zM756.3 358.7H760.9V363.3H756.3zM774.8 358.7H779.4V363.3H774.8zM793.3 358.7H797.9V363.3H793.3zM650.0 363.3H654.7V367.8H650.0zM765.6 363.3H770.2V367.8H765.6zM774.8 363.3H779.4V367.8H774.8zM784.0 363.3H788.7V367.8H784.0zM802.5 363.3H807.1V367.8H802.5zM553.0 367.8H557.6V372.3H553.0zM608.4 367.8H613.1V372.3H608.4zM691.6 367.8H696.2V372.3H691.6zM756.3 367.8H760.9V372.3H756.3zM770.2 367.8H774.8V372.3H770.2zM682.4 372.3H687.0V376.8H682.4zM696.2 372.3H700.9V376.8H696.2zM626.9 376.8H631.6V381.3H626.9zM696.2 381.3H700.9V385.9H696.2zM705.5 381.3H710.1V385.9H705.5zM770.2 381.3H774.8V385.9H770.2zM784.0 381.3H788.7V385.9H784.0zM807.1 381.3H811.8V385.9H807.1zM599.2 385.9H603.8V390.4H599.2zM673.1 385.9H677.8V390.4H673.1zM760.9 385.9H765.6V390.4H760.9zM802.5 385.9H807.1V390.4H802.5zM617.7 390.4H622.3V394.9H617.7zM626.9 390.4H631.6V394.9H626.9zM650.0 390.4H654.7V394.9H650.0zM733.2 390.4H737.8V394.9H733.2zM590.0 394.9H594.6V399.4H590.0zM622.3 394.9H626.9V399.4H622.3zM650.0 394.9H654.7V399.4H650.0zM663.9 394.9H668.5V399.4H663.9zM733.2 394.9H742.4V399.4H733.2zM793.3 394.9H797.9V399.4H793.3zM816.4 394.9H821.0V399.4H816.4zM622.3 399.4H626.9V403.9H622.3zM756.3 399.4H760.9V403.9H756.3zM779.4 399.4H784.0V403.9H779.4zM797.9 399.4H802.5V403.9H797.9zM807.1 399.4H811.8V403.9H807.1zM562.2 403.9H571.5V408.5H562.2zM640.8 403.9H645.4V408.5H640.8zM654.7 403.9H663.9V408.5H654.7zM613.1 408.5H617.7V413.0H613.1zM765.6 408.5H770.2V413.0H765.6zM779.4 408.5H784.0V413.0H779.4zM816.4 408.5H821.0V413.0H816.4zM580.7 413.0H585.3V417.5H580.7zM756.3 413.0H765.6V417.5H756.3zM566.9 417.5H576.1V422.0H566.9zM585.3 417.5H590.0V422.0H585.3zM594.6 417.5H599.2V422.0H594.6zM603.8 417.5H617.7V422.0H603.8zM626.9 417.5H640.8V422.0H626.9zM645.4 417.5H650.0V422.0H645.4zM654.7 417.5H663.9V422.0H654.7zM668.5 417.5H677.8V422.0H668.5zM687.0 417.5H696.2V422.0H687.0zM700.9 417.5H728.6V422.0H700.9zM733.2 417.5H751.7V422.0H733.2zM756.3 417.5H760.9V422.0H756.3zM765.6 417.5H779.4V422.0H765.6zM784.0 417.5H807.1V422.0H784.0zM811.8 417.5H821.0V422.0H811.8zM557.6 422.0H562.2V426.5H557.6zM566.9 422.0H571.5V426.5H566.9zM580.7 422.0H617.7V426.5H580.7zM622.3 422.0H631.6V426.5H622.3zM636.2 422.0H654.7V426.5H636.2zM659.3 422.0H668.5V426.5H659.3zM673.1 422.0H687.0V426.5H673.1zM696.2 422.0H700.9V426.5H696.2zM705.5 422.0H719.3V426.5H705.5zM724.0 422.0H742.4V426.5H724.0zM760.9 422.0H774.8V426.5H760.9zM779.4 422.0H807.1V426.5H779.4zM811.8 422.0H816.4V426.5H811.8zM553.0 426.5H576.1V431.1H553.0zM599.2 426.5H603.8V431.1H599.2zM608.4 426.5H613.1V431.1H608.4zM617.7 426.5H626.9V431.1H617.7zM636.2 426.5H654.7V431.1H636.2zM668.5 426.5H691.6V431.1H668.5zM696.2 426.5H714.7V431.1H696.2zM719.3 426.5H724.0V431.1H719.3zM728.6 426.5H733.2V431.1H728.6zM737.8 426.5H747.1V431.1H737.8zM756.3 426.5H779.4V431.1H756.3zM784.0 426.5H807.1V431.1H784.0zM811.8 426.5H816.4V431.1H811.8zM557.6 431.1H566.9V435.6H557.6zM576.1 431.1H580.7V435.6H576.1zM603.8 431.1H617.7V435.6H603.8zM626.9 431.1H645.4V435.6H626.9zM650.0 431.1H654.7V435.6H650.0zM668.5 431.1H673.1V435.6H668.5zM682.4 431.1H691.6V435.6H682.4zM724.0 431.1H728.6V435.6H724.0zM733.2 431.1H784.0V435.6H733.2zM788.7 431.1H816.4V435.6H788.7zM553.0 435.6H557.6V440.1H553.0zM562.2 435.6H566.9V440.1H562.2zM571.5 435.6H580.7V440.1H571.5zM603.8 435.6H617.7V440.1H603.8zM626.9 435.6H631.6V440.1H626.9zM636.2 435.6H645.4V440.1H636.2zM650.0 435.6H677.8V440.1H650.0zM682.4 435.6H691.6V440.1H682.4zM696.2 435.6H700.9V440.1H696.2zM710.1 435.6H714.7V440.1H710.1zM719.3 435.6H728.6V440.1H719.3zM733.2 435.6H765.6V440.1H733.2zM770.2 435.6H774.8V440.1H770.2zM784.0 435.6H802.5V440.1H784.0zM811.8 435.6H821.0V440.1H811.8zM553.0 440.1H562.2V444.6H553.0zM608.4 440.1H626.9V444.6H608.4zM645.4 440.1H650.0V444.6H645.4zM654.7 440.1H659.3V444.6H654.7zM663.9 440.1H668.5V444.6H663.9zM673.1 440.1H682.4V444.6H673.1zM687.0 440.1H691.6V444.6H687.0zM710.1 440.1H724.0V444.6H710.1zM728.6 440.1H737.8V444.6H728.6zM751.7 440.1H779.4V444.6H751.7zM784.0 440.1H793.3V444.6H784.0zM797.9 440.1H807.1V444.6H797.9zM816.4 440.1H821.0V444.6H816.4zM617.7 444.6H631.6V449.1H617.7zM714.7 444.6H737.8V449.1H714.7zM747.1 444.6H756.3V449.1H747.1zM760.9 444.6H788.7V449.1H760.9zM802.5 444.6H821.0V449.1H802.5zM705.5 449.1H710.1V453.7H705.5zM714.7 449.1H719.3V453.7H714.7zM724.0 449.1H728.6V453.7H724.0zM742.4 449.1H747.1V453.7H742.4zM756.3 449.1H760.9V453.7H756.3zM774.8 449.1H793.3V453.7H774.8zM802.5 449.1H821.0V453.7H802.5zM714.7 453.7H719.3V458.2H714.7zM733.2 453.7H747.1V458.2H733.2zM760.9 453.7H784.0V458.2H760.9zM793.3 453.7H816.4V458.2H793.3zM728.6 458.2H737.8V462.7H728.6zM747.1 458.2H751.7V462.7H747.1zM756.3 458.2H760.9V462.7H756.3zM770.2 458.2H779.4V462.7H770.2zM784.0 458.2H797.9V462.7H784.0zM802.5 458.2H816.4V462.7H802.5zM728.6 462.7H733.2V467.2H728.6zM737.8 462.7H742.4V467.2H737.8zM751.7 462.7H774.8V467.2H751.7zM779.4 462.7H788.7V467.2H779.4zM793.3 462.7H802.5V467.2H793.3zM816.4 462.7H821.0V467.2H816.4zM737.8 467.2H751.7V471.7H737.8zM756.3 467.2H765.6V471.7H756.3zM770.2 467.2H774.8V471.7H770.2zM779.4 467.2H788.7V471.7H779.4zM793.3 467.2H797.9V471.7H793.3zM751.7 471.7H760.9V476.3H751.7zM765.6 471.7H770.2V476.3H765.6zM774.8 471.7H779.4V476.3H774.8zM784.0 471.7H788.7V476.3H784.0zM797.9 471.7H807.1V476.3H797.9zM751.7 476.3H760.9V480.8H751.7zM765.6 476.3H788.7V480.8H765.6zM797.9 476.3H811.8V480.8H797.9zM747.1 480.8H774.8V485.3H747.1zM779.4 480.8H784.0V485.3H779.4zM797.9 480.8H821.0V485.3H797.9zM751.7 485.3H765.6V489.8H751.7zM770.2 485.3H774.8V489.8H770.2zM779.4 485.3H788.7V489.8H779.4zM793.3 485.3H797.9V489.8H793.3zM802.5 485.3H807.1V489.8H802.5zM811.8 485.3H821.0V489.8H811.8zM756.3 489.8H779.4V494.3H756.3zM788.7 489.8H793.3V494.3H788.7zM797.9 489.8H802.5V494.3H797.9zM807.1 489.8H816.4V494.3H807.1zM756.3 494.3H765.6V498.9H756.3zM770.2 494.3H774.8V498.9H770.2zM784.0 494.3H811.8V498.9H784.0zM756.3 498.9H760.9V503.4H756.3zM765.6 498.9H770.2V503.4H765.6zM774.8 498.9H779.4V503.4H774.8zM793.3 498.9H807.1V503.4H793.3zM811.8 498.9H821.0V503.4H811.8zM751.7 503.4H807.1V507.9H751.7zM811.8 503.4H816.4V507.9H811.8zM751.7 507.9H765.6V512.4H751.7zM774.8 507.9H779.4V512.4H774.8zM793.3 507.9H797.9V512.4H793.3zM811.8 507.9H816.4V512.4H811.8zM747.1 512.4H779.4V516.9H747.1zM784.0 512.4H793.3V516.9H784.0zM802.5 512.4H807.1V516.9H802.5zM811.8 512.4H821.0V516.9H811.8z"/>
<path fill="#0000cb" d="M562.2 309.0H566.9V313.5H562.2zM603.8 309.0H608.4V313.5H603.8zM714.7 309.0H719.3V313.5H714.7zM751.7 309.0H756.3V313.5H751.7zM793.3 309.0H797.9V313.5H793.3zM571.5 313.5H576.1V318.1H571.5zM580.7 313.5H585.3V318.1H580.7zM590.0 313.5H594.6V318.1H590.0zM673.1 313.5H677.8V318.1H673.1zM714.7 313.5H719.3V318.1H714.7zM788.7 313.5H793.3V318.1H788.7zM663.9 318.1H668.5V322.6H663.9zM700.9 318.1H705.5V322.6H700.9zM728.6 318.1H733.2V322.6H728.6zM774.8 318.1H779.4V322.6H774.8zM816.4 318.1H821.0V322.6H816.4zM714.7 322.6H719.3V327.1H714.7zM779.4 322.6H784.0V327.1H779.4zM793.3 322.6H802.5V327.1H793.3zM807.1 322.6H811.8V327.1H807.1zM636.2 327.1H640.8V331.6H636.2zM760.9 327.1H765.6V331.6H760.9zM770.2 327.1H774.8V331.6H770.2zM557.6 331.6H562.2V336.1H557.6zM668.5 331.6H673.1V336.1H668.5zM696.2 331.6H700.9V336.1H696.2zM728.6 331.6H733.2V336.1H728.6zM811.8 331.6H816.4V336.1H811.8zM590.0 336.1H594.6V340.7H590.0zM603.8 336.1H613.1V340.7H603.8zM774.8 336.1H779.4V340.7H774.8zM654.7 340.7H659.3V345.2H654.7zM566.9 345.2H571.5V349.7H566.9zM580.7 345.2H585.3V349.7H580.7zM719.3 345.2H724.0V349.7H719.3zM788.7 345.2H793.3V349.7H788.7zM802.5 345.2H811.8V349.7H802.5zM816.4 349.7H821.0V354.2H816.4zM626.9 354.2H636.2V358.7H626.9zM687.0 354.2H691.6V358.7H687.0zM571.5 358.7H576.1V363.3H571.5zM585.3 358.7H590.0V363.3H585.3zM617.7 358.7H622.3V363.3H617.7zM659.3 358.7H663.9V363.3H659.3zM733.2 358.7H737.8V363.3H733.2zM770.2 358.7H774.8V363.3H770.2zM788.7 358.7H793.3V363.3H788.7zM626.9 363.3H631.6V367.8H626.9zM696.2 363.3H700.9V367.8H696.2zM714.7 363.3H719.3V367.8H714.7zM811.8 367.8H816.4V372.3H811.8zM608.4 372.3H617.7V376.8H608.4zM728.6 372.3H737.8V376.8H728.6zM751.7 372.3H756.3V376.8H751.7zM659.3 376.8H663.9V381.3H659.3zM668.5 376.8H673.1V381.3H668.5zM700.9 376.8H705.5V381.3H700.9zM756.3 376.8H760.9V381.3H756.3zM784.0 376.8H788.7V381.3H784.0zM802.5 376.8H811.8V381.3H802.5zM816.4 376.8H821.0V381.3H816.4zM654.7 381.3H659.3V385.9H654.7zM747.1 381.3H751.7V385.9H747.1zM691.6 385.9H696.2V390.4H691.6zM774.8 385.9H779.4V390.4H774.8zM553.0 390.4H562.2V394.9H553.0zM580.7 390.4H585.3V394.9H580.7zM659.3 390.4H663.9V394.9H659.3zM677.8 390.4H682.4V394.9H677.8zM779.4 390.4H784.0V394.9H779.4zM807.1 390.4H811.8V394.9H807.1zM594.6 394.9H599.2V399.4H594.6zM654.7 394.9H659.3V399.4H654.7zM696.2 394.9H700.9V399.4H696.2zM728.6 394.9H733.2V399.4H728.6zM756.3 394.9H760.9V399.4H756.3zM747.1 399.4H751.7V403.9H747.1zM816.4 399.4H821.0V403.9H816.4zM700.9 403.9H705.5V408.5H700.9zM728.6 403.9H733.2V408.5H728.6zM571.5 408.5H576.1V413.0H571.5zM636.2 408.5H640.8V413.0H636.2zM682.4 408.5H687.0V413.0H682.4zM553.0 413.0H562.2V417.5H553.0zM576.1 413.0H580.7V417.5H576.1zM631.6 413.0H636.2V417.5H631.6zM737.8 413.0H742.4V417.5H737.8zM765.6 413.0H770.2V417.5H765.6zM562.2 417.5H566.9V422.0H562.2zM599.2 417.5H603.8V422.0H599.2zM682.4 417.5H687.0V422.0H682.4zM751.7 417.5H756.3V422.0H751.7zM779.4 417.5H784.0V422.0H779.4zM553.0 422.0H557.6V426.5H553.0zM562.2 422.0H566.9V426.5H562.2zM691.6 422.0H696.2V426.5H691.6zM700.9 422.0H705.5V426.5H700.9zM742.4 422.0H747.1V426.5H742.4zM659.3 426.5H663.9V431.1H659.3zM724.0 426.5H728.6V431.1H724.0zM747.1 426.5H751.7V431.1H747.1zM816.4 426.5H821.0V431.1H816.4zM645.4 431.1H650.0V435.6H645.4zM700.9 431.1H705.5V435.6H700.9zM719.3 431.1H724.0V435.6H719.3zM631.6 435.6H636.2V440.1H631.6zM700.9 435.6H710.1V440.1H700.9zM774.8 435.6H779.4V440.1H774.8zM802.5 435.6H807.1V440.1H802.5zM631.6 440.1H636.2V444.6H631.6zM724.0 440.1H728.6V444.6H724.0zM747.1 440.1H751.7V444.6H747.1zM793.3 440.1H797.9V444.6H793.3zM700.9 444.6H705.5V449.1H700.9zM700.9 449.1H705.5V453.7H700.9zM728.6 449.1H733.2V453.7H728.6zM737.8 449.1H742.4V453.7H737.8zM751.7 449.1H756.3V453.7H751.7zM724.0 453.7H728.6V458.2H724.0zM747.1 453.7H751.7V458.2H747.1zM751.7 458.2H756.3V462.7H751.7zM811.8 462.7H816.4V467.2H811.8zM797.9 467.2H802.5V471.7H797.9zM811.8 467.2H816.4V471.7H811.8zM779.4 471.7H784.0V476.3H779.4zM807.1 485.3H811.8V489.8H807.1zM779.4 489.8H784.0V494.3H779.4zM760.9 498.9H765.6V503.4H760.9zM770.2 498.9H774.8V503.4H770.2zM779.4 507.9H784.0V512.4H779.4z"/>
<path fill="#0000d5" d="M580.7 304.5H585.3V309.0H580.7zM590.0 304.5H599.2V309.0H590.0zM617.7 304.5H622.3V309.0H617.7zM728.6 304.5H733.2V309.0H728.6zM802.5 304.5H807.1V309.0H802.5zM668.5 309.0H677.8V313.5H668.5zM797.9 309.0H802.5V313.5H797.9zM687.0 313.5H691.6V318.1H687.0zM779.4 313.5H784.0V318.1H779.4zM580.7 318.1H585.3V322.6H580.7zM724.0 318.1H728.6V322.6H724.0zM784.0 318.1H788.7V322.6H784.0zM797.9 318.1H802.5V322.6H797.9zM687.0 322.6H691.6V327.1H687.0zM668.5 327.1H673.1V331.6H668.5zM728.6 327.1H733.2V331.6H728.6zM737.8 327.1H742.4V331.6H737.8zM747.1 327.1H751.7V331.6H747.1zM562.2 331.6H566.9V336.1H562.2zM797.9 331.6H802.5V336.1H797.9zM571.5 336.1H576.1V340.7H571.5zM594.6 336.1H599.2V340.7H594.6zM682.4 336.1H687.0V340.7H682.4zM760.9 336.1H765.6V340.7H760.9zM622.3 340.7H626.9V345.2H622.3zM677.8 340.7H682.4V345.2H677.8zM714.7 340.7H719.3V345.2H714.7zM797.9 340.7H802.5V345.2H797.9zM700.9 345.2H705.5V349.7H700.9zM594.6 349.7H599.2V354.2H594.6zM742.4 349.7H747.1V354.2H742.4zM797.9 349.7H802.5V354.2H797.9zM553.0 354.2H557.6V358.7H553.0zM617.7 354.2H622.3V358.7H617.7zM756.3 354.2H760.9V358.7H756.3zM784.0 354.2H788.7V358.7H784.0zM760.9 358.7H765.6V363.3H760.9zM580.7 363.3H585.3V367.8H580.7zM599.2 363.3H603.8V367.8H599.2zM571.5 367.8H576.1V372.3H571.5zM613.1 367.8H617.7V372.3H613.1zM626.9 367.8H631.6V372.3H626.9zM663.9 367.8H668.5V372.3H663.9zM677.8 367.8H682.4V372.3H677.8zM696.2 367.8H700.9V372.3H696.2zM737.8 372.3H742.4V376.8H737.8zM816.4 372.3H821.0V376.8H816.4zM585.3 376.8H590.0V381.3H585.3zM714.7 376.8H719.3V381.3H714.7zM733.2 376.8H737.8V381.3H733.2zM770.2 376.8H774.8V381.3H770.2zM788.7 376.8H793.3V381.3H788.7zM562.2 381.3H566.9V385.9H562.2zM571.5 381.3H576.1V385.9H571.5zM580.7 381.3H585.3V385.9H580.7zM608.4 381.3H613.1V385.9H608.4zM636.2 381.3H640.8V385.9H636.2zM659.3 381.3H663.9V385.9H659.3zM631.6 385.9H636.2V390.4H631.6zM677.8 385.9H682.4V390.4H677.8zM714.7 385.9H719.3V390.4H714.7zM779.4 385.9H784.0V390.4H779.4zM585.3 394.9H590.0V399.4H585.3zM608.4 394.9H617.7V399.4H608.4zM668.5 394.9H673.1V399.4H668.5zM682.4 394.9H687.0V399.4H682.4zM765.6 394.9H770.2V399.4H765.6zM562.2 399.4H566.9V403.9H562.2zM580.7 403.9H585.3V408.5H580.7zM724.0 403.9H728.6V408.5H724.0zM756.3 403.9H760.9V408.5H756.3zM788.7 403.9H793.3V408.5H788.7zM797.9 403.9H802.5V408.5H797.9zM807.1 403.9H811.8V408.5H807.1zM622.3 408.5H626.9V413.0H622.3zM677.8 408.5H682.4V413.0H677.8zM687.0 408.5H691.6V413.0H687.0zM793.3 408.5H811.8V413.0H793.3zM594.6 413.0H599.2V417.5H594.6zM603.8 413.0H608.4V417.5H603.8zM645.4 413.0H650.0V417.5H645.4zM770.2 413.0H774.8V417.5H770.2zM784.0 413.0H788.7V417.5H784.0zM640.8 417.5H645.4V422.0H640.8zM696.2 417.5H700.9V422.0H696.2zM728.6 417.5H733.2V422.0H728.6zM760.9 417.5H765.6V422.0H760.9zM747.1 422.0H751.7V426.5H747.1zM580.7 426.5H585.3V431.1H580.7zM603.8 426.5H608.4V431.1H603.8zM626.9 426.5H631.6V431.1H626.9zM733.2 426.5H737.8V431.1H733.2zM566.9 431.1H571.5V435.6H566.9zM557.6 435.6H562.2V440.1H557.6zM617.7 435.6H622.3V440.1H617.7zM728.6 435.6H733.2V440.1H728.6zM659.3 440.1H663.9V444.6H659.3zM682.4 440.1H687.0V444.6H682.4zM696.2 440.1H705.5V444.6H696.2zM779.4 440.1H784.0V444.6H779.4zM807.1 440.1H811.8V444.6H807.1zM733.2 449.1H737.8V453.7H733.2zM747.1 449.1H751.7V453.7H747.1zM770.2 449.1H774.8V453.7H770.2zM793.3 449.1H797.9V453.7H793.3zM816.4 453.7H821.0V458.2H816.4zM765.6 458.2H770.2V462.7H765.6zM747.1 462.7H751.7V467.2H747.1zM788.7 462.7H793.3V467.2H788.7zM788.7 467.2H793.3V471.7H788.7zM816.4 467.2H821.0V471.7H816.4zM742.4 471.7H747.1V476.3H742.4zM760.9 471.7H765.6V476.3H760.9zM770.2 471.7H774.8V476.3H770.2zM816.4 471.7H821.0V476.3H816.4zM742.4 476.3H747.1V480.8H742.4zM793.3 476.3H797.9V480.8H793.3zM816.4 476.3H821.0V480.8H816.4zM774.8 480.8H779.4V485.3H774.8zM816.4 489.8H821.0V494.3H816.4zM816.4 494.3H821.0V498.9H816.4zM788.7 498.9H793.3V503.4H788.7zM807.1 503.4H811.8V507.9H807.1zM802.5 507.9H807.1V512.4H802.5zM793.3 512.4H802.5V516.9H793.3z"/>
<path fill="#0000e0" d="M562.2 304.5H566.9V309.0H562.2zM807.1 304.5H811.8V309.0H807.1zM553.0 309.0H557.6V313.5H553.0zM571.5 309.0H576.1V313.5H571.5zM626.9 309.0H631.6V313.5H626.9zM654.7 309.0H659.3V313.5H654.7zM626.9 313.5H631.6V318.1H626.9zM802.5 313.5H807.1V318.1H802.5zM553.0 318.1H557.6V322.6H553.0zM608.4 318.1H613.1V322.6H608.4zM640.8 322.6H650.0V327.1H640.8zM687.0 327.1H691.6V331.6H687.0zM774.8 327.1H779.4V331.6H774.8zM811.8 327.1H816.4V331.6H811.8zM640.8 331.6H645.4V336.1H640.8zM691.6 331.6H696.2V336.1H691.6zM714.7 331.6H719.3V336.1H714.7zM576.1 336.1H580.7V340.7H576.1zM617.7 336.1H622.3V340.7H617.7zM737.8 336.1H742.4V340.7H737.8zM807.1 336.1H811.8V340.7H807.1zM562.2 340.7H566.9V345.2H562.2zM585.3 340.7H590.0V345.2H585.3zM696.2 340.7H700.9V345.2H696.2zM765.6 340.7H770.2V345.2H765.6zM779.4 340.7H784.0V345.2H779.4zM603.8 345.2H608.4V349.7H603.8zM622.3 345.2H626.9V349.7H622.3zM737.8 345.2H742.4V349.7H737.8zM599.2 349.7H603.8V354.2H599.2zM608.4 349.7H617.7V354.2H608.4zM636.2 349.7H640.8V354.2H636.2zM733.2 349.7H737.8V354.2H733.2zM751.7 349.7H756.3V354.2H751.7zM603.8 354.2H608.4V358.7H603.8zM774.8 354.2H779.4V358.7H774.8zM631.6 358.7H636.2V363.3H631.6zM737.8 358.7H747.1V363.3H737.8zM802.5 358.7H811.8V363.3H802.5zM816.4 363.3H821.0V367.8H816.4zM566.9 367.8H571.5V372.3H566.9zM580.7 367.8H585.3V372.3H580.7zM636.2 367.8H640.8V372.3H636.2zM668.5 367.8H673.1V372.3H668.5zM562.2 372.3H566.9V376.8H562.2zM557.6 376.8H562.2V381.3H557.6zM566.9 376.8H571.5V381.3H566.9zM728.6 376.8H733.2V381.3H728.6zM640.8 381.3H645.4V385.9H640.8zM788.7 381.3H793.3V385.9H788.7zM590.0 385.9H594.6V390.4H590.0zM728.6 385.9H733.2V390.4H728.6zM640.8 390.4H645.4V394.9H640.8zM682.4 390.4H687.0V394.9H682.4zM788.7 390.4H793.3V394.9H788.7zM640.8 394.9H645.4V399.4H640.8zM724.0 394.9H728.6V399.4H724.0zM788.7 394.9H793.3V399.4H788.7zM691.6 399.4H696.2V403.9H691.6zM728.6 399.4H733.2V403.9H728.6zM682.4 403.9H687.0V408.5H682.4zM719.3 403.9H724.0V408.5H719.3zM765.6 403.9H770.2V408.5H765.6zM788.7 408.5H793.3V413.0H788.7zM677.8 413.0H682.4V417.5H677.8zM747.1 413.0H751.7V417.5H747.1zM797.9 413.0H802.5V417.5H797.9zM576.1 417.5H580.7V422.0H576.1zM663.9 417.5H668.5V422.0H663.9zM807.1 417.5H811.8V422.0H807.1zM668.5 422.0H673.1V426.5H668.5zM756.3 422.0H760.9V426.5H756.3zM816.4 422.0H821.0V426.5H816.4zM576.1 426.5H580.7V431.1H576.1zM663.9 426.5H668.5V431.1H663.9zM807.1 426.5H811.8V431.1H807.1zM571.5 431.1H576.1V435.6H571.5zM617.7 431.1H622.3V435.6H617.7zM659.3 431.1H663.9V435.6H659.3zM673.1 431.1H682.4V435.6H673.1zM691.6 431.1H696.2V435.6H691.6zM705.5 431.1H719.3V435.6H705.5zM728.6 431.1H733.2V435.6H728.6zM691.6 435.6H696.2V440.1H691.6zM779.4 435.6H784.0V440.1H779.4zM650.0 440.1H654.7V444.6H650.0zM737.8 440.1H742.4V444.6H737.8zM737.8 444.6H742.4V449.1H737.8zM710.1 449.1H714.7V453.7H710.1zM719.3 449.1H724.0V453.7H719.3zM765.6 449.1H770.2V453.7H765.6zM797.9 449.1H802.5V453.7H797.9zM784.0 453.7H788.7V458.2H784.0zM724.0 458.2H728.6V462.7H724.0zM733.2 462.7H737.8V467.2H733.2zM742.4 462.7H747.1V467.2H742.4zM751.7 467.2H756.3V471.7H751.7zM774.8 467.2H779.4V471.7H774.8zM765.6 485.3H770.2V489.8H765.6zM774.8 485.3H779.4V489.8H774.8zM742.4 489.8H747.1V494.3H742.4zM751.7 489.8H756.3V494.3H751.7zM784.0 489.8H788.7V494.3H784.0zM811.8 494.3H816.4V498.9H811.8zM747.1 498.9H751.7V503.4H747.1zM779.4 498.9H784.0V503.4H779.4zM807.1 498.9H811.8V503.4H807.1zM747.1 507.9H751.7V512.4H747.1zM788.7 507.9H793.3V512.4H788.7z"/>
<path fill="#0000eb" d="M650.0 304.5H654.7V309.0H650.0zM719.3 304.5H724.0V309.0H719.3zM774.8 304.5H779.4V309.0H774.8zM640.8 309.0H645.4V313.5H640.8zM663.9 309.0H668.5V313.5H663.9zM677.8 309.0H682.4V313.5H677.8zM594.6 313.5H599.2V318.1H594.6zM710.1 313.5H714.7V318.1H710.1zM599.2 318.1H603.8V322.6H599.2zM636.2 318.1H640.8V322.6H636.2zM793.3 318.1H797.9V322.6H793.3zM802.5 318.1H807.1V322.6H802.5zM590.0 327.1H594.6V331.6H590.0zM696.2 327.1H700.9V331.6H696.2zM756.3 327.1H760.9V331.6H756.3zM599.2 331.6H608.4V336.1H599.2zM751.7 331.6H756.3V336.1H751.7zM663.9 336.1H668.5V340.7H663.9zM747.1 336.1H751.7V340.7H747.1zM571.5 340.7H576.1V345.2H571.5zM705.5 340.7H710.1V345.2H705.5zM784.0 340.7H788.7V345.2H784.0zM645.4 345.2H650.0V349.7H645.4zM733.2 345.2H737.8V349.7H733.2zM765.6 345.2H770.2V349.7H765.6zM585.3 349.7H590.0V354.2H585.3zM654.7 354.2H659.3V358.7H654.7zM802.5 354.2H807.1V358.7H802.5zM562.2 358.7H566.9V363.3H562.2zM590.0 358.7H594.6V363.3H590.0zM571.5 363.3H580.7V367.8H571.5zM617.7 363.3H622.3V367.8H617.7zM654.7 363.3H659.3V367.8H654.7zM673.1 363.3H677.8V367.8H673.1zM682.4 363.3H687.0V367.8H682.4zM807.1 363.3H811.8V367.8H807.1zM659.3 367.8H663.9V372.3H659.3zM687.0 367.8H691.6V372.3H687.0zM816.4 367.8H821.0V372.3H816.4zM571.5 372.3H576.1V376.8H571.5zM626.9 372.3H631.6V376.8H626.9zM668.5 372.3H673.1V376.8H668.5zM590.0 376.8H594.6V381.3H590.0zM599.2 381.3H603.8V385.9H599.2zM710.1 385.9H714.7V390.4H710.1zM742.4 385.9H747.1V390.4H742.4zM603.8 390.4H608.4V394.9H603.8zM636.2 390.4H640.8V394.9H636.2zM654.7 390.4H659.3V394.9H654.7zM705.5 390.4H710.1V394.9H705.5zM774.8 390.4H779.4V394.9H774.8zM562.2 394.9H571.5V399.4H562.2zM687.0 394.9H691.6V399.4H687.0zM770.2 394.9H774.8V399.4H770.2zM779.4 394.9H784.0V399.4H779.4zM594.6 399.4H599.2V403.9H594.6zM603.8 399.4H608.4V403.9H603.8zM613.1 399.4H617.7V403.9H613.1zM811.8 399.4H816.4V403.9H811.8zM673.1 403.9H682.4V408.5H673.1zM603.8 408.5H608.4V413.0H603.8zM608.4 413.0H613.1V417.5H608.4zM557.6 417.5H562.2V422.0H557.6zM580.7 417.5H585.3V422.0H580.7zM571.5 422.0H576.1V426.5H571.5zM617.7 422.0H622.3V426.5H617.7zM687.0 422.0H691.6V426.5H687.0zM807.1 422.0H811.8V426.5H807.1zM594.6 426.5H599.2V431.1H594.6zM631.6 426.5H636.2V431.1H631.6zM751.7 426.5H756.3V431.1H751.7zM599.2 431.1H603.8V435.6H599.2zM566.9 435.6H571.5V440.1H566.9zM677.8 435.6H682.4V440.1H677.8zM714.7 435.6H719.3V440.1H714.7zM668.5 440.1H673.1V444.6H668.5zM705.5 440.1H710.1V444.6H705.5zM788.7 444.6H793.3V449.1H788.7zM797.9 444.6H802.5V449.1H797.9zM774.8 462.7H779.4V467.2H774.8zM733.2 467.2H737.8V471.7H733.2zM747.1 471.7H751.7V476.3H747.1zM793.3 471.7H797.9V476.3H793.3zM747.1 476.3H751.7V480.8H747.1zM811.8 476.3H816.4V480.8H811.8zM784.0 480.8H788.7V485.3H784.0zM788.7 485.3H793.3V489.8H788.7zM793.3 489.8H797.9V494.3H793.3zM737.8 494.3H742.4V498.9H737.8zM747.1 494.3H751.7V498.9H747.1zM765.6 494.3H770.2V498.9H765.6zM585.3 498.9H590.0V503.4H585.3zM603.8 498.9H608.4V503.4H603.8zM742.4 503.4H751.7V507.9H742.4zM770.2 507.9H774.8V512.4H770.2zM797.9 507.9H802.5V512.4H797.9z"/>
<path fill="#0000f6" d="M747.1 304.5H751.7V309.0H747.1zM585.3 309.0H590.0V313.5H585.3zM710.1 309.0H714.7V313.5H710.1zM733.2 309.0H737.8V313.5H733.2zM747.1 313.5H751.7V318.1H747.1zM765.6 313.5H770.2V318.1H765.6zM622.3 318.1H626.9V322.6H622.3zM668.5 318.1H673.1V322.6H668.5zM603.8 322.6H608.4V327.1H603.8zM626.9 327.1H631.6V331.6H626.9zM663.9 327.1H668.5V331.6H663.9zM673.1 331.6H677.8V336.1H673.1zM733.2 331.6H737.8V336.1H733.2zM640.8 340.7H645.4V345.2H640.8zM659.3 340.7H663.9V345.2H659.3zM668.5 340.7H673.1V345.2H668.5zM816.4 340.7H821.0V345.2H816.4zM654.7 345.2H659.3V349.7H654.7zM566.9 349.7H571.5V354.2H566.9zM576.1 349.7H580.7V354.2H576.1zM737.8 354.2H742.4V358.7H737.8zM576.1 358.7H580.7V363.3H576.1zM673.1 358.7H677.8V363.3H673.1zM608.4 363.3H613.1V367.8H608.4zM724.0 363.3H728.6V367.8H724.0zM599.2 372.3H603.8V376.8H599.2zM774.8 372.3H779.4V376.8H774.8zM553.0 376.8H557.6V381.3H553.0zM571.5 376.8H576.1V381.3H571.5zM566.9 381.3H571.5V385.9H566.9zM590.0 381.3H594.6V385.9H590.0zM691.6 381.3H696.2V385.9H691.6zM710.1 381.3H714.7V385.9H710.1zM724.0 381.3H728.6V385.9H724.0zM594.6 385.9H599.2V390.4H594.6zM608.4 385.9H613.1V390.4H608.4zM659.3 385.9H663.9V390.4H659.3zM663.9 390.4H668.5V394.9H663.9zM816.4 390.4H821.0V394.9H816.4zM580.7 394.9H585.3V399.4H580.7zM590.0 399.4H594.6V403.9H590.0zM737.8 403.9H742.4V408.5H737.8zM751.7 403.9H756.3V408.5H751.7zM645.4 408.5H650.0V413.0H645.4zM728.6 408.5H733.2V413.0H728.6zM742.4 408.5H747.1V413.0H742.4zM793.3 413.0H797.9V417.5H793.3zM816.4 413.0H821.0V417.5H816.4zM650.0 417.5H654.7V422.0H650.0zM677.8 417.5H682.4V422.0H677.8zM714.7 426.5H719.3V431.1H714.7zM696.2 431.1H700.9V435.6H696.2zM816.4 431.1H821.0V435.6H816.4zM622.3 435.6H626.9V440.1H622.3zM645.4 435.6H650.0V440.1H645.4zM807.1 435.6H811.8V440.1H807.1zM640.8 440.1H645.4V444.6H640.8zM742.4 440.1H747.1V444.6H742.4zM742.4 444.6H747.1V449.1H742.4zM710.1 453.7H714.7V458.2H710.1zM751.7 453.7H756.3V458.2H751.7zM737.8 458.2H747.1V462.7H737.8zM779.4 458.2H784.0V462.7H779.4zM802.5 467.2H807.1V471.7H802.5zM788.7 471.7H793.3V476.3H788.7zM807.1 471.7H811.8V476.3H807.1zM742.4 480.8H747.1V485.3H742.4zM797.9 485.3H802.5V489.8H797.9zM747.1 489.8H751.7V494.3H747.1zM751.7 494.3H756.3V498.9H751.7zM774.8 494.3H784.0V498.9H774.8zM751.7 498.9H756.3V503.4H751.7zM784.0 498.9H788.7V503.4H784.0zM816.4 503.4H821.0V507.9H816.4zM677.8 507.9H682.4V512.4H677.8zM784.0 507.9H788.7V512.4H784.0zM807.1 512.4H811.8V516.9H807.1z"/>
<path fill="#0001ff" d="M742.4 304.5H747.1V309.0H742.4zM742.4 309.0H747.1V313.5H742.4zM631.6 318.1H636.2V322.6H631.6zM793.3 327.1H797.9V331.6H793.3zM802.5 327.1H807.1V331.6H802.5zM770.2 331.6H774.8V336.1H770.2zM696.2 345.2H700.9V349.7H696.2zM594.6 354.2H599.2V358.7H594.6zM691.6 354.2H696.2V358.7H691.6zM793.3 354.2H797.9V358.7H793.3zM553.0 358.7H557.6V363.3H553.0zM557.6 363.3H562.2V367.8H557.6zM705.5 363.3H710.1V367.8H705.5zM631.6 372.3H636.2V376.8H631.6zM760.9 376.8H765.6V381.3H760.9zM585.3 381.3H590.0V385.9H585.3zM636.2 385.9H640.8V390.4H636.2zM654.7 385.9H659.3V390.4H654.7zM751.7 385.9H756.3V390.4H751.7zM700.9 390.4H705.5V394.9H700.9zM747.1 390.4H751.7V394.9H747.1zM770.2 390.4H774.8V394.9H770.2zM553.0 399.4H557.6V403.9H553.0zM687.0 403.9H691.6V408.5H687.0zM663.9 408.5H668.5V413.0H663.9zM770.2 408.5H774.8V413.0H770.2zM590.0 417.5H594.6V422.0H590.0zM617.7 417.5H622.3V422.0H617.7zM613.1 426.5H617.7V431.1H613.1zM779.4 426.5H784.0V431.1H779.4zM784.0 431.1H788.7V435.6H784.0zM626.9 440.1H631.6V444.6H626.9zM696.2 444.6H700.9V449.1H696.2zM705.5 444.6H710.1V449.1H705.5zM756.3 444.6H760.9V449.1H756.3zM802.5 462.7H807.1V467.2H802.5zM807.1 467.2H811.8V471.7H807.1zM737.8 471.7H742.4V476.3H737.8zM811.8 471.7H816.4V476.3H811.8zM737.8 476.3H742.4V480.8H737.8zM793.3 480.8H797.9V485.3H793.3zM742.4 494.3H747.1V498.9H742.4zM807.1 507.9H811.8V512.4H807.1zM816.4 507.9H821.0V512.4H816.4z"/>
<path fill="#000cff" d="M603.8 304.5H608.4V309.0H603.8zM650.0 309.0H654.7V313.5H650.0zM576.1 318.1H580.7V322.6H576.1zM691.6 327.1H696.2V331.6H691.6zM677.8 336.1H682.4V340.7H677.8zM640.8 345.2H645.4V349.7H640.8zM742.4 345.2H747.1V349.7H742.4zM756.3 345.2H760.9V349.7H756.3zM779.4 345.2H784.0V349.7H779.4zM645.4 349.7H650.0V354.2H645.4zM737.8 367.8H742.4V372.3H737.8zM654.7 372.3H659.3V376.8H654.7zM663.9 381.3H668.5V385.9H663.9zM719.3 381.3H724.0V385.9H719.3zM760.9 381.3H765.6V385.9H760.9zM590.0 403.9H594.6V408.5H590.0zM705.5 403.9H710.1V408.5H705.5zM553.0 408.5H557.6V413.0H553.0zM663.9 413.0H668.5V417.5H663.9zM719.3 422.0H724.0V426.5H719.3zM751.7 422.0H756.3V426.5H751.7zM654.7 426.5H659.3V431.1H654.7zM691.6 426.5H696.2V431.1H691.6zM622.3 431.1H626.9V435.6H622.3zM663.9 431.1H668.5V435.6H663.9zM636.2 440.1H640.8V444.6H636.2zM811.8 440.1H816.4V444.6H811.8zM710.1 444.6H714.7V449.1H710.1zM816.4 458.2H821.0V462.7H816.4zM765.6 467.2H770.2V471.7H765.6zM733.2 471.7H737.8V476.3H733.2zM737.8 480.8H742.4V485.3H737.8zM747.1 485.3H751.7V489.8H747.1zM742.4 507.9H747.1V512.4H742.4zM765.6 507.9H770.2V512.4H765.6zM737.8 512.4H742.4V516.9H737.8z"/>
<path fill="#0017ff" d="M576.1 304.5H580.7V309.0H576.1zM733.2 327.1H737.8V331.6H733.2zM553.0 331.6H557.6V336.1H553.0zM700.9 336.1H705.5V340.7H700.9zM631.6 345.2H636.2V349.7H631.6zM613.1 354.2H617.7V358.7H613.1zM585.3 367.8H590.0V372.3H585.3zM640.8 372.3H645.4V376.8H640.8zM742.4 376.8H747.1V381.3H742.4zM811.8 376.8H816.4V381.3H811.8zM691.6 390.4H696.2V394.9H691.6zM784.0 399.4H788.7V403.9H784.0zM691.6 403.9H696.2V408.5H691.6zM594.6 408.5H599.2V413.0H594.6zM802.5 413.0H807.1V417.5H802.5zM774.8 422.0H779.4V426.5H774.8zM654.7 431.1H659.3V435.6H654.7zM765.6 435.6H770.2V440.1H765.6zM793.3 444.6H797.9V449.1H793.3zM760.9 449.1H765.6V453.7H760.9zM756.3 453.7H760.9V458.2H756.3zM788.7 453.7H793.3V458.2H788.7zM728.6 471.7H733.2V476.3H728.6zM733.2 480.8H737.8V485.3H733.2zM590.0 494.3H594.6V498.9H590.0zM779.4 512.4H784.0V516.9H779.4zM733.2 521.5H737.8V526.0H733.2z"/>
<path fill="#0022ff" d="M737.8 309.0H742.4V313.5H737.8zM687.0 331.6H691.6V336.1H687.0zM710.1 336.1H714.7V340.7H710.1zM802.5 367.8H807.1V372.3H802.5zM659.3 372.3H663.9V376.8H659.3zM571.5 385.9H576.1V390.4H571.5zM631.6 422.0H636.2V426.5H631.6zM654.7 422.0H659.3V426.5H654.7zM553.0 431.1H557.6V435.6H553.0zM719.3 453.7H724.0V458.2H719.3zM728.6 453.7H733.2V458.2H728.6zM797.9 458.2H802.5V462.7H797.9zM807.1 462.7H811.8V467.2H807.1zM788.7 480.8H793.3V485.3H788.7zM566.9 485.3H571.5V489.8H566.9zM742.4 485.3H747.1V489.8H742.4zM802.5 489.8H807.1V494.3H802.5zM733.2 507.9H737.8V512.4H733.2zM733.2 516.9H737.8V521.5H733.2z"/>
<path fill="#002cff" d="M650.0 313.5H654.7V318.1H650.0zM797.9 336.1H802.5V340.7H797.9zM663.9 354.2H668.5V358.7H663.9zM553.0 417.5H557.6V422.0H553.0zM760.9 476.3H765.6V480.8H760.9zM737.8 485.3H742.4V489.8H737.8zM737.8 489.8H742.4V494.3H737.8zM742.4 498.9H747.1V503.4H742.4zM737.8 503.4H742.4V507.9H737.8zM557.6 521.5H562.2V526.0H557.6z"/>
<path fill="#0037ff" d="M807.1 313.5H811.8V318.1H807.1zM691.6 345.2H696.2V349.7H691.6zM599.2 358.7H603.8V363.3H599.2zM719.3 458.2H724.0V462.7H719.3zM760.9 458.2H765.6V462.7H760.9zM733.2 476.3H737.8V480.8H733.2zM788.7 476.3H793.3V480.8H788.7zM733.2 489.8H737.8V494.3H733.2zM737.8 507.9H742.4V512.4H737.8zM728.6 516.9H733.2V521.5H728.6z"/>
<path fill="#0042ff" d="M636.2 354.2H640.8V358.7H636.2zM700.9 394.9H705.5V399.4H700.9zM682.4 399.4H687.0V403.9H682.4zM576.1 422.0H580.7V426.5H576.1zM724.0 462.7H728.6V467.2H724.0zM728.6 467.2H733.2V471.7H728.6zM728.6 480.8H733.2V485.3H728.6zM728.6 498.9H742.4V503.4H728.6zM724.0 507.9H728.6V512.4H724.0z"/>
<path fill="#004dff" d="M700.9 309.0H705.5V313.5H700.9zM770.2 403.9H774.8V408.5H770.2zM728.6 485.3H737.8V489.8H728.6zM599.2 489.8H603.8V494.3H599.2zM733.2 494.3H737.8V498.9H733.2zM566.9 507.9H571.5V512.4H566.9zM733.2 512.4H737.8V516.9H733.2zM728.6 521.5H733.2V526.0H728.6z"/>
<path fill="#0057ff" d="M557.6 345.2H562.2V349.7H557.6zM622.3 417.5H626.9V422.0H622.3zM724.0 480.8H728.6V485.3H724.0zM733.2 503.4H737.8V507.9H733.2zM724.0 512.4H728.6V516.9H724.0zM557.6 516.9H562.2V521.5H557.6zM724.0 516.9H728.6V521.5H724.0z"/>
<path fill="#0062ff" d="M553.0 494.3H557.6V498.9H553.0zM728.6 494.3H733.2V498.9H728.6zM557.6 498.9H562.2V503.4H557.6zM566.9 498.9H571.5V503.4H566.9zM728.6 512.4H733.2V516.9H728.6zM719.3 521.5H724.0V526.0H719.3z"/>
<path fill="#006dff" d="M590.0 426.5H594.6V431.1H590.0zM714.7 458.2H719.3V462.7H714.7zM728.6 503.4H733.2V507.9H728.6zM553.0 507.9H562.2V512.4H553.0zM562.2 516.9H566.9V521.5H562.2zM724.0 521.5H728.6V526.0H724.0z"/>
<path fill="#0077ff" d="M719.3 462.7H724.0V467.2H719.3zM719.3 467.2H728.6V471.7H719.3zM724.0 471.7H728.6V476.3H724.0zM553.0 485.3H557.6V489.8H553.0zM728.6 489.8H733.2V494.3H728.6zM719.3 507.9H724.0V512.4H719.3zM728.6 507.9H733.2V512.4H728.6zM714.7 512.4H719.3V516.9H714.7zM553.0 516.9H557.6V521.5H553.0zM714.7 516.9H719.3V521.5H714.7z"/>
<path fill="#0082ff" d="M557.6 444.6H562.2V449.1H557.6zM553.0 453.7H557.6V458.2H553.0zM714.7 480.8H719.3V485.3H714.7zM553.0 503.4H562.2V507.9H553.0zM719.3 503.4H728.6V507.9H719.3zM562.2 507.9H566.9V512.4H562.2zM566.9 521.5H571.5V526.0H566.9z"/>
<path fill="#008dff" d="M562.2 440.1H566.9V444.6H562.2zM553.0 467.2H557.6V471.7H553.0zM562.2 476.3H566.9V480.8H562.2zM728.6 476.3H733.2V480.8H728.6zM557.6 485.3H562.2V489.8H557.6zM724.0 498.9H728.6V503.4H724.0zM562.2 503.4H566.9V507.9H562.2zM553.0 512.4H557.6V516.9H553.0zM553.0 521.5H557.6V526.0H553.0z"/>
<path fill="#0098ff" d="M566.9 440.1H571.5V444.6H566.9zM553.0 444.6H557.6V449.1H553.0zM557.6 467.2H562.2V471.7H557.6zM553.0 489.8H557.6V494.3H553.0zM705.5 503.4H710.1V507.9H705.5zM719.3 516.9H724.0V521.5H719.3z"/>
<path fill="#00a2ff" d="M566.9 444.6H571.5V449.1H566.9zM719.3 476.3H724.0V480.8H719.3zM724.0 489.8H728.6V494.3H724.0zM566.9 512.4H571.5V516.9H566.9zM705.5 512.4H710.1V516.9H705.5zM571.5 516.9H576.1V521.5H571.5zM705.5 521.5H710.1V526.0H705.5z"/>
<path fill="#00adff" d="M566.9 453.7H571.5V458.2H566.9zM705.5 453.7H710.1V458.2H705.5zM710.1 458.2H714.7V462.7H710.1zM553.0 471.7H557.6V476.3H553.0zM553.0 480.8H557.6V485.3H553.0zM719.3 485.3H728.6V489.8H719.3zM710.1 507.9H714.7V512.4H710.1zM719.3 512.4H724.0V516.9H719.3zM710.1 521.5H714.7V526.0H710.1z"/>
<path fill="#00b8ff" d="M576.1 444.6H580.7V449.1H576.1zM557.6 453.7H562.2V458.2H557.6zM691.6 453.7H696.2V458.2H691.6zM553.0 462.7H557.6V467.2H553.0zM557.6 476.3H562.2V480.8H557.6zM557.6 480.8H562.2V485.3H557.6zM557.6 494.3H562.2V498.9H557.6zM724.0 494.3H728.6V498.9H724.0zM557.6 512.4H562.2V516.9H557.6z"/>
<path fill="#00c3ff" d="M571.5 444.6H576.1V449.1H571.5zM691.6 444.6H696.2V449.1H691.6zM562.2 449.1H566.9V453.7H562.2zM719.3 471.7H724.0V476.3H719.3zM553.0 476.3H557.6V480.8H553.0zM696.2 480.8H700.9V485.3H696.2zM562.2 485.3H566.9V489.8H562.2zM714.7 485.3H719.3V489.8H714.7zM562.2 494.3H566.9V498.9H562.2zM719.3 494.3H724.0V498.9H719.3zM553.0 498.9H557.6V503.4H553.0zM562.2 498.9H566.9V503.4H562.2zM566.9 503.4H571.5V507.9H566.9zM700.9 507.9H705.5V512.4H700.9zM714.7 507.9H719.3V512.4H714.7zM571.5 512.4H576.1V516.9H571.5zM562.2 521.5H566.9V526.0H562.2z"/>
<path fill="#00cdff" d="M562.2 444.6H566.9V449.1H562.2zM636.2 444.6H640.8V449.1H636.2zM700.9 458.2H710.1V462.7H700.9zM566.9 467.2H571.5V471.7H566.9zM566.9 471.7H571.5V476.3H566.9zM562.2 480.8H566.9V485.3H562.2zM719.3 489.8H724.0V494.3H719.3zM566.9 494.3H571.5V498.9H566.9zM576.1 494.3H580.7V498.9H576.1zM710.1 498.9H714.7V503.4H710.1zM576.1 516.9H580.7V521.5H576.1zM705.5 516.9H710.1V521.5H705.5z"/>
<path fill="#00d8ff" d="M571.5 440.1H576.1V444.6H571.5zM553.0 449.1H557.6V453.7H553.0zM566.9 458.2H571.5V462.7H566.9zM557.6 462.7H562.2V467.2H557.6zM714.7 503.4H719.3V507.9H714.7zM599.2 507.9H603.8V512.4H599.2zM705.5 507.9H710.1V512.4H705.5zM562.2 512.4H566.9V516.9H562.2zM576.1 512.4H580.7V516.9H576.1zM566.9 516.9H571.5V521.5H566.9zM710.1 516.9H714.7V521.5H710.1zM714.7 521.5H719.3V526.0H714.7z"/>
<path fill="#00e3ff" d="M580.7 431.1H585.3V435.6H580.7zM557.6 471.7H562.2V476.3H557.6zM566.9 476.3H571.5V480.8H566.9zM710.1 476.3H714.7V480.8H710.1zM724.0 476.3H728.6V480.8H724.0zM571.5 485.3H576.1V489.8H571.5zM562.2 489.8H566.9V494.3H562.2zM571.5 489.8H576.1V494.3H571.5zM710.1 489.8H714.7V494.3H710.1zM687.0 503.4H691.6V507.9H687.0zM599.2 516.9H603.8V521.5H599.2zM571.5 521.5H580.7V526.0H571.5z"/>
<path fill="#00eeff" d="M599.2 435.6H603.8V440.1H599.2zM571.5 449.1H576.1V453.7H571.5zM553.0 458.2H562.2V462.7H553.0zM576.1 458.2H580.7V462.7H576.1zM576.1 467.2H580.7V471.7H576.1zM714.7 467.2H719.3V471.7H714.7zM719.3 480.8H724.0V485.3H719.3zM590.0 512.4H594.6V516.9H590.0zM580.7 521.5H585.3V526.0H580.7zM659.3 521.5H663.9V526.0H659.3z"/>
<path fill="#00f8ff" d="M585.3 426.5H590.0V431.1H585.3zM566.9 449.1H571.5V453.7H566.9zM654.7 449.1H659.3V453.7H654.7zM710.1 480.8H714.7V485.3H710.1zM696.2 485.3H700.9V489.8H696.2zM557.6 489.8H562.2V494.3H557.6zM571.5 503.4H580.7V507.9H571.5zM617.7 507.9H622.3V512.4H617.7zM608.4 516.9H613.1V521.5H608.4z"/>
<path fill="#04fffb" d="M585.3 431.1H590.0V435.6H585.3zM682.4 444.6H687.0V449.1H682.4zM594.6 449.1H599.2V453.7H594.6zM631.6 449.1H636.2V453.7H631.6zM622.3 453.7H626.9V458.2H622.3zM571.5 471.7H580.7V476.3H571.5zM700.9 503.4H705.5V507.9H700.9zM626.9 521.5H631.6V526.0H626.9z"/>
<path fill="#0ffff0" d="M557.6 449.1H562.2V453.7H557.6zM585.3 458.2H590.0V462.7H585.3zM566.9 462.7H571.5V467.2H566.9zM714.7 462.7H719.3V467.2H714.7zM700.9 467.2H705.5V471.7H700.9zM571.5 480.8H576.1V485.3H571.5zM673.1 485.3H677.8V489.8H673.1zM650.0 498.9H654.7V503.4H650.0zM714.7 498.9H724.0V503.4H714.7zM710.1 503.4H714.7V507.9H710.1zM668.5 507.9H673.1V512.4H668.5zM700.9 512.4H705.5V516.9H700.9zM594.6 516.9H599.2V521.5H594.6zM645.4 516.9H650.0V521.5H645.4zM700.9 516.9H705.5V521.5H700.9zM636.2 521.5H640.8V526.0H636.2zM682.4 521.5H687.0V526.0H682.4zM700.9 521.5H705.5V526.0H700.9z"/>
<path fill="#1affe5" d="M580.7 435.6H585.3V440.1H580.7zM590.0 453.7H594.6V458.2H590.0zM562.2 458.2H566.9V462.7H562.2zM571.5 462.7H576.1V467.2H571.5zM705.5 462.7H710.1V467.2H705.5zM571.5 467.2H576.1V471.7H571.5zM562.2 471.7H566.9V476.3H562.2zM705.5 471.7H714.7V476.3H705.5zM705.5 485.3H710.1V489.8H705.5zM700.9 489.8H705.5V494.3H700.9zM696.2 494.3H700.9V498.9H696.2zM705.5 494.3H710.1V498.9H705.5zM650.0 503.4H654.7V507.9H650.0zM580.7 512.4H585.3V516.9H580.7zM710.1 512.4H714.7V516.9H710.1z"/>
<path fill="#24ffdb" d="M580.7 440.1H585.3V444.6H580.7zM585.3 444.6H594.6V449.1H585.3zM603.8 449.1H608.4V453.7H603.8zM613.1 449.1H617.7V453.7H613.1zM626.9 449.1H631.6V453.7H626.9zM710.1 462.7H714.7V467.2H710.1zM585.3 467.2H590.0V471.7H585.3zM571.5 476.3H576.1V480.8H571.5zM594.6 480.8H599.2V485.3H594.6zM714.7 494.3H719.3V498.9H714.7zM571.5 498.9H580.7V503.4H571.5zM571.5 507.9H576.1V512.4H571.5zM682.4 507.9H687.0V512.4H682.4zM626.9 512.4H631.6V516.9H626.9zM687.0 521.5H691.6V526.0H687.0z"/>
<path fill="#2fffd0" d="M608.4 444.6H613.1V449.1H608.4zM645.4 444.6H650.0V449.1H645.4zM576.1 449.1H580.7V453.7H576.1zM585.3 449.1H590.0V453.7H585.3zM636.2 449.1H640.8V453.7H636.2zM696.2 449.1H700.9V453.7H696.2zM562.2 453.7H566.9V458.2H562.2zM594.6 453.7H599.2V458.2H594.6zM608.4 458.2H613.1V462.7H608.4zM714.7 471.7H719.3V476.3H714.7zM603.8 485.3H608.4V489.8H603.8zM700.9 494.3H705.5V498.9H700.9zM622.3 503.4H626.9V507.9H622.3zM576.1 507.9H580.7V512.4H576.1zM613.1 507.9H617.7V512.4H613.1zM599.2 512.4H608.4V516.9H599.2zM650.0 516.9H654.7V521.5H650.0zM585.3 521.5H590.0V526.0H585.3zM594.6 521.5H599.2V526.0H594.6zM603.8 521.5H608.4V526.0H603.8z"/>
<path fill="#3affc5" d="M585.3 440.1H590.0V444.6H585.3zM613.1 453.7H617.7V458.2H613.1zM700.9 462.7H705.5V467.2H700.9zM562.2 467.2H566.9V471.7H562.2zM594.6 467.2H599.2V471.7H594.6zM590.0 471.7H594.6V476.3H590.0zM714.7 476.3H719.3V480.8H714.7zM691.6 485.3H696.2V489.8H691.6zM571.5 494.3H576.1V498.9H571.5zM590.0 498.9H594.6V503.4H590.0zM599.2 498.9H603.8V503.4H599.2zM700.9 498.9H705.5V503.4H700.9zM590.0 503.4H594.6V507.9H590.0zM585.3 507.9H590.0V512.4H585.3zM580.7 516.9H585.3V521.5H580.7zM631.6 516.9H636.2V521.5H631.6z"/>
<path fill="#44ffbb" d="M599.2 444.6H603.8V449.1H599.2zM677.8 444.6H682.4V449.1H677.8zM710.1 467.2H714.7V471.7H710.1zM650.0 476.3H654.7V480.8H650.0zM696.2 476.3H700.9V480.8H696.2zM566.9 480.8H571.5V485.3H566.9zM710.1 485.3H714.7V489.8H710.1zM696.2 498.9H700.9V503.4H696.2zM705.5 498.9H710.1V503.4H705.5zM580.7 507.9H585.3V512.4H580.7zM594.6 507.9H599.2V512.4H594.6zM594.6 512.4H599.2V516.9H594.6zM682.4 512.4H687.0V516.9H682.4zM696.2 512.4H700.9V516.9H696.2zM599.2 521.5H603.8V526.0H599.2z"/>
<path fill="#4fffb0" d="M613.1 444.6H617.7V449.1H613.1zM650.0 444.6H654.7V449.1H650.0zM576.1 453.7H590.0V458.2H576.1zM617.7 453.7H622.3V458.2H617.7zM562.2 462.7H566.9V467.2H562.2zM590.0 467.2H594.6V471.7H590.0zM691.6 471.7H696.2V476.3H691.6zM705.5 476.3H710.1V480.8H705.5zM580.7 489.8H585.3V494.3H580.7zM705.5 489.8H710.1V494.3H705.5zM710.1 494.3H714.7V498.9H710.1zM673.1 498.9H677.8V503.4H673.1zM580.7 503.4H585.3V507.9H580.7zM645.4 507.9H650.0V512.4H645.4zM585.3 516.9H590.0V521.5H585.3zM663.9 516.9H668.5V521.5H663.9zM677.8 516.9H682.4V521.5H677.8z"/>
<path fill="#5affa5" d="M576.1 440.1H580.7V444.6H576.1zM594.6 440.1H599.2V444.6H594.6zM617.7 449.1H626.9V453.7H617.7zM599.2 453.7H603.8V458.2H599.2zM622.3 458.2H626.9V462.7H622.3zM599.2 462.7H603.8V467.2H599.2zM580.7 467.2H585.3V471.7H580.7zM705.5 467.2H710.1V471.7H705.5zM682.4 471.7H687.0V476.3H682.4zM617.7 476.3H622.3V480.8H617.7zM580.7 480.8H585.3V485.3H580.7zM608.4 512.4H613.1V516.9H608.4zM613.1 516.9H617.7V521.5H613.1zM654.7 521.5H659.3V526.0H654.7z"/>
<path fill="#65ff9a" d="M594.6 431.1H599.2V435.6H594.6zM599.2 440.1H603.8V444.6H599.2zM603.8 444.6H608.4V449.1H603.8zM580.7 449.1H585.3V453.7H580.7zM640.8 449.1H645.4V453.7H640.8zM663.9 449.1H668.5V453.7H663.9zM650.0 453.7H654.7V458.2H650.0zM677.8 453.7H682.4V458.2H677.8zM645.4 462.7H650.0V467.2H645.4zM594.6 476.3H599.2V480.8H594.6zM705.5 480.8H710.1V485.3H705.5zM566.9 489.8H571.5V494.3H566.9zM714.7 489.8H719.3V494.3H714.7zM599.2 494.3H603.8V498.9H599.2zM691.6 503.4H696.2V507.9H691.6zM626.9 507.9H631.6V512.4H626.9zM585.3 512.4H590.0V516.9H585.3zM682.4 516.9H687.0V521.5H682.4zM640.8 521.5H645.4V526.0H640.8zM650.0 521.5H654.7V526.0H650.0zM691.6 521.5H696.2V526.0H691.6z"/>
<path fill="#6fff90" d="M585.3 435.6H590.0V440.1H585.3zM590.0 440.1H594.6V444.6H590.0zM640.8 444.6H645.4V449.1H640.8zM687.0 449.1H691.6V453.7H687.0zM571.5 453.7H576.1V458.2H571.5zM603.8 453.7H608.4V458.2H603.8zM668.5 453.7H673.1V458.2H668.5zM696.2 453.7H700.9V458.2H696.2zM617.7 458.2H622.3V462.7H617.7zM631.6 458.2H636.2V462.7H631.6zM613.1 462.7H617.7V467.2H613.1zM576.1 480.8H580.7V485.3H576.1zM645.4 480.8H650.0V485.3H645.4zM687.0 480.8H696.2V485.3H687.0zM645.4 485.3H650.0V489.8H645.4zM673.1 489.8H677.8V494.3H673.1zM603.8 503.4H608.4V507.9H603.8zM590.0 507.9H594.6V512.4H590.0zM691.6 507.9H700.9V512.4H691.6zM645.4 512.4H650.0V516.9H645.4zM617.7 516.9H622.3V521.5H617.7zM691.6 516.9H696.2V521.5H691.6zM696.2 521.5H700.9V526.0H696.2z"/>
<path fill="#7aff85" d="M631.6 444.6H636.2V449.1H631.6zM608.4 449.1H613.1V453.7H608.4zM687.0 453.7H691.6V458.2H687.0zM700.9 453.7H705.5V458.2H700.9zM682.4 458.2H687.0V462.7H682.4zM696.2 458.2H700.9V462.7H696.2zM585.3 462.7H590.0V467.2H585.3zM594.6 471.7H599.2V476.3H594.6zM622.3 480.8H626.9V485.3H622.3zM663.9 480.8H668.5V485.3H663.9zM590.0 485.3H594.6V489.8H590.0zM599.2 485.3H603.8V489.8H599.2zM576.1 489.8H580.7V494.3H576.1zM585.3 489.8H590.0V494.3H585.3zM585.3 494.3H590.0V498.9H585.3zM585.3 503.4H590.0V507.9H585.3zM636.2 503.4H640.8V507.9H636.2zM673.1 503.4H677.8V507.9H673.1zM687.0 512.4H691.6V516.9H687.0z"/>
<path fill="#85ff7a" d="M590.0 431.1H594.6V435.6H590.0zM631.6 453.7H636.2V458.2H631.6zM626.9 458.2H631.6V462.7H626.9zM640.8 467.2H645.4V471.7H640.8zM654.7 467.2H659.3V471.7H654.7zM687.0 467.2H691.6V471.7H687.0zM576.1 476.3H580.7V480.8H576.1zM599.2 476.3H603.8V480.8H599.2zM603.8 480.8H608.4V485.3H603.8zM603.8 494.3H608.4V498.9H603.8zM636.2 494.3H640.8V498.9H636.2zM677.8 494.3H682.4V498.9H677.8zM682.4 498.9H687.0V503.4H682.4zM603.8 507.9H608.4V512.4H603.8zM636.2 507.9H640.8V512.4H636.2zM659.3 512.4H663.9V516.9H659.3zM696.2 516.9H700.9V521.5H696.2zM673.1 521.5H677.8V526.0H673.1z"/>
<path fill="#90ff6f" d="M594.6 435.6H599.2V440.1H594.6zM580.7 444.6H585.3V449.1H580.7zM687.0 444.6H691.6V449.1H687.0zM668.5 449.1H673.1V453.7H668.5zM626.9 453.7H631.6V458.2H626.9zM603.8 458.2H608.4V462.7H603.8zM687.0 458.2H691.6V462.7H687.0zM608.4 462.7H613.1V467.2H608.4zM691.6 462.7H696.2V467.2H691.6zM608.4 471.7H613.1V476.3H608.4zM580.7 476.3H585.3V480.8H580.7zM640.8 476.3H645.4V480.8H640.8zM576.1 485.3H580.7V489.8H576.1zM590.0 489.8H594.6V494.3H590.0zM654.7 489.8H659.3V494.3H654.7zM677.8 489.8H682.4V494.3H677.8zM580.7 498.9H585.3V503.4H580.7zM594.6 498.9H599.2V503.4H594.6zM599.2 503.4H603.8V507.9H599.2zM696.2 503.4H700.9V507.9H696.2zM608.4 507.9H613.1V512.4H608.4zM663.9 507.9H668.5V512.4H663.9zM654.7 512.4H659.3V516.9H654.7zM622.3 521.5H626.9V526.0H622.3z"/>
<path fill="#9aff65" d="M590.0 435.6H594.6V440.1H590.0zM659.3 444.6H663.9V449.1H659.3zM571.5 458.2H576.1V462.7H571.5zM691.6 458.2H696.2V462.7H691.6zM576.1 462.7H580.7V467.2H576.1zM590.0 462.7H594.6V467.2H590.0zM580.7 471.7H585.3V476.3H580.7zM640.8 471.7H645.4V476.3H640.8zM590.0 476.3H594.6V480.8H590.0zM663.9 476.3H668.5V480.8H663.9zM585.3 480.8H590.0V485.3H585.3zM687.0 485.3H691.6V489.8H687.0zM622.3 489.8H626.9V494.3H622.3zM640.8 498.9H645.4V503.4H640.8zM677.8 498.9H682.4V503.4H677.8zM617.7 503.4H622.3V507.9H617.7zM691.6 512.4H696.2V516.9H691.6zM590.0 516.9H594.6V521.5H590.0zM626.9 516.9H631.6V521.5H626.9zM636.2 516.9H640.8V521.5H636.2zM668.5 516.9H673.1V521.5H668.5zM590.0 521.5H594.6V526.0H590.0z"/>
<path fill="#a5ff5a" d="M594.6 444.6H599.2V449.1H594.6zM654.7 444.6H659.3V449.1H654.7zM663.9 444.6H668.5V449.1H663.9zM645.4 449.1H650.0V453.7H645.4zM659.3 449.1H663.9V453.7H659.3zM682.4 449.1H687.0V453.7H682.4zM682.4 453.7H687.0V458.2H682.4zM590.0 458.2H594.6V462.7H590.0zM645.4 467.2H650.0V471.7H645.4zM626.9 476.3H631.6V480.8H626.9zM673.1 476.3H677.8V480.8H673.1zM580.7 485.3H590.0V489.8H580.7zM594.6 485.3H599.2V489.8H594.6zM650.0 489.8H654.7V494.3H650.0zM594.6 494.3H599.2V498.9H594.6zM631.6 498.9H636.2V503.4H631.6zM631.6 507.9H636.2V512.4H631.6zM687.0 507.9H691.6V512.4H687.0zM673.1 512.4H677.8V516.9H673.1zM659.3 516.9H663.9V521.5H659.3z"/>
<path fill="#b0ff4f" d="M673.1 449.1H677.8V453.7H673.1zM663.9 453.7H668.5V458.2H663.9zM580.7 458.2H585.3V462.7H580.7zM654.7 458.2H659.3V462.7H654.7zM580.7 462.7H585.3V467.2H580.7zM650.0 462.7H654.7V467.2H650.0zM696.2 462.7H700.9V467.2H696.2zM631.6 467.2H636.2V471.7H631.6zM696.2 467.2H700.9V471.7H696.2zM585.3 471.7H590.0V476.3H585.3zM599.2 471.7H603.8V476.3H599.2zM631.6 471.7H636.2V476.3H631.6zM687.0 471.7H691.6V476.3H687.0zM622.3 476.3H626.9V480.8H622.3zM636.2 476.3H640.8V480.8H636.2zM617.7 480.8H622.3V485.3H617.7zM700.9 480.8H705.5V485.3H700.9zM659.3 485.3H663.9V489.8H659.3zM603.8 489.8H608.4V494.3H603.8zM659.3 489.8H663.9V494.3H659.3zM687.0 494.3H691.6V498.9H687.0zM663.9 498.9H668.5V503.4H663.9zM687.0 498.9H696.2V503.4H687.0zM594.6 503.4H599.2V507.9H594.6zM677.8 512.4H682.4V516.9H677.8zM603.8 516.9H608.4V521.5H603.8zM673.1 516.9H677.8V521.5H673.1z"/>
<path fill="#bbff44" d="M673.1 444.6H677.8V449.1H673.1zM599.2 449.1H603.8V453.7H599.2zM645.4 453.7H650.0V458.2H645.4zM654.7 453.7H659.3V458.2H654.7zM677.8 458.2H682.4V462.7H677.8zM603.8 462.7H608.4V467.2H603.8zM659.3 462.7H663.9V467.2H659.3zM659.3 471.7H663.9V476.3H659.3zM700.9 471.7H705.5V476.3H700.9zM691.6 476.3H696.2V480.8H691.6zM613.1 480.8H617.7V485.3H613.1zM613.1 489.8H617.7V494.3H613.1zM645.4 489.8H650.0V494.3H645.4zM580.7 494.3H585.3V498.9H580.7zM622.3 494.3H626.9V498.9H622.3zM682.4 494.3H687.0V498.9H682.4zM608.4 498.9H613.1V503.4H608.4zM668.5 498.9H673.1V503.4H668.5zM631.6 512.4H636.2V516.9H631.6zM663.9 512.4H668.5V516.9H663.9zM631.6 521.5H636.2V526.0H631.6z"/>
<path fill="#c5ff3a" d="M691.6 449.1H696.2V453.7H691.6zM659.3 453.7H663.9V458.2H659.3zM640.8 458.2H645.4V462.7H640.8zM640.8 462.7H645.4V467.2H640.8zM608.4 467.2H613.1V471.7H608.4zM622.3 467.2H631.6V471.7H622.3zM691.6 467.2H696.2V471.7H691.6zM696.2 471.7H700.9V476.3H696.2zM608.4 476.3H613.1V480.8H608.4zM654.7 476.3H659.3V480.8H654.7zM677.8 476.3H682.4V480.8H677.8zM700.9 476.3H705.5V480.8H700.9zM668.5 480.8H673.1V485.3H668.5zM613.1 494.3H617.7V498.9H613.1zM613.1 498.9H617.7V503.4H613.1zM608.4 503.4H613.1V507.9H608.4zM673.1 507.9H677.8V512.4H673.1zM668.5 521.5H673.1V526.0H668.5zM677.8 521.5H682.4V526.0H677.8z"/>
<path fill="#d0ff2f" d="M677.8 449.1H682.4V453.7H677.8zM682.4 467.2H687.0V471.7H682.4zM613.1 471.7H617.7V476.3H613.1zM585.3 476.3H590.0V480.8H585.3zM687.0 476.3H691.6V480.8H687.0zM608.4 480.8H613.1V485.3H608.4zM640.8 485.3H645.4V489.8H640.8zM594.6 489.8H599.2V494.3H594.6zM691.6 489.8H696.2V494.3H691.6zM654.7 498.9H659.3V503.4H654.7zM640.8 503.4H645.4V507.9H640.8zM640.8 512.4H645.4V516.9H640.8zM668.5 512.4H673.1V516.9H668.5zM613.1 521.5H622.3V526.0H613.1zM663.9 521.5H668.5V526.0H663.9z"/>
<path fill="#dbff24" d="M636.2 453.7H640.8V458.2H636.2zM673.1 453.7H677.8V458.2H673.1zM594.6 458.2H599.2V462.7H594.6zM617.7 462.7H622.3V467.2H617.7zM673.1 462.7H677.8V467.2H673.1zM663.9 467.2H668.5V471.7H663.9zM677.8 467.2H682.4V471.7H677.8zM622.3 471.7H631.6V476.3H622.3zM650.0 471.7H654.7V476.3H650.0zM682.4 476.3H687.0V480.8H682.4zM677.8 480.8H682.4V485.3H677.8zM608.4 485.3H613.1V489.8H608.4zM622.3 485.3H626.9V489.8H622.3zM608.4 489.8H613.1V494.3H608.4zM673.1 494.3H677.8V498.9H673.1zM691.6 494.3H696.2V498.9H691.6zM645.4 498.9H650.0V503.4H645.4zM659.3 498.9H663.9V503.4H659.3zM650.0 512.4H654.7V516.9H650.0zM645.4 521.5H650.0V526.0H645.4z"/>
<path fill="#e5ff1a" d="M603.8 440.1H608.4V444.6H603.8zM650.0 449.1H654.7V453.7H650.0zM608.4 453.7H613.1V458.2H608.4zM613.1 458.2H617.7V462.7H613.1zM673.1 458.2H677.8V462.7H673.1zM594.6 462.7H599.2V467.2H594.6zM617.7 467.2H622.3V471.7H617.7zM668.5 476.3H673.1V480.8H668.5zM640.8 480.8H645.4V485.3H640.8zM617.7 485.3H622.3V489.8H617.7zM617.7 489.8H622.3V494.3H617.7zM617.7 494.3H622.3V498.9H617.7zM654.7 516.9H659.3V521.5H654.7zM687.0 516.9H691.6V521.5H687.0z"/>
<path fill="#f0ff0f" d="M590.0 449.1H594.6V453.7H590.0zM636.2 458.2H640.8V462.7H636.2zM645.4 458.2H650.0V462.7H645.4zM613.1 467.2H617.7V471.7H613.1zM631.6 476.3H636.2V480.8H631.6zM645.4 476.3H650.0V480.8H645.4zM640.8 489.8H645.4V494.3H640.8zM622.3 498.9H626.9V503.4H622.3zM636.2 498.9H640.8V503.4H636.2z"/>
<path fill="#fbff04" d="M668.5 444.6H673.1V449.1H668.5zM631.6 462.7H636.2V467.2H631.6zM654.7 462.7H659.3V467.2H654.7zM682.4 462.7H687.0V467.2H682.4zM668.5 467.2H673.1V471.7H668.5zM673.1 480.8H677.8V485.3H673.1zM663.9 485.3H668.5V489.8H663.9zM645.4 503.4H650.0V507.9H645.4zM659.3 503.4H663.9V507.9H659.3zM659.3 507.9H663.9V512.4H659.3z"/>
<path fill="#fff800" d="M650.0 458.2H654.7V462.7H650.0zM659.3 458.2H663.9V462.7H659.3zM622.3 462.7H626.9V467.2H622.3zM645.4 471.7H650.0V476.3H645.4zM599.2 480.8H603.8V485.3H599.2zM636.2 489.8H640.8V494.3H636.2zM668.5 489.8H673.1V494.3H668.5zM608.4 494.3H613.1V498.9H608.4zM654.7 494.3H659.3V498.9H654.7zM617.7 498.9H622.3V503.4H617.7zM613.1 503.4H617.7V507.9H613.1zM663.9 503.4H668.5V507.9H663.9zM622.3 507.9H626.9V512.4H622.3zM650.0 507.9H654.7V512.4H650.0zM640.8 516.9H645.4V521.5H640.8zM608.4 521.5H613.1V526.0H608.4z"/>
<path fill="#ffee00" d="M636.2 467.2H640.8V471.7H636.2zM659.3 476.3H663.9V480.8H659.3zM590.0 480.8H594.6V485.3H590.0zM677.8 503.4H682.4V507.9H677.8zM613.1 512.4H617.7V516.9H613.1zM622.3 512.4H626.9V516.9H622.3zM622.3 516.9H626.9V521.5H622.3z"/>
<path fill="#ffe300" d="M640.8 453.7H645.4V458.2H640.8zM636.2 462.7H640.8V467.2H636.2zM650.0 467.2H654.7V471.7H650.0zM663.9 471.7H673.1V476.3H663.9zM659.3 480.8H663.9V485.3H659.3zM682.4 480.8H687.0V485.3H682.4zM613.1 485.3H617.7V489.8H613.1zM650.0 485.3H654.7V489.8H650.0zM668.5 485.3H673.1V489.8H668.5zM631.6 489.8H636.2V494.3H631.6zM696.2 489.8H700.9V494.3H696.2zM626.9 494.3H636.2V498.9H626.9zM631.6 503.4H636.2V507.9H631.6zM617.7 512.4H622.3V516.9H617.7z"/>
<path fill="#ffd800" d="M599.2 458.2H603.8V462.7H599.2zM687.0 462.7H691.6V467.2H687.0zM599.2 467.2H603.8V471.7H599.2zM636.2 471.7H640.8V476.3H636.2zM603.8 476.3H608.4V480.8H603.8zM626.9 485.3H631.6V489.8H626.9zM682.4 489.8H687.0V494.3H682.4zM626.9 498.9H631.6V503.4H626.9z"/>
<path fill="#ffcd00" d="M613.1 476.3H617.7V480.8H613.1zM636.2 480.8H640.8V485.3H636.2zM650.0 480.8H654.7V485.3H650.0zM626.9 489.8H631.6V494.3H626.9zM663.9 489.8H668.5V494.3H663.9zM687.0 489.8H691.6V494.3H687.0zM650.0 494.3H654.7V498.9H650.0z"/>
<path fill="#ffc300" d="M668.5 462.7H673.1V467.2H668.5zM654.7 471.7H659.3V476.3H654.7zM673.1 471.7H677.8V476.3H673.1zM654.7 485.3H659.3V489.8H654.7zM668.5 503.4H673.1V507.9H668.5zM640.8 507.9H645.4V512.4H640.8z"/>
<path fill="#ffb800" d="M626.9 462.7H631.6V467.2H626.9zM673.1 467.2H677.8V471.7H673.1zM636.2 485.3H640.8V489.8H636.2z"/>
<path fill="#ffad00" d="M677.8 471.7H682.4V476.3H677.8z"/>
<path fill="#ffa200" d="M668.5 458.2H673.1V462.7H668.5zM677.8 462.7H682.4V467.2H677.8zM700.9 485.3H705.5V489.8H700.9zM682.4 503.4H687.0V507.9H682.4z"/>
<path fill="#ff9800" d="M603.8 467.2H608.4V471.7H603.8zM659.3 467.2H663.9V471.7H659.3zM636.2 512.4H640.8V516.9H636.2z"/>
<path fill="#ff8d00" d="M663.9 462.7H668.5V467.2H663.9zM654.7 480.8H659.3V485.3H654.7z"/>
<path fill="#ff7700" d="M640.8 494.3H645.4V498.9H640.8z"/>
<path fill="#ff6d00" d="M631.6 480.8H636.2V485.3H631.6z"/>
<path fill="#ff6200" d="M677.8 485.3H682.4V489.8H677.8z"/>
<path fill="#ff5700" d="M668.5 494.3H673.1V498.9H668.5z"/></g><rect x="553.00" y="523.53" width="186.26" height="6.97" fill="#fff"/>
<rect x="739.26" y="515.81" width="81.74" height="14.69" fill="#fff"/>
<rect x="37.0" y="22.0" width="54.1" height="42.4" fill="#fff"/>
<text x="41" y="46.7" font-size="18" fill="#000">(a)Z<tspan font-size="14.5" dy="9.3">H</tspan></text>
<rect x="553.0" y="15.5" width="68.4" height="44.6" fill="#fff"/>
<text x="556.5" y="40.9" font-size="19.5" fill="#000">(b)Z<tspan font-size="16" dx="1" dy="9.8">DR</tspan></text>
<rect x="37.0" y="313.0" width="89.5" height="41.7" fill="#fff"/>
<text x="40.5" y="337.7" font-size="18.5" fill="#000">(c)dV<tspan font-size="14.5" dx="0.5" dy="9.3">R</tspan><tspan dy="-9.3">/ds</tspan></text>
<rect x="553.0" y="304.5" width="66.3" height="37.5" fill="#fff"/>
<text x="556.5" y="330.9" font-size="19.5" fill="#000">(d) <tspan font-style="italic" dx="-2">U</tspan><tspan font-size="16" dy="9.3" font-style="italic">ar</tspan></text>
<rect x="37.4" y="22.4" width="253.3" height="213.7" fill="none" stroke="#262626" stroke-width="1"/>
<text x="37.4" y="254.9" text-anchor="middle" font-size="16" fill="#262626">30</text>
<line x1="100.7" y1="236.1" x2="100.7" y2="233.1" stroke="#262626"/>
<line x1="100.7" y1="22.4" x2="100.7" y2="25.4" stroke="#262626"/>
<text x="100.7" y="254.9" text-anchor="middle" font-size="16" fill="#262626">32</text>
<line x1="164.0" y1="236.1" x2="164.0" y2="233.1" stroke="#262626"/>
<line x1="164.0" y1="22.4" x2="164.0" y2="25.4" stroke="#262626"/>
<text x="164.0" y="254.9" text-anchor="middle" font-size="16" fill="#262626">34</text>
<line x1="227.4" y1="236.1" x2="227.4" y2="233.1" stroke="#262626"/>
<line x1="227.4" y1="22.4" x2="227.4" y2="25.4" stroke="#262626"/>
<text x="227.4" y="254.9" text-anchor="middle" font-size="16" fill="#262626">36</text>
<text x="290.7" y="254.9" text-anchor="middle" font-size="16" fill="#262626">38</text>
<text x="34.9" y="242.6" text-anchor="end" font-size="16" fill="#262626">0</text>
<line x1="37.4" y1="200.5" x2="40.4" y2="200.5" stroke="#262626"/>
<line x1="290.7" y1="200.5" x2="287.7" y2="200.5" stroke="#262626"/>
<text x="34.9" y="207.0" text-anchor="end" font-size="16" fill="#262626">1</text>
<line x1="37.4" y1="164.9" x2="40.4" y2="164.9" stroke="#262626"/>
<line x1="290.7" y1="164.9" x2="287.7" y2="164.9" stroke="#262626"/>
<text x="34.9" y="171.4" text-anchor="end" font-size="16" fill="#262626">2</text>
<line x1="37.4" y1="129.2" x2="40.4" y2="129.2" stroke="#262626"/>
<line x1="290.7" y1="129.2" x2="287.7" y2="129.2" stroke="#262626"/>
<text x="34.9" y="135.8" text-anchor="end" font-size="16" fill="#262626">3</text>
<line x1="37.4" y1="93.6" x2="40.4" y2="93.6" stroke="#262626"/>
<line x1="290.7" y1="93.6" x2="287.7" y2="93.6" stroke="#262626"/>
<text x="34.9" y="100.1" text-anchor="end" font-size="16" fill="#262626">4</text>
<line x1="37.4" y1="58.0" x2="40.4" y2="58.0" stroke="#262626"/>
<line x1="290.7" y1="58.0" x2="287.7" y2="58.0" stroke="#262626"/>
<text x="34.9" y="64.5" text-anchor="end" font-size="16" fill="#262626">5</text>
<text x="34.9" y="28.9" text-anchor="end" font-size="16" fill="#262626">6</text>
<text x="164.0" y="274.1" text-anchor="middle" font-size="16" fill="#262626">Distance (km)</text>
<text transform="translate(20.9 129.2) rotate(-90)" text-anchor="middle" font-size="16" fill="#262626">Height (km)</text>
<rect x="553.0" y="15.5" width="268.0" height="225.0" fill="none" stroke="#262626" stroke-width="1"/>
<text x="553.0" y="260.0" text-anchor="middle" font-size="16.5" fill="#262626">30</text>
<line x1="620.0" y1="240.5" x2="620.0" y2="237.5" stroke="#262626"/>
<line x1="620.0" y1="15.5" x2="620.0" y2="18.5" stroke="#262626"/>
<text x="620.0" y="260.0" text-anchor="middle" font-size="16.5" fill="#262626">32</text>
<line x1="687.0" y1="240.5" x2="687.0" y2="237.5" stroke="#262626"/>
<line x1="687.0" y1="15.5" x2="687.0" y2="18.5" stroke="#262626"/>
<text x="687.0" y="260.0" text-anchor="middle" font-size="16.5" fill="#262626">34</text>
<line x1="754.0" y1="240.5" x2="754.0" y2="237.5" stroke="#262626"/>
<line x1="754.0" y1="15.5" x2="754.0" y2="18.5" stroke="#262626"/>
<text x="754.0" y="260.0" text-anchor="middle" font-size="16.5" fill="#262626">36</text>
<text x="821.0" y="260.0" text-anchor="middle" font-size="16.5" fill="#262626">38</text>
<text x="550.5" y="247.3" text-anchor="end" font-size="16.5" fill="#262626">0</text>
<line x1="553.0" y1="203.0" x2="556.0" y2="203.0" stroke="#262626"/>
<line x1="821.0" y1="203.0" x2="818.0" y2="203.0" stroke="#262626"/>
<text x="550.5" y="209.8" text-anchor="end" font-size="16.5" fill="#262626">1</text>
<line x1="553.0" y1="165.5" x2="556.0" y2="165.5" stroke="#262626"/>
<line x1="821.0" y1="165.5" x2="818.0" y2="165.5" stroke="#262626"/>
<text x="550.5" y="172.3" text-anchor="end" font-size="16.5" fill="#262626">2</text>
<line x1="553.0" y1="128.0" x2="556.0" y2="128.0" stroke="#262626"/>
<line x1="821.0" y1="128.0" x2="818.0" y2="128.0" stroke="#262626"/>
<text x="550.5" y="134.8" text-anchor="end" font-size="16.5" fill="#262626">3</text>
<line x1="553.0" y1="90.5" x2="556.0" y2="90.5" stroke="#262626"/>
<line x1="821.0" y1="90.5" x2="818.0" y2="90.5" stroke="#262626"/>
<text x="550.5" y="97.3" text-anchor="end" font-size="16.5" fill="#262626">4</text>
<line x1="553.0" y1="53.0" x2="556.0" y2="53.0" stroke="#262626"/>
<line x1="821.0" y1="53.0" x2="818.0" y2="53.0" stroke="#262626"/>
<text x="550.5" y="59.8" text-anchor="end" font-size="16.5" fill="#262626">5</text>
<text x="550.5" y="22.3" text-anchor="end" font-size="16.5" fill="#262626">6</text>
<text x="687.0" y="280.3" text-anchor="middle" font-size="17" fill="#262626">Distance (km)</text>
<text transform="translate(533.0 128.0) rotate(-90)" text-anchor="middle" font-size="17" fill="#262626">Height (km)</text>
<rect x="37.4" y="313.0" width="253.3" height="213.1" fill="none" stroke="#262626" stroke-width="1"/>
<text x="37.4" y="544.9" text-anchor="middle" font-size="16" fill="#262626">30</text>
<line x1="100.7" y1="526.1" x2="100.7" y2="523.1" stroke="#262626"/>
<line x1="100.7" y1="313.0" x2="100.7" y2="316.0" stroke="#262626"/>
<text x="100.7" y="544.9" text-anchor="middle" font-size="16" fill="#262626">32</text>
<line x1="164.0" y1="526.1" x2="164.0" y2="523.1" stroke="#262626"/>
<line x1="164.0" y1="313.0" x2="164.0" y2="316.0" stroke="#262626"/>
<text x="164.0" y="544.9" text-anchor="middle" font-size="16" fill="#262626">34</text>
<line x1="227.4" y1="526.1" x2="227.4" y2="523.1" stroke="#262626"/>
<line x1="227.4" y1="313.0" x2="227.4" y2="316.0" stroke="#262626"/>
<text x="227.4" y="544.9" text-anchor="middle" font-size="16" fill="#262626">36</text>
<text x="290.7" y="544.9" text-anchor="middle" font-size="16" fill="#262626">38</text>
<text x="34.9" y="532.6" text-anchor="end" font-size="16" fill="#262626">0</text>
<line x1="37.4" y1="490.6" x2="40.4" y2="490.6" stroke="#262626"/>
<line x1="290.7" y1="490.6" x2="287.7" y2="490.6" stroke="#262626"/>
<text x="34.9" y="497.1" text-anchor="end" font-size="16" fill="#262626">1</text>
<line x1="37.4" y1="455.1" x2="40.4" y2="455.1" stroke="#262626"/>
<line x1="290.7" y1="455.1" x2="287.7" y2="455.1" stroke="#262626"/>
<text x="34.9" y="461.6" text-anchor="end" font-size="16" fill="#262626">2</text>
<line x1="37.4" y1="419.6" x2="40.4" y2="419.6" stroke="#262626"/>
<line x1="290.7" y1="419.6" x2="287.7" y2="419.6" stroke="#262626"/>
<text x="34.9" y="426.1" text-anchor="end" font-size="16" fill="#262626">3</text>
<line x1="37.4" y1="384.0" x2="40.4" y2="384.0" stroke="#262626"/>
<line x1="290.7" y1="384.0" x2="287.7" y2="384.0" stroke="#262626"/>
<text x="34.9" y="390.5" text-anchor="end" font-size="16" fill="#262626">4</text>
<line x1="37.4" y1="348.5" x2="40.4" y2="348.5" stroke="#262626"/>
<line x1="290.7" y1="348.5" x2="287.7" y2="348.5" stroke="#262626"/>
<text x="34.9" y="355.0" text-anchor="end" font-size="16" fill="#262626">5</text>
<text x="34.9" y="319.5" text-anchor="end" font-size="16" fill="#262626">6</text>
<text x="164.0" y="564.1" text-anchor="middle" font-size="16" fill="#262626">Distance (km)</text>
<text transform="translate(20.9 419.6) rotate(-90)" text-anchor="middle" font-size="16" fill="#262626">Height (km)</text>
<rect x="553.0" y="304.5" width="268.0" height="226.0" fill="none" stroke="#262626" stroke-width="1"/>
<text x="553.0" y="550.0" text-anchor="middle" font-size="16.5" fill="#262626">30</text>
<line x1="620.0" y1="530.5" x2="620.0" y2="527.5" stroke="#262626"/>
<line x1="620.0" y1="304.5" x2="620.0" y2="307.5" stroke="#262626"/>
<text x="620.0" y="550.0" text-anchor="middle" font-size="16.5" fill="#262626">32</text>
<line x1="687.0" y1="530.5" x2="687.0" y2="527.5" stroke="#262626"/>
<line x1="687.0" y1="304.5" x2="687.0" y2="307.5" stroke="#262626"/>
<text x="687.0" y="550.0" text-anchor="middle" font-size="16.5" fill="#262626">34</text>
<line x1="754.0" y1="530.5" x2="754.0" y2="527.5" stroke="#262626"/>
<line x1="754.0" y1="304.5" x2="754.0" y2="307.5" stroke="#262626"/>
<text x="754.0" y="550.0" text-anchor="middle" font-size="16.5" fill="#262626">36</text>
<text x="821.0" y="550.0" text-anchor="middle" font-size="16.5" fill="#262626">38</text>
<text x="550.5" y="537.3" text-anchor="end" font-size="16.5" fill="#262626">0</text>
<line x1="553.0" y1="492.8" x2="556.0" y2="492.8" stroke="#262626"/>
<line x1="821.0" y1="492.8" x2="818.0" y2="492.8" stroke="#262626"/>
<text x="550.5" y="499.6" text-anchor="end" font-size="16.5" fill="#262626">1</text>
<line x1="553.0" y1="455.2" x2="556.0" y2="455.2" stroke="#262626"/>
<line x1="821.0" y1="455.2" x2="818.0" y2="455.2" stroke="#262626"/>
<text x="550.5" y="462.0" text-anchor="end" font-size="16.5" fill="#262626">2</text>
<line x1="553.0" y1="417.5" x2="556.0" y2="417.5" stroke="#262626"/>
<line x1="821.0" y1="417.5" x2="818.0" y2="417.5" stroke="#262626"/>
<text x="550.5" y="424.3" text-anchor="end" font-size="16.5" fill="#262626">3</text>
<line x1="553.0" y1="379.8" x2="556.0" y2="379.8" stroke="#262626"/>
<line x1="821.0" y1="379.8" x2="818.0" y2="379.8" stroke="#262626"/>
<text x="550.5" y="386.6" text-anchor="end" font-size="16.5" fill="#262626">4</text>
<line x1="553.0" y1="342.2" x2="556.0" y2="342.2" stroke="#262626"/>
<line x1="821.0" y1="342.2" x2="818.0" y2="342.2" stroke="#262626"/>
<text x="550.5" y="349.0" text-anchor="end" font-size="16.5" fill="#262626">5</text>
<text x="550.5" y="311.3" text-anchor="end" font-size="16.5" fill="#262626">6</text>
<text x="687.0" y="570.3" text-anchor="middle" font-size="17" fill="#262626">Distance (km)</text>
<text transform="translate(533.0 417.5) rotate(-90)" text-anchor="middle" font-size="17" fill="#262626">Height (km)</text>
<line x1="37.4" y1="112.2" x2="290.7" y2="112.2" stroke="#000" stroke-width="2.2" stroke-dasharray="7 7.3" stroke-dashoffset="0.6"/>
<line x1="37.4" y1="402.6" x2="290.7" y2="402.6" stroke="#000" stroke-width="2.2" stroke-dasharray="7 7.3" stroke-dashoffset="0.6"/>
<line x1="553.0" y1="110.0" x2="821.0" y2="110.0" stroke="#fff" stroke-width="2.2" stroke-dasharray="7.7 7.38" stroke-dashoffset="0"/>
<line x1="553.0" y1="399.5" x2="821.0" y2="399.5" stroke="#fff" stroke-width="2.2" stroke-dasharray="7.7 7.38" stroke-dashoffset="0"/>
<text x="43.8" y="100.2" font-family="Liberation Serif, serif" font-weight="bold" font-size="19.6" fill="#000">0</text><text x="56.0" y="95.2" font-family="Liberation Serif, serif" font-size="11.0" fill="#000">&#176;</text><text x="59.4" y="100.2" font-family="Liberation Serif, serif" font-size="18.0" fill="#000">C</text>
<text x="43.8" y="390.6" font-family="Liberation Serif, serif" font-weight="bold" font-size="19.6" fill="#000">0</text><text x="56.0" y="385.6" font-family="Liberation Serif, serif" font-size="11.0" fill="#000">&#176;</text><text x="59.4" y="390.6" font-family="Liberation Serif, serif" font-size="18.0" fill="#000">C</text>
<text x="559.7" y="98.3" font-family="Liberation Serif, serif" font-weight="bold" font-size="21.6" fill="#fff">0</text><text x="572.4" y="92.8" font-family="Liberation Serif, serif" font-size="12.1" fill="#fff">&#176;</text><text x="576.0" y="98.3" font-family="Liberation Serif, serif" font-size="19.8" fill="#fff">C</text>
<text x="559.7" y="387.6" font-family="Liberation Serif, serif" font-weight="bold" font-size="21.6" fill="#fff">0</text><text x="572.4" y="382.1" font-family="Liberation Serif, serif" font-size="12.1" fill="#fff">&#176;</text><text x="576.0" y="387.6" font-family="Liberation Serif, serif" font-size="19.8" fill="#fff">C</text>
<defs><linearGradient id="cb1" x1="0" y1="1" x2="0" y2="0"><stop offset="0.0000" stop-color="#000080"/><stop offset="0.0208" stop-color="#000095"/><stop offset="0.0417" stop-color="#0000aa"/><stop offset="0.0625" stop-color="#0000bf"/><stop offset="0.0833" stop-color="#0000d4"/><stop offset="0.1042" stop-color="#0000ea"/><stop offset="0.1250" stop-color="#0000ff"/><stop offset="0.1458" stop-color="#0015ff"/><stop offset="0.1667" stop-color="#002aff"/><stop offset="0.1875" stop-color="#0040ff"/><stop offset="0.2083" stop-color="#0055ff"/><stop offset="0.2292" stop-color="#006aff"/><stop offset="0.2500" stop-color="#0080ff"/><stop offset="0.2708" stop-color="#0095ff"/><stop offset="0.2917" stop-color="#00aaff"/><stop offset="0.3125" stop-color="#00bfff"/><stop offset="0.3333" stop-color="#00d4ff"/><stop offset="0.3542" stop-color="#00eaff"/><stop offset="0.3750" stop-color="#00ffff"/><stop offset="0.3958" stop-color="#15ffea"/><stop offset="0.4167" stop-color="#2bffd4"/><stop offset="0.4375" stop-color="#40ffbf"/><stop offset="0.4583" stop-color="#55ffaa"/><stop offset="0.4792" stop-color="#6aff95"/><stop offset="0.5000" stop-color="#80ff80"/><stop offset="0.5208" stop-color="#95ff6a"/><stop offset="0.5417" stop-color="#aaff55"/><stop offset="0.5625" stop-color="#bfff40"/><stop offset="0.5833" stop-color="#d5ff2a"/><stop offset="0.6042" stop-color="#eaff15"/><stop offset="0.6250" stop-color="#ffff00"/><stop offset="0.6458" stop-color="#ffea00"/><stop offset="0.6667" stop-color="#ffd500"/><stop offset="0.6875" stop-color="#ffbf00"/><stop offset="0.7083" stop-color="#ffaa00"/><stop offset="0.7292" stop-color="#ff9500"/><stop offset="0.7500" stop-color="#ff8000"/><stop offset="0.7708" stop-color="#ff6a00"/><stop offset="0.7917" stop-color="#ff5500"/><stop offset="0.8125" stop-color="#ff4000"/><stop offset="0.8333" stop-color="#ff2a00"/><stop offset="0.8542" stop-color="#ff1500"/><stop offset="0.8750" stop-color="#ff0000"/><stop offset="0.8958" stop-color="#ea0000"/><stop offset="0.9167" stop-color="#d50000"/><stop offset="0.9375" stop-color="#bf0000"/><stop offset="0.9583" stop-color="#aa0000"/><stop offset="0.9792" stop-color="#950000"/><stop offset="1.0000" stop-color="#800000"/></linearGradient></defs>
<rect x="294.4" y="22.4" width="20.1" height="213.7" fill="url(#cb1)" stroke="#262626" stroke-width="1"/>
<line x1="314.5" y1="220.8" x2="312.0" y2="220.8" stroke="#262626"/>
<text x="320.5" y="225.9" font-size="14" fill="#262626">0</text>
<line x1="314.5" y1="190.3" x2="312.0" y2="190.3" stroke="#262626"/>
<text x="320.5" y="195.3" font-size="14" fill="#262626">10</text>
<line x1="314.5" y1="159.8" x2="312.0" y2="159.8" stroke="#262626"/>
<text x="320.5" y="164.8" font-size="14" fill="#262626">20</text>
<line x1="314.5" y1="129.2" x2="312.0" y2="129.2" stroke="#262626"/>
<text x="320.5" y="134.3" font-size="14" fill="#262626">30</text>
<line x1="314.5" y1="98.7" x2="312.0" y2="98.7" stroke="#262626"/>
<text x="320.5" y="103.8" font-size="14" fill="#262626">40</text>
<line x1="314.5" y1="68.2" x2="312.0" y2="68.2" stroke="#262626"/>
<text x="320.5" y="73.2" font-size="14" fill="#262626">50</text>
<line x1="314.5" y1="37.7" x2="312.0" y2="37.7" stroke="#262626"/>
<text x="320.5" y="42.7" font-size="14" fill="#262626">60</text>
<defs><linearGradient id="cb2" x1="0" y1="1" x2="0" y2="0"><stop offset="0.0000" stop-color="#000080"/><stop offset="0.0208" stop-color="#000095"/><stop offset="0.0417" stop-color="#0000aa"/><stop offset="0.0625" stop-color="#0000bf"/><stop offset="0.0833" stop-color="#0000d4"/><stop offset="0.1042" stop-color="#0000ea"/><stop offset="0.1250" stop-color="#0000ff"/><stop offset="0.1458" stop-color="#0015ff"/><stop offset="0.1667" stop-color="#002aff"/><stop offset="0.1875" stop-color="#0040ff"/><stop offset="0.2083" stop-color="#0055ff"/><stop offset="0.2292" stop-color="#006aff"/><stop offset="0.2500" stop-color="#0080ff"/><stop offset="0.2708" stop-color="#0095ff"/><stop offset="0.2917" stop-color="#00aaff"/><stop offset="0.3125" stop-color="#00bfff"/><stop offset="0.3333" stop-color="#00d4ff"/><stop offset="0.3542" stop-color="#00eaff"/><stop offset="0.3750" stop-color="#00ffff"/><stop offset="0.3958" stop-color="#15ffea"/><stop offset="0.4167" stop-color="#2bffd4"/><stop offset="0.4375" stop-color="#40ffbf"/><stop offset="0.4583" stop-color="#55ffaa"/><stop offset="0.4792" stop-color="#6aff95"/><stop offset="0.5000" stop-color="#80ff80"/><stop offset="0.5208" stop-color="#95ff6a"/><stop offset="0.5417" stop-color="#aaff55"/><stop offset="0.5625" stop-color="#bfff40"/><stop offset="0.5833" stop-color="#d5ff2a"/><stop offset="0.6042" stop-color="#eaff15"/><stop offset="0.6250" stop-color="#ffff00"/><stop offset="0.6458" stop-color="#ffea00"/><stop offset="0.6667" stop-color="#ffd500"/><stop offset="0.6875" stop-color="#ffbf00"/><stop offset="0.7083" stop-color="#ffaa00"/><stop offset="0.7292" stop-color="#ff9500"/><stop offset="0.7500" stop-color="#ff8000"/><stop offset="0.7708" stop-color="#ff6a00"/><stop offset="0.7917" stop-color="#ff5500"/><stop offset="0.8125" stop-color="#ff4000"/><stop offset="0.8333" stop-color="#ff2a00"/><stop offset="0.8542" stop-color="#ff1500"/><stop offset="0.8750" stop-color="#ff0000"/><stop offset="0.8958" stop-color="#ea0000"/><stop offset="0.9167" stop-color="#d50000"/><stop offset="0.9375" stop-color="#bf0000"/><stop offset="0.9583" stop-color="#aa0000"/><stop offset="0.9792" stop-color="#950000"/><stop offset="1.0000" stop-color="#800000"/></linearGradient></defs>
<rect x="824.7" y="15.5" width="20.6" height="225.0" fill="url(#cb2)" stroke="#262626" stroke-width="1"/>
<line x1="845.3" y1="240.5" x2="842.8" y2="240.5" stroke="#262626"/>
<text x="851.3" y="245.8" font-size="14.7" fill="#262626">-1</text>
<line x1="845.3" y1="195.5" x2="842.8" y2="195.5" stroke="#262626"/>
<text x="851.3" y="200.8" font-size="14.7" fill="#262626">0</text>
<line x1="845.3" y1="150.5" x2="842.8" y2="150.5" stroke="#262626"/>
<text x="851.3" y="155.8" font-size="14.7" fill="#262626">1</text>
<line x1="845.3" y1="105.5" x2="842.8" y2="105.5" stroke="#262626"/>
<text x="851.3" y="110.8" font-size="14.7" fill="#262626">2</text>
<line x1="845.3" y1="60.5" x2="842.8" y2="60.5" stroke="#262626"/>
<text x="851.3" y="65.8" font-size="14.7" fill="#262626">3</text>
<line x1="845.3" y1="15.5" x2="842.8" y2="15.5" stroke="#262626"/>
<text x="851.3" y="20.8" font-size="14.7" fill="#262626">4</text>
<defs><linearGradient id="cb3" x1="0" y1="1" x2="0" y2="0"><stop offset="0.0000" stop-color="#781ed7"/><stop offset="0.0208" stop-color="#631add"/><stop offset="0.0417" stop-color="#4e16e4"/><stop offset="0.0625" stop-color="#3c16e7"/><stop offset="0.0833" stop-color="#2b1be9"/><stop offset="0.1042" stop-color="#1f21eb"/><stop offset="0.1250" stop-color="#212eed"/><stop offset="0.1458" stop-color="#243bee"/><stop offset="0.1667" stop-color="#2648ef"/><stop offset="0.1875" stop-color="#2855f0"/><stop offset="0.2083" stop-color="#2662f0"/><stop offset="0.2292" stop-color="#256ff0"/><stop offset="0.2500" stop-color="#247cf0"/><stop offset="0.2708" stop-color="#2387f0"/><stop offset="0.2917" stop-color="#2392f0"/><stop offset="0.3125" stop-color="#239cf0"/><stop offset="0.3333" stop-color="#26a6f0"/><stop offset="0.3542" stop-color="#36acf2"/><stop offset="0.3750" stop-color="#46b2f3"/><stop offset="0.3958" stop-color="#57b8f5"/><stop offset="0.4167" stop-color="#71c2f3"/><stop offset="0.4375" stop-color="#8ecdf1"/><stop offset="0.4583" stop-color="#add9ea"/><stop offset="0.4792" stop-color="#cee4d2"/><stop offset="0.5000" stop-color="#deeab6"/><stop offset="0.5208" stop-color="#eaeca6"/><stop offset="0.5417" stop-color="#f1e77f"/><stop offset="0.5625" stop-color="#f5e057"/><stop offset="0.5833" stop-color="#f8d53d"/><stop offset="0.6042" stop-color="#facb26"/><stop offset="0.6250" stop-color="#fac01e"/><stop offset="0.6458" stop-color="#fab616"/><stop offset="0.6667" stop-color="#f9a811"/><stop offset="0.6875" stop-color="#f89a0e"/><stop offset="0.7083" stop-color="#f7890c"/><stop offset="0.7292" stop-color="#f5760b"/><stop offset="0.7500" stop-color="#f3630a"/><stop offset="0.7708" stop-color="#f1510a"/><stop offset="0.7917" stop-color="#ee400a"/><stop offset="0.8125" stop-color="#eb2f0a"/><stop offset="0.8333" stop-color="#e91e0a"/><stop offset="0.8542" stop-color="#e4170d"/><stop offset="0.8750" stop-color="#df1511"/><stop offset="0.8958" stop-color="#da1214"/><stop offset="0.9167" stop-color="#d50f18"/><stop offset="0.9375" stop-color="#db3440"/><stop offset="0.9583" stop-color="#e3606f"/><stop offset="0.9792" stop-color="#ec8a97"/><stop offset="1.0000" stop-color="#f5b4be"/></linearGradient></defs>
<rect x="294.4" y="313.0" width="8.3" height="213.1" fill="url(#cb3)" stroke="#262626" stroke-width="1"/>
<line x1="302.7" y1="526.1" x2="300.2" y2="526.1" stroke="#262626"/>
<text x="308.7" y="531.1" font-size="14" fill="#262626">-20</text>
<line x1="302.7" y1="472.8" x2="300.2" y2="472.8" stroke="#262626"/>
<text x="308.7" y="477.9" font-size="14" fill="#262626">-10</text>
<line x1="302.7" y1="419.6" x2="300.2" y2="419.6" stroke="#262626"/>
<text x="308.7" y="424.6" font-size="14" fill="#262626">0</text>
<line x1="302.7" y1="366.3" x2="300.2" y2="366.3" stroke="#262626"/>
<text x="308.7" y="371.3" font-size="14" fill="#262626">10</text>
<line x1="302.7" y1="313.0" x2="300.2" y2="313.0" stroke="#262626"/>
<text x="308.7" y="318.0" font-size="14" fill="#262626">20</text>
<defs><linearGradient id="cb4" x1="0" y1="1" x2="0" y2="0"><stop offset="0.0000" stop-color="#000080"/><stop offset="0.0208" stop-color="#000095"/><stop offset="0.0417" stop-color="#0000aa"/><stop offset="0.0625" stop-color="#0000bf"/><stop offset="0.0833" stop-color="#0000d4"/><stop offset="0.1042" stop-color="#0000ea"/><stop offset="0.1250" stop-color="#0000ff"/><stop offset="0.1458" stop-color="#0015ff"/><stop offset="0.1667" stop-color="#002aff"/><stop offset="0.1875" stop-color="#0040ff"/><stop offset="0.2083" stop-color="#0055ff"/><stop offset="0.2292" stop-color="#006aff"/><stop offset="0.2500" stop-color="#0080ff"/><stop offset="0.2708" stop-color="#0095ff"/><stop offset="0.2917" stop-color="#00aaff"/><stop offset="0.3125" stop-color="#00bfff"/><stop offset="0.3333" stop-color="#00d4ff"/><stop offset="0.3542" stop-color="#00eaff"/><stop offset="0.3750" stop-color="#00ffff"/><stop offset="0.3958" stop-color="#15ffea"/><stop offset="0.4167" stop-color="#2bffd4"/><stop offset="0.4375" stop-color="#40ffbf"/><stop offset="0.4583" stop-color="#55ffaa"/><stop offset="0.4792" stop-color="#6aff95"/><stop offset="0.5000" stop-color="#80ff80"/><stop offset="0.5208" stop-color="#95ff6a"/><stop offset="0.5417" stop-color="#aaff55"/><stop offset="0.5625" stop-color="#bfff40"/><stop offset="0.5833" stop-color="#d5ff2a"/><stop offset="0.6042" stop-color="#eaff15"/><stop offset="0.6250" stop-color="#ffff00"/><stop offset="0.6458" stop-color="#ffea00"/><stop offset="0.6667" stop-color="#ffd500"/><stop offset="0.6875" stop-color="#ffbf00"/><stop offset="0.7083" stop-color="#ffaa00"/><stop offset="0.7292" stop-color="#ff9500"/><stop offset="0.7500" stop-color="#ff8000"/><stop offset="0.7708" stop-color="#ff6a00"/><stop offset="0.7917" stop-color="#ff5500"/><stop offset="0.8125" stop-color="#ff4000"/><stop offset="0.8333" stop-color="#ff2a00"/><stop offset="0.8542" stop-color="#ff1500"/><stop offset="0.8750" stop-color="#ff0000"/><stop offset="0.8958" stop-color="#ea0000"/><stop offset="0.9167" stop-color="#d50000"/><stop offset="0.9375" stop-color="#bf0000"/><stop offset="0.9583" stop-color="#aa0000"/><stop offset="0.9792" stop-color="#950000"/><stop offset="1.0000" stop-color="#800000"/></linearGradient></defs>
<rect x="825.2" y="304.5" width="16.8" height="226.0" fill="url(#cb4)" stroke="#262626" stroke-width="1"/>
<line x1="842.0" y1="530.5" x2="839.5" y2="530.5" stroke="#262626"/>
<text x="848.0" y="535.8" font-size="14.7" fill="#262626">0</text>
<line x1="842.0" y1="507.9" x2="839.5" y2="507.9" stroke="#262626"/>
<text x="848.0" y="513.2" font-size="14.7" fill="#262626">0.1</text>
<line x1="842.0" y1="485.3" x2="839.5" y2="485.3" stroke="#262626"/>
<text x="848.0" y="490.6" font-size="14.7" fill="#262626">0.2</text>
<line x1="842.0" y1="462.7" x2="839.5" y2="462.7" stroke="#262626"/>
<text x="848.0" y="468.0" font-size="14.7" fill="#262626">0.3</text>
<line x1="842.0" y1="440.1" x2="839.5" y2="440.1" stroke="#262626"/>
<text x="848.0" y="445.4" font-size="14.7" fill="#262626">0.4</text>
<line x1="842.0" y1="417.5" x2="839.5" y2="417.5" stroke="#262626"/>
<text x="848.0" y="422.8" font-size="14.7" fill="#262626">0.5</text>
<line x1="842.0" y1="394.9" x2="839.5" y2="394.9" stroke="#262626"/>
<text x="848.0" y="400.2" font-size="14.7" fill="#262626">0.6</text>
<line x1="842.0" y1="372.3" x2="839.5" y2="372.3" stroke="#262626"/>
<text x="848.0" y="377.6" font-size="14.7" fill="#262626">0.7</text>
<line x1="842.0" y1="349.7" x2="839.5" y2="349.7" stroke="#262626"/>
<text x="848.0" y="355.0" font-size="14.7" fill="#262626">0.8</text>
<line x1="842.0" y1="327.1" x2="839.5" y2="327.1" stroke="#262626"/>
<text x="848.0" y="332.4" font-size="14.7" fill="#262626">0.9</text>
<line x1="842.0" y1="304.5" x2="839.5" y2="304.5" stroke="#262626"/>
<text x="848.0" y="309.8" font-size="14.7" fill="#262626">1</text>
<text transform="translate(358 129) rotate(-90)" text-anchor="middle" font-size="16" fill="#262626">Z<tspan font-size="12" dy="5">H</tspan><tspan dy="-5"> (dBZ)</tspan></text>
<text transform="translate(887.5 128.5) rotate(-90)" text-anchor="middle" font-size="16" fill="#262626">Z<tspan font-size="13" dy="6">DR</tspan><tspan dy="-6"> (dB)</tspan></text>
<text transform="translate(355.5 419) rotate(-90)" text-anchor="middle" font-size="15" fill="#262626">dV<tspan font-size="12" dy="5">R</tspan><tspan dy="-5">/ds (10</tspan><tspan font-size="12" dy="-6">-3</tspan><tspan dy="6"> s</tspan><tspan font-size="12" dy="-6">-1</tspan><tspan dy="6">)</tspan></text>
<text transform="translate(891 418.5) rotate(-90)" text-anchor="middle" font-size="16" fill="#262626">U<tspan font-size="12.5" dy="6.5">ar</tspan></text>
</svg>
</body></html>
